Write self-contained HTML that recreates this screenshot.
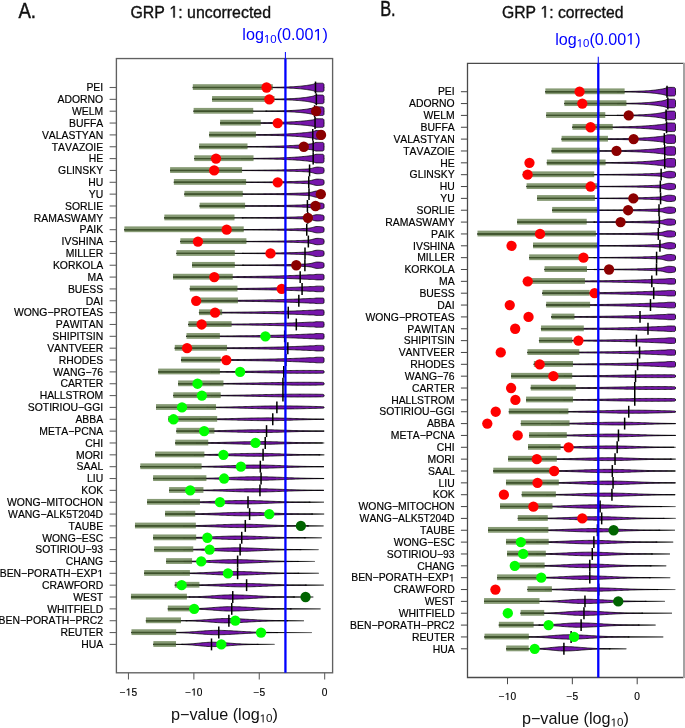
<!DOCTYPE html>
<html><head><meta charset="utf-8"><style>
html,body{margin:0;padding:0;background:#fff;}
svg{display:block;will-change:transform;}
text{font-family:"Liberation Sans",sans-serif;font-kerning:none;}
.yl{font-size:10.4px;text-anchor:end;fill:#000;stroke:#000;stroke-width:0.18px;}
.xl{font-size:10.2px;text-anchor:middle;fill:#000;stroke:#000;stroke-width:0.15px;}
</style></head><body>
<svg width="685" height="728" viewBox="0 0 685 728">
<defs><linearGradient id="tg" x1="0" y1="0" x2="1" y2="0"><stop offset="0" stop-color="#111"/><stop offset="0.5" stop-color="#3a3a3a"/><stop offset="1" stop-color="#7a7a7a"/></linearGradient></defs>
<rect width="685" height="728" fill="#fff"/>
<text x="18.40" y="17.90" fill="#111" textLength="17.60" lengthAdjust="spacingAndGlyphs" stroke="#111" stroke-width="0.45"><tspan font-size="21.5">A.</tspan></text>
<text x="130.50" y="17.50" fill="#111" textLength="140.50" lengthAdjust="spacingAndGlyphs" stroke="#111" stroke-width="0.35"><tspan font-size="16.6">GRP  : uncorrected</tspan></text><path d="M515,0L515,1237L197,1010L197,1180L530,1409L696,1409L696,0Z" transform="translate(169.37,17.50) scale(0.00776,-0.00811)" fill="#111" stroke="#111" stroke-width="0.35" vector-effect="non-scaling-stroke"/>
<text x="380.20" y="15.80" fill="#111" textLength="15.50" lengthAdjust="spacingAndGlyphs" stroke="#111" stroke-width="0.45"><tspan font-size="21.5">B.</tspan></text>
<text x="502.00" y="17.50" fill="#111" textLength="121.50" lengthAdjust="spacingAndGlyphs" stroke="#111" stroke-width="0.35"><tspan font-size="16.6">GRP  : corrected</tspan></text><path d="M515,0L515,1237L197,1010L197,1180L530,1409L696,1409L696,0Z" transform="translate(540.45,17.50) scale(0.00768,-0.00811)" fill="#111" stroke="#111" stroke-width="0.35" vector-effect="non-scaling-stroke"/>
<text x="242.30" y="40.30" fill="#0000ff" textLength="85.60" lengthAdjust="spacingAndGlyphs" ><tspan font-size="16.4">log</tspan><tspan font-size="11.6" dy="2.60"> 0</tspan><tspan font-size="16.4" dy="-2.60">(0.00 )</tspan></text><path d="M515,0L515,1237L197,1010L197,1180L530,1409L696,1409L696,0Z" transform="translate(263.90,42.90) scale(0.00559,-0.00566)" fill="#0000ff"  vector-effect="non-scaling-stroke"/><path d="M515,0L515,1237L197,1010L197,1180L530,1409L696,1409L696,0Z" transform="translate(313.51,40.30) scale(0.00790,-0.00801)" fill="#0000ff"  vector-effect="non-scaling-stroke"/>
<text x="555.20" y="44.60" fill="#0000ff" textLength="85.40" lengthAdjust="spacingAndGlyphs" ><tspan font-size="16.4">log</tspan><tspan font-size="11.6" dy="2.60"> 0</tspan><tspan font-size="16.4" dy="-2.60">(0.00 )</tspan></text><path d="M515,0L515,1237L197,1010L197,1180L530,1409L696,1409L696,0Z" transform="translate(576.74,47.20) scale(0.00558,-0.00566)" fill="#0000ff"  vector-effect="non-scaling-stroke"/><path d="M515,0L515,1237L197,1010L197,1180L530,1409L696,1409L696,0Z" transform="translate(626.24,44.60) scale(0.00788,-0.00801)" fill="#0000ff"  vector-effect="non-scaling-stroke"/>
<text x="171.00" y="720.20" fill="#111" ><tspan font-size="16.2">p−value (log</tspan><tspan font-size="11.6" dy="2.20"> 0</tspan><tspan font-size="16.2" dy="-2.20">)</tspan></text><path d="M515,0L515,1237L197,1010L197,1180L530,1409L696,1409L696,0Z" transform="translate(259.71,722.40) scale(0.00566,-0.00566)" fill="#111"  vector-effect="non-scaling-stroke"/>
<text x="521.90" y="724.20" fill="#111" ><tspan font-size="16.2">p−value (log</tspan><tspan font-size="11.6" dy="2.20"> 0</tspan><tspan font-size="16.2" dy="-2.20">)</tspan></text><path d="M515,0L515,1237L197,1010L197,1180L530,1409L696,1409L696,0Z" transform="translate(610.61,726.40) scale(0.00566,-0.00566)" fill="#111"  vector-effect="non-scaling-stroke"/>
<rect x="116.4" y="58.55" width="216.20" height="614.25" fill="none" stroke="#606060" stroke-width="1.35"/>
<line x1="109.6" y1="87.50" x2="116.4" y2="87.50" stroke="#606060" stroke-width="1.08"/>
<text x="86.44" y="91.25" fill="#000" stroke="#000" stroke-width="0.18"><tspan font-size="10.4">PEI</tspan></text>
<line x1="109.6" y1="99.35" x2="116.4" y2="99.35" stroke="#606060" stroke-width="1.08"/>
<text x="57.55" y="103.10" fill="#000" stroke="#000" stroke-width="0.18"><tspan font-size="10.4">ADORNO</tspan></text>
<line x1="109.6" y1="111.20" x2="116.4" y2="111.20" stroke="#606060" stroke-width="1.08"/>
<text x="72.00" y="114.95" fill="#000" stroke="#000" stroke-width="0.18"><tspan font-size="10.4">WELM</tspan></text>
<line x1="109.6" y1="123.05" x2="116.4" y2="123.05" stroke="#606060" stroke-width="1.08"/>
<text x="69.11" y="126.80" fill="#000" stroke="#000" stroke-width="0.18"><tspan font-size="10.4">BUFFA</tspan></text>
<line x1="109.6" y1="134.90" x2="116.4" y2="134.90" stroke="#606060" stroke-width="1.08"/>
<text x="41.93" y="138.65" fill="#000" stroke="#000" stroke-width="0.18"><tspan font-size="10.4">VALASTYAN</tspan></text>
<line x1="109.6" y1="146.75" x2="116.4" y2="146.75" stroke="#606060" stroke-width="1.08"/>
<text x="51.77" y="150.50" fill="#000" stroke="#000" stroke-width="0.18"><tspan font-size="10.4">TAVAZOIE</tspan></text>
<line x1="109.6" y1="158.59" x2="116.4" y2="158.59" stroke="#606060" stroke-width="1.08"/>
<text x="88.75" y="162.34" fill="#000" stroke="#000" stroke-width="0.18"><tspan font-size="10.4">HE</tspan></text>
<line x1="109.6" y1="170.44" x2="116.4" y2="170.44" stroke="#606060" stroke-width="1.08"/>
<text x="58.12" y="174.19" fill="#000" stroke="#000" stroke-width="0.18"><tspan font-size="10.4">GLINSKY</tspan></text>
<line x1="109.6" y1="182.29" x2="116.4" y2="182.29" stroke="#606060" stroke-width="1.08"/>
<text x="88.18" y="186.04" fill="#000" stroke="#000" stroke-width="0.18"><tspan font-size="10.4">HU</tspan></text>
<line x1="109.6" y1="194.14" x2="116.4" y2="194.14" stroke="#606060" stroke-width="1.08"/>
<text x="88.75" y="197.89" fill="#000" stroke="#000" stroke-width="0.18"><tspan font-size="10.4">YU</tspan></text>
<line x1="109.6" y1="205.99" x2="116.4" y2="205.99" stroke="#606060" stroke-width="1.08"/>
<text x="65.05" y="209.74" fill="#000" stroke="#000" stroke-width="0.18"><tspan font-size="10.4">SORLIE</tspan></text>
<line x1="109.6" y1="217.84" x2="116.4" y2="217.84" stroke="#606060" stroke-width="1.08"/>
<text x="33.86" y="221.59" fill="#000" stroke="#000" stroke-width="0.18"><tspan font-size="10.4">RAMASWAMY</tspan></text>
<line x1="109.6" y1="229.69" x2="116.4" y2="229.69" stroke="#606060" stroke-width="1.08"/>
<text x="79.50" y="233.44" fill="#000" stroke="#000" stroke-width="0.18"><tspan font-size="10.4">PAIK</tspan></text>
<line x1="109.6" y1="241.54" x2="116.4" y2="241.54" stroke="#606060" stroke-width="1.08"/>
<text x="61.59" y="245.29" fill="#000" stroke="#000" stroke-width="0.18"><tspan font-size="10.4">IVSHINA</tspan></text>
<line x1="109.6" y1="253.39" x2="116.4" y2="253.39" stroke="#606060" stroke-width="1.08"/>
<text x="65.63" y="257.14" fill="#000" stroke="#000" stroke-width="0.18"><tspan font-size="10.4">MILLER</tspan></text>
<line x1="109.6" y1="265.24" x2="116.4" y2="265.24" stroke="#606060" stroke-width="1.08"/>
<text x="52.92" y="268.99" fill="#000" stroke="#000" stroke-width="0.18"><tspan font-size="10.4">KORKOLA</tspan></text>
<line x1="109.6" y1="277.08" x2="116.4" y2="277.08" stroke="#606060" stroke-width="1.08"/>
<text x="87.60" y="280.83" fill="#000" stroke="#000" stroke-width="0.18"><tspan font-size="10.4">MA</tspan></text>
<line x1="109.6" y1="288.93" x2="116.4" y2="288.93" stroke="#606060" stroke-width="1.08"/>
<text x="67.94" y="292.68" fill="#000" stroke="#000" stroke-width="0.18"><tspan font-size="10.4">BUESS</tspan></text>
<line x1="109.6" y1="300.78" x2="116.4" y2="300.78" stroke="#606060" stroke-width="1.08"/>
<text x="85.86" y="304.53" fill="#000" stroke="#000" stroke-width="0.18"><tspan font-size="10.4">DAI</tspan></text>
<line x1="109.6" y1="312.63" x2="116.4" y2="312.63" stroke="#606060" stroke-width="1.08"/>
<text x="13.92" y="316.38" fill="#000" stroke="#000" stroke-width="0.18"><tspan font-size="10.4">WONG−PROTEAS</tspan></text>
<line x1="109.6" y1="324.48" x2="116.4" y2="324.48" stroke="#606060" stroke-width="1.08"/>
<text x="55.82" y="328.23" fill="#000" stroke="#000" stroke-width="0.18"><tspan font-size="10.4">PAWITAN</tspan></text>
<line x1="109.6" y1="336.33" x2="116.4" y2="336.33" stroke="#606060" stroke-width="1.08"/>
<text x="52.35" y="340.08" fill="#000" stroke="#000" stroke-width="0.18"><tspan font-size="10.4">SHIPITSIN</tspan></text>
<line x1="109.6" y1="348.18" x2="116.4" y2="348.18" stroke="#606060" stroke-width="1.08"/>
<text x="47.14" y="351.93" fill="#000" stroke="#000" stroke-width="0.18"><tspan font-size="10.4">VANTVEER</tspan></text>
<line x1="109.6" y1="360.03" x2="116.4" y2="360.03" stroke="#606060" stroke-width="1.08"/>
<text x="58.71" y="363.78" fill="#000" stroke="#000" stroke-width="0.18"><tspan font-size="10.4">RHODES</tspan></text>
<line x1="109.6" y1="371.88" x2="116.4" y2="371.88" stroke="#606060" stroke-width="1.08"/>
<text x="53.21" y="375.63" fill="#000" stroke="#000" stroke-width="0.18"><tspan font-size="10.4">WANG−76</tspan></text>
<line x1="109.6" y1="383.73" x2="116.4" y2="383.73" stroke="#606060" stroke-width="1.08"/>
<text x="60.44" y="387.48" fill="#000" stroke="#000" stroke-width="0.18"><tspan font-size="10.4">CARTER</tspan></text>
<line x1="109.6" y1="395.57" x2="116.4" y2="395.57" stroke="#606060" stroke-width="1.08"/>
<text x="39.63" y="399.32" fill="#000" stroke="#000" stroke-width="0.18"><tspan font-size="10.4">HALLSTROM</tspan></text>
<line x1="109.6" y1="407.42" x2="116.4" y2="407.42" stroke="#606060" stroke-width="1.08"/>
<text x="27.79" y="411.17" fill="#000" stroke="#000" stroke-width="0.18"><tspan font-size="10.4">SOTIRIOU−GGI</tspan></text>
<line x1="109.6" y1="419.27" x2="116.4" y2="419.27" stroke="#606060" stroke-width="1.08"/>
<text x="75.45" y="423.02" fill="#000" stroke="#000" stroke-width="0.18"><tspan font-size="10.4">ABBA</tspan></text>
<line x1="109.6" y1="431.12" x2="116.4" y2="431.12" stroke="#606060" stroke-width="1.08"/>
<text x="39.34" y="434.87" fill="#000" stroke="#000" stroke-width="0.18"><tspan font-size="10.4">META−PCNA</tspan></text>
<line x1="109.6" y1="442.97" x2="116.4" y2="442.97" stroke="#606060" stroke-width="1.08"/>
<text x="85.29" y="446.72" fill="#000" stroke="#000" stroke-width="0.18"><tspan font-size="10.4">CHI</tspan></text>
<line x1="109.6" y1="454.82" x2="116.4" y2="454.82" stroke="#606060" stroke-width="1.08"/>
<text x="76.05" y="458.57" fill="#000" stroke="#000" stroke-width="0.18"><tspan font-size="10.4">MORI</tspan></text>
<line x1="109.6" y1="466.67" x2="116.4" y2="466.67" stroke="#606060" stroke-width="1.08"/>
<text x="76.61" y="470.42" fill="#000" stroke="#000" stroke-width="0.18"><tspan font-size="10.4">SAAL</tspan></text>
<line x1="109.6" y1="478.52" x2="116.4" y2="478.52" stroke="#606060" stroke-width="1.08"/>
<text x="87.02" y="482.27" fill="#000" stroke="#000" stroke-width="0.18"><tspan font-size="10.4">LIU</tspan></text>
<line x1="109.6" y1="490.37" x2="116.4" y2="490.37" stroke="#606060" stroke-width="1.08"/>
<text x="81.24" y="494.12" fill="#000" stroke="#000" stroke-width="0.18"><tspan font-size="10.4">KOK</tspan></text>
<line x1="109.6" y1="502.22" x2="116.4" y2="502.22" stroke="#606060" stroke-width="1.08"/>
<text x="7.01" y="505.97" fill="#000" stroke="#000" stroke-width="0.18"><tspan font-size="10.4">WONG−MITOCHON</tspan></text>
<line x1="109.6" y1="514.06" x2="116.4" y2="514.06" stroke="#606060" stroke-width="1.08"/>
<text x="8.12" y="517.81" fill="#000" stroke="#000" stroke-width="0.18"><tspan font-size="10.4">WANG−ALK5T204D</tspan></text>
<line x1="109.6" y1="525.91" x2="116.4" y2="525.91" stroke="#606060" stroke-width="1.08"/>
<text x="68.53" y="529.66" fill="#000" stroke="#000" stroke-width="0.18"><tspan font-size="10.4">TAUBE</tspan></text>
<line x1="109.6" y1="537.76" x2="116.4" y2="537.76" stroke="#606060" stroke-width="1.08"/>
<text x="42.24" y="541.51" fill="#000" stroke="#000" stroke-width="0.18"><tspan font-size="10.4">WONG−ESC</tspan></text>
<line x1="109.6" y1="549.61" x2="116.4" y2="549.61" stroke="#606060" stroke-width="1.08"/>
<text x="35.29" y="553.36" fill="#000" stroke="#000" stroke-width="0.18"><tspan font-size="10.4">SOTIRIOU−93</tspan></text>
<line x1="109.6" y1="561.46" x2="116.4" y2="561.46" stroke="#606060" stroke-width="1.08"/>
<text x="65.64" y="565.21" fill="#000" stroke="#000" stroke-width="0.18"><tspan font-size="10.4">CHANG</tspan></text>
<line x1="109.6" y1="573.31" x2="116.4" y2="573.31" stroke="#606060" stroke-width="1.08"/>
<text x="-0.26" y="577.06" fill="#000" stroke="#000" stroke-width="0.18"><tspan font-size="10.4">BEN−PORATH−EXP </tspan></text><path d="M515,0L515,1237L197,1010L197,1180L530,1409L696,1409L696,0Z" transform="translate(97.42,577.06) scale(0.00508,-0.00508)" fill="#000" stroke="#000" stroke-width="0.18" vector-effect="non-scaling-stroke"/>
<line x1="109.6" y1="585.16" x2="116.4" y2="585.16" stroke="#606060" stroke-width="1.08"/>
<text x="41.96" y="588.91" fill="#000" stroke="#000" stroke-width="0.18"><tspan font-size="10.4">CRAWFORD</tspan></text>
<line x1="109.6" y1="597.01" x2="116.4" y2="597.01" stroke="#606060" stroke-width="1.08"/>
<text x="73.16" y="600.76" fill="#000" stroke="#000" stroke-width="0.18"><tspan font-size="10.4">WEST</tspan></text>
<line x1="109.6" y1="608.86" x2="116.4" y2="608.86" stroke="#606060" stroke-width="1.08"/>
<text x="47.16" y="612.61" fill="#000" stroke="#000" stroke-width="0.18"><tspan font-size="10.4">WHITFIELD</tspan></text>
<line x1="109.6" y1="620.71" x2="116.4" y2="620.71" stroke="#606060" stroke-width="1.08"/>
<text x="-1.41" y="624.46" fill="#000" stroke="#000" stroke-width="0.18"><tspan font-size="10.4">BEN−PORATH−PRC2</tspan></text>
<line x1="109.6" y1="632.55" x2="116.4" y2="632.55" stroke="#606060" stroke-width="1.08"/>
<text x="60.44" y="636.30" fill="#000" stroke="#000" stroke-width="0.18"><tspan font-size="10.4">REUTER</tspan></text>
<line x1="109.6" y1="644.40" x2="116.4" y2="644.40" stroke="#606060" stroke-width="1.08"/>
<text x="81.24" y="648.15" fill="#000" stroke="#000" stroke-width="0.18"><tspan font-size="10.4">HUA</tspan></text>
<line x1="128.47" y1="672.8" x2="128.47" y2="679.50" stroke="#606060" stroke-width="1.08"/>
<text x="119.82" y="695.60" fill="#000" stroke="#000" stroke-width="0.15"><tspan font-size="10.2">− 5</tspan></text><path d="M515,0L515,1237L197,1010L197,1180L530,1409L696,1409L696,0Z" transform="translate(125.78,695.60) scale(0.00498,-0.00498)" fill="#000" stroke="#000" stroke-width="0.15" vector-effect="non-scaling-stroke"/>
<line x1="193.87" y1="672.8" x2="193.87" y2="679.50" stroke="#606060" stroke-width="1.08"/>
<text x="185.22" y="695.60" fill="#000" stroke="#000" stroke-width="0.15"><tspan font-size="10.2">− 0</tspan></text><path d="M515,0L515,1237L197,1010L197,1180L530,1409L696,1409L696,0Z" transform="translate(191.18,695.60) scale(0.00498,-0.00498)" fill="#000" stroke="#000" stroke-width="0.15" vector-effect="non-scaling-stroke"/>
<line x1="259.27" y1="672.8" x2="259.27" y2="679.50" stroke="#606060" stroke-width="1.08"/>
<text x="253.46" y="695.60" fill="#000" stroke="#000" stroke-width="0.15"><tspan font-size="10.2">−5</tspan></text>
<line x1="324.67" y1="672.8" x2="324.67" y2="679.50" stroke="#606060" stroke-width="1.08"/>
<text x="321.83" y="695.60" fill="#000" stroke="#000" stroke-width="0.15"><tspan font-size="10.2">0</tspan></text>
<g stroke="#383838" stroke-width="1.0"><line x1="192.83" y1="87.50" x2="324.28" y2="87.50"/><line x1="212.06" y1="99.35" x2="324.28" y2="99.35"/><line x1="193.63" y1="111.20" x2="324.28" y2="111.20"/><line x1="220.14" y1="123.05" x2="324.28" y2="123.05"/><line x1="209.19" y1="134.90" x2="324.28" y2="134.90"/><line x1="199.15" y1="146.75" x2="324.28" y2="146.75"/><line x1="194.33" y1="158.59" x2="324.28" y2="158.59"/><line x1="170.10" y1="170.44" x2="324.28" y2="170.44"/><line x1="173.90" y1="182.29" x2="324.28" y2="182.29"/><line x1="184.44" y1="194.14" x2="324.28" y2="194.14"/><line x1="199.70" y1="205.99" x2="324.28" y2="205.99"/><line x1="164.36" y1="217.84" x2="324.28" y2="217.84"/><line x1="124.39" y1="229.69" x2="324.28" y2="229.69"/><line x1="180.37" y1="241.54" x2="324.28" y2="241.54"/><line x1="176.51" y1="253.39" x2="324.28" y2="253.39"/><line x1="192.02" y1="265.24" x2="324.28" y2="265.24"/><line x1="173.00" y1="277.08" x2="324.28" y2="277.08"/><line x1="189.91" y1="288.93" x2="324.28" y2="288.93"/><line x1="193.66" y1="300.78" x2="324.28" y2="300.78"/><line x1="199.05" y1="312.63" x2="324.28" y2="312.63"/><line x1="188.46" y1="324.48" x2="324.28" y2="324.48"/><line x1="186.50" y1="336.33" x2="324.28" y2="336.33"/><line x1="174.80" y1="348.18" x2="324.28" y2="348.18"/><line x1="181.23" y1="360.03" x2="324.28" y2="360.03"/><line x1="158.23" y1="371.88" x2="324.28" y2="371.88"/><line x1="178.11" y1="383.73" x2="324.28" y2="383.73"/><line x1="173.34" y1="395.57" x2="324.28" y2="395.57"/><line x1="156.02" y1="407.42" x2="324.28" y2="407.42"/><line x1="168.12" y1="419.27" x2="324.28" y2="419.27"/><line x1="176.41" y1="431.12" x2="324.28" y2="431.12"/><line x1="175.30" y1="442.97" x2="324.28" y2="442.97"/><line x1="155.22" y1="454.82" x2="324.28" y2="454.82"/><line x1="140.31" y1="466.67" x2="323.98" y2="466.67"/><line x1="153.11" y1="478.52" x2="324.13" y2="478.52"/><line x1="169.08" y1="490.37" x2="323.98" y2="490.37"/><line x1="147.08" y1="502.22" x2="323.98" y2="502.22"/><line x1="165.06" y1="514.06" x2="324.13" y2="514.06"/><line x1="134.98" y1="525.91" x2="323.52" y2="525.91"/><line x1="153.11" y1="537.76" x2="321.72" y2="537.76"/><line x1="154.16" y1="549.61" x2="318.45" y2="549.61"/><line x1="166.10" y1="561.46" x2="314.69" y2="561.46"/><line x1="144.17" y1="573.31" x2="318.70" y2="573.31"/><line x1="174.85" y1="585.16" x2="323.78" y2="585.16"/><line x1="130.97" y1="597.01" x2="313.28" y2="597.01"/><line x1="167.87" y1="608.86" x2="320.51" y2="608.86"/><line x1="145.93" y1="620.71" x2="303.94" y2="620.71"/><line x1="131.47" y1="632.55" x2="311.67" y2="632.55"/><line x1="153.36" y1="644.40" x2="274.47" y2="644.40"/></g>
<g stroke="#000" stroke-width="1.4"><line x1="192.83" y1="87.50" x2="272.76" y2="87.50"/><line x1="212.06" y1="99.35" x2="274.54" y2="99.35"/><line x1="193.63" y1="111.20" x2="253.23" y2="111.20"/><line x1="220.14" y1="123.05" x2="260.76" y2="123.05"/><line x1="209.19" y1="134.90" x2="255.94" y2="134.90"/><line x1="199.15" y1="146.75" x2="247.50" y2="146.75"/><line x1="194.33" y1="158.59" x2="253.53" y2="158.59"/><line x1="170.10" y1="170.44" x2="242.08" y2="170.44"/><line x1="173.90" y1="182.29" x2="246.10" y2="182.29"/><line x1="184.44" y1="194.14" x2="242.79" y2="194.14"/><line x1="199.70" y1="205.99" x2="245.09" y2="205.99"/><line x1="164.36" y1="217.84" x2="234.50" y2="217.84"/><line x1="124.39" y1="229.69" x2="243.74" y2="229.69"/><line x1="180.37" y1="241.54" x2="246.40" y2="241.54"/><line x1="176.51" y1="253.39" x2="234.80" y2="253.39"/><line x1="192.02" y1="265.24" x2="234.80" y2="265.24"/><line x1="173.00" y1="277.08" x2="232.74" y2="277.08"/><line x1="189.91" y1="288.93" x2="237.46" y2="288.93"/><line x1="193.66" y1="300.78" x2="237.91" y2="300.78"/><line x1="199.05" y1="312.63" x2="222.15" y2="312.63"/><line x1="188.46" y1="324.48" x2="231.59" y2="324.48"/><line x1="186.50" y1="336.33" x2="219.89" y2="336.33"/><line x1="174.80" y1="348.18" x2="227.02" y2="348.18"/><line x1="181.23" y1="360.03" x2="220.69" y2="360.03"/><line x1="158.23" y1="371.88" x2="219.89" y2="371.88"/><line x1="178.11" y1="383.73" x2="223.46" y2="383.73"/><line x1="173.34" y1="395.57" x2="220.69" y2="395.57"/><line x1="156.02" y1="407.42" x2="216.02" y2="407.42"/><line x1="168.12" y1="419.27" x2="217.18" y2="419.27"/><line x1="176.41" y1="431.12" x2="214.42" y2="431.12"/><line x1="175.30" y1="442.97" x2="208.24" y2="442.97"/><line x1="155.22" y1="454.82" x2="204.37" y2="454.82"/><line x1="140.31" y1="466.67" x2="201.60" y2="466.67"/><line x1="153.11" y1="478.52" x2="206.38" y2="478.52"/><line x1="169.08" y1="490.37" x2="203.42" y2="490.37"/><line x1="147.08" y1="502.22" x2="199.96" y2="502.22"/><line x1="165.06" y1="514.06" x2="195.24" y2="514.06"/><line x1="134.98" y1="525.91" x2="195.84" y2="525.91"/><line x1="153.11" y1="537.76" x2="196.19" y2="537.76"/><line x1="154.16" y1="549.61" x2="193.28" y2="549.61"/><line x1="166.10" y1="561.46" x2="192.07" y2="561.46"/><line x1="144.17" y1="573.31" x2="189.90" y2="573.31"/><line x1="174.85" y1="585.16" x2="199.40" y2="585.16"/><line x1="130.97" y1="597.01" x2="186.90" y2="597.01"/><line x1="167.87" y1="608.86" x2="191.67" y2="608.86"/><line x1="145.93" y1="620.71" x2="180.98" y2="620.71"/><line x1="131.47" y1="632.55" x2="176.16" y2="632.55"/><line x1="153.36" y1="644.40" x2="176.01" y2="644.40"/></g>
<g fill="url(#tg)"><rect x="318.52" y="454.32" width="5.76" height="1.0"/><rect x="308.73" y="501.72" width="15.25" height="1.0"/><rect x="311.26" y="513.56" width="12.87" height="1.0"/><rect x="307.11" y="525.41" width="16.42" height="1.0"/><rect x="304.09" y="537.26" width="17.62" height="1.0"/><rect x="299.60" y="549.11" width="18.86" height="1.0"/><rect x="297.05" y="560.96" width="17.64" height="1.0"/><rect x="297.52" y="572.81" width="21.18" height="1.0"/><rect x="305.05" y="584.66" width="18.73" height="1.0"/><rect x="293.22" y="596.51" width="20.07" height="1.0"/><rect x="289.93" y="608.36" width="30.58" height="1.0"/><rect x="286.31" y="620.21" width="17.63" height="1.0"/><rect x="276.29" y="632.05" width="35.38" height="1.0"/><rect x="256.85" y="643.90" width="17.62" height="1.0"/></g>
<g stroke="#141414" stroke-width="1.0"><line x1="192.83" y1="87.50" x2="267.25" y2="87.50"/><line x1="212.06" y1="99.35" x2="267.40" y2="99.35"/><line x1="193.63" y1="111.20" x2="267.08" y2="111.20"/><line x1="220.14" y1="123.05" x2="242.44" y2="123.05"/><line x1="209.19" y1="134.90" x2="242.23" y2="134.90"/><line x1="199.15" y1="146.75" x2="242.65" y2="146.75"/><line x1="194.33" y1="158.59" x2="242.59" y2="158.59"/><line x1="170.10" y1="170.44" x2="241.07" y2="170.44"/><line x1="173.90" y1="182.29" x2="243.57" y2="182.29"/><line x1="184.44" y1="194.14" x2="243.51" y2="194.14"/><line x1="199.70" y1="205.99" x2="243.42" y2="205.99"/><line x1="164.36" y1="217.84" x2="243.54" y2="217.84"/><line x1="124.39" y1="229.69" x2="243.18" y2="229.69"/><line x1="180.37" y1="241.54" x2="243.22" y2="241.54"/><line x1="176.51" y1="253.39" x2="243.71" y2="253.39"/><line x1="192.02" y1="265.24" x2="243.80" y2="265.24"/><line x1="173.00" y1="277.08" x2="177.55" y2="277.08"/><line x1="189.91" y1="288.93" x2="190.91" y2="288.93"/><line x1="193.66" y1="300.78" x2="194.66" y2="300.78"/><line x1="199.05" y1="312.63" x2="200.05" y2="312.63"/><line x1="188.46" y1="324.48" x2="189.46" y2="324.48"/><line x1="186.50" y1="336.33" x2="187.50" y2="336.33"/><line x1="174.80" y1="348.18" x2="178.17" y2="348.18"/><line x1="181.23" y1="360.03" x2="182.23" y2="360.03"/><line x1="158.23" y1="371.88" x2="212.60" y2="371.88"/><line x1="178.11" y1="383.73" x2="211.20" y2="383.73"/><line x1="173.34" y1="395.57" x2="212.37" y2="395.57"/><line x1="156.02" y1="407.42" x2="207.97" y2="407.42"/><line x1="168.12" y1="419.27" x2="201.06" y2="419.27"/><line x1="176.41" y1="431.12" x2="196.33" y2="431.12"/><line x1="175.30" y1="442.97" x2="197.58" y2="442.97"/><line x1="155.22" y1="454.82" x2="195.51" y2="454.82"/><line x1="140.31" y1="466.67" x2="195.81" y2="466.67"/><line x1="153.11" y1="478.52" x2="195.68" y2="478.52"/><line x1="169.08" y1="490.37" x2="196.09" y2="490.37"/><line x1="147.08" y1="502.22" x2="184.89" y2="502.22"/><line x1="165.06" y1="514.06" x2="187.43" y2="514.06"/><line x1="134.98" y1="525.91" x2="184.60" y2="525.91"/><line x1="153.11" y1="537.76" x2="184.98" y2="537.76"/><line x1="154.16" y1="549.61" x2="184.93" y2="549.61"/><line x1="166.10" y1="561.46" x2="184.93" y2="561.46"/><line x1="144.17" y1="573.31" x2="184.35" y2="573.31"/><line x1="174.85" y1="585.16" x2="193.58" y2="585.16"/><line x1="130.97" y1="597.01" x2="190.35" y2="597.01"/><line x1="167.87" y1="608.86" x2="191.35" y2="608.86"/><line x1="145.93" y1="620.71" x2="187.32" y2="620.71"/><line x1="131.47" y1="632.55" x2="177.52" y2="632.55"/><line x1="153.36" y1="644.40" x2="182.86" y2="644.40"/></g>
<g fill="#7616ab" stroke="#000" stroke-width="0.75" stroke-linejoin="round"><polygon points="265.6,87.50 266.2,87.37 267.4,87.36 268.6,87.35 269.8,87.34 271.0,87.32 272.2,87.31 273.4,87.29 274.5,87.27 275.7,87.26 276.9,87.23 278.1,87.21 279.3,87.19 280.5,87.16 281.6,87.13 282.8,87.10 284.0,87.07 285.2,87.03 286.4,86.99 287.6,86.95 288.8,86.90 289.9,86.85 291.1,86.79 292.3,86.73 293.5,86.67 294.7,86.60 295.9,86.52 297.0,86.44 298.2,86.34 299.4,86.25 300.6,86.14 301.8,86.02 303.0,85.90 304.1,85.76 305.3,85.61 306.5,85.45 307.7,85.28 308.9,85.09 310.1,84.89 311.3,84.66 312.4,84.41 313.6,84.14 314.8,83.54 316.0,83.17 317.2,83.17 318.4,83.17 319.5,83.17 320.7,83.17 321.3,83.17 321.5,83.17 321.8,83.17 322.0,83.17 322.3,83.18 322.5,83.20 322.8,83.25 323.0,83.33 323.3,83.46 323.5,83.66 323.8,83.99 324.0,84.57 324.0,90.43 323.8,91.01 323.5,91.34 323.3,91.54 323.0,91.67 322.8,91.75 322.5,91.80 322.3,91.82 322.0,91.83 321.8,91.83 321.5,91.83 321.3,91.83 320.7,91.83 319.5,91.83 318.4,91.83 317.2,91.83 316.0,91.83 314.8,91.46 313.6,90.86 312.4,90.59 311.3,90.34 310.1,90.11 308.9,89.91 307.7,89.72 306.5,89.55 305.3,89.39 304.1,89.24 303.0,89.10 301.8,88.98 300.6,88.86 299.4,88.75 298.2,88.66 297.0,88.56 295.9,88.48 294.7,88.40 293.5,88.33 292.3,88.27 291.1,88.21 289.9,88.15 288.8,88.10 287.6,88.05 286.4,88.01 285.2,87.97 284.0,87.93 282.8,87.90 281.6,87.87 280.5,87.84 279.3,87.81 278.1,87.79 276.9,87.77 275.7,87.74 274.5,87.73 273.4,87.71 272.2,87.69 271.0,87.68 269.8,87.66 268.6,87.65 267.4,87.64 266.2,87.63 265.6,87.50"/><polygon points="265.8,99.35 266.4,99.22 267.6,99.21 268.8,99.20 269.9,99.18 271.1,99.17 272.3,99.16 273.5,99.14 274.7,99.12 275.8,99.10 277.0,99.08 278.2,99.06 279.4,99.03 280.6,99.01 281.8,98.98 282.9,98.95 284.1,98.91 285.3,98.88 286.5,98.84 287.7,98.79 288.8,98.74 290.0,98.69 291.2,98.64 292.4,98.58 293.6,98.51 294.7,98.44 295.9,98.36 297.1,98.28 298.3,98.19 299.5,98.09 300.7,97.98 301.8,97.87 303.0,97.74 304.2,97.61 305.4,97.46 306.6,97.30 307.7,97.12 308.9,96.93 310.1,96.73 311.3,96.51 312.5,96.26 313.6,95.98 314.8,95.38 316.0,95.02 317.2,95.02 318.4,95.02 319.6,95.02 320.7,95.02 321.3,95.02 321.5,95.02 321.8,95.02 322.0,95.02 322.3,95.03 322.5,95.05 322.8,95.10 323.0,95.18 323.3,95.31 323.5,95.51 323.8,95.84 324.0,96.42 324.0,102.28 323.8,102.86 323.5,103.19 323.3,103.39 323.0,103.52 322.8,103.60 322.5,103.65 322.3,103.67 322.0,103.68 321.8,103.68 321.5,103.68 321.3,103.68 320.7,103.68 319.6,103.68 318.4,103.68 317.2,103.68 316.0,103.68 314.8,103.32 313.6,102.72 312.5,102.44 311.3,102.19 310.1,101.97 308.9,101.76 307.7,101.58 306.6,101.40 305.4,101.24 304.2,101.09 303.0,100.96 301.8,100.83 300.7,100.71 299.5,100.61 298.3,100.51 297.1,100.42 295.9,100.33 294.7,100.26 293.6,100.19 292.4,100.12 291.2,100.06 290.0,100.00 288.8,99.95 287.7,99.91 286.5,99.86 285.3,99.82 284.1,99.79 282.9,99.75 281.8,99.72 280.6,99.69 279.4,99.66 278.2,99.64 277.0,99.62 275.8,99.60 274.7,99.58 273.5,99.56 272.3,99.54 271.1,99.53 269.9,99.51 268.8,99.50 267.6,99.49 266.4,99.48 265.8,99.35"/><polygon points="265.5,111.20 266.1,111.07 267.3,111.06 268.5,111.05 269.6,111.04 270.8,111.02 272.0,111.01 273.2,110.99 274.4,110.97 275.6,110.96 276.8,110.93 278.0,110.91 279.1,110.89 280.3,110.86 281.5,110.83 282.7,110.80 283.9,110.77 285.1,110.73 286.3,110.69 287.5,110.65 288.6,110.60 289.8,110.55 291.0,110.50 292.2,110.44 293.4,110.37 294.6,110.30 295.8,110.22 297.0,110.14 298.1,110.05 299.3,109.95 300.5,109.84 301.7,109.73 302.9,109.60 304.1,109.47 305.3,109.32 306.5,109.16 307.7,108.99 308.8,108.80 310.0,108.59 311.2,108.37 312.4,108.12 313.6,107.85 314.8,107.26 316.0,106.87 317.2,106.87 318.3,106.87 319.5,106.87 320.7,106.87 321.3,106.87 321.5,106.87 321.8,106.87 322.0,106.87 322.3,106.88 322.5,106.90 322.8,106.94 323.0,107.02 323.3,107.15 323.5,107.36 323.8,107.69 324.0,108.27 324.0,114.12 323.8,114.70 323.5,115.03 323.3,115.24 323.0,115.37 322.8,115.45 322.5,115.50 322.3,115.52 322.0,115.52 321.8,115.52 321.5,115.52 321.3,115.52 320.7,115.52 319.5,115.52 318.3,115.52 317.2,115.52 316.0,115.52 314.8,115.14 313.6,114.55 312.4,114.28 311.2,114.03 310.0,113.80 308.8,113.60 307.7,113.41 306.5,113.24 305.3,113.08 304.1,112.93 302.9,112.79 301.7,112.67 300.5,112.55 299.3,112.45 298.1,112.35 297.0,112.26 295.8,112.17 294.6,112.10 293.4,112.03 292.2,111.96 291.0,111.90 289.8,111.85 288.6,111.79 287.5,111.75 286.3,111.70 285.1,111.66 283.9,111.63 282.7,111.59 281.5,111.56 280.3,111.53 279.1,111.51 278.0,111.48 276.8,111.46 275.6,111.44 274.4,111.42 273.2,111.40 272.0,111.39 270.8,111.37 269.6,111.36 268.5,111.35 267.3,111.33 266.1,111.32 265.5,111.20"/><polygon points="240.8,123.05 241.4,122.92 242.6,122.92 243.8,122.91 245.0,122.90 246.2,122.89 247.4,122.89 248.5,122.88 249.7,122.87 250.9,122.86 252.1,122.85 253.3,122.84 254.5,122.82 255.6,122.81 256.8,122.80 258.0,122.78 259.2,122.77 260.4,122.75 261.6,122.74 262.7,122.72 263.9,122.70 265.1,122.68 266.3,122.66 267.5,122.64 268.7,122.62 269.8,122.60 271.0,122.57 272.2,122.55 273.4,122.52 274.6,122.49 275.8,122.46 276.9,122.43 278.1,122.39 279.3,122.36 280.5,122.32 281.7,122.28 282.9,122.23 284.0,122.19 285.2,122.14 286.4,122.09 287.6,122.04 288.8,121.98 290.0,121.92 291.1,121.86 292.3,121.80 293.5,121.73 294.7,121.65 295.9,121.58 297.1,121.50 298.2,121.41 299.4,121.32 300.6,121.22 301.8,121.12 303.0,121.02 304.2,120.91 305.3,120.79 306.5,120.66 307.7,120.53 308.9,120.39 310.1,120.25 311.3,120.09 312.4,119.92 313.6,119.69 314.8,119.09 316.0,118.72 317.2,118.72 318.4,118.72 319.5,118.72 320.7,118.72 321.3,118.72 321.5,118.72 321.8,118.72 322.0,118.72 322.3,118.73 322.5,118.75 322.8,118.79 323.0,118.87 323.3,119.00 323.5,119.21 323.8,119.54 324.0,120.12 324.0,125.97 323.8,126.55 323.5,126.88 323.3,127.09 323.0,127.22 322.8,127.30 322.5,127.35 322.3,127.37 322.0,127.37 321.8,127.37 321.5,127.37 321.3,127.37 320.7,127.37 319.5,127.37 318.4,127.37 317.2,127.37 316.0,127.37 314.8,127.01 313.6,126.41 312.4,126.17 311.3,126.00 310.1,125.85 308.9,125.70 307.7,125.56 306.5,125.43 305.3,125.31 304.2,125.19 303.0,125.08 301.8,124.97 300.6,124.87 299.4,124.77 298.2,124.68 297.1,124.60 295.9,124.52 294.7,124.44 293.5,124.37 292.3,124.30 291.1,124.23 290.0,124.17 288.8,124.11 287.6,124.06 286.4,124.00 285.2,123.95 284.0,123.91 282.9,123.86 281.7,123.82 280.5,123.78 279.3,123.74 278.1,123.70 276.9,123.67 275.8,123.64 274.6,123.61 273.4,123.58 272.2,123.55 271.0,123.52 269.8,123.50 268.7,123.47 267.5,123.45 266.3,123.43 265.1,123.41 263.9,123.39 262.7,123.37 261.6,123.36 260.4,123.34 259.2,123.32 258.0,123.31 256.8,123.30 255.6,123.28 254.5,123.27 253.3,123.26 252.1,123.25 250.9,123.24 249.7,123.23 248.5,123.22 247.4,123.21 246.2,123.20 245.0,123.19 243.8,123.18 242.6,123.18 241.4,123.17 240.8,123.05"/><polygon points="240.6,134.90 241.2,134.77 242.4,134.77 243.6,134.76 244.8,134.75 246.0,134.74 247.2,134.74 248.3,134.73 249.5,134.72 250.7,134.71 251.9,134.70 253.1,134.69 254.3,134.67 255.5,134.66 256.7,134.65 257.8,134.64 259.0,134.62 260.2,134.61 261.4,134.59 262.6,134.57 263.8,134.55 265.0,134.54 266.1,134.52 267.3,134.49 268.5,134.47 269.7,134.45 270.9,134.42 272.1,134.40 273.3,134.37 274.4,134.34 275.6,134.31 276.8,134.28 278.0,134.24 279.2,134.21 280.4,134.17 281.6,134.13 282.8,134.09 283.9,134.04 285.1,133.99 286.3,133.94 287.5,133.89 288.7,133.84 289.9,133.78 291.1,133.72 292.2,133.65 293.4,133.58 294.6,133.51 295.8,133.43 297.0,133.35 298.2,133.26 299.4,133.17 300.5,133.08 301.7,132.98 302.9,132.87 304.1,132.76 305.3,132.64 306.5,132.52 307.7,132.38 308.9,132.25 310.0,132.10 311.2,131.94 312.4,131.77 313.6,131.54 314.8,130.95 316.0,130.57 317.2,130.57 318.3,130.57 319.5,130.57 320.7,130.57 321.3,130.57 321.5,130.57 321.8,130.57 322.0,130.57 322.3,130.58 322.5,130.60 322.8,130.64 323.0,130.72 323.3,130.85 323.5,131.06 323.8,131.39 324.0,131.97 324.0,137.82 323.8,138.40 323.5,138.73 323.3,138.94 323.0,139.07 322.8,139.15 322.5,139.19 322.3,139.22 322.0,139.22 321.8,139.22 321.5,139.22 321.3,139.22 320.7,139.22 319.5,139.22 318.3,139.22 317.2,139.22 316.0,139.22 314.8,138.84 313.6,138.25 312.4,138.02 311.2,137.85 310.0,137.69 308.9,137.55 307.7,137.41 306.5,137.28 305.3,137.15 304.1,137.03 302.9,136.92 301.7,136.81 300.5,136.71 299.4,136.62 298.2,136.53 297.0,136.44 295.8,136.36 294.6,136.28 293.4,136.21 292.2,136.14 291.1,136.08 289.9,136.01 288.7,135.96 287.5,135.90 286.3,135.85 285.1,135.80 283.9,135.75 282.8,135.71 281.6,135.66 280.4,135.62 279.2,135.58 278.0,135.55 276.8,135.51 275.6,135.48 274.4,135.45 273.3,135.42 272.1,135.39 270.9,135.37 269.7,135.34 268.5,135.32 267.3,135.30 266.1,135.28 265.0,135.26 263.8,135.24 262.6,135.22 261.4,135.20 260.2,135.19 259.0,135.17 257.8,135.16 256.7,135.14 255.5,135.13 254.3,135.12 253.1,135.11 251.9,135.10 250.7,135.08 249.5,135.07 248.3,135.07 247.2,135.06 246.0,135.05 244.8,135.04 243.6,135.03 242.4,135.03 241.2,135.02 240.6,134.90"/><polygon points="241.0,146.75 241.6,146.62 242.8,146.61 244.0,146.61 245.2,146.60 246.4,146.59 247.6,146.58 248.7,146.57 249.9,146.56 251.1,146.55 252.3,146.54 253.5,146.53 254.6,146.52 255.8,146.51 257.0,146.49 258.2,146.48 259.4,146.47 260.5,146.45 261.7,146.43 262.9,146.42 264.1,146.40 265.3,146.38 266.4,146.36 267.6,146.34 268.8,146.32 270.0,146.29 271.2,146.27 272.3,146.24 273.5,146.21 274.7,146.18 275.9,146.15 277.1,146.12 278.2,146.09 279.4,146.05 280.6,146.01 281.8,145.97 283.0,145.93 284.1,145.88 285.3,145.84 286.5,145.79 287.7,145.73 288.9,145.68 290.0,145.62 291.2,145.56 292.4,145.49 293.6,145.42 294.8,145.35 295.9,145.27 297.1,145.19 298.3,145.10 299.5,145.01 300.7,144.92 301.9,144.82 303.0,144.71 304.2,144.60 305.4,144.48 306.6,144.36 307.8,144.22 308.9,144.09 310.1,143.94 311.3,143.78 312.5,143.61 313.7,143.37 314.8,142.77 316.0,142.42 317.2,142.42 318.4,142.42 319.6,142.42 320.7,142.42 321.3,142.42 321.5,142.42 321.8,142.42 322.0,142.42 322.3,142.43 322.5,142.45 322.8,142.49 323.0,142.57 323.3,142.70 323.5,142.91 323.8,143.24 324.0,143.82 324.0,149.67 323.8,150.25 323.5,150.58 323.3,150.79 323.0,150.92 322.8,151.00 322.5,151.04 322.3,151.06 322.0,151.07 321.8,151.07 321.5,151.07 321.3,151.07 320.7,151.07 319.6,151.07 318.4,151.07 317.2,151.07 316.0,151.07 314.8,150.72 313.7,150.12 312.5,149.88 311.3,149.71 310.1,149.55 308.9,149.40 307.8,149.27 306.6,149.13 305.4,149.01 304.2,148.89 303.0,148.78 301.9,148.67 300.7,148.57 299.5,148.48 298.3,148.39 297.1,148.30 295.9,148.22 294.8,148.14 293.6,148.07 292.4,148.00 291.2,147.93 290.0,147.87 288.9,147.81 287.7,147.76 286.5,147.70 285.3,147.65 284.1,147.61 283.0,147.56 281.8,147.52 280.6,147.48 279.4,147.44 278.2,147.40 277.1,147.37 275.9,147.34 274.7,147.31 273.5,147.28 272.3,147.25 271.2,147.22 270.0,147.20 268.8,147.17 267.6,147.15 266.4,147.13 265.3,147.11 264.1,147.09 262.9,147.07 261.7,147.06 260.5,147.04 259.4,147.02 258.2,147.01 257.0,147.00 255.8,146.98 254.6,146.97 253.5,146.96 252.3,146.95 251.1,146.94 249.9,146.93 248.7,146.92 247.6,146.91 246.4,146.90 245.2,146.89 244.0,146.88 242.8,146.88 241.6,146.87 241.0,146.75"/><polygon points="241.0,158.59 241.6,158.47 242.8,158.46 243.9,158.46 245.1,158.45 246.3,158.44 247.5,158.43 248.7,158.42 249.9,158.41 251.0,158.40 252.2,158.39 253.4,158.38 254.6,158.37 255.8,158.36 256.9,158.34 258.1,158.33 259.3,158.32 260.5,158.30 261.7,158.28 262.8,158.27 264.0,158.25 265.2,158.23 266.4,158.21 267.6,158.19 268.8,158.17 269.9,158.14 271.1,158.12 272.3,158.09 273.5,158.06 274.7,158.03 275.8,158.00 277.0,157.97 278.2,157.94 279.4,157.90 280.6,157.86 281.8,157.82 282.9,157.78 284.1,157.73 285.3,157.69 286.5,157.64 287.7,157.58 288.8,157.53 290.0,157.47 291.2,157.41 292.4,157.34 293.6,157.27 294.7,157.20 295.9,157.12 297.1,157.04 298.3,156.95 299.5,156.86 300.7,156.77 301.8,156.67 303.0,156.56 304.2,156.45 305.4,156.33 306.6,156.21 307.7,156.07 308.9,155.94 310.1,155.79 311.3,155.63 312.5,155.46 313.6,155.23 314.8,154.62 316.0,154.27 317.2,154.27 318.4,154.27 319.6,154.27 320.7,154.27 321.3,154.27 321.5,154.27 321.8,154.27 322.0,154.27 322.3,154.27 322.5,154.30 322.8,154.34 323.0,154.42 323.3,154.55 323.5,154.76 323.8,155.09 324.0,155.67 324.0,161.52 323.8,162.10 323.5,162.43 323.3,162.64 323.0,162.77 322.8,162.85 322.5,162.89 322.3,162.91 322.0,162.92 321.8,162.92 321.5,162.92 321.3,162.92 320.7,162.92 319.6,162.92 318.4,162.92 317.2,162.92 316.0,162.92 314.8,162.56 313.6,161.96 312.5,161.72 311.3,161.55 310.1,161.40 308.9,161.25 307.7,161.11 306.6,160.98 305.4,160.86 304.2,160.74 303.0,160.63 301.8,160.52 300.7,160.42 299.5,160.32 298.3,160.23 297.1,160.15 295.9,160.07 294.7,159.99 293.6,159.92 292.4,159.85 291.2,159.78 290.0,159.72 288.8,159.66 287.7,159.61 286.5,159.55 285.3,159.50 284.1,159.45 282.9,159.41 281.8,159.37 280.6,159.33 279.4,159.29 278.2,159.25 277.0,159.22 275.8,159.19 274.7,159.15 273.5,159.12 272.3,159.10 271.1,159.07 269.9,159.05 268.8,159.02 267.6,159.00 266.4,158.98 265.2,158.96 264.0,158.94 262.8,158.92 261.7,158.90 260.5,158.89 259.3,158.87 258.1,158.86 256.9,158.84 255.8,158.83 254.6,158.82 253.4,158.81 252.2,158.80 251.0,158.79 249.9,158.78 248.7,158.77 247.5,158.76 246.3,158.75 245.1,158.74 243.9,158.73 242.8,158.73 241.6,158.72 241.0,158.59"/><polygon points="239.5,170.44 240.1,170.32 241.3,170.32 242.4,170.31 243.6,170.31 244.8,170.30 246.0,170.29 247.2,170.29 248.4,170.28 249.6,170.27 250.7,170.26 251.9,170.26 253.1,170.25 254.3,170.24 255.5,170.23 256.7,170.22 257.9,170.21 259.0,170.20 260.2,170.19 261.4,170.18 262.6,170.17 263.8,170.15 265.0,170.14 266.2,170.13 267.4,170.11 268.5,170.10 269.7,170.08 270.9,170.07 272.1,170.05 273.3,170.03 274.5,170.01 275.7,169.99 276.8,169.97 278.0,169.95 279.2,169.93 280.4,169.91 281.6,169.88 282.8,169.86 284.0,169.83 285.1,169.81 286.3,169.78 287.5,169.75 288.7,169.72 289.9,169.68 291.1,169.65 292.3,169.61 293.4,169.58 294.6,169.54 295.8,169.50 297.0,169.45 298.2,169.41 299.4,169.36 300.6,169.32 301.7,169.26 302.9,169.21 304.1,169.16 305.3,169.10 306.5,169.03 307.7,168.96 308.9,168.85 310.0,168.68 311.2,168.46 312.4,168.14 313.6,167.78 314.8,167.46 316.0,167.22 317.2,167.10 318.3,167.11 319.5,167.18 320.7,167.29 321.3,167.36 321.5,167.40 321.8,167.43 322.0,167.47 322.3,167.51 322.5,167.57 322.8,167.64 323.0,167.73 323.3,167.86 323.5,168.03 323.8,168.27 324.0,168.66 324.0,172.22 323.8,172.61 323.5,172.86 323.3,173.03 323.0,173.15 322.8,173.25 322.5,173.32 322.3,173.37 322.0,173.41 321.8,173.45 321.5,173.49 321.3,173.52 320.7,173.59 319.5,173.71 318.3,173.77 317.2,173.78 316.0,173.67 314.8,173.43 313.6,173.10 312.4,172.74 311.2,172.42 310.0,172.20 308.9,172.03 307.7,171.93 306.5,171.85 305.3,171.79 304.1,171.73 302.9,171.67 301.7,171.62 300.6,171.57 299.4,171.52 298.2,171.48 297.0,171.43 295.8,171.39 294.6,171.35 293.4,171.31 292.3,171.27 291.1,171.24 289.9,171.20 288.7,171.17 287.5,171.14 286.3,171.11 285.1,171.08 284.0,171.05 282.8,171.03 281.6,171.00 280.4,170.98 279.2,170.95 278.0,170.93 276.8,170.91 275.7,170.89 274.5,170.87 273.3,170.85 272.1,170.84 270.9,170.82 269.7,170.80 268.5,170.79 267.4,170.77 266.2,170.76 265.0,170.74 263.8,170.73 262.6,170.72 261.4,170.71 260.2,170.70 259.0,170.69 257.9,170.68 256.7,170.67 255.5,170.66 254.3,170.65 253.1,170.64 251.9,170.63 250.7,170.62 249.6,170.61 248.4,170.61 247.2,170.60 246.0,170.59 244.8,170.59 243.6,170.58 242.4,170.57 241.3,170.57 240.1,170.56 239.5,170.44"/><polygon points="242.0,182.29 242.6,182.17 243.8,182.16 244.9,182.16 246.1,182.15 247.3,182.14 248.5,182.14 249.7,182.13 250.9,182.12 252.0,182.12 253.2,182.11 254.4,182.10 255.6,182.09 256.8,182.08 258.0,182.07 259.2,182.06 260.3,182.05 261.5,182.04 262.7,182.03 263.9,182.02 265.1,182.01 266.3,182.00 267.4,181.98 268.6,181.97 269.8,181.95 271.0,181.94 272.2,181.92 273.4,181.91 274.5,181.89 275.7,181.87 276.9,181.85 278.1,181.83 279.3,181.81 280.5,181.79 281.7,181.77 282.8,181.74 284.0,181.72 285.2,181.69 286.4,181.67 287.6,181.64 288.8,181.61 289.9,181.58 291.1,181.55 292.3,181.51 293.5,181.48 294.7,181.44 295.9,181.40 297.0,181.36 298.2,181.32 299.4,181.28 300.6,181.23 301.8,181.19 303.0,181.14 304.1,181.08 305.3,181.03 306.5,180.97 307.7,180.90 308.9,180.80 310.1,180.63 311.3,180.41 312.4,180.10 313.6,179.75 314.8,179.44 316.0,179.21 317.2,179.11 318.4,179.12 319.5,179.18 320.7,179.29 321.3,179.36 321.5,179.39 321.8,179.42 322.0,179.46 322.3,179.50 322.5,179.55 322.8,179.62 323.0,179.71 323.3,179.83 323.5,179.99 323.8,180.23 324.0,180.60 324.0,183.99 323.8,184.36 323.5,184.59 323.3,184.75 323.0,184.87 322.8,184.96 322.5,185.03 322.3,185.08 322.0,185.12 321.8,185.16 321.5,185.19 321.3,185.23 320.7,185.29 319.5,185.40 318.4,185.47 317.2,185.48 316.0,185.37 314.8,185.14 313.6,184.83 312.4,184.49 311.3,184.17 310.1,183.95 308.9,183.79 307.7,183.69 306.5,183.61 305.3,183.55 304.1,183.50 303.0,183.45 301.8,183.40 300.6,183.35 299.4,183.31 298.2,183.26 297.0,183.22 295.9,183.18 294.7,183.14 293.5,183.11 292.3,183.07 291.1,183.04 289.9,183.01 288.8,182.97 287.6,182.95 286.4,182.92 285.2,182.89 284.0,182.87 282.8,182.84 281.7,182.82 280.5,182.79 279.3,182.77 278.1,182.75 276.9,182.73 275.7,182.71 274.5,182.70 273.4,182.68 272.2,182.66 271.0,182.65 269.8,182.63 268.6,182.62 267.4,182.60 266.3,182.59 265.1,182.58 263.9,182.56 262.7,182.55 261.5,182.54 260.3,182.53 259.2,182.52 258.0,182.51 256.8,182.50 255.6,182.49 254.4,182.48 253.2,182.48 252.0,182.47 250.9,182.46 249.7,182.45 248.5,182.45 247.3,182.44 246.1,182.43 244.9,182.43 243.8,182.42 242.6,182.42 242.0,182.29"/><polygon points="241.9,194.14 242.5,194.02 243.7,194.01 244.9,194.01 246.1,194.00 247.2,193.99 248.4,193.99 249.6,193.98 250.8,193.97 252.0,193.97 253.2,193.96 254.4,193.95 255.5,193.94 256.7,193.93 257.9,193.92 259.1,193.91 260.3,193.90 261.5,193.89 262.7,193.88 263.8,193.87 265.0,193.86 266.2,193.84 267.4,193.83 268.6,193.82 269.8,193.80 271.0,193.79 272.1,193.77 273.3,193.76 274.5,193.74 275.7,193.72 276.9,193.70 278.1,193.68 279.2,193.66 280.4,193.64 281.6,193.62 282.8,193.59 284.0,193.57 285.2,193.54 286.4,193.52 287.5,193.49 288.7,193.46 289.9,193.43 291.1,193.40 292.3,193.36 293.5,193.33 294.7,193.29 295.8,193.25 297.0,193.21 298.2,193.17 299.4,193.13 300.6,193.08 301.8,193.04 302.9,192.99 304.1,192.93 305.3,192.88 306.5,192.82 307.7,192.75 308.9,192.65 310.1,192.48 311.2,192.26 312.4,191.95 313.6,191.61 314.8,191.29 316.0,191.06 317.2,190.96 318.4,190.96 319.5,191.03 320.7,191.14 321.3,191.21 321.5,191.24 321.8,191.27 322.0,191.31 322.3,191.35 322.5,191.40 322.8,191.47 323.0,191.56 323.3,191.68 323.5,191.84 323.8,192.07 324.0,192.45 324.0,195.84 323.8,196.21 323.5,196.44 323.3,196.60 323.0,196.72 322.8,196.81 322.5,196.88 322.3,196.93 322.0,196.97 321.8,197.01 321.5,197.04 321.3,197.08 320.7,197.14 319.5,197.25 318.4,197.32 317.2,197.33 316.0,197.22 314.8,196.99 313.6,196.68 312.4,196.33 311.2,196.02 310.1,195.80 308.9,195.64 307.7,195.53 306.5,195.46 305.3,195.40 304.1,195.35 302.9,195.30 301.8,195.25 300.6,195.20 299.4,195.15 298.2,195.11 297.0,195.07 295.8,195.03 294.7,194.99 293.5,194.95 292.3,194.92 291.1,194.89 289.9,194.85 288.7,194.82 287.5,194.79 286.4,194.77 285.2,194.74 284.0,194.71 282.8,194.69 281.6,194.67 280.4,194.64 279.2,194.62 278.1,194.60 276.9,194.58 275.7,194.56 274.5,194.54 273.3,194.53 272.1,194.51 271.0,194.49 269.8,194.48 268.6,194.46 267.4,194.45 266.2,194.44 265.0,194.42 263.8,194.41 262.7,194.40 261.5,194.39 260.3,194.38 259.1,194.37 257.9,194.36 256.7,194.35 255.5,194.34 254.4,194.33 253.2,194.32 252.0,194.32 250.8,194.31 249.6,194.30 248.4,194.29 247.2,194.29 246.1,194.28 244.9,194.28 243.7,194.27 242.5,194.26 241.9,194.14"/><polygon points="241.8,205.99 242.4,205.87 243.6,205.86 244.8,205.86 246.0,205.85 247.2,205.84 248.3,205.84 249.5,205.83 250.7,205.82 251.9,205.82 253.1,205.81 254.3,205.80 255.5,205.79 256.7,205.78 257.8,205.77 259.0,205.76 260.2,205.75 261.4,205.74 262.6,205.73 263.8,205.72 265.0,205.71 266.1,205.69 267.3,205.68 268.5,205.67 269.7,205.65 270.9,205.64 272.1,205.62 273.3,205.61 274.4,205.59 275.6,205.57 276.8,205.55 278.0,205.53 279.2,205.51 280.4,205.49 281.6,205.47 282.8,205.44 283.9,205.42 285.1,205.39 286.3,205.37 287.5,205.34 288.7,205.31 289.9,205.28 291.1,205.25 292.2,205.21 293.4,205.18 294.6,205.14 295.8,205.10 297.0,205.06 298.2,205.02 299.4,204.98 300.5,204.93 301.7,204.89 302.9,204.84 304.1,204.78 305.3,204.73 306.5,204.67 307.7,204.60 308.9,204.50 310.0,204.33 311.2,204.11 312.4,203.80 313.6,203.46 314.8,203.14 316.0,202.91 317.2,202.81 318.3,202.81 319.5,202.88 320.7,202.99 321.3,203.05 321.5,203.09 321.8,203.12 322.0,203.16 322.3,203.20 322.5,203.25 322.8,203.32 323.0,203.41 323.3,203.53 323.5,203.69 323.8,203.92 324.0,204.29 324.0,207.69 323.8,208.06 323.5,208.29 323.3,208.45 323.0,208.57 322.8,208.66 322.5,208.73 322.3,208.78 322.0,208.82 321.8,208.86 321.5,208.89 321.3,208.93 320.7,208.99 319.5,209.10 318.3,209.17 317.2,209.17 316.0,209.07 314.8,208.84 313.6,208.52 312.4,208.18 311.2,207.87 310.0,207.65 308.9,207.48 307.7,207.38 306.5,207.31 305.3,207.25 304.1,207.20 302.9,207.14 301.7,207.09 300.5,207.05 299.4,207.00 298.2,206.96 297.0,206.92 295.8,206.88 294.6,206.84 293.4,206.80 292.2,206.77 291.1,206.73 289.9,206.70 288.7,206.67 287.5,206.64 286.3,206.61 285.1,206.59 283.9,206.56 282.8,206.54 281.6,206.51 280.4,206.49 279.2,206.47 278.0,206.45 276.8,206.43 275.6,206.41 274.4,206.39 273.3,206.37 272.1,206.36 270.9,206.34 269.7,206.33 268.5,206.31 267.3,206.30 266.1,206.29 265.0,206.27 263.8,206.26 262.6,206.25 261.4,206.24 260.2,206.23 259.0,206.22 257.8,206.21 256.7,206.20 255.5,206.19 254.3,206.18 253.1,206.17 251.9,206.16 250.7,206.16 249.5,206.15 248.3,206.14 247.2,206.14 246.0,206.13 244.8,206.12 243.6,206.12 242.4,206.11 241.8,205.99"/><polygon points="241.9,217.84 242.5,217.72 243.7,217.71 244.9,217.70 246.1,217.70 247.3,217.69 248.5,217.69 249.6,217.68 250.8,217.67 252.0,217.66 253.2,217.66 254.4,217.65 255.6,217.64 256.8,217.63 257.9,217.62 259.1,217.61 260.3,217.60 261.5,217.59 262.7,217.58 263.9,217.57 265.0,217.56 266.2,217.54 267.4,217.53 268.6,217.52 269.8,217.50 271.0,217.49 272.2,217.47 273.3,217.45 274.5,217.44 275.7,217.42 276.9,217.40 278.1,217.38 279.3,217.36 280.4,217.34 281.6,217.31 282.8,217.29 284.0,217.27 285.2,217.24 286.4,217.21 287.6,217.19 288.7,217.16 289.9,217.13 291.1,217.09 292.3,217.06 293.5,217.03 294.7,216.99 295.8,216.95 297.0,216.91 298.2,216.87 299.4,216.83 300.6,216.78 301.8,216.73 303.0,216.68 304.1,216.63 305.3,216.58 306.5,216.52 307.7,216.45 308.9,216.34 310.1,216.18 311.2,215.96 312.4,215.65 313.6,215.30 314.8,214.99 316.0,214.76 317.2,214.65 318.4,214.66 319.5,214.73 320.7,214.84 321.3,214.90 321.5,214.94 321.8,214.97 322.0,215.01 322.3,215.05 322.5,215.10 322.8,215.17 323.0,215.26 323.3,215.38 323.5,215.54 323.8,215.77 324.0,216.14 324.0,219.53 323.8,219.91 323.5,220.14 323.3,220.30 323.0,220.42 322.8,220.51 322.5,220.58 322.3,220.63 322.0,220.67 321.8,220.71 321.5,220.74 321.3,220.77 320.7,220.84 319.5,220.95 318.4,221.02 317.2,221.02 316.0,220.92 314.8,220.69 313.6,220.38 312.4,220.03 311.2,219.72 310.1,219.50 308.9,219.34 307.7,219.23 306.5,219.16 305.3,219.10 304.1,219.05 303.0,218.99 301.8,218.94 300.6,218.90 299.4,218.85 298.2,218.81 297.0,218.77 295.8,218.73 294.7,218.69 293.5,218.65 292.3,218.62 291.1,218.58 289.9,218.55 288.7,218.52 287.6,218.49 286.4,218.46 285.2,218.44 284.0,218.41 282.8,218.39 281.6,218.36 280.4,218.34 279.3,218.32 278.1,218.30 276.9,218.28 275.7,218.26 274.5,218.24 273.3,218.22 272.2,218.21 271.0,218.19 269.8,218.18 268.6,218.16 267.4,218.15 266.2,218.14 265.0,218.12 263.9,218.11 262.7,218.10 261.5,218.09 260.3,218.08 259.1,218.07 257.9,218.06 256.8,218.05 255.6,218.04 254.4,218.03 253.2,218.02 252.0,218.01 250.8,218.01 249.6,218.00 248.5,217.99 247.3,217.99 246.1,217.98 244.9,217.97 243.7,217.97 242.5,217.96 241.9,217.84"/><polygon points="241.6,229.69 242.2,229.57 243.4,229.56 244.6,229.56 245.8,229.55 246.9,229.54 248.1,229.54 249.3,229.53 250.5,229.52 251.7,229.51 252.9,229.51 254.1,229.50 255.3,229.49 256.5,229.48 257.6,229.47 258.8,229.46 260.0,229.45 261.2,229.44 262.4,229.43 263.6,229.42 264.8,229.41 266.0,229.39 267.2,229.38 268.4,229.37 269.5,229.35 270.7,229.34 271.9,229.32 273.1,229.31 274.3,229.29 275.5,229.27 276.7,229.25 277.9,229.23 279.1,229.21 280.3,229.19 281.4,229.17 282.6,229.14 283.8,229.12 285.0,229.09 286.2,229.07 287.4,229.04 288.6,229.01 289.8,228.98 291.0,228.95 292.2,228.91 293.3,228.88 294.5,228.84 295.7,228.80 296.9,228.76 298.1,228.72 299.3,228.68 300.5,228.63 301.7,228.59 302.9,228.54 304.1,228.48 305.2,228.43 306.4,228.37 307.6,228.30 308.8,228.20 310.0,228.04 311.2,227.82 312.4,227.51 313.6,227.16 314.8,226.85 315.9,226.62 317.1,226.50 318.3,226.51 319.5,226.57 320.7,226.68 321.3,226.75 321.5,226.79 321.8,226.82 322.0,226.86 322.3,226.90 322.5,226.95 322.8,227.02 323.0,227.11 323.3,227.23 323.5,227.39 323.8,227.62 324.0,227.99 324.0,231.38 323.8,231.75 323.5,231.99 323.3,232.15 323.0,232.27 322.8,232.36 322.5,232.43 322.3,232.48 322.0,232.52 321.8,232.56 321.5,232.59 321.3,232.62 320.7,232.69 319.5,232.80 318.3,232.86 317.1,232.87 315.9,232.76 314.8,232.53 313.6,232.21 312.4,231.87 311.2,231.55 310.0,231.34 308.8,231.18 307.6,231.08 306.4,231.01 305.2,230.95 304.1,230.89 302.9,230.84 301.7,230.79 300.5,230.74 299.3,230.70 298.1,230.65 296.9,230.61 295.7,230.57 294.5,230.53 293.3,230.50 292.2,230.46 291.0,230.43 289.8,230.40 288.6,230.37 287.4,230.34 286.2,230.31 285.0,230.28 283.8,230.26 282.6,230.23 281.4,230.21 280.3,230.19 279.1,230.16 277.9,230.14 276.7,230.12 275.5,230.11 274.3,230.09 273.1,230.07 271.9,230.05 270.7,230.04 269.5,230.02 268.4,230.01 267.2,229.99 266.0,229.98 264.8,229.97 263.6,229.96 262.4,229.95 261.2,229.93 260.0,229.92 258.8,229.91 257.6,229.90 256.5,229.89 255.3,229.89 254.1,229.88 252.9,229.87 251.7,229.86 250.5,229.85 249.3,229.85 248.1,229.84 246.9,229.83 245.8,229.83 244.6,229.82 243.4,229.82 242.2,229.81 241.6,229.69"/><polygon points="241.6,241.54 242.2,241.42 243.4,241.41 244.6,241.40 245.8,241.40 247.0,241.39 248.2,241.39 249.4,241.38 250.5,241.37 251.7,241.36 252.9,241.36 254.1,241.35 255.3,241.34 256.5,241.33 257.7,241.32 258.9,241.31 260.1,241.30 261.2,241.29 262.4,241.28 263.6,241.27 264.8,241.26 266.0,241.24 267.2,241.23 268.4,241.22 269.6,241.20 270.8,241.19 271.9,241.17 273.1,241.15 274.3,241.14 275.5,241.12 276.7,241.10 277.9,241.08 279.1,241.06 280.3,241.04 281.5,241.02 282.7,240.99 283.8,240.97 285.0,240.94 286.2,240.92 287.4,240.89 288.6,240.86 289.8,240.83 291.0,240.80 292.2,240.76 293.4,240.73 294.5,240.69 295.7,240.65 296.9,240.61 298.1,240.57 299.3,240.53 300.5,240.48 301.7,240.43 302.9,240.39 304.1,240.33 305.2,240.28 306.4,240.22 307.6,240.15 308.8,240.05 310.0,239.88 311.2,239.67 312.4,239.36 313.6,239.01 314.8,238.70 316.0,238.46 317.1,238.35 318.3,238.36 319.5,238.42 320.7,238.53 321.3,238.60 321.5,238.63 321.8,238.67 322.0,238.70 322.3,238.75 322.5,238.80 322.8,238.87 323.0,238.95 323.3,239.07 323.5,239.24 323.8,239.47 324.0,239.84 324.0,243.23 323.8,243.60 323.5,243.84 323.3,244.00 323.0,244.12 322.8,244.21 322.5,244.28 322.3,244.33 322.0,244.37 321.8,244.41 321.5,244.44 321.3,244.47 320.7,244.54 319.5,244.65 318.3,244.71 317.1,244.72 316.0,244.61 314.8,244.38 313.6,244.06 312.4,243.72 311.2,243.41 310.0,243.19 308.8,243.03 307.6,242.93 306.4,242.85 305.2,242.80 304.1,242.74 302.9,242.69 301.7,242.64 300.5,242.59 299.3,242.55 298.1,242.50 296.9,242.46 295.7,242.42 294.5,242.38 293.4,242.35 292.2,242.31 291.0,242.28 289.8,242.25 288.6,242.22 287.4,242.19 286.2,242.16 285.0,242.13 283.8,242.11 282.7,242.08 281.5,242.06 280.3,242.04 279.1,242.01 277.9,241.99 276.7,241.97 275.5,241.96 274.3,241.94 273.1,241.92 271.9,241.90 270.8,241.89 269.6,241.87 268.4,241.86 267.2,241.84 266.0,241.83 264.8,241.82 263.6,241.81 262.4,241.79 261.2,241.78 260.1,241.77 258.9,241.76 257.7,241.75 256.5,241.74 255.3,241.73 254.1,241.73 252.9,241.72 251.7,241.71 250.5,241.70 249.4,241.70 248.2,241.69 247.0,241.68 245.8,241.68 244.6,241.67 243.4,241.66 242.2,241.66 241.6,241.54"/><polygon points="242.1,253.39 242.7,253.26 243.9,253.26 245.1,253.25 246.3,253.24 247.4,253.24 248.6,253.23 249.8,253.22 251.0,253.22 252.2,253.21 253.3,253.20 254.5,253.19 255.7,253.19 256.9,253.18 258.1,253.17 259.3,253.16 260.4,253.15 261.6,253.14 262.8,253.12 264.0,253.11 265.2,253.10 266.4,253.09 267.5,253.07 268.7,253.06 269.9,253.05 271.1,253.03 272.3,253.02 273.4,253.00 274.6,252.98 275.8,252.96 277.0,252.94 278.2,252.92 279.4,252.90 280.5,252.88 281.7,252.86 282.9,252.84 284.1,252.81 285.3,252.79 286.4,252.76 287.6,252.73 288.8,252.70 290.0,252.67 291.2,252.64 292.4,252.61 293.5,252.57 294.7,252.53 295.9,252.50 297.1,252.46 298.3,252.41 299.5,252.37 300.6,252.33 301.8,252.28 303.0,252.23 304.2,252.18 305.4,252.12 306.5,252.06 307.7,251.99 308.9,251.89 310.1,251.72 311.3,251.50 312.5,251.19 313.6,250.84 314.8,250.53 316.0,250.31 317.2,250.20 318.4,250.21 319.5,250.27 320.7,250.38 321.3,250.45 321.5,250.48 321.8,250.52 322.0,250.55 322.3,250.60 322.5,250.65 322.8,250.71 323.0,250.80 323.3,250.92 323.5,251.09 323.8,251.32 324.0,251.69 324.0,255.08 323.8,255.45 323.5,255.69 323.3,255.85 323.0,255.97 322.8,256.06 322.5,256.12 322.3,256.18 322.0,256.22 321.8,256.25 321.5,256.29 321.3,256.32 320.7,256.39 319.5,256.50 318.4,256.56 317.2,256.57 316.0,256.47 314.8,256.24 313.6,255.93 312.5,255.58 311.3,255.27 310.1,255.05 308.9,254.89 307.7,254.78 306.5,254.71 305.4,254.65 304.2,254.60 303.0,254.54 301.8,254.49 300.6,254.45 299.5,254.40 298.3,254.36 297.1,254.32 295.9,254.28 294.7,254.24 293.5,254.20 292.4,254.17 291.2,254.13 290.0,254.10 288.8,254.07 287.6,254.04 286.4,254.01 285.3,253.99 284.1,253.96 282.9,253.94 281.7,253.91 280.5,253.89 279.4,253.87 278.2,253.85 277.0,253.83 275.8,253.81 274.6,253.79 273.4,253.77 272.3,253.76 271.1,253.74 269.9,253.73 268.7,253.71 267.5,253.70 266.4,253.68 265.2,253.67 264.0,253.66 262.8,253.65 261.6,253.64 260.4,253.63 259.3,253.62 258.1,253.61 256.9,253.60 255.7,253.59 254.5,253.58 253.3,253.57 252.2,253.56 251.0,253.55 249.8,253.55 248.6,253.54 247.4,253.53 246.3,253.53 245.1,253.52 243.9,253.52 242.7,253.51 242.1,253.39"/><polygon points="242.2,265.24 242.8,265.11 244.0,265.10 245.2,265.10 246.3,265.09 247.5,265.09 248.7,265.08 249.9,265.07 251.1,265.07 252.2,265.06 253.4,265.05 254.6,265.04 255.8,265.03 257.0,265.02 258.2,265.02 259.3,265.01 260.5,265.00 261.7,264.98 262.9,264.97 264.1,264.96 265.2,264.95 266.4,264.94 267.6,264.92 268.8,264.91 270.0,264.89 271.1,264.88 272.3,264.86 273.5,264.85 274.7,264.83 275.9,264.81 277.0,264.79 278.2,264.77 279.4,264.75 280.6,264.73 281.8,264.71 282.9,264.68 284.1,264.66 285.3,264.63 286.5,264.61 287.7,264.58 288.9,264.55 290.0,264.52 291.2,264.49 292.4,264.45 293.6,264.42 294.8,264.38 295.9,264.34 297.1,264.30 298.3,264.26 299.5,264.22 300.7,264.17 301.8,264.13 303.0,264.08 304.2,264.02 305.4,263.97 306.6,263.91 307.7,263.84 308.9,263.73 310.1,263.57 311.3,263.35 312.5,263.03 313.7,262.69 314.8,262.38 316.0,262.15 317.2,262.05 318.4,262.06 319.6,262.12 320.7,262.23 321.3,262.30 321.5,262.33 321.8,262.37 322.0,262.40 322.3,262.44 322.5,262.50 322.8,262.56 323.0,262.65 323.3,262.77 323.5,262.94 323.8,263.17 324.0,263.54 324.0,266.93 323.8,267.30 323.5,267.53 323.3,267.70 323.0,267.82 322.8,267.91 322.5,267.97 322.3,268.03 322.0,268.07 321.8,268.10 321.5,268.14 321.3,268.17 320.7,268.24 319.6,268.35 318.4,268.41 317.2,268.42 316.0,268.32 314.8,268.09 313.7,267.78 312.5,267.44 311.3,267.12 310.1,266.90 308.9,266.74 307.7,266.63 306.6,266.56 305.4,266.50 304.2,266.45 303.0,266.39 301.8,266.34 300.7,266.30 299.5,266.25 298.3,266.21 297.1,266.17 295.9,266.13 294.8,266.09 293.6,266.05 292.4,266.02 291.2,265.98 290.0,265.95 288.9,265.92 287.7,265.89 286.5,265.86 285.3,265.84 284.1,265.81 282.9,265.79 281.8,265.76 280.6,265.74 279.4,265.72 278.2,265.70 277.0,265.68 275.9,265.66 274.7,265.64 273.5,265.62 272.3,265.61 271.1,265.59 270.0,265.58 268.8,265.56 267.6,265.55 266.4,265.53 265.2,265.52 264.1,265.51 262.9,265.50 261.7,265.49 260.5,265.47 259.3,265.46 258.2,265.45 257.0,265.45 255.8,265.44 254.6,265.43 253.4,265.42 252.2,265.41 251.1,265.40 249.9,265.40 248.7,265.39 247.5,265.38 246.3,265.38 245.2,265.37 244.0,265.37 242.8,265.36 242.2,265.24"/><polygon points="175.9,277.08 176.5,276.96 177.7,276.96 178.9,276.96 180.1,276.95 181.3,276.95 182.5,276.95 183.6,276.94 184.8,276.94 186.0,276.93 187.2,276.93 188.4,276.93 189.5,276.92 190.7,276.92 191.9,276.91 193.1,276.91 194.3,276.90 195.5,276.90 196.6,276.89 197.8,276.89 199.0,276.88 200.2,276.88 201.4,276.87 202.5,276.87 203.7,276.86 204.9,276.86 206.1,276.85 207.3,276.84 208.5,276.84 209.6,276.83 210.8,276.82 212.0,276.82 213.2,276.81 214.4,276.80 215.5,276.80 216.7,276.79 217.9,276.78 219.1,276.77 220.3,276.76 221.5,276.76 222.6,276.75 223.8,276.74 225.0,276.73 226.2,276.72 227.4,276.71 228.5,276.70 229.7,276.69 230.9,276.68 232.1,276.67 233.3,276.66 234.5,276.65 235.6,276.63 236.8,276.62 238.0,276.61 239.2,276.60 240.4,276.58 241.5,276.57 242.7,276.56 243.9,276.54 245.1,276.53 246.3,276.51 247.5,276.50 248.6,276.48 249.8,276.47 251.0,276.45 252.2,276.43 253.4,276.42 254.5,276.40 255.7,276.38 256.9,276.36 258.1,276.34 259.3,276.32 260.5,276.30 261.6,276.28 262.8,276.26 264.0,276.24 265.2,276.22 266.4,276.19 267.5,276.17 268.7,276.14 269.9,276.12 271.1,276.09 272.3,276.07 273.5,276.04 274.6,276.01 275.8,275.98 277.0,275.96 278.2,275.93 279.4,275.89 280.5,275.86 281.7,275.83 282.9,275.80 284.1,275.76 285.3,275.73 286.5,275.69 287.6,275.65 288.8,275.62 290.0,275.58 291.2,275.54 292.4,275.50 293.5,275.45 294.7,275.41 295.9,275.37 297.1,275.32 298.3,275.27 299.5,275.22 300.6,275.18 301.8,275.12 303.0,275.07 304.2,275.02 305.4,274.96 306.6,274.91 307.7,274.85 308.9,274.79 310.1,274.73 311.3,274.73 312.5,274.73 313.6,274.69 314.8,274.55 316.0,274.36 317.2,274.29 318.4,274.29 319.6,274.29 320.7,274.29 321.3,274.29 321.5,274.29 321.8,274.29 322.0,274.29 322.3,274.29 322.5,274.31 322.8,274.34 323.0,274.39 323.3,274.47 323.5,274.61 323.8,274.82 324.0,275.19 324.0,278.97 323.8,279.35 323.5,279.56 323.3,279.70 323.0,279.78 322.8,279.83 322.5,279.86 322.3,279.87 322.0,279.88 321.8,279.88 321.5,279.88 321.3,279.88 320.7,279.88 319.6,279.88 318.4,279.88 317.2,279.88 316.0,279.81 314.8,279.62 313.6,279.48 312.5,279.44 311.3,279.43 310.1,279.43 308.9,279.38 307.7,279.32 306.6,279.26 305.4,279.20 304.2,279.15 303.0,279.10 301.8,279.04 300.6,278.99 299.5,278.94 298.3,278.90 297.1,278.85 295.9,278.80 294.7,278.76 293.5,278.71 292.4,278.67 291.2,278.63 290.0,278.59 288.8,278.55 287.6,278.51 286.5,278.48 285.3,278.44 284.1,278.41 282.9,278.37 281.7,278.34 280.5,278.31 279.4,278.27 278.2,278.24 277.0,278.21 275.8,278.18 274.6,278.16 273.5,278.13 272.3,278.10 271.1,278.07 269.9,278.05 268.7,278.02 267.5,278.00 266.4,277.98 265.2,277.95 264.0,277.93 262.8,277.91 261.6,277.89 260.5,277.87 259.3,277.85 258.1,277.83 256.9,277.81 255.7,277.79 254.5,277.77 253.4,277.75 252.2,277.73 251.0,277.72 249.8,277.70 248.6,277.69 247.5,277.67 246.3,277.65 245.1,277.64 243.9,277.63 242.7,277.61 241.5,277.60 240.4,277.58 239.2,277.57 238.0,277.56 236.8,277.55 235.6,277.53 234.5,277.52 233.3,277.51 232.1,277.50 230.9,277.49 229.7,277.48 228.5,277.47 227.4,277.46 226.2,277.45 225.0,277.44 223.8,277.43 222.6,277.42 221.5,277.41 220.3,277.40 219.1,277.40 217.9,277.39 216.7,277.38 215.5,277.37 214.4,277.36 213.2,277.36 212.0,277.35 210.8,277.34 209.6,277.34 208.5,277.33 207.3,277.32 206.1,277.32 204.9,277.31 203.7,277.31 202.5,277.30 201.4,277.29 200.2,277.29 199.0,277.28 197.8,277.28 196.6,277.27 195.5,277.27 194.3,277.26 193.1,277.26 191.9,277.25 190.7,277.25 189.5,277.25 188.4,277.24 187.2,277.24 186.0,277.23 184.8,277.23 183.6,277.23 182.5,277.22 181.3,277.22 180.1,277.22 178.9,277.21 177.7,277.21 176.5,277.21 175.9,277.08"/><polygon points="189.9,288.77 191.1,288.77 192.3,288.76 193.5,288.76 194.7,288.75 195.9,288.75 197.0,288.74 198.2,288.74 199.4,288.73 200.6,288.73 201.8,288.72 203.0,288.72 204.2,288.71 205.4,288.70 206.6,288.70 207.7,288.69 208.9,288.68 210.1,288.68 211.3,288.67 212.5,288.66 213.7,288.66 214.9,288.65 216.1,288.64 217.3,288.63 218.5,288.63 219.6,288.62 220.8,288.61 222.0,288.60 223.2,288.59 224.4,288.58 225.6,288.57 226.8,288.56 228.0,288.55 229.2,288.54 230.3,288.53 231.5,288.52 232.7,288.51 233.9,288.50 235.1,288.49 236.3,288.48 237.5,288.46 238.7,288.45 239.9,288.44 241.0,288.43 242.2,288.41 243.4,288.40 244.6,288.38 245.8,288.37 247.0,288.35 248.2,288.34 249.4,288.32 250.6,288.31 251.7,288.29 252.9,288.27 254.1,288.25 255.3,288.24 256.5,288.22 257.7,288.20 258.9,288.18 260.1,288.16 261.3,288.14 262.4,288.12 263.6,288.09 264.8,288.07 266.0,288.05 267.2,288.03 268.4,288.00 269.6,287.98 270.8,287.95 272.0,287.92 273.1,287.90 274.3,287.87 275.5,287.84 276.7,287.81 277.9,287.78 279.1,287.75 280.3,287.72 281.5,287.69 282.7,287.65 283.8,287.62 285.0,287.58 286.2,287.55 287.4,287.51 288.6,287.47 289.8,287.43 291.0,287.39 292.2,287.35 293.4,287.31 294.6,287.27 295.7,287.22 296.9,287.18 298.1,287.13 299.3,287.08 300.5,287.03 301.7,286.98 302.9,286.93 304.1,286.87 305.3,286.82 306.4,286.76 307.6,286.70 308.8,286.64 310.0,286.58 311.2,286.58 312.4,286.58 313.6,286.54 314.8,286.41 316.0,286.21 317.1,286.14 318.3,286.14 319.5,286.14 320.7,286.14 321.3,286.14 321.5,286.14 321.8,286.14 322.0,286.14 322.3,286.14 322.5,286.16 322.8,286.18 323.0,286.24 323.3,286.32 323.5,286.45 323.8,286.67 324.0,287.04 324.0,290.82 323.8,291.20 323.5,291.41 323.3,291.55 323.0,291.63 322.8,291.68 322.5,291.71 322.3,291.72 322.0,291.73 321.8,291.73 321.5,291.73 321.3,291.73 320.7,291.73 319.5,291.73 318.3,291.73 317.1,291.73 316.0,291.65 314.8,291.46 313.6,291.32 312.4,291.29 311.2,291.28 310.0,291.28 308.8,291.22 307.6,291.16 306.4,291.10 305.3,291.05 304.1,290.99 302.9,290.94 301.7,290.89 300.5,290.84 299.3,290.79 298.1,290.74 296.9,290.69 295.7,290.64 294.6,290.60 293.4,290.56 292.2,290.51 291.0,290.47 289.8,290.43 288.6,290.39 287.4,290.36 286.2,290.32 285.0,290.28 283.8,290.25 282.7,290.21 281.5,290.18 280.3,290.15 279.1,290.12 277.9,290.08 276.7,290.05 275.5,290.03 274.3,290.00 273.1,289.97 272.0,289.94 270.8,289.92 269.6,289.89 268.4,289.87 267.2,289.84 266.0,289.82 264.8,289.79 263.6,289.77 262.4,289.75 261.3,289.73 260.1,289.71 258.9,289.69 257.7,289.67 256.5,289.65 255.3,289.63 254.1,289.61 252.9,289.59 251.7,289.58 250.6,289.56 249.4,289.54 248.2,289.53 247.0,289.51 245.8,289.50 244.6,289.48 243.4,289.47 242.2,289.45 241.0,289.44 239.9,289.43 238.7,289.41 237.5,289.40 236.3,289.39 235.1,289.38 233.9,289.37 232.7,289.35 231.5,289.34 230.3,289.33 229.2,289.32 228.0,289.31 226.8,289.30 225.6,289.29 224.4,289.28 223.2,289.27 222.0,289.27 220.8,289.26 219.6,289.25 218.5,289.24 217.3,289.23 216.1,289.22 214.9,289.22 213.7,289.21 212.5,289.20 211.3,289.20 210.1,289.19 208.9,289.18 207.7,289.18 206.6,289.17 205.4,289.16 204.2,289.16 203.0,289.15 201.8,289.15 200.6,289.14 199.4,289.13 198.2,289.13 197.0,289.12 195.9,289.12 194.7,289.11 193.5,289.11 192.3,289.10 191.1,289.10 189.9,289.10"/><polygon points="193.7,300.60 194.8,300.60 196.0,300.60 197.2,300.59 198.4,300.59 199.6,300.58 200.8,300.57 202.0,300.57 203.2,300.56 204.3,300.56 205.5,300.55 206.7,300.55 207.9,300.54 209.1,300.53 210.3,300.53 211.5,300.52 212.7,300.51 213.8,300.50 215.0,300.50 216.2,300.49 217.4,300.48 218.6,300.47 219.8,300.47 221.0,300.46 222.2,300.45 223.3,300.44 224.5,300.43 225.7,300.42 226.9,300.41 228.1,300.40 229.3,300.39 230.5,300.38 231.7,300.37 232.8,300.36 234.0,300.35 235.2,300.34 236.4,300.32 237.6,300.31 238.8,300.30 240.0,300.29 241.2,300.27 242.3,300.26 243.5,300.25 244.7,300.23 245.9,300.22 247.1,300.20 248.3,300.19 249.5,300.17 250.7,300.15 251.8,300.14 253.0,300.12 254.2,300.10 255.4,300.08 256.6,300.06 257.8,300.05 259.0,300.03 260.2,300.01 261.3,299.98 262.5,299.96 263.7,299.94 264.9,299.92 266.1,299.90 267.3,299.87 268.5,299.85 269.7,299.82 270.8,299.80 272.0,299.77 273.2,299.74 274.4,299.72 275.6,299.69 276.8,299.66 278.0,299.63 279.2,299.60 280.3,299.57 281.5,299.53 282.7,299.50 283.9,299.47 285.1,299.43 286.3,299.39 287.5,299.36 288.7,299.32 289.8,299.28 291.0,299.24 292.2,299.20 293.4,299.16 294.6,299.11 295.8,299.07 297.0,299.02 298.2,298.98 299.3,298.93 300.5,298.88 301.7,298.83 302.9,298.77 304.1,298.72 305.3,298.67 306.5,298.61 307.7,298.55 308.8,298.49 310.0,298.43 311.2,298.43 312.4,298.43 313.6,298.39 314.8,298.25 316.0,298.06 317.2,297.99 318.3,297.99 319.5,297.99 320.7,297.99 321.3,297.99 321.5,297.99 321.8,297.99 322.0,297.99 322.3,297.99 322.5,298.01 322.8,298.03 323.0,298.09 323.3,298.17 323.5,298.30 323.8,298.52 324.0,298.89 324.0,302.67 323.8,303.05 323.5,303.26 323.3,303.39 323.0,303.48 322.8,303.53 322.5,303.56 322.3,303.57 322.0,303.58 321.8,303.58 321.5,303.58 321.3,303.58 320.7,303.58 319.5,303.58 318.3,303.58 317.2,303.58 316.0,303.50 314.8,303.31 313.6,303.17 312.4,303.14 311.2,303.13 310.0,303.13 308.8,303.07 307.7,303.01 306.5,302.95 305.3,302.90 304.1,302.84 302.9,302.79 301.7,302.74 300.5,302.69 299.3,302.64 298.2,302.59 297.0,302.54 295.8,302.50 294.6,302.45 293.4,302.41 292.2,302.36 291.0,302.32 289.8,302.28 288.7,302.24 287.5,302.21 286.3,302.17 285.1,302.13 283.9,302.10 282.7,302.06 281.5,302.03 280.3,302.00 279.2,301.97 278.0,301.94 276.8,301.91 275.6,301.88 274.4,301.85 273.2,301.82 272.0,301.79 270.8,301.77 269.7,301.74 268.5,301.72 267.3,301.69 266.1,301.67 264.9,301.64 263.7,301.62 262.5,301.60 261.3,301.58 260.2,301.56 259.0,301.54 257.8,301.52 256.6,301.50 255.4,301.48 254.2,301.46 253.0,301.44 251.8,301.43 250.7,301.41 249.5,301.39 248.3,301.38 247.1,301.36 245.9,301.35 244.7,301.33 243.5,301.32 242.3,301.30 241.2,301.29 240.0,301.28 238.8,301.26 237.6,301.25 236.4,301.24 235.2,301.23 234.0,301.22 232.8,301.21 231.7,301.19 230.5,301.18 229.3,301.17 228.1,301.16 226.9,301.15 225.7,301.14 224.5,301.13 223.3,301.12 222.2,301.12 221.0,301.11 219.8,301.10 218.6,301.09 217.4,301.08 216.2,301.07 215.0,301.07 213.8,301.06 212.7,301.05 211.5,301.05 210.3,301.04 209.1,301.03 207.9,301.03 206.7,301.02 205.5,301.01 204.3,301.01 203.2,301.00 202.0,301.00 200.8,300.99 199.6,300.98 198.4,300.98 197.2,300.97 196.0,300.97 194.8,300.96 193.7,300.96"/><polygon points="199.1,312.43 200.2,312.43 201.4,312.42 202.6,312.41 203.8,312.41 205.0,312.40 206.1,312.40 207.3,312.39 208.5,312.38 209.7,312.38 210.9,312.37 212.0,312.36 213.2,312.36 214.4,312.35 215.6,312.34 216.8,312.33 218.0,312.33 219.1,312.32 220.3,312.31 221.5,312.30 222.7,312.29 223.9,312.28 225.0,312.28 226.2,312.27 227.4,312.26 228.6,312.25 229.8,312.24 230.9,312.23 232.1,312.21 233.3,312.20 234.5,312.19 235.7,312.18 236.9,312.17 238.0,312.16 239.2,312.14 240.4,312.13 241.6,312.12 242.8,312.10 243.9,312.09 245.1,312.08 246.3,312.06 247.5,312.05 248.7,312.03 249.9,312.01 251.0,312.00 252.2,311.98 253.4,311.96 254.6,311.95 255.8,311.93 256.9,311.91 258.1,311.89 259.3,311.87 260.5,311.85 261.7,311.83 262.8,311.81 264.0,311.78 265.2,311.76 266.4,311.74 267.6,311.72 268.8,311.69 269.9,311.67 271.1,311.64 272.3,311.61 273.5,311.59 274.7,311.56 275.8,311.53 277.0,311.50 278.2,311.47 279.4,311.44 280.6,311.41 281.7,311.38 282.9,311.34 284.1,311.31 285.3,311.27 286.5,311.24 287.7,311.20 288.8,311.16 290.0,311.12 291.2,311.08 292.4,311.04 293.6,311.00 294.7,310.96 295.9,310.91 297.1,310.87 298.3,310.82 299.5,310.77 300.7,310.72 301.8,310.67 303.0,310.62 304.2,310.57 305.4,310.51 306.6,310.45 307.7,310.40 308.9,310.34 310.1,310.28 311.3,310.28 312.5,310.28 313.6,310.24 314.8,310.10 316.0,309.90 317.2,309.84 318.4,309.84 319.6,309.84 320.7,309.84 321.3,309.84 321.5,309.84 321.8,309.84 322.0,309.84 322.3,309.84 322.5,309.85 322.8,309.88 323.0,309.93 323.3,310.02 323.5,310.15 323.8,310.37 324.0,310.74 324.0,314.52 323.8,314.90 323.5,315.11 323.3,315.24 323.0,315.33 322.8,315.38 322.5,315.41 322.3,315.42 322.0,315.43 321.8,315.43 321.5,315.43 321.3,315.43 320.7,315.43 319.6,315.43 318.4,315.43 317.2,315.43 316.0,315.36 314.8,315.17 313.6,315.02 312.5,314.99 311.3,314.98 310.1,314.98 308.9,314.93 307.7,314.87 306.6,314.81 305.4,314.75 304.2,314.70 303.0,314.64 301.8,314.59 300.7,314.54 299.5,314.49 298.3,314.44 297.1,314.40 295.9,314.35 294.7,314.31 293.6,314.26 292.4,314.22 291.2,314.18 290.0,314.14 288.8,314.10 287.7,314.06 286.5,314.02 285.3,313.99 284.1,313.95 282.9,313.92 281.7,313.89 280.6,313.85 279.4,313.82 278.2,313.79 277.0,313.76 275.8,313.73 274.7,313.70 273.5,313.67 272.3,313.65 271.1,313.62 269.9,313.60 268.8,313.57 267.6,313.55 266.4,313.52 265.2,313.50 264.0,313.48 262.8,313.46 261.7,313.43 260.5,313.41 259.3,313.39 258.1,313.37 256.9,313.35 255.8,313.34 254.6,313.32 253.4,313.30 252.2,313.28 251.0,313.26 249.9,313.25 248.7,313.23 247.5,313.22 246.3,313.20 245.1,313.19 243.9,313.17 242.8,313.16 241.6,313.14 240.4,313.13 239.2,313.12 238.0,313.11 236.9,313.09 235.7,313.08 234.5,313.07 233.3,313.06 232.1,313.05 230.9,313.04 229.8,313.03 228.6,313.02 227.4,313.01 226.2,313.00 225.0,312.99 223.9,312.98 222.7,312.97 221.5,312.96 220.3,312.95 219.1,312.94 218.0,312.93 216.8,312.93 215.6,312.92 214.4,312.91 213.2,312.90 212.0,312.90 210.9,312.89 209.7,312.88 208.5,312.88 207.3,312.87 206.1,312.86 205.0,312.86 203.8,312.85 202.6,312.85 201.4,312.84 200.2,312.84 199.1,312.83"/><polygon points="188.5,324.32 189.6,324.32 190.8,324.31 192.0,324.31 193.2,324.30 194.4,324.30 195.5,324.30 196.7,324.29 197.9,324.29 199.1,324.28 200.3,324.27 201.4,324.27 202.6,324.26 203.8,324.26 205.0,324.25 206.2,324.25 207.4,324.24 208.5,324.23 209.7,324.23 210.9,324.22 212.1,324.21 213.3,324.21 214.4,324.20 215.6,324.19 216.8,324.18 218.0,324.18 219.2,324.17 220.3,324.16 221.5,324.15 222.7,324.14 223.9,324.13 225.1,324.12 226.3,324.11 227.4,324.10 228.6,324.09 229.8,324.08 231.0,324.07 232.2,324.06 233.3,324.05 234.5,324.04 235.7,324.03 236.9,324.02 238.1,324.00 239.2,323.99 240.4,323.98 241.6,323.97 242.8,323.95 244.0,323.94 245.1,323.92 246.3,323.91 247.5,323.89 248.7,323.88 249.9,323.86 251.1,323.85 252.2,323.83 253.4,323.81 254.6,323.79 255.8,323.78 257.0,323.76 258.1,323.74 259.3,323.72 260.5,323.70 261.7,323.68 262.9,323.66 264.0,323.63 265.2,323.61 266.4,323.59 267.6,323.56 268.8,323.54 270.0,323.51 271.1,323.49 272.3,323.46 273.5,323.44 274.7,323.41 275.9,323.38 277.0,323.35 278.2,323.32 279.4,323.29 280.6,323.26 281.8,323.23 282.9,323.19 284.1,323.16 285.3,323.12 286.5,323.09 287.7,323.05 288.8,323.01 290.0,322.97 291.2,322.93 292.4,322.89 293.6,322.85 294.8,322.81 295.9,322.76 297.1,322.72 298.3,322.67 299.5,322.62 300.7,322.57 301.8,322.52 303.0,322.47 304.2,322.41 305.4,322.36 306.6,322.30 307.7,322.24 308.9,322.19 310.1,322.13 311.3,322.13 312.5,322.13 313.6,322.09 314.8,321.94 316.0,321.75 317.2,321.68 318.4,321.68 319.6,321.68 320.7,321.68 321.3,321.68 321.5,321.68 321.8,321.68 322.0,321.68 322.3,321.69 322.5,321.70 322.8,321.73 323.0,321.78 323.3,321.87 323.5,322.00 323.8,322.21 324.0,322.59 324.0,326.37 323.8,326.75 323.5,326.96 323.3,327.09 323.0,327.18 322.8,327.23 322.5,327.26 322.3,327.27 322.0,327.28 321.8,327.28 321.5,327.28 321.3,327.28 320.7,327.28 319.6,327.28 318.4,327.28 317.2,327.28 316.0,327.21 314.8,327.02 313.6,326.87 312.5,326.83 311.3,326.83 310.1,326.83 308.9,326.77 307.7,326.72 306.6,326.66 305.4,326.60 304.2,326.55 303.0,326.49 301.8,326.44 300.7,326.39 299.5,326.34 298.3,326.29 297.1,326.24 295.9,326.20 294.8,326.15 293.6,326.11 292.4,326.07 291.2,326.03 290.0,325.99 288.8,325.95 287.7,325.91 286.5,325.87 285.3,325.84 284.1,325.80 282.9,325.77 281.8,325.73 280.6,325.70 279.4,325.67 278.2,325.64 277.0,325.61 275.9,325.58 274.7,325.55 273.5,325.52 272.3,325.50 271.1,325.47 270.0,325.45 268.8,325.42 267.6,325.40 266.4,325.37 265.2,325.35 264.0,325.33 262.9,325.30 261.7,325.28 260.5,325.26 259.3,325.24 258.1,325.22 257.0,325.20 255.8,325.18 254.6,325.17 253.4,325.15 252.2,325.13 251.1,325.11 249.9,325.10 248.7,325.08 247.5,325.07 246.3,325.05 245.1,325.04 244.0,325.02 242.8,325.01 241.6,324.99 240.4,324.98 239.2,324.97 238.1,324.96 236.9,324.94 235.7,324.93 234.5,324.92 233.3,324.91 232.2,324.90 231.0,324.89 229.8,324.88 228.6,324.87 227.4,324.86 226.3,324.85 225.1,324.84 223.9,324.83 222.7,324.82 221.5,324.81 220.3,324.80 219.2,324.79 218.0,324.78 216.8,324.78 215.6,324.77 214.4,324.76 213.3,324.75 212.1,324.75 210.9,324.74 209.7,324.73 208.5,324.73 207.4,324.72 206.2,324.71 205.0,324.71 203.8,324.70 202.6,324.70 201.4,324.69 200.3,324.69 199.1,324.68 197.9,324.67 196.7,324.67 195.5,324.66 194.4,324.66 193.2,324.66 192.0,324.65 190.8,324.65 189.6,324.64 188.5,324.64"/><polygon points="186.5,336.18 187.7,336.17 188.9,336.17 190.1,336.17 191.3,336.16 192.4,336.16 193.6,336.15 194.8,336.15 196.0,336.14 197.2,336.14 198.4,336.13 199.6,336.13 200.8,336.12 201.9,336.12 203.1,336.11 204.3,336.10 205.5,336.10 206.7,336.09 207.9,336.09 209.1,336.08 210.3,336.07 211.4,336.07 212.6,336.06 213.8,336.05 215.0,336.04 216.2,336.04 217.4,336.03 218.6,336.02 219.8,336.01 220.9,336.00 222.1,336.00 223.3,335.99 224.5,335.98 225.7,335.97 226.9,335.96 228.1,335.95 229.3,335.94 230.4,335.93 231.6,335.92 232.8,335.91 234.0,335.89 235.2,335.88 236.4,335.87 237.6,335.86 238.8,335.85 239.9,335.83 241.1,335.82 242.3,335.81 243.5,335.79 244.7,335.78 245.9,335.76 247.1,335.75 248.3,335.73 249.5,335.72 250.6,335.70 251.8,335.68 253.0,335.67 254.2,335.65 255.4,335.63 256.6,335.61 257.8,335.59 259.0,335.57 260.1,335.55 261.3,335.53 262.5,335.51 263.7,335.49 264.9,335.47 266.1,335.44 267.3,335.42 268.5,335.40 269.6,335.37 270.8,335.34 272.0,335.32 273.2,335.29 274.4,335.26 275.6,335.24 276.8,335.21 278.0,335.18 279.1,335.15 280.3,335.11 281.5,335.08 282.7,335.05 283.9,335.01 285.1,334.98 286.3,334.94 287.5,334.90 288.6,334.87 289.8,334.83 291.0,334.79 292.2,334.75 293.4,334.70 294.6,334.66 295.8,334.62 297.0,334.57 298.1,334.52 299.3,334.47 300.5,334.43 301.7,334.37 302.9,334.32 304.1,334.27 305.3,334.21 306.5,334.16 307.6,334.10 308.8,334.04 310.0,333.98 311.2,333.98 312.4,333.97 313.6,333.94 314.8,333.80 316.0,333.61 317.2,333.53 318.3,333.53 319.5,333.53 320.7,333.53 321.3,333.53 321.5,333.53 321.8,333.53 322.0,333.53 322.3,333.54 322.5,333.55 322.8,333.58 323.0,333.63 323.3,333.72 323.5,333.85 323.8,334.06 324.0,334.44 324.0,338.22 323.8,338.59 323.5,338.81 323.3,338.94 323.0,339.03 322.8,339.08 322.5,339.11 322.3,339.12 322.0,339.12 321.8,339.12 321.5,339.12 321.3,339.12 320.7,339.12 319.5,339.12 318.3,339.12 317.2,339.12 316.0,339.05 314.8,338.86 313.6,338.72 312.4,338.68 311.2,338.68 310.0,338.68 308.8,338.62 307.6,338.56 306.5,338.50 305.3,338.44 304.1,338.39 302.9,338.34 301.7,338.28 300.5,338.23 299.3,338.18 298.1,338.13 297.0,338.09 295.8,338.04 294.6,338.00 293.4,337.95 292.2,337.91 291.0,337.87 289.8,337.83 288.6,337.79 287.5,337.75 286.3,337.72 285.1,337.68 283.9,337.64 282.7,337.61 281.5,337.58 280.3,337.54 279.1,337.51 278.0,337.48 276.8,337.45 275.6,337.42 274.4,337.39 273.2,337.37 272.0,337.34 270.8,337.31 269.6,337.29 268.5,337.26 267.3,337.24 266.1,337.21 264.9,337.19 263.7,337.17 262.5,337.15 261.3,337.13 260.1,337.11 259.0,337.08 257.8,337.07 256.6,337.05 255.4,337.03 254.2,337.01 253.0,336.99 251.8,336.97 250.6,336.96 249.5,336.94 248.3,336.92 247.1,336.91 245.9,336.89 244.7,336.88 243.5,336.87 242.3,336.85 241.1,336.84 239.9,336.82 238.8,336.81 237.6,336.80 236.4,336.79 235.2,336.77 234.0,336.76 232.8,336.75 231.6,336.74 230.4,336.73 229.3,336.72 228.1,336.71 226.9,336.70 225.7,336.69 224.5,336.68 223.3,336.67 222.1,336.66 220.9,336.65 219.8,336.65 218.6,336.64 217.4,336.63 216.2,336.62 215.0,336.61 213.8,336.61 212.6,336.60 211.4,336.59 210.3,336.59 209.1,336.58 207.9,336.57 206.7,336.57 205.5,336.56 204.3,336.55 203.1,336.55 201.9,336.54 200.8,336.54 199.6,336.53 198.4,336.53 197.2,336.52 196.0,336.52 194.8,336.51 193.6,336.51 192.4,336.50 191.3,336.50 190.1,336.49 188.9,336.49 187.7,336.48 186.5,336.48"/><polygon points="176.6,348.18 177.2,348.06 178.4,348.05 179.5,348.05 180.7,348.05 181.9,348.04 183.1,348.04 184.3,348.03 185.5,348.03 186.7,348.03 187.8,348.02 189.0,348.02 190.2,348.01 191.4,348.01 192.6,348.01 193.8,348.00 195.0,348.00 196.2,347.99 197.3,347.99 198.5,347.98 199.7,347.98 200.9,347.97 202.1,347.96 203.3,347.96 204.5,347.95 205.6,347.95 206.8,347.94 208.0,347.93 209.2,347.93 210.4,347.92 211.6,347.91 212.8,347.91 213.9,347.90 215.1,347.89 216.3,347.88 217.5,347.88 218.7,347.87 219.9,347.86 221.1,347.85 222.3,347.84 223.4,347.83 224.6,347.83 225.8,347.82 227.0,347.81 228.2,347.80 229.4,347.79 230.6,347.78 231.7,347.77 232.9,347.75 234.1,347.74 235.3,347.73 236.5,347.72 237.7,347.71 238.9,347.69 240.0,347.68 241.2,347.67 242.4,347.65 243.6,347.64 244.8,347.63 246.0,347.61 247.2,347.60 248.4,347.58 249.5,347.56 250.7,347.55 251.9,347.53 253.1,347.51 254.3,347.50 255.5,347.48 256.7,347.46 257.8,347.44 259.0,347.42 260.2,347.40 261.4,347.38 262.6,347.36 263.8,347.34 265.0,347.31 266.1,347.29 267.3,347.27 268.5,347.24 269.7,347.22 270.9,347.19 272.1,347.17 273.3,347.14 274.5,347.11 275.6,347.08 276.8,347.05 278.0,347.02 279.2,346.99 280.4,346.96 281.6,346.93 282.8,346.90 283.9,346.86 285.1,346.83 286.3,346.79 287.5,346.75 288.7,346.71 289.9,346.68 291.1,346.64 292.2,346.59 293.4,346.55 294.6,346.51 295.8,346.46 297.0,346.42 298.2,346.37 299.4,346.32 300.6,346.27 301.7,346.22 302.9,346.17 304.1,346.12 305.3,346.06 306.5,346.00 307.7,345.95 308.9,345.89 310.0,345.83 311.2,345.83 312.4,345.82 313.6,345.79 314.8,345.65 316.0,345.46 317.2,345.38 318.3,345.38 319.5,345.38 320.7,345.38 321.3,345.38 321.5,345.38 321.8,345.38 322.0,345.38 322.3,345.39 322.5,345.40 322.8,345.43 323.0,345.48 323.3,345.57 323.5,345.70 323.8,345.91 324.0,346.29 324.0,350.07 323.8,350.44 323.5,350.66 323.3,350.79 323.0,350.87 322.8,350.93 322.5,350.95 322.3,350.97 322.0,350.97 321.8,350.97 321.5,350.97 321.3,350.97 320.7,350.97 319.5,350.97 318.3,350.97 317.2,350.97 316.0,350.90 314.8,350.71 313.6,350.57 312.4,350.53 311.2,350.53 310.0,350.53 308.9,350.47 307.7,350.41 306.5,350.35 305.3,350.29 304.1,350.24 302.9,350.19 301.7,350.13 300.6,350.08 299.4,350.03 298.2,349.99 297.0,349.94 295.8,349.89 294.6,349.85 293.4,349.80 292.2,349.76 291.1,349.72 289.9,349.68 288.7,349.64 287.5,349.60 286.3,349.57 285.1,349.53 283.9,349.50 282.8,349.46 281.6,349.43 280.4,349.39 279.2,349.36 278.0,349.33 276.8,349.30 275.6,349.27 274.5,349.24 273.3,349.22 272.1,349.19 270.9,349.16 269.7,349.14 268.5,349.11 267.3,349.09 266.1,349.06 265.0,349.04 263.8,349.02 262.6,349.00 261.4,348.98 260.2,348.96 259.0,348.94 257.8,348.92 256.7,348.90 255.5,348.88 254.3,348.86 253.1,348.84 251.9,348.82 250.7,348.81 249.5,348.79 248.4,348.78 247.2,348.76 246.0,348.74 244.8,348.73 243.6,348.72 242.4,348.70 241.2,348.69 240.0,348.67 238.9,348.66 237.7,348.65 236.5,348.64 235.3,348.62 234.1,348.61 232.9,348.60 231.7,348.59 230.6,348.58 229.4,348.57 228.2,348.56 227.0,348.55 225.8,348.54 224.6,348.53 223.4,348.52 222.3,348.51 221.1,348.50 219.9,348.50 218.7,348.49 217.5,348.48 216.3,348.47 215.1,348.46 213.9,348.46 212.8,348.45 211.6,348.44 210.4,348.43 209.2,348.43 208.0,348.42 206.8,348.42 205.6,348.41 204.5,348.40 203.3,348.40 202.1,348.39 200.9,348.39 199.7,348.38 198.5,348.38 197.3,348.37 196.2,348.37 195.0,348.36 193.8,348.36 192.6,348.35 191.4,348.35 190.2,348.34 189.0,348.34 187.8,348.33 186.7,348.33 185.5,348.33 184.3,348.32 183.1,348.32 181.9,348.31 180.7,348.31 179.5,348.31 178.4,348.30 177.2,348.30 176.6,348.18"/><polygon points="181.2,359.89 182.4,359.89 183.6,359.89 184.8,359.88 186.0,359.88 187.1,359.87 188.3,359.87 189.5,359.87 190.7,359.86 191.9,359.86 193.1,359.85 194.2,359.85 195.4,359.84 196.6,359.84 197.8,359.83 199.0,359.83 200.1,359.82 201.3,359.82 202.5,359.81 203.7,359.81 204.9,359.80 206.1,359.79 207.2,359.79 208.4,359.78 209.6,359.77 210.8,359.77 212.0,359.76 213.1,359.75 214.3,359.75 215.5,359.74 216.7,359.73 217.9,359.72 219.1,359.72 220.2,359.71 221.4,359.70 222.6,359.69 223.8,359.68 225.0,359.67 226.2,359.66 227.3,359.65 228.5,359.64 229.7,359.63 230.9,359.62 232.1,359.61 233.2,359.60 234.4,359.59 235.6,359.58 236.8,359.57 238.0,359.55 239.2,359.54 240.3,359.53 241.5,359.51 242.7,359.50 243.9,359.49 245.1,359.47 246.3,359.46 247.4,359.44 248.6,359.43 249.8,359.41 251.0,359.39 252.2,359.38 253.3,359.36 254.5,359.34 255.7,359.32 256.9,359.31 258.1,359.29 259.3,359.27 260.4,359.25 261.6,359.23 262.8,359.20 264.0,359.18 265.2,359.16 266.3,359.14 267.5,359.11 268.7,359.09 269.9,359.06 271.1,359.04 272.3,359.01 273.4,358.98 274.6,358.96 275.8,358.93 277.0,358.90 278.2,358.87 279.4,358.84 280.5,358.81 281.7,358.77 282.9,358.74 284.1,358.71 285.3,358.67 286.4,358.63 287.6,358.60 288.8,358.56 290.0,358.52 291.2,358.48 292.4,358.44 293.5,358.40 294.7,358.35 295.9,358.31 297.1,358.26 298.3,358.22 299.5,358.17 300.6,358.12 301.8,358.07 303.0,358.02 304.2,357.96 305.4,357.91 306.5,357.85 307.7,357.79 308.9,357.73 310.1,357.68 311.3,357.68 312.5,357.67 313.6,357.63 314.8,357.49 316.0,357.30 317.2,357.23 318.4,357.23 319.5,357.23 320.7,357.23 321.3,357.23 321.5,357.23 321.8,357.23 322.0,357.23 322.3,357.24 322.5,357.25 322.8,357.28 323.0,357.33 323.3,357.41 323.5,357.55 323.8,357.76 324.0,358.14 324.0,361.92 323.8,362.29 323.5,362.51 323.3,362.64 323.0,362.72 322.8,362.78 322.5,362.80 322.3,362.82 322.0,362.82 321.8,362.82 321.5,362.82 321.3,362.82 320.7,362.82 319.5,362.82 318.4,362.82 317.2,362.82 316.0,362.75 314.8,362.56 313.6,362.42 312.5,362.38 311.3,362.38 310.1,362.38 308.9,362.32 307.7,362.26 306.5,362.20 305.4,362.15 304.2,362.09 303.0,362.04 301.8,361.99 300.6,361.94 299.5,361.89 298.3,361.84 297.1,361.79 295.9,361.75 294.7,361.70 293.5,361.66 292.4,361.61 291.2,361.57 290.0,361.53 288.8,361.49 287.6,361.46 286.4,361.42 285.3,361.38 284.1,361.35 282.9,361.31 281.7,361.28 280.5,361.25 279.4,361.22 278.2,361.19 277.0,361.16 275.8,361.13 274.6,361.10 273.4,361.07 272.3,361.04 271.1,361.02 269.9,360.99 268.7,360.97 267.5,360.94 266.3,360.92 265.2,360.89 264.0,360.87 262.8,360.85 261.6,360.83 260.4,360.81 259.3,360.79 258.1,360.77 256.9,360.75 255.7,360.73 254.5,360.71 253.3,360.69 252.2,360.68 251.0,360.66 249.8,360.64 248.6,360.63 247.4,360.61 246.3,360.60 245.1,360.58 243.9,360.57 242.7,360.55 241.5,360.54 240.3,360.53 239.2,360.51 238.0,360.50 236.8,360.49 235.6,360.48 234.4,360.47 233.2,360.45 232.1,360.44 230.9,360.43 229.7,360.42 228.5,360.41 227.3,360.40 226.2,360.39 225.0,360.38 223.8,360.37 222.6,360.36 221.4,360.36 220.2,360.35 219.1,360.34 217.9,360.33 216.7,360.32 215.5,360.31 214.3,360.31 213.1,360.30 212.0,360.29 210.8,360.29 209.6,360.28 208.4,360.27 207.2,360.27 206.1,360.26 204.9,360.25 203.7,360.25 202.5,360.24 201.3,360.24 200.1,360.23 199.0,360.23 197.8,360.22 196.6,360.22 195.4,360.21 194.2,360.21 193.1,360.20 191.9,360.20 190.7,360.19 189.5,360.19 188.3,360.18 187.1,360.18 186.0,360.18 184.8,360.17 183.6,360.17 182.4,360.16 181.2,360.16"/><polygon points="211.0,371.88 211.6,371.75 212.8,371.75 214.0,371.74 215.2,371.73 216.3,371.72 217.5,371.71 218.7,371.70 219.9,371.69 221.1,371.68 222.3,371.67 223.5,371.66 224.6,371.64 225.8,371.63 227.0,371.62 228.2,371.60 229.4,371.59 230.6,371.57 231.8,371.56 233.0,371.54 234.1,371.53 235.3,371.51 236.5,371.49 237.7,371.47 238.9,371.46 240.1,371.44 241.3,371.42 242.4,371.40 243.6,371.38 244.8,371.36 246.0,371.34 247.2,371.31 248.4,371.29 249.6,371.27 250.7,371.25 251.9,371.22 253.1,371.20 254.3,371.18 255.5,371.15 256.7,371.13 257.9,371.10 259.0,371.08 260.2,371.05 261.4,371.03 262.6,371.00 263.8,370.98 265.0,370.96 266.2,370.93 267.3,370.91 268.5,370.88 269.7,370.86 270.9,370.83 272.1,370.81 273.3,370.79 274.5,370.76 275.7,370.74 276.8,370.72 278.0,370.70 279.2,370.68 280.4,370.65 281.6,370.63 282.8,370.62 284.0,370.60 285.1,370.58 286.3,370.56 287.5,370.55 288.7,370.53 289.9,370.52 291.1,370.50 292.3,370.49 293.4,370.48 294.6,370.47 295.8,370.46 297.0,370.45 298.2,370.44 299.4,370.44 300.6,370.43 301.7,370.43 302.9,370.43 304.1,370.43 305.3,370.43 306.5,370.43 307.7,370.43 308.9,370.43 310.0,370.43 311.2,370.43 312.4,370.44 313.6,370.44 314.8,370.45 316.0,370.45 317.2,370.46 318.3,370.46 319.5,370.47 320.7,370.47 321.3,370.48 321.5,370.48 321.8,370.48 322.0,370.48 322.3,370.48 322.5,370.49 322.8,370.49 323.0,370.52 323.3,370.59 323.5,370.70 323.8,370.87 324.0,371.14 324.0,372.62 323.8,372.88 323.5,373.05 323.3,373.16 323.0,373.23 322.8,373.26 322.5,373.27 322.3,373.27 322.0,373.27 321.8,373.27 321.5,373.27 321.3,373.27 320.7,373.28 319.5,373.28 318.3,373.29 317.2,373.30 316.0,373.30 314.8,373.31 313.6,373.31 312.4,373.31 311.2,373.32 310.0,373.32 308.9,373.32 307.7,373.32 306.5,373.33 305.3,373.33 304.1,373.33 302.9,373.32 301.7,373.32 300.6,373.32 299.4,373.31 298.2,373.31 297.0,373.30 295.8,373.29 294.6,373.28 293.4,373.27 292.3,373.26 291.1,373.25 289.9,373.24 288.7,373.22 287.5,373.21 286.3,373.19 285.1,373.17 284.0,373.15 282.8,373.14 281.6,373.12 280.4,373.10 279.2,373.08 278.0,373.06 276.8,373.03 275.7,373.01 274.5,372.99 273.3,372.97 272.1,372.94 270.9,372.92 269.7,372.89 268.5,372.87 267.3,372.85 266.2,372.82 265.0,372.80 263.8,372.77 262.6,372.75 261.4,372.72 260.2,372.70 259.0,372.67 257.9,372.65 256.7,372.62 255.5,372.60 254.3,372.58 253.1,372.55 251.9,372.53 250.7,372.51 249.6,372.48 248.4,372.46 247.2,372.44 246.0,372.42 244.8,372.40 243.6,372.37 242.4,372.35 241.3,372.33 240.1,372.31 238.9,372.30 237.7,372.28 236.5,372.26 235.3,372.24 234.1,372.23 233.0,372.21 231.8,372.19 230.6,372.18 229.4,372.16 228.2,372.15 227.0,372.13 225.8,372.12 224.6,372.11 223.5,372.10 222.3,372.08 221.1,372.07 219.9,372.06 218.7,372.05 217.5,372.04 216.3,372.03 215.2,372.02 214.0,372.01 212.8,372.01 211.6,372.00 211.0,371.88"/><polygon points="209.6,383.73 210.2,383.60 211.4,383.59 212.6,383.58 213.8,383.57 215.0,383.56 216.1,383.55 217.3,383.54 218.5,383.53 219.7,383.52 220.9,383.51 222.1,383.50 223.3,383.49 224.5,383.47 225.6,383.46 226.8,383.44 228.0,383.43 229.2,383.42 230.4,383.40 231.6,383.38 232.8,383.37 234.0,383.35 235.2,383.33 236.3,383.31 237.5,383.29 238.7,383.28 239.9,383.26 241.1,383.24 242.3,383.22 243.5,383.19 244.7,383.17 245.8,383.15 247.0,383.13 248.2,383.11 249.4,383.08 250.6,383.06 251.8,383.04 253.0,383.01 254.2,382.99 255.4,382.96 256.5,382.94 257.7,382.91 258.9,382.89 260.1,382.86 261.3,382.84 262.5,382.81 263.7,382.79 264.9,382.76 266.1,382.74 267.2,382.72 268.4,382.69 269.6,382.67 270.8,382.64 272.0,382.62 273.2,382.60 274.4,382.58 275.6,382.55 276.7,382.53 277.9,382.51 279.1,382.49 280.3,382.47 281.5,382.45 282.7,382.44 283.9,382.42 285.1,382.40 286.3,382.39 287.4,382.37 288.6,382.36 289.8,382.34 291.0,382.33 292.2,382.32 293.4,382.31 294.6,382.30 295.8,382.30 296.9,382.29 298.1,382.28 299.3,382.28 300.5,382.28 301.7,382.28 302.9,382.28 304.1,382.28 305.3,382.28 306.5,382.28 307.6,382.28 308.8,382.28 310.0,382.29 311.2,382.29 312.4,382.30 313.6,382.31 314.8,382.31 316.0,382.32 317.1,382.33 318.3,382.34 319.5,382.35 320.7,382.36 321.3,382.37 321.5,382.37 321.8,382.37 322.0,382.38 322.3,382.38 322.5,382.38 322.8,382.39 323.0,382.42 323.3,382.49 323.5,382.60 323.8,382.76 324.0,383.01 324.0,384.44 323.8,384.69 323.5,384.85 323.3,384.96 323.0,385.03 322.8,385.06 322.5,385.07 322.3,385.07 322.0,385.07 321.8,385.08 321.5,385.08 321.3,385.08 320.7,385.09 319.5,385.10 318.3,385.11 317.1,385.12 316.0,385.13 314.8,385.14 313.6,385.14 312.4,385.15 311.2,385.16 310.0,385.16 308.8,385.17 307.6,385.17 306.5,385.17 305.3,385.17 304.1,385.17 302.9,385.17 301.7,385.17 300.5,385.17 299.3,385.17 298.1,385.17 296.9,385.16 295.8,385.15 294.6,385.15 293.4,385.14 292.2,385.13 291.0,385.12 289.8,385.11 288.6,385.09 287.4,385.08 286.3,385.06 285.1,385.05 283.9,385.03 282.7,385.01 281.5,385.00 280.3,384.98 279.1,384.96 277.9,384.94 276.7,384.92 275.6,384.90 274.4,384.87 273.2,384.85 272.0,384.83 270.8,384.81 269.6,384.78 268.4,384.76 267.2,384.73 266.1,384.71 264.9,384.69 263.7,384.66 262.5,384.64 261.3,384.61 260.1,384.59 258.9,384.56 257.7,384.54 256.5,384.51 255.4,384.49 254.2,384.46 253.0,384.44 251.8,384.41 250.6,384.39 249.4,384.37 248.2,384.34 247.0,384.32 245.8,384.30 244.7,384.28 243.5,384.26 242.3,384.23 241.1,384.21 239.9,384.19 238.7,384.17 237.5,384.16 236.3,384.14 235.2,384.12 234.0,384.10 232.8,384.08 231.6,384.07 230.4,384.05 229.2,384.03 228.0,384.02 226.8,384.01 225.6,383.99 224.5,383.98 223.3,383.96 222.1,383.95 220.9,383.94 219.7,383.93 218.5,383.92 217.3,383.91 216.1,383.90 215.0,383.89 213.8,383.88 212.6,383.87 211.4,383.86 210.2,383.85 209.6,383.73"/><polygon points="210.8,395.57 211.4,395.45 212.6,395.44 213.8,395.43 214.9,395.42 216.1,395.41 217.3,395.40 218.5,395.39 219.7,395.38 220.9,395.37 222.1,395.36 223.3,395.34 224.4,395.33 225.6,395.32 226.8,395.30 228.0,395.29 229.2,395.27 230.4,395.26 231.6,395.24 232.8,395.22 234.0,395.20 235.1,395.18 236.3,395.17 237.5,395.15 238.7,395.13 239.9,395.11 241.1,395.08 242.3,395.06 243.5,395.04 244.7,395.02 245.8,394.99 247.0,394.97 248.2,394.95 249.4,394.92 250.6,394.90 251.8,394.87 253.0,394.85 254.2,394.82 255.3,394.80 256.5,394.77 257.7,394.74 258.9,394.72 260.1,394.69 261.3,394.67 262.5,394.64 263.7,394.61 264.9,394.59 266.0,394.56 267.2,394.54 268.4,394.51 269.6,394.49 270.8,394.46 272.0,394.44 273.2,394.42 274.4,394.39 275.6,394.37 276.7,394.35 277.9,394.33 279.1,394.31 280.3,394.29 281.5,394.27 282.7,394.25 283.9,394.24 285.1,394.22 286.2,394.21 287.4,394.19 288.6,394.18 289.8,394.17 291.0,394.16 292.2,394.15 293.4,394.14 294.6,394.14 295.8,394.13 296.9,394.13 298.1,394.13 299.3,394.12 300.5,394.12 301.7,394.13 302.9,394.13 304.1,394.13 305.3,394.13 306.5,394.14 307.6,394.14 308.8,394.15 310.0,394.16 311.2,394.17 312.4,394.18 313.6,394.19 314.8,394.20 316.0,394.21 317.1,394.23 318.3,394.24 319.5,394.25 320.7,394.27 321.3,394.28 321.5,394.28 321.8,394.28 322.0,394.29 322.3,394.29 322.5,394.29 322.8,394.30 323.0,394.33 323.3,394.40 323.5,394.50 323.8,394.66 324.0,394.90 324.0,396.25 323.8,396.49 323.5,396.65 323.3,396.75 323.0,396.82 322.8,396.85 322.5,396.85 322.3,396.86 322.0,396.86 321.8,396.86 321.5,396.87 321.3,396.87 320.7,396.88 319.5,396.89 318.3,396.91 317.1,396.92 316.0,396.94 314.8,396.95 313.6,396.96 312.4,396.97 311.2,396.98 310.0,396.99 308.8,397.00 307.6,397.00 306.5,397.01 305.3,397.01 304.1,397.02 302.9,397.02 301.7,397.02 300.5,397.02 299.3,397.02 298.1,397.02 296.9,397.02 295.8,397.02 294.6,397.01 293.4,397.00 292.2,397.00 291.0,396.99 289.8,396.98 288.6,396.97 287.4,396.95 286.2,396.94 285.1,396.93 283.9,396.91 282.7,396.89 281.5,396.88 280.3,396.86 279.1,396.84 277.9,396.82 276.7,396.80 275.6,396.78 274.4,396.75 273.2,396.73 272.0,396.71 270.8,396.68 269.6,396.66 268.4,396.64 267.2,396.61 266.0,396.59 264.9,396.56 263.7,396.53 262.5,396.51 261.3,396.48 260.1,396.46 258.9,396.43 257.7,396.40 256.5,396.38 255.3,396.35 254.2,396.33 253.0,396.30 251.8,396.28 250.6,396.25 249.4,396.23 248.2,396.20 247.0,396.18 245.8,396.15 244.7,396.13 243.5,396.11 242.3,396.09 241.1,396.06 239.9,396.04 238.7,396.02 237.5,396.00 236.3,395.98 235.1,395.96 234.0,395.95 232.8,395.93 231.6,395.91 230.4,395.89 229.2,395.88 228.0,395.86 226.8,395.85 225.6,395.83 224.4,395.82 223.3,395.80 222.1,395.79 220.9,395.78 219.7,395.77 218.5,395.76 217.3,395.75 216.1,395.73 214.9,395.73 213.8,395.72 212.6,395.71 211.4,395.70 210.8,395.57"/><polygon points="206.4,407.42 207.0,407.30 208.2,407.29 209.3,407.28 210.5,407.26 211.7,407.25 212.9,407.24 214.1,407.22 215.3,407.21 216.5,407.19 217.6,407.18 218.8,407.16 220.0,407.14 221.2,407.12 222.4,407.10 223.6,407.08 224.7,407.06 225.9,407.04 227.1,407.01 228.3,406.99 229.5,406.96 230.7,406.94 231.9,406.91 233.0,406.88 234.2,406.86 235.4,406.83 236.6,406.80 237.8,406.77 239.0,406.73 240.2,406.70 241.3,406.67 242.5,406.64 243.7,406.60 244.9,406.57 246.1,406.54 247.3,406.50 248.4,406.47 249.6,406.44 250.8,406.40 252.0,406.37 253.2,406.34 254.4,406.30 255.6,406.27 256.7,406.24 257.9,406.21 259.1,406.18 260.3,406.15 261.5,406.12 262.7,406.09 263.8,406.07 265.0,406.04 266.2,406.02 267.4,406.00 268.6,405.98 269.8,405.96 271.0,405.94 272.1,405.93 273.3,405.91 274.5,405.90 275.7,405.89 276.9,405.89 278.1,405.88 279.3,405.88 280.4,405.87 281.6,405.87 282.8,405.88 284.0,405.88 285.2,405.88 286.4,405.89 287.5,405.90 288.7,405.91 289.9,405.92 291.1,405.94 292.3,405.95 293.5,405.97 294.7,405.99 295.8,406.01 297.0,406.03 298.2,406.05 299.4,406.07 300.6,406.10 301.8,406.12 302.9,406.15 304.1,406.18 305.3,406.21 306.5,406.23 307.7,406.26 308.9,406.29 310.1,406.32 311.2,406.36 312.4,406.39 313.6,406.42 314.8,406.45 316.0,406.48 317.2,406.51 318.4,406.55 319.5,406.58 320.7,406.61 321.3,406.62 321.5,406.63 321.8,406.64 322.0,406.64 322.3,406.65 322.5,406.66 322.8,406.66 323.0,406.69 323.3,406.73 323.5,406.80 323.8,406.89 324.0,407.03 324.0,407.81 323.8,407.96 323.5,408.05 323.3,408.12 323.0,408.16 322.8,408.18 322.5,408.19 322.3,408.20 322.0,408.20 321.8,408.21 321.5,408.22 321.3,408.22 320.7,408.24 319.5,408.27 318.4,408.30 317.2,408.33 316.0,408.36 314.8,408.40 313.6,408.43 312.4,408.46 311.2,408.49 310.1,408.52 308.9,408.55 307.7,408.58 306.5,408.61 305.3,408.64 304.1,408.67 302.9,408.70 301.8,408.72 300.6,408.75 299.4,408.77 298.2,408.80 297.0,408.82 295.8,408.84 294.7,408.86 293.5,408.88 292.3,408.89 291.1,408.91 289.9,408.92 288.7,408.94 287.5,408.95 286.4,408.95 285.2,408.96 284.0,408.97 282.8,408.97 281.6,408.97 280.4,408.97 279.3,408.97 278.1,408.97 276.9,408.96 275.7,408.95 274.5,408.94 273.3,408.93 272.1,408.92 271.0,408.90 269.8,408.89 268.6,408.87 267.4,408.85 266.2,408.83 265.0,408.80 263.8,408.78 262.7,408.75 261.5,408.72 260.3,408.70 259.1,408.67 257.9,408.64 256.7,408.61 255.6,408.57 254.4,408.54 253.2,408.51 252.0,408.48 250.8,408.44 249.6,408.41 248.4,408.38 247.3,408.34 246.1,408.31 244.9,408.27 243.7,408.24 242.5,408.21 241.3,408.18 240.2,408.14 239.0,408.11 237.8,408.08 236.6,408.05 235.4,408.02 234.2,407.99 233.0,407.96 231.9,407.93 230.7,407.91 229.5,407.88 228.3,407.86 227.1,407.83 225.9,407.81 224.7,407.79 223.6,407.76 222.4,407.74 221.2,407.72 220.0,407.70 218.8,407.69 217.6,407.67 216.5,407.65 215.3,407.64 214.1,407.62 212.9,407.61 211.7,407.59 210.5,407.58 209.3,407.57 208.2,407.56 207.0,407.55 206.4,407.42"/><polygon points="199.5,419.27 200.1,419.14 201.2,419.13 202.4,419.12 203.6,419.11 204.8,419.09 206.0,419.08 207.2,419.06 208.3,419.05 209.5,419.03 210.7,419.01 211.9,419.00 213.1,418.98 214.3,418.96 215.4,418.94 216.6,418.91 217.8,418.89 219.0,418.87 220.2,418.84 221.4,418.82 222.5,418.79 223.7,418.76 224.9,418.73 226.1,418.70 227.3,418.68 228.5,418.65 229.6,418.61 230.8,418.58 232.0,418.55 233.2,418.52 234.4,418.49 235.6,418.46 236.7,418.42 237.9,418.39 239.1,418.36 240.3,418.33 241.5,418.29 242.7,418.26 243.8,418.23 245.0,418.20 246.2,418.17 247.4,418.14 248.6,418.12 249.7,418.09 250.9,418.06 252.1,418.04 253.3,418.02 254.5,417.99 255.7,417.97 256.8,417.96 258.0,417.94 259.2,417.92 260.4,417.91 261.6,417.90 262.8,417.89 263.9,417.88 265.1,417.88 266.3,417.87 267.5,417.87 268.7,417.87 269.9,417.88 271.0,417.88 272.2,417.89 273.4,417.91 274.6,417.92 275.8,417.94 277.0,417.96 278.1,417.99 279.3,418.01 280.5,418.04 281.7,418.07 282.9,418.11 284.1,418.14 285.2,418.18 286.4,418.21 287.6,418.25 288.8,418.29 290.0,418.33 291.2,418.37 292.3,418.41 293.5,418.45 294.7,418.49 295.9,418.53 297.1,418.57 298.3,418.61 299.4,418.64 300.6,418.68 301.8,418.72 303.0,418.75 304.2,418.79 305.4,418.82 306.5,418.85 307.7,418.88 308.9,418.91 310.1,418.94 311.3,418.96 312.4,418.99 313.6,419.01 314.8,419.03 316.0,419.05 317.2,419.07 318.4,419.09 319.5,419.11 320.7,419.12 321.3,419.13 321.5,419.13 321.8,419.14 322.0,419.14 322.3,419.14 322.5,419.14 322.8,419.15 323.0,419.15 323.3,419.16 323.5,419.17 323.8,419.19 324.0,419.21 324.0,419.33 323.8,419.35 323.5,419.37 323.3,419.38 323.0,419.39 322.8,419.40 322.5,419.40 322.3,419.40 322.0,419.40 321.8,419.41 321.5,419.41 321.3,419.41 320.7,419.42 319.5,419.44 318.4,419.45 317.2,419.47 316.0,419.49 314.8,419.51 313.6,419.53 312.4,419.56 311.3,419.58 310.1,419.61 308.9,419.63 307.7,419.66 306.5,419.69 305.4,419.72 304.2,419.76 303.0,419.79 301.8,419.83 300.6,419.86 299.4,419.90 298.3,419.94 297.1,419.98 295.9,420.02 294.7,420.06 293.5,420.10 292.3,420.14 291.2,420.18 290.0,420.22 288.8,420.25 287.6,420.29 286.4,420.33 285.2,420.37 284.1,420.40 282.9,420.44 281.7,420.47 280.5,420.50 279.3,420.53 278.1,420.56 277.0,420.58 275.8,420.60 274.6,420.62 273.4,420.64 272.2,420.65 271.0,420.66 269.9,420.67 268.7,420.67 267.5,420.67 266.3,420.67 265.1,420.67 263.9,420.66 262.8,420.65 261.6,420.64 260.4,420.63 259.2,420.62 258.0,420.60 256.8,420.59 255.7,420.57 254.5,420.55 253.3,420.53 252.1,420.50 250.9,420.48 249.7,420.45 248.6,420.43 247.4,420.40 246.2,420.37 245.0,420.34 243.8,420.31 242.7,420.28 241.5,420.25 240.3,420.22 239.1,420.19 237.9,420.15 236.7,420.12 235.6,420.09 234.4,420.06 233.2,420.02 232.0,419.99 230.8,419.96 229.6,419.93 228.5,419.90 227.3,419.87 226.1,419.84 224.9,419.81 223.7,419.78 222.5,419.76 221.4,419.73 220.2,419.70 219.0,419.68 217.8,419.65 216.6,419.63 215.4,419.61 214.3,419.59 213.1,419.57 211.9,419.55 210.7,419.53 209.5,419.51 208.3,419.50 207.2,419.48 206.0,419.46 204.8,419.45 203.6,419.44 202.4,419.42 201.2,419.41 200.1,419.40 199.5,419.27"/><polygon points="194.7,431.12 195.3,431.00 196.5,430.99 197.7,430.98 198.9,430.96 200.1,430.95 201.2,430.94 202.4,430.92 203.6,430.90 204.8,430.89 206.0,430.87 207.2,430.85 208.3,430.83 209.5,430.81 210.7,430.79 211.9,430.76 213.1,430.74 214.3,430.72 215.4,430.69 216.6,430.66 217.8,430.64 219.0,430.61 220.2,430.58 221.4,430.55 222.5,430.52 223.7,430.49 224.9,430.46 226.1,430.42 227.3,430.39 228.5,430.36 229.6,430.33 230.8,430.29 232.0,430.26 233.2,430.23 234.4,430.19 235.6,430.16 236.7,430.13 237.9,430.09 239.1,430.06 240.3,430.03 241.5,430.00 242.7,429.97 243.8,429.94 245.0,429.92 246.2,429.89 247.4,429.87 248.6,429.85 249.8,429.82 250.9,429.81 252.1,429.79 253.3,429.77 254.5,429.76 255.7,429.75 256.8,429.74 258.0,429.73 259.2,429.73 260.4,429.72 261.6,429.72 262.8,429.72 263.9,429.73 265.1,429.74 266.3,429.75 267.5,429.76 268.7,429.78 269.9,429.80 271.0,429.82 272.2,429.84 273.4,429.87 274.6,429.90 275.8,429.93 277.0,429.96 278.1,430.00 279.3,430.03 280.5,430.07 281.7,430.11 282.9,430.15 284.1,430.19 285.2,430.23 286.4,430.27 287.6,430.31 288.8,430.35 290.0,430.39 291.2,430.43 292.3,430.47 293.5,430.50 294.7,430.54 295.9,430.58 297.1,430.61 298.3,430.64 299.4,430.68 300.6,430.71 301.8,430.74 303.0,430.77 304.2,430.79 305.4,430.82 306.5,430.84 307.7,430.87 308.9,430.89 310.1,430.91 311.3,430.93 312.4,430.94 313.6,430.96 314.8,430.98 316.0,430.99 317.2,431.00 318.4,431.02 319.5,431.03 320.7,431.04 321.3,431.04 321.5,431.04 321.8,431.04 322.0,431.05 322.3,431.05 322.5,431.05 322.8,431.05 323.0,431.05 323.3,431.06 323.5,431.07 324.1,431.12 324.1,431.12 323.5,431.18 323.3,431.18 323.0,431.19 322.8,431.19 322.5,431.19 322.3,431.19 322.0,431.20 321.8,431.20 321.5,431.20 321.3,431.20 320.7,431.21 319.5,431.22 318.4,431.23 317.2,431.24 316.0,431.25 314.8,431.27 313.6,431.28 312.4,431.30 311.3,431.31 310.1,431.33 308.9,431.35 307.7,431.38 306.5,431.40 305.4,431.42 304.2,431.45 303.0,431.48 301.8,431.50 300.6,431.53 299.4,431.56 298.3,431.60 297.1,431.63 295.9,431.67 294.7,431.70 293.5,431.74 292.3,431.78 291.2,431.81 290.0,431.85 288.8,431.89 287.6,431.93 286.4,431.97 285.2,432.01 284.1,432.05 282.9,432.09 281.7,432.13 280.5,432.17 279.3,432.21 278.1,432.24 277.0,432.28 275.8,432.31 274.6,432.34 273.4,432.37 272.2,432.40 271.0,432.42 269.9,432.45 268.7,432.47 267.5,432.48 266.3,432.50 265.1,432.51 263.9,432.51 262.8,432.52 261.6,432.52 260.4,432.52 259.2,432.52 258.0,432.51 256.8,432.50 255.7,432.49 254.5,432.48 253.3,432.47 252.1,432.45 250.9,432.44 249.8,432.42 248.6,432.40 247.4,432.37 246.2,432.35 245.0,432.32 243.8,432.30 242.7,432.27 241.5,432.24 240.3,432.21 239.1,432.18 237.9,432.15 236.7,432.12 235.6,432.08 234.4,432.05 233.2,432.02 232.0,431.98 230.8,431.95 229.6,431.92 228.5,431.88 227.3,431.85 226.1,431.82 224.9,431.79 223.7,431.75 222.5,431.72 221.4,431.69 220.2,431.66 219.0,431.63 217.8,431.61 216.6,431.58 215.4,431.55 214.3,431.53 213.1,431.50 211.9,431.48 210.7,431.45 209.5,431.43 208.3,431.41 207.2,431.39 206.0,431.37 204.8,431.36 203.6,431.34 202.4,431.32 201.2,431.31 200.1,431.29 198.9,431.28 197.7,431.27 196.5,431.25 195.3,431.24 194.7,431.12"/><polygon points="196.0,442.97 196.6,442.84 197.8,442.83 198.9,442.82 200.1,442.81 201.3,442.79 202.5,442.78 203.7,442.76 204.9,442.74 206.0,442.73 207.2,442.71 208.4,442.69 209.6,442.67 210.8,442.64 212.0,442.62 213.1,442.60 214.3,442.57 215.5,442.54 216.7,442.52 217.9,442.49 219.0,442.46 220.2,442.43 221.4,442.40 222.6,442.37 223.8,442.33 225.0,442.30 226.1,442.27 227.3,442.23 228.5,442.20 229.7,442.17 230.9,442.13 232.1,442.10 233.2,442.06 234.4,442.03 235.6,441.99 236.8,441.96 238.0,441.93 239.1,441.90 240.3,441.86 241.5,441.83 242.7,441.80 243.9,441.78 245.1,441.75 246.2,441.72 247.4,441.70 248.6,441.68 249.8,441.66 251.0,441.64 252.2,441.62 253.3,441.61 254.5,441.60 255.7,441.59 256.9,441.58 258.1,441.57 259.2,441.57 260.4,441.57 261.6,441.57 262.8,441.58 264.0,441.59 265.2,441.60 266.3,441.61 267.5,441.63 268.7,441.65 269.9,441.68 271.1,441.71 272.3,441.74 273.4,441.77 274.6,441.80 275.8,441.84 277.0,441.87 278.2,441.91 279.3,441.95 280.5,441.99 281.7,442.03 282.9,442.07 284.1,442.12 285.3,442.16 286.4,442.20 287.6,442.24 288.8,442.28 290.0,442.32 291.2,442.36 292.4,442.40 293.5,442.44 294.7,442.47 295.9,442.51 297.1,442.54 298.3,442.57 299.4,442.60 300.6,442.63 301.8,442.66 303.0,442.68 304.2,442.71 305.4,442.73 306.5,442.75 307.7,442.77 308.9,442.79 310.1,442.81 311.3,442.82 312.5,442.84 313.6,442.85 314.8,442.86 316.0,442.88 317.2,442.89 318.4,442.90 319.5,442.90 320.7,442.91 321.3,442.91 321.5,442.92 321.8,442.92 322.0,442.92 322.6,442.97 322.6,442.97 322.0,443.02 321.8,443.02 321.5,443.02 321.3,443.03 320.7,443.03 319.5,443.04 318.4,443.04 317.2,443.05 316.0,443.06 314.8,443.08 313.6,443.09 312.5,443.10 311.3,443.12 310.1,443.13 308.9,443.15 307.7,443.17 306.5,443.19 305.4,443.21 304.2,443.23 303.0,443.26 301.8,443.28 300.6,443.31 299.4,443.34 298.3,443.37 297.1,443.40 295.9,443.43 294.7,443.47 293.5,443.50 292.4,443.54 291.2,443.58 290.0,443.62 288.8,443.66 287.6,443.70 286.4,443.74 285.3,443.78 284.1,443.82 282.9,443.87 281.7,443.91 280.5,443.95 279.3,443.99 278.2,444.03 277.0,444.07 275.8,444.10 274.6,444.14 273.4,444.17 272.3,444.20 271.1,444.23 269.9,444.26 268.7,444.29 267.5,444.31 266.3,444.33 265.2,444.34 264.0,444.35 262.8,444.36 261.6,444.37 260.4,444.37 259.2,444.37 258.1,444.37 256.9,444.36 255.7,444.35 254.5,444.34 253.3,444.33 252.2,444.32 251.0,444.30 249.8,444.28 248.6,444.26 247.4,444.24 246.2,444.22 245.1,444.19 243.9,444.16 242.7,444.14 241.5,444.11 240.3,444.08 239.1,444.04 238.0,444.01 236.8,443.98 235.6,443.95 234.4,443.91 233.2,443.88 232.1,443.84 230.9,443.81 229.7,443.77 228.5,443.74 227.3,443.71 226.1,443.67 225.0,443.64 223.8,443.61 222.6,443.57 221.4,443.54 220.2,443.51 219.0,443.48 217.9,443.45 216.7,443.42 215.5,443.40 214.3,443.37 213.1,443.34 212.0,443.32 210.8,443.30 209.6,443.27 208.4,443.25 207.2,443.23 206.0,443.21 204.9,443.20 203.7,443.18 202.5,443.16 201.3,443.15 200.1,443.13 198.9,443.12 197.8,443.11 196.6,443.10 196.0,442.97"/><polygon points="193.9,454.82 194.5,454.69 195.7,454.68 196.9,454.66 198.1,454.65 199.3,454.63 200.5,454.62 201.7,454.60 202.8,454.58 204.0,454.56 205.2,454.54 206.4,454.52 207.6,454.50 208.8,454.48 210.0,454.45 211.2,454.43 212.4,454.40 213.6,454.37 214.7,454.34 215.9,454.31 217.1,454.28 218.3,454.25 219.5,454.22 220.7,454.19 221.9,454.15 223.1,454.12 224.3,454.08 225.5,454.05 226.7,454.01 227.8,453.98 229.0,453.94 230.2,453.90 231.4,453.87 232.6,453.83 233.8,453.80 235.0,453.76 236.2,453.73 237.4,453.70 238.6,453.66 239.7,453.63 240.9,453.60 242.1,453.57 243.3,453.54 244.5,453.52 245.7,453.50 246.9,453.47 248.1,453.45 249.3,453.43 250.5,453.42 251.7,453.40 252.8,453.39 254.0,453.38 255.2,453.38 256.4,453.37 257.6,453.37 258.8,453.37 260.0,453.37 261.2,453.38 262.4,453.39 263.6,453.41 264.8,453.42 265.9,453.44 267.1,453.47 268.3,453.50 269.5,453.52 270.7,453.56 271.9,453.59 273.1,453.63 274.3,453.66 275.5,453.70 276.7,453.74 277.8,453.79 279.0,453.83 280.2,453.87 281.4,453.92 282.6,453.96 283.8,454.00 285.0,454.05 286.2,454.09 287.4,454.13 288.6,454.17 289.8,454.21 290.9,454.25 292.1,454.29 293.3,454.33 294.5,454.36 295.7,454.39 296.9,454.43 298.1,454.46 299.3,454.49 300.5,454.51 301.7,454.54 302.8,454.56 304.0,454.59 305.2,454.61 306.4,454.63 307.6,454.65 308.8,454.66 310.0,454.68 311.2,454.69 312.4,454.71 313.6,454.72 314.8,454.73 315.9,454.74 317.1,454.75 318.3,454.76 319.5,454.76 320.1,454.82 320.1,454.82 319.5,454.87 318.3,454.88 317.1,454.89 315.9,454.90 314.8,454.91 313.6,454.92 312.4,454.93 311.2,454.94 310.0,454.96 308.8,454.97 307.6,454.99 306.4,455.01 305.2,455.03 304.0,455.05 302.8,455.07 301.7,455.10 300.5,455.12 299.3,455.15 298.1,455.18 296.9,455.21 295.7,455.24 294.5,455.28 293.3,455.31 292.1,455.35 290.9,455.39 289.8,455.43 288.6,455.47 287.4,455.51 286.2,455.55 285.0,455.59 283.8,455.64 282.6,455.68 281.4,455.72 280.2,455.77 279.0,455.81 277.8,455.85 276.7,455.89 275.5,455.93 274.3,455.97 273.1,456.01 271.9,456.05 270.7,456.08 269.5,456.11 268.3,456.14 267.1,456.17 265.9,456.19 264.8,456.21 263.6,456.23 262.4,456.25 261.2,456.26 260.0,456.26 258.8,456.27 257.6,456.27 256.4,456.27 255.2,456.26 254.0,456.26 252.8,456.25 251.7,456.23 250.5,456.22 249.3,456.20 248.1,456.19 246.9,456.17 245.7,456.14 244.5,456.12 243.3,456.09 242.1,456.07 240.9,456.04 239.7,456.01 238.6,455.98 237.4,455.94 236.2,455.91 235.0,455.88 233.8,455.84 232.6,455.81 231.4,455.77 230.2,455.73 229.0,455.70 227.8,455.66 226.7,455.63 225.5,455.59 224.3,455.55 223.1,455.52 221.9,455.48 220.7,455.45 219.5,455.42 218.3,455.39 217.1,455.35 215.9,455.32 214.7,455.29 213.6,455.27 212.4,455.24 211.2,455.21 210.0,455.19 208.8,455.16 207.6,455.14 206.4,455.12 205.2,455.09 204.0,455.07 202.8,455.06 201.7,455.04 200.5,455.02 199.3,455.00 198.1,454.99 196.9,454.98 195.7,454.96 194.5,454.95 193.9,454.82"/><polygon points="194.2,466.67 194.8,466.54 196.0,466.53 197.2,466.52 198.4,466.50 199.6,466.49 200.7,466.47 201.9,466.45 203.1,466.43 204.3,466.41 205.5,466.39 206.7,466.36 207.8,466.34 209.0,466.31 210.2,466.28 211.4,466.25 212.6,466.22 213.8,466.19 215.0,466.16 216.1,466.12 217.3,466.09 218.5,466.05 219.7,466.01 220.9,465.97 222.1,465.93 223.3,465.89 224.4,465.85 225.6,465.80 226.8,465.76 228.0,465.72 229.2,465.67 230.4,465.63 231.5,465.58 232.7,465.54 233.9,465.50 235.1,465.46 236.3,465.41 237.5,465.37 238.7,465.34 239.8,465.30 241.0,465.26 242.2,465.23 243.4,465.20 244.6,465.17 245.8,465.14 247.0,465.11 248.1,465.09 249.3,465.07 250.5,465.06 251.7,465.04 252.9,465.03 254.1,465.02 255.2,465.02 256.4,465.02 257.6,465.02 258.8,465.03 260.0,465.03 261.2,465.05 262.4,465.06 263.5,465.08 264.7,465.10 265.9,465.13 267.1,465.15 268.3,465.18 269.5,465.22 270.7,465.25 271.8,465.29 273.0,465.33 274.2,465.37 275.4,465.41 276.6,465.45 277.8,465.49 278.9,465.54 280.1,465.58 281.3,465.63 282.5,465.67 283.7,465.72 284.9,465.77 286.1,465.81 287.2,465.85 288.4,465.90 289.6,465.94 290.8,465.98 292.0,466.02 293.2,466.06 294.4,466.10 295.5,466.14 296.7,466.17 297.9,466.21 299.1,466.24 300.3,466.27 301.5,466.30 302.6,466.33 303.8,466.36 305.0,466.38 306.2,466.41 307.4,466.43 308.6,466.45 309.8,466.47 310.9,466.49 312.1,466.50 313.3,466.52 314.5,466.53 315.7,466.55 316.9,466.56 318.1,466.57 319.2,466.58 320.4,466.59 321.0,466.59 321.2,466.59 321.5,466.60 321.7,466.60 322.0,466.60 322.2,466.60 322.5,466.60 322.7,466.61 323.0,466.61 323.2,466.62 323.8,466.67 323.8,466.67 323.2,466.72 323.0,466.73 322.7,466.73 322.5,466.73 322.2,466.73 322.0,466.74 321.7,466.74 321.5,466.74 321.2,466.74 321.0,466.74 320.4,466.75 319.2,466.76 318.1,466.77 316.9,466.78 315.7,466.79 314.5,466.80 313.3,466.82 312.1,466.83 310.9,466.85 309.8,466.87 308.6,466.89 307.4,466.91 306.2,466.93 305.0,466.95 303.8,466.98 302.6,467.01 301.5,467.03 300.3,467.06 299.1,467.09 297.9,467.13 296.7,467.16 295.5,467.20 294.4,467.23 293.2,467.27 292.0,467.31 290.8,467.35 289.6,467.39 288.4,467.44 287.2,467.48 286.1,467.53 284.9,467.57 283.7,467.62 282.5,467.66 281.3,467.71 280.1,467.75 278.9,467.80 277.8,467.84 276.6,467.89 275.4,467.93 274.2,467.97 273.0,468.01 271.8,468.05 270.7,468.09 269.5,468.12 268.3,468.15 267.1,468.18 265.9,468.21 264.7,468.23 263.5,468.26 262.4,468.27 261.2,468.29 260.0,468.30 258.8,468.31 257.6,468.32 256.4,468.32 255.2,468.32 254.1,468.31 252.9,468.30 251.7,468.29 250.5,468.28 249.3,468.26 248.1,468.24 247.0,468.22 245.8,468.20 244.6,468.17 243.4,468.14 242.2,468.11 241.0,468.07 239.8,468.04 238.7,468.00 237.5,467.96 236.3,467.92 235.1,467.88 233.9,467.84 232.7,467.79 231.5,467.75 230.4,467.71 229.2,467.66 228.0,467.62 226.8,467.58 225.6,467.53 224.4,467.49 223.3,467.45 222.1,467.41 220.9,467.37 219.7,467.33 218.5,467.29 217.3,467.25 216.1,467.21 215.0,467.18 213.8,467.15 212.6,467.11 211.4,467.08 210.2,467.05 209.0,467.02 207.8,467.00 206.7,466.97 205.5,466.95 204.3,466.93 203.1,466.90 201.9,466.88 200.7,466.87 199.6,466.85 198.4,466.83 197.2,466.82 196.0,466.80 194.8,466.79 194.2,466.67"/><polygon points="194.1,478.52 194.7,478.39 195.9,478.38 197.1,478.36 198.2,478.35 199.4,478.33 200.6,478.31 201.8,478.30 203.0,478.27 204.2,478.25 205.4,478.23 206.6,478.20 207.7,478.18 208.9,478.15 210.1,478.12 211.3,478.09 212.5,478.06 213.7,478.02 214.9,477.99 216.1,477.95 217.2,477.91 218.4,477.87 219.6,477.83 220.8,477.79 222.0,477.74 223.2,477.70 224.4,477.65 225.6,477.61 226.7,477.56 227.9,477.51 229.1,477.46 230.3,477.42 231.5,477.37 232.7,477.32 233.9,477.27 235.1,477.23 236.2,477.18 237.4,477.14 238.6,477.09 239.8,477.05 241.0,477.01 242.2,476.97 243.4,476.93 244.6,476.90 245.7,476.87 246.9,476.84 248.1,476.81 249.3,476.79 250.5,476.77 251.7,476.75 252.9,476.74 254.1,476.73 255.2,476.72 256.4,476.72 257.6,476.72 258.8,476.72 260.0,476.73 261.2,476.74 262.4,476.75 263.6,476.77 264.7,476.79 265.9,476.82 267.1,476.85 268.3,476.88 269.5,476.91 270.7,476.95 271.9,476.99 273.1,477.03 274.2,477.07 275.4,477.11 276.6,477.16 277.8,477.21 279.0,477.26 280.2,477.30 281.4,477.35 282.6,477.40 283.7,477.45 284.9,477.50 286.1,477.55 287.3,477.60 288.5,477.65 289.7,477.70 290.9,477.74 292.1,477.79 293.2,477.83 294.4,477.88 295.6,477.92 296.8,477.96 298.0,478.00 299.2,478.03 300.4,478.07 301.6,478.10 302.8,478.13 303.9,478.16 305.1,478.19 306.3,478.22 307.5,478.24 308.7,478.27 309.9,478.29 311.1,478.31 312.3,478.33 313.4,478.35 314.6,478.36 315.8,478.38 317.0,478.39 318.2,478.40 319.4,478.42 320.6,478.43 321.1,478.43 321.4,478.43 321.6,478.43 321.9,478.44 322.1,478.44 322.4,478.44 322.6,478.44 322.9,478.45 323.1,478.45 323.4,478.46 324.0,478.52 324.0,478.52 323.4,478.58 323.1,478.58 322.9,478.59 322.6,478.59 322.4,478.59 322.1,478.60 321.9,478.60 321.6,478.60 321.4,478.60 321.1,478.60 320.6,478.61 319.4,478.62 318.2,478.63 317.0,478.64 315.8,478.66 314.6,478.67 313.4,478.69 312.3,478.71 311.1,478.73 309.9,478.75 308.7,478.77 307.5,478.79 306.3,478.82 305.1,478.84 303.9,478.87 302.8,478.90 301.6,478.93 300.4,478.97 299.2,479.00 298.0,479.04 296.8,479.08 295.6,479.12 294.4,479.16 293.2,479.20 292.1,479.24 290.9,479.29 289.7,479.34 288.5,479.38 287.3,479.43 286.1,479.48 284.9,479.53 283.7,479.58 282.6,479.63 281.4,479.68 280.2,479.73 279.0,479.78 277.8,479.83 276.6,479.87 275.4,479.92 274.2,479.96 273.1,480.01 271.9,480.05 270.7,480.09 269.5,480.12 268.3,480.16 267.1,480.19 265.9,480.22 264.7,480.24 263.6,480.26 262.4,480.28 261.2,480.29 260.0,480.31 258.8,480.31 257.6,480.32 256.4,480.32 255.2,480.31 254.1,480.31 252.9,480.30 251.7,480.28 250.5,480.26 249.3,480.24 248.1,480.22 246.9,480.19 245.7,480.17 244.6,480.13 243.4,480.10 242.2,480.06 241.0,480.02 239.8,479.98 238.6,479.94 237.4,479.90 236.2,479.85 235.1,479.81 233.9,479.76 232.7,479.71 231.5,479.67 230.3,479.62 229.1,479.57 227.9,479.52 226.7,479.48 225.6,479.43 224.4,479.38 223.2,479.34 222.0,479.29 220.8,479.25 219.6,479.20 218.4,479.16 217.2,479.12 216.1,479.08 214.9,479.05 213.7,479.01 212.5,478.98 211.3,478.95 210.1,478.91 208.9,478.88 207.7,478.86 206.6,478.83 205.4,478.80 204.2,478.78 203.0,478.76 201.8,478.74 200.6,478.72 199.4,478.70 198.2,478.68 197.1,478.67 195.9,478.65 194.7,478.64 194.1,478.52"/><polygon points="194.5,490.37 195.1,490.24 196.3,490.22 197.5,490.21 198.6,490.19 199.8,490.18 201.0,490.16 202.2,490.14 203.4,490.12 204.5,490.10 205.7,490.07 206.9,490.05 208.1,490.02 209.3,490.00 210.5,489.97 211.6,489.94 212.8,489.91 214.0,489.87 215.2,489.84 216.4,489.80 217.6,489.77 218.7,489.73 219.9,489.69 221.1,489.65 222.3,489.61 223.5,489.57 224.7,489.52 225.8,489.48 227.0,489.44 228.2,489.39 229.4,489.35 230.6,489.31 231.7,489.26 232.9,489.22 234.1,489.18 235.3,489.13 236.5,489.09 237.7,489.05 238.8,489.02 240.0,488.98 241.2,488.94 242.4,488.91 243.6,488.88 244.8,488.85 245.9,488.83 247.1,488.80 248.3,488.78 249.5,488.76 250.7,488.75 251.8,488.74 253.0,488.73 254.2,488.72 255.4,488.72 256.6,488.72 257.8,488.72 258.9,488.73 260.1,488.74 261.3,488.75 262.5,488.77 263.7,488.79 264.9,488.81 266.0,488.84 267.2,488.86 268.4,488.89 269.6,488.93 270.8,488.96 271.9,489.00 273.1,489.04 274.3,489.08 275.5,489.12 276.7,489.16 277.9,489.21 279.0,489.25 280.2,489.30 281.4,489.34 282.6,489.39 283.8,489.44 285.0,489.48 286.1,489.52 287.3,489.57 288.5,489.61 289.7,489.65 290.9,489.70 292.1,489.74 293.2,489.78 294.4,489.81 295.6,489.85 296.8,489.88 298.0,489.92 299.1,489.95 300.3,489.98 301.5,490.01 302.7,490.04 303.9,490.06 305.1,490.09 306.2,490.11 307.4,490.13 308.6,490.15 309.8,490.17 311.0,490.19 312.2,490.21 313.3,490.22 314.5,490.24 315.7,490.25 316.9,490.26 318.1,490.27 319.2,490.28 320.4,490.29 321.0,490.29 321.2,490.30 321.5,490.30 321.7,490.30 322.0,490.30 322.2,490.30 322.5,490.30 322.7,490.31 323.0,490.31 323.6,490.37 323.6,490.37 323.0,490.42 322.7,490.43 322.5,490.43 322.2,490.43 322.0,490.43 321.7,490.43 321.5,490.43 321.2,490.44 321.0,490.44 320.4,490.44 319.2,490.45 318.1,490.46 316.9,490.47 315.7,490.48 314.5,490.50 313.3,490.51 312.2,490.53 311.0,490.54 309.8,490.56 308.6,490.58 307.4,490.60 306.2,490.62 305.1,490.64 303.9,490.67 302.7,490.69 301.5,490.72 300.3,490.75 299.1,490.78 298.0,490.81 296.8,490.85 295.6,490.88 294.4,490.92 293.2,490.96 292.1,491.00 290.9,491.04 289.7,491.08 288.5,491.12 287.3,491.16 286.1,491.21 285.0,491.25 283.8,491.30 282.6,491.34 281.4,491.39 280.2,491.43 279.0,491.48 277.9,491.52 276.7,491.57 275.5,491.61 274.3,491.65 273.1,491.69 271.9,491.73 270.8,491.77 269.6,491.80 268.4,491.84 267.2,491.87 266.0,491.90 264.9,491.92 263.7,491.94 262.5,491.96 261.3,491.98 260.1,491.99 258.9,492.01 257.8,492.01 256.6,492.02 255.4,492.02 254.2,492.01 253.0,492.01 251.8,492.00 250.7,491.98 249.5,491.97 248.3,491.95 247.1,491.93 245.9,491.91 244.8,491.88 243.6,491.85 242.4,491.82 241.2,491.79 240.0,491.75 238.8,491.72 237.7,491.68 236.5,491.64 235.3,491.60 234.1,491.56 232.9,491.51 231.7,491.47 230.6,491.43 229.4,491.38 228.2,491.34 227.0,491.29 225.8,491.25 224.7,491.21 223.5,491.17 222.3,491.12 221.1,491.08 219.9,491.04 218.7,491.00 217.6,490.97 216.4,490.93 215.2,490.89 214.0,490.86 212.8,490.83 211.6,490.80 210.5,490.76 209.3,490.74 208.1,490.71 206.9,490.68 205.7,490.66 204.5,490.64 203.4,490.61 202.2,490.59 201.0,490.57 199.8,490.56 198.6,490.54 197.5,490.52 196.3,490.51 195.1,490.50 194.5,490.37"/><polygon points="183.3,502.22 183.9,502.09 185.1,502.08 186.3,502.07 187.4,502.05 188.6,502.03 189.8,502.02 191.0,502.00 192.2,501.97 193.4,501.95 194.6,501.93 195.8,501.90 196.9,501.87 198.1,501.85 199.3,501.82 200.5,501.78 201.7,501.75 202.9,501.71 204.1,501.68 205.3,501.64 206.4,501.60 207.6,501.56 208.8,501.51 210.0,501.47 211.2,501.43 212.4,501.38 213.6,501.33 214.8,501.29 215.9,501.24 217.1,501.19 218.3,501.14 219.5,501.09 220.7,501.04 221.9,501.00 223.1,500.95 224.3,500.90 225.4,500.86 226.6,500.82 227.8,500.77 229.0,500.73 230.2,500.70 231.4,500.66 232.6,500.63 233.7,500.60 234.9,500.57 236.1,500.54 237.3,500.52 238.5,500.50 239.7,500.49 240.9,500.48 242.1,500.47 243.2,500.47 244.4,500.47 245.6,500.47 246.8,500.48 248.0,500.49 249.2,500.50 250.4,500.52 251.6,500.54 252.7,500.57 253.9,500.60 255.1,500.63 256.3,500.66 257.5,500.70 258.7,500.74 259.9,500.78 261.1,500.83 262.2,500.87 263.4,500.92 264.6,500.97 265.8,501.02 267.0,501.07 268.2,501.12 269.4,501.17 270.6,501.22 271.7,501.27 272.9,501.32 274.1,501.37 275.3,501.42 276.5,501.46 277.7,501.51 278.9,501.55 280.1,501.60 281.2,501.64 282.4,501.68 283.6,501.72 284.8,501.75 286.0,501.79 287.2,501.82 288.4,501.85 289.5,501.88 290.7,501.91 291.9,501.94 293.1,501.96 294.3,501.98 295.5,502.00 296.7,502.02 297.9,502.04 299.0,502.06 300.2,502.08 301.4,502.09 302.6,502.10 303.8,502.11 305.0,502.13 306.2,502.14 307.4,502.14 308.5,502.15 309.7,502.16 310.3,502.22 310.3,502.22 309.7,502.27 308.5,502.28 307.4,502.29 306.2,502.29 305.0,502.30 303.8,502.32 302.6,502.33 301.4,502.34 300.2,502.35 299.0,502.37 297.9,502.39 296.7,502.41 295.5,502.43 294.3,502.45 293.1,502.47 291.9,502.49 290.7,502.52 289.5,502.55 288.4,502.58 287.2,502.61 286.0,502.64 284.8,502.68 283.6,502.71 282.4,502.75 281.2,502.79 280.1,502.83 278.9,502.88 277.7,502.92 276.5,502.97 275.3,503.01 274.1,503.06 272.9,503.11 271.7,503.16 270.6,503.21 269.4,503.26 268.2,503.31 267.0,503.36 265.8,503.41 264.6,503.46 263.4,503.51 262.2,503.56 261.1,503.60 259.9,503.65 258.7,503.69 257.5,503.73 256.3,503.77 255.1,503.80 253.9,503.83 252.7,503.86 251.6,503.89 250.4,503.91 249.2,503.93 248.0,503.94 246.8,503.95 245.6,503.96 244.4,503.96 243.2,503.96 242.1,503.96 240.9,503.95 239.7,503.94 238.5,503.93 237.3,503.91 236.1,503.89 234.9,503.86 233.7,503.83 232.6,503.80 231.4,503.77 230.2,503.73 229.0,503.70 227.8,503.66 226.6,503.61 225.4,503.57 224.3,503.53 223.1,503.48 221.9,503.43 220.7,503.39 219.5,503.34 218.3,503.29 217.1,503.24 215.9,503.19 214.8,503.14 213.6,503.10 212.4,503.05 211.2,503.00 210.0,502.96 208.8,502.92 207.6,502.87 206.4,502.83 205.3,502.79 204.1,502.75 202.9,502.72 201.7,502.68 200.5,502.65 199.3,502.61 198.1,502.58 196.9,502.56 195.8,502.53 194.6,502.50 193.4,502.48 192.2,502.46 191.0,502.43 189.8,502.41 188.6,502.40 187.4,502.38 186.3,502.36 185.1,502.35 183.9,502.34 183.3,502.22"/><polygon points="185.8,514.06 186.4,513.93 187.6,513.92 188.8,513.90 190.0,513.89 191.2,513.87 192.4,513.85 193.5,513.83 194.7,513.81 195.9,513.78 197.1,513.76 198.3,513.73 199.5,513.70 200.7,513.67 201.9,513.64 203.0,513.61 204.2,513.57 205.4,513.53 206.6,513.50 207.8,513.46 209.0,513.42 210.2,513.37 211.4,513.33 212.5,513.28 213.7,513.24 214.9,513.19 216.1,513.15 217.3,513.10 218.5,513.05 219.7,513.00 220.9,512.95 222.0,512.90 223.2,512.86 224.4,512.81 225.6,512.76 226.8,512.72 228.0,512.67 229.2,512.63 230.3,512.59 231.5,512.55 232.7,512.52 233.9,512.48 235.1,512.45 236.3,512.42 237.5,512.40 238.7,512.38 239.8,512.36 241.0,512.34 242.2,512.33 243.4,512.32 244.6,512.32 245.8,512.31 247.0,512.32 248.2,512.32 249.3,512.33 250.5,512.35 251.7,512.37 252.9,512.39 254.1,512.41 255.3,512.44 256.5,512.47 257.7,512.51 258.8,512.54 260.0,512.58 261.2,512.62 262.4,512.67 263.6,512.71 264.8,512.76 266.0,512.81 267.1,512.86 268.3,512.91 269.5,512.96 270.7,513.01 271.9,513.06 273.1,513.11 274.3,513.16 275.5,513.21 276.6,513.25 277.8,513.30 279.0,513.35 280.2,513.39 281.4,513.44 282.6,513.48 283.8,513.52 285.0,513.56 286.1,513.59 287.3,513.63 288.5,513.66 289.7,513.69 290.9,513.72 292.1,513.75 293.3,513.78 294.5,513.80 295.6,513.83 296.8,513.85 298.0,513.87 299.2,513.89 300.4,513.91 301.6,513.92 302.8,513.94 303.9,513.95 305.1,513.96 306.3,513.97 307.5,513.98 308.7,513.99 309.9,514.00 311.1,514.01 312.3,514.01 312.9,514.06 312.9,514.06 312.3,514.11 311.1,514.12 309.9,514.13 308.7,514.14 307.5,514.15 306.3,514.16 305.1,514.17 303.9,514.18 302.8,514.19 301.6,514.21 300.4,514.22 299.2,514.24 298.0,514.26 296.8,514.28 295.6,514.30 294.5,514.32 293.3,514.35 292.1,514.38 290.9,514.40 289.7,514.43 288.5,514.47 287.3,514.50 286.1,514.53 285.0,514.57 283.8,514.61 282.6,514.65 281.4,514.69 280.2,514.74 279.0,514.78 277.8,514.83 276.6,514.87 275.5,514.92 274.3,514.97 273.1,515.02 271.9,515.07 270.7,515.12 269.5,515.17 268.3,515.22 267.1,515.27 266.0,515.32 264.8,515.37 263.6,515.42 262.4,515.46 261.2,515.50 260.0,515.55 258.8,515.59 257.7,515.62 256.5,515.66 255.3,515.69 254.1,515.72 252.9,515.74 251.7,515.76 250.5,515.78 249.3,515.79 248.2,515.80 247.0,515.81 245.8,515.81 244.6,515.81 243.4,515.81 242.2,515.80 241.0,515.79 239.8,515.77 238.7,515.75 237.5,515.73 236.3,515.70 235.1,515.68 233.9,515.65 232.7,515.61 231.5,515.58 230.3,515.54 229.2,515.50 228.0,515.45 226.8,515.41 225.6,515.37 224.4,515.32 223.2,515.27 222.0,515.22 220.9,515.18 219.7,515.13 218.5,515.08 217.3,515.03 216.1,514.98 214.9,514.94 213.7,514.89 212.5,514.84 211.4,514.80 210.2,514.75 209.0,514.71 207.8,514.67 206.6,514.63 205.4,514.59 204.2,514.56 203.0,514.52 201.9,514.49 200.7,514.46 199.5,514.43 198.3,514.40 197.1,514.37 195.9,514.35 194.7,514.32 193.5,514.30 192.4,514.28 191.2,514.26 190.0,514.24 188.8,514.22 187.6,514.21 186.4,514.20 185.8,514.06"/><polygon points="183.0,525.91 183.6,525.78 184.8,525.77 186.0,525.75 187.2,525.73 188.3,525.72 189.5,525.70 190.7,525.68 191.9,525.65 193.1,525.63 194.3,525.60 195.5,525.58 196.6,525.55 197.8,525.52 199.0,525.49 200.2,525.45 201.4,525.42 202.6,525.38 203.8,525.35 204.9,525.31 206.1,525.27 207.3,525.23 208.5,525.18 209.7,525.14 210.9,525.09 212.1,525.05 213.2,525.00 214.4,524.96 215.6,524.91 216.8,524.86 218.0,524.82 219.2,524.77 220.4,524.72 221.5,524.68 222.7,524.63 223.9,524.59 225.1,524.55 226.3,524.51 227.5,524.47 228.7,524.43 229.8,524.40 231.0,524.37 232.2,524.34 233.4,524.31 234.6,524.29 235.8,524.27 237.0,524.25 238.1,524.23 239.3,524.22 240.5,524.22 241.7,524.21 242.9,524.21 244.1,524.22 245.3,524.22 246.4,524.24 247.6,524.25 248.8,524.27 250.0,524.29 251.2,524.32 252.4,524.35 253.6,524.38 254.7,524.41 255.9,524.45 257.1,524.49 258.3,524.53 259.5,524.57 260.7,524.62 261.9,524.66 263.0,524.71 264.2,524.76 265.4,524.80 266.6,524.85 267.8,524.90 269.0,524.95 270.2,525.00 271.3,525.05 272.5,525.09 273.7,525.14 274.9,525.19 276.1,525.23 277.3,525.27 278.5,525.32 279.7,525.36 280.8,525.39 282.0,525.43 283.2,525.47 284.4,525.50 285.6,525.53 286.8,525.56 288.0,525.59 289.1,525.62 290.3,525.64 291.5,525.67 292.7,525.69 293.9,525.71 295.1,525.73 296.3,525.75 297.4,525.76 298.6,525.78 299.8,525.79 301.0,525.80 302.2,525.82 303.4,525.83 304.6,525.84 305.7,525.85 306.9,525.85 308.1,525.86 308.7,525.91 308.7,525.91 308.1,525.97 306.9,525.97 305.7,525.98 304.6,525.99 303.4,526.00 302.2,526.01 301.0,526.02 299.8,526.03 298.6,526.05 297.4,526.06 296.3,526.08 295.1,526.10 293.9,526.12 292.7,526.14 291.5,526.16 290.3,526.18 289.1,526.21 288.0,526.23 286.8,526.26 285.6,526.29 284.4,526.32 283.2,526.36 282.0,526.39 280.8,526.43 279.7,526.47 278.5,526.51 277.3,526.55 276.1,526.59 274.9,526.64 273.7,526.68 272.5,526.73 271.3,526.78 270.2,526.83 269.0,526.87 267.8,526.92 266.6,526.97 265.4,527.02 264.2,527.07 263.0,527.12 261.9,527.16 260.7,527.21 259.5,527.26 258.3,527.30 257.1,527.34 255.9,527.38 254.7,527.41 253.6,527.45 252.4,527.48 251.2,527.51 250.0,527.53 248.8,527.56 247.6,527.57 246.4,527.59 245.3,527.60 244.1,527.61 242.9,527.61 241.7,527.61 240.5,527.61 239.3,527.60 238.1,527.59 237.0,527.58 235.8,527.56 234.6,527.54 233.4,527.52 232.2,527.49 231.0,527.46 229.8,527.43 228.7,527.39 227.5,527.36 226.3,527.32 225.1,527.28 223.9,527.24 222.7,527.19 221.5,527.15 220.4,527.10 219.2,527.06 218.0,527.01 216.8,526.96 215.6,526.92 214.4,526.87 213.2,526.82 212.1,526.78 210.9,526.73 209.7,526.69 208.5,526.64 207.3,526.60 206.1,526.56 204.9,526.52 203.8,526.48 202.6,526.44 201.4,526.41 200.2,526.37 199.0,526.34 197.8,526.31 196.6,526.28 195.5,526.25 194.3,526.22 193.1,526.20 191.9,526.17 190.7,526.15 189.5,526.13 188.3,526.11 187.2,526.09 186.0,526.08 184.8,526.06 183.6,526.05 183.0,525.91"/><polygon points="183.4,537.76 184.0,537.63 185.2,537.62 186.4,537.60 187.5,537.58 188.7,537.56 189.9,537.54 191.1,537.52 192.3,537.49 193.5,537.47 194.7,537.44 195.9,537.41 197.0,537.37 198.2,537.34 199.4,537.30 200.6,537.27 201.8,537.23 203.0,537.19 204.2,537.14 205.4,537.10 206.5,537.05 207.7,537.00 208.9,536.95 210.1,536.90 211.3,536.85 212.5,536.80 213.7,536.75 214.9,536.70 216.0,536.64 217.2,536.59 218.4,536.54 219.6,536.49 220.8,536.44 222.0,536.39 223.2,536.34 224.4,536.30 225.5,536.26 226.7,536.22 227.9,536.18 229.1,536.15 230.3,536.12 231.5,536.09 232.7,536.07 233.9,536.05 235.0,536.03 236.2,536.02 237.4,536.01 238.6,536.01 239.8,536.01 241.0,536.02 242.2,536.03 243.3,536.04 244.5,536.06 245.7,536.08 246.9,536.10 248.1,536.13 249.3,536.16 250.5,536.19 251.7,536.23 252.8,536.27 254.0,536.31 255.2,536.35 256.4,536.40 257.6,536.45 258.8,536.49 260.0,536.54 261.2,536.59 262.3,536.64 263.5,536.69 264.7,536.74 265.9,536.79 267.1,536.84 268.3,536.89 269.5,536.94 270.7,536.99 271.8,537.03 273.0,537.08 274.2,537.12 275.4,537.17 276.6,537.21 277.8,537.25 279.0,537.28 280.2,537.32 281.3,537.35 282.5,537.38 283.7,537.42 284.9,537.44 286.1,537.47 287.3,537.50 288.5,537.52 289.7,537.54 290.8,537.56 292.0,537.58 293.2,537.60 294.4,537.62 295.6,537.63 296.8,537.64 298.0,537.66 299.2,537.67 300.3,537.68 301.5,537.69 302.7,537.70 303.9,537.70 305.1,537.71 305.7,537.76 305.7,537.76 305.1,537.81 303.9,537.82 302.7,537.83 301.5,537.84 300.3,537.85 299.2,537.86 298.0,537.87 296.8,537.88 295.6,537.89 294.4,537.91 293.2,537.92 292.0,537.94 290.8,537.96 289.7,537.98 288.5,538.00 287.3,538.03 286.1,538.05 284.9,538.08 283.7,538.11 282.5,538.14 281.3,538.17 280.2,538.21 279.0,538.24 277.8,538.28 276.6,538.32 275.4,538.36 274.2,538.40 273.0,538.44 271.8,538.49 270.7,538.54 269.5,538.58 268.3,538.63 267.1,538.68 265.9,538.73 264.7,538.78 263.5,538.83 262.3,538.88 261.2,538.93 260.0,538.98 258.8,539.03 257.6,539.08 256.4,539.12 255.2,539.17 254.0,539.21 252.8,539.25 251.7,539.29 250.5,539.33 249.3,539.36 248.1,539.39 246.9,539.42 245.7,539.44 244.5,539.47 243.3,539.48 242.2,539.50 241.0,539.50 239.8,539.51 238.6,539.51 237.4,539.51 236.2,539.50 235.0,539.49 233.9,539.48 232.7,539.46 231.5,539.43 230.3,539.41 229.1,539.38 227.9,539.34 226.7,539.31 225.5,539.27 224.4,539.22 223.2,539.18 222.0,539.13 220.8,539.09 219.6,539.04 218.4,538.98 217.2,538.93 216.0,538.88 214.9,538.83 213.7,538.78 212.5,538.72 211.3,538.67 210.1,538.62 208.9,538.57 207.7,538.52 206.5,538.47 205.4,538.43 204.2,538.38 203.0,538.34 201.8,538.30 200.6,538.26 199.4,538.22 198.2,538.18 197.0,538.15 195.9,538.12 194.7,538.09 193.5,538.06 192.3,538.03 191.1,538.01 189.9,537.98 188.7,537.96 187.5,537.94 186.4,537.92 185.2,537.91 184.0,537.89 183.4,537.76"/><polygon points="183.3,549.61 183.9,549.49 185.1,549.47 186.3,549.45 187.5,549.44 188.7,549.42 189.9,549.39 191.1,549.37 192.3,549.34 193.4,549.31 194.6,549.28 195.8,549.25 197.0,549.22 198.2,549.18 199.4,549.14 200.6,549.10 201.8,549.06 203.0,549.01 204.2,548.97 205.4,548.92 206.5,548.87 207.7,548.82 208.9,548.76 210.1,548.71 211.3,548.65 212.5,548.60 213.7,548.54 214.9,548.48 216.1,548.43 217.3,548.37 218.5,548.32 219.6,548.26 220.8,548.21 222.0,548.16 223.2,548.11 224.4,548.07 225.6,548.02 226.8,547.98 228.0,547.95 229.2,547.92 230.4,547.89 231.5,547.86 232.7,547.84 233.9,547.83 235.1,547.82 236.3,547.81 237.5,547.81 238.7,547.81 239.9,547.82 241.1,547.84 242.3,547.85 243.5,547.87 244.6,547.90 245.8,547.93 247.0,547.96 248.2,547.99 249.4,548.03 250.6,548.07 251.8,548.12 253.0,548.16 254.2,548.21 255.4,548.26 256.5,548.31 257.7,548.37 258.9,548.42 260.1,548.47 261.3,548.53 262.5,548.58 263.7,548.64 264.9,548.69 266.1,548.74 267.3,548.79 268.5,548.84 269.6,548.89 270.8,548.94 272.0,548.99 273.2,549.03 274.4,549.07 275.6,549.11 276.8,549.15 278.0,549.19 279.2,549.22 280.4,549.26 281.5,549.29 282.7,549.32 283.9,549.34 285.1,549.37 286.3,549.39 287.5,549.41 288.7,549.43 289.9,549.45 291.1,549.47 292.3,549.48 293.5,549.50 294.6,549.51 295.8,549.52 297.0,549.53 298.2,549.54 299.4,549.55 300.6,549.56 301.2,549.61 301.2,549.61 300.6,549.67 299.4,549.67 298.2,549.68 297.0,549.69 295.8,549.70 294.6,549.71 293.5,549.73 292.3,549.74 291.1,549.75 289.9,549.77 288.7,549.79 287.5,549.81 286.3,549.83 285.1,549.85 283.9,549.88 282.7,549.91 281.5,549.94 280.4,549.97 279.2,550.00 278.0,550.03 276.8,550.07 275.6,550.11 274.4,550.15 273.2,550.19 272.0,550.24 270.8,550.28 269.6,550.33 268.5,550.38 267.3,550.43 266.1,550.48 264.9,550.53 263.7,550.59 262.5,550.64 261.3,550.69 260.1,550.75 258.9,550.80 257.7,550.86 256.5,550.91 255.4,550.96 254.2,551.01 253.0,551.06 251.8,551.10 250.6,551.15 249.4,551.19 248.2,551.23 247.0,551.26 245.8,551.30 244.6,551.32 243.5,551.35 242.3,551.37 241.1,551.39 239.9,551.40 238.7,551.41 237.5,551.41 236.3,551.41 235.1,551.40 233.9,551.39 232.7,551.38 231.5,551.36 230.4,551.33 229.2,551.31 228.0,551.27 226.8,551.24 225.6,551.20 224.4,551.16 223.2,551.11 222.0,551.06 220.8,551.01 219.6,550.96 218.5,550.91 217.3,550.85 216.1,550.79 214.9,550.74 213.7,550.68 212.5,550.63 211.3,550.57 210.1,550.51 208.9,550.46 207.7,550.41 206.5,550.35 205.4,550.30 204.2,550.26 203.0,550.21 201.8,550.16 200.6,550.12 199.4,550.08 198.2,550.04 197.0,550.00 195.8,549.97 194.6,549.94 193.4,549.91 192.3,549.88 191.1,549.85 189.9,549.83 188.7,549.81 187.5,549.79 186.3,549.77 185.1,549.75 183.9,549.74 183.3,549.61"/><polygon points="183.3,561.46 183.9,561.33 185.1,561.31 186.3,561.29 187.5,561.27 188.7,561.25 189.9,561.23 191.1,561.20 192.3,561.17 193.4,561.14 194.6,561.11 195.8,561.07 197.0,561.03 198.2,560.99 199.4,560.95 200.6,560.90 201.8,560.85 202.9,560.80 204.1,560.75 205.3,560.70 206.5,560.64 207.7,560.58 208.9,560.53 210.1,560.47 211.3,560.41 212.5,560.35 213.6,560.29 214.8,560.22 216.0,560.17 217.2,560.11 218.4,560.05 219.6,559.99 220.8,559.94 222.0,559.89 223.2,559.84 224.3,559.80 225.5,559.76 226.7,559.73 227.9,559.69 229.1,559.67 230.3,559.65 231.5,559.63 232.7,559.62 233.9,559.61 235.0,559.61 236.2,559.61 237.4,559.62 238.6,559.64 239.8,559.65 241.0,559.67 242.2,559.70 243.4,559.73 244.6,559.76 245.7,559.80 246.9,559.84 248.1,559.88 249.3,559.93 250.5,559.97 251.7,560.02 252.9,560.07 254.1,560.13 255.3,560.18 256.4,560.24 257.6,560.29 258.8,560.35 260.0,560.40 261.2,560.46 262.4,560.51 263.6,560.57 264.8,560.62 266.0,560.67 267.1,560.72 268.3,560.77 269.5,560.82 270.7,560.86 271.9,560.91 273.1,560.95 274.3,560.99 275.5,561.03 276.6,561.06 277.8,561.09 279.0,561.13 280.2,561.16 281.4,561.18 282.6,561.21 283.8,561.23 285.0,561.26 286.2,561.28 287.3,561.29 288.5,561.31 289.7,561.33 290.9,561.34 292.1,561.35 293.3,561.37 294.5,561.38 295.7,561.39 296.9,561.40 298.0,561.40 298.6,561.46 298.6,561.46 298.0,561.52 296.9,561.52 295.7,561.53 294.5,561.54 293.3,561.55 292.1,561.57 290.9,561.58 289.7,561.59 288.5,561.61 287.3,561.63 286.2,561.64 285.0,561.66 283.8,561.69 282.6,561.71 281.4,561.74 280.2,561.76 279.0,561.79 277.8,561.83 276.6,561.86 275.5,561.89 274.3,561.93 273.1,561.97 271.9,562.01 270.7,562.06 269.5,562.10 268.3,562.15 267.1,562.20 266.0,562.25 264.8,562.30 263.6,562.35 262.4,562.41 261.2,562.46 260.0,562.52 258.8,562.57 257.6,562.63 256.4,562.68 255.3,562.74 254.1,562.79 252.9,562.85 251.7,562.90 250.5,562.95 249.3,562.99 248.1,563.04 246.9,563.08 245.7,563.12 244.6,563.16 243.4,563.19 242.2,563.22 241.0,563.25 239.8,563.27 238.6,563.28 237.4,563.30 236.2,563.31 235.0,563.31 233.9,563.31 232.7,563.30 231.5,563.29 230.3,563.27 229.1,563.25 227.9,563.23 226.7,563.19 225.5,563.16 224.3,563.12 223.2,563.08 222.0,563.03 220.8,562.98 219.6,562.93 218.4,562.87 217.2,562.81 216.0,562.75 214.8,562.70 213.6,562.63 212.5,562.57 211.3,562.51 210.1,562.45 208.9,562.39 207.7,562.34 206.5,562.28 205.3,562.22 204.1,562.17 202.9,562.12 201.8,562.07 200.6,562.02 199.4,561.97 198.2,561.93 197.0,561.89 195.8,561.85 194.6,561.81 193.4,561.78 192.3,561.75 191.1,561.72 189.9,561.69 188.7,561.67 187.5,561.65 186.3,561.63 185.1,561.61 183.9,561.59 183.3,561.46"/><polygon points="182.8,573.31 183.4,573.19 184.5,573.17 185.7,573.15 186.9,573.13 188.1,573.11 189.3,573.09 190.5,573.06 191.7,573.03 192.9,573.00 194.0,572.97 195.2,572.94 196.4,572.90 197.6,572.86 198.8,572.82 200.0,572.77 201.2,572.73 202.3,572.68 203.5,572.63 204.7,572.57 205.9,572.52 207.1,572.46 208.3,572.40 209.5,572.35 210.7,572.29 211.8,572.23 213.0,572.17 214.2,572.11 215.4,572.05 216.6,571.99 217.8,571.93 219.0,571.87 220.2,571.82 221.3,571.77 222.5,571.72 223.7,571.67 224.9,571.63 226.1,571.59 227.3,571.56 228.5,571.53 229.7,571.51 230.8,571.49 232.0,571.47 233.2,571.46 234.4,571.46 235.6,571.46 236.8,571.47 238.0,571.48 239.2,571.49 240.3,571.51 241.5,571.53 242.7,571.56 243.9,571.59 245.1,571.63 246.3,571.67 247.5,571.71 248.7,571.75 249.8,571.80 251.0,571.84 252.2,571.90 253.4,571.95 254.6,572.00 255.8,572.05 257.0,572.11 258.2,572.17 259.3,572.22 260.5,572.28 261.7,572.33 262.9,572.39 264.1,572.44 265.3,572.49 266.5,572.54 267.7,572.59 268.8,572.64 270.0,572.69 271.2,572.73 272.4,572.77 273.6,572.81 274.8,572.85 276.0,572.89 277.1,572.92 278.3,572.96 279.5,572.99 280.7,573.02 281.9,573.04 283.1,573.07 284.3,573.09 285.5,573.11 286.6,573.13 287.8,573.15 289.0,573.17 290.2,573.18 291.4,573.20 292.6,573.21 293.8,573.22 295.0,573.23 296.1,573.24 297.3,573.25 298.5,573.26 299.1,573.31 299.1,573.31 298.5,573.36 297.3,573.37 296.1,573.38 295.0,573.39 293.8,573.40 292.6,573.41 291.4,573.42 290.2,573.44 289.0,573.45 287.8,573.47 286.6,573.49 285.5,573.51 284.3,573.53 283.1,573.55 281.9,573.57 280.7,573.60 279.5,573.63 278.3,573.66 277.1,573.69 276.0,573.73 274.8,573.77 273.6,573.80 272.4,573.84 271.2,573.89 270.0,573.93 268.8,573.98 267.7,574.03 266.5,574.08 265.3,574.13 264.1,574.18 262.9,574.23 261.7,574.29 260.5,574.34 259.3,574.40 258.2,574.45 257.0,574.51 255.8,574.56 254.6,574.62 253.4,574.67 252.2,574.72 251.0,574.77 249.8,574.82 248.7,574.87 247.5,574.91 246.3,574.95 245.1,574.99 243.9,575.03 242.7,575.06 241.5,575.08 240.3,575.11 239.2,575.13 238.0,575.14 236.8,575.15 235.6,575.16 234.4,575.16 233.2,575.16 232.0,575.15 230.8,575.13 229.7,575.11 228.5,575.09 227.3,575.06 226.1,575.03 224.9,574.99 223.7,574.95 222.5,574.90 221.3,574.85 220.2,574.80 219.0,574.75 217.8,574.69 216.6,574.63 215.4,574.57 214.2,574.51 213.0,574.45 211.8,574.39 210.7,574.33 209.5,574.27 208.3,574.21 207.1,574.16 205.9,574.10 204.7,574.04 203.5,573.99 202.3,573.94 201.2,573.89 200.0,573.84 198.8,573.80 197.6,573.76 196.4,573.72 195.2,573.68 194.0,573.65 192.9,573.61 191.7,573.58 190.5,573.56 189.3,573.53 188.1,573.51 186.9,573.49 185.7,573.47 184.5,573.45 183.4,573.43 182.8,573.31"/><polygon points="192.0,585.16 192.6,585.03 193.8,585.01 194.9,585.00 196.1,584.98 197.3,584.95 198.5,584.93 199.7,584.90 200.9,584.88 202.0,584.85 203.2,584.82 204.4,584.78 205.6,584.75 206.8,584.71 207.9,584.67 209.1,584.62 210.3,584.58 211.5,584.53 212.7,584.48 213.9,584.43 215.0,584.38 216.2,584.33 217.4,584.28 218.6,584.22 219.8,584.17 220.9,584.11 222.1,584.06 223.3,584.00 224.5,583.95 225.7,583.89 226.9,583.84 228.0,583.79 229.2,583.75 230.4,583.70 231.6,583.66 232.8,583.62 233.9,583.58 235.1,583.55 236.3,583.53 237.5,583.50 238.7,583.48 239.9,583.47 241.0,583.46 242.2,583.46 243.4,583.46 244.6,583.46 245.8,583.47 246.9,583.49 248.1,583.50 249.3,583.52 250.5,583.55 251.7,583.58 252.9,583.61 254.0,583.64 255.2,583.68 256.4,583.72 257.6,583.76 258.8,583.80 260.0,583.85 261.1,583.90 262.3,583.94 263.5,583.99 264.7,584.04 265.9,584.10 267.0,584.15 268.2,584.20 269.4,584.25 270.6,584.30 271.8,584.35 273.0,584.39 274.1,584.44 275.3,584.49 276.5,584.53 277.7,584.57 278.9,584.62 280.0,584.65 281.2,584.69 282.4,584.73 283.6,584.76 284.8,584.79 286.0,584.83 287.1,584.85 288.3,584.88 289.5,584.91 290.7,584.93 291.9,584.95 293.0,584.97 294.2,584.99 295.4,585.01 296.6,585.02 297.8,585.04 299.0,585.05 300.1,585.06 301.3,585.07 302.5,585.08 303.7,585.09 304.9,585.10 306.0,585.11 306.6,585.16 306.6,585.16 306.0,585.21 304.9,585.22 303.7,585.22 302.5,585.23 301.3,585.24 300.1,585.25 299.0,585.27 297.8,585.28 296.6,585.29 295.4,585.31 294.2,585.33 293.0,585.34 291.9,585.36 290.7,585.39 289.5,585.41 288.3,585.44 287.1,585.46 286.0,585.49 284.8,585.52 283.6,585.55 282.4,585.59 281.2,585.62 280.0,585.66 278.9,585.70 277.7,585.74 276.5,585.79 275.3,585.83 274.1,585.88 273.0,585.92 271.8,585.97 270.6,586.02 269.4,586.07 268.2,586.12 267.0,586.17 265.9,586.22 264.7,586.27 263.5,586.32 262.3,586.37 261.1,586.42 260.0,586.47 258.8,586.51 257.6,586.56 256.4,586.60 255.2,586.64 254.0,586.68 252.9,586.71 251.7,586.74 250.5,586.77 249.3,586.79 248.1,586.81 246.9,586.83 245.8,586.84 244.6,586.85 243.4,586.86 242.2,586.86 241.0,586.85 239.9,586.84 238.7,586.83 237.5,586.81 236.3,586.79 235.1,586.76 233.9,586.73 232.8,586.70 231.6,586.66 230.4,586.62 229.2,586.57 228.0,586.52 226.9,586.47 225.7,586.42 224.5,586.37 223.3,586.32 222.1,586.26 220.9,586.21 219.8,586.15 218.6,586.09 217.4,586.04 216.2,585.99 215.0,585.93 213.9,585.88 212.7,585.83 211.5,585.78 210.3,585.74 209.1,585.69 207.9,585.65 206.8,585.61 205.6,585.57 204.4,585.53 203.2,585.50 202.0,585.47 200.9,585.44 199.7,585.41 198.5,585.39 197.3,585.36 196.1,585.34 194.9,585.32 193.8,585.30 192.6,585.29 192.0,585.16"/><polygon points="188.8,597.01 189.4,596.87 190.5,596.85 191.7,596.83 192.9,596.80 194.1,596.77 195.3,596.73 196.5,596.69 197.7,596.65 198.9,596.60 200.1,596.55 201.3,596.49 202.5,596.43 203.7,596.37 204.8,596.30 206.0,596.23 207.2,596.16 208.4,596.08 209.6,596.00 210.8,595.91 212.0,595.83 213.2,595.74 214.4,595.66 215.6,595.57 216.8,595.49 218.0,595.40 219.1,595.32 220.3,595.25 221.5,595.18 222.7,595.11 223.9,595.05 225.1,595.00 226.3,594.95 227.5,594.92 228.7,594.89 229.9,594.87 231.1,594.86 232.3,594.86 233.4,594.86 234.6,594.87 235.8,594.89 237.0,594.91 238.2,594.94 239.4,594.97 240.6,595.01 241.8,595.05 243.0,595.10 244.2,595.15 245.4,595.20 246.6,595.26 247.7,595.32 248.9,595.38 250.1,595.44 251.3,595.51 252.5,595.58 253.7,595.64 254.9,595.71 256.1,595.78 257.3,595.85 258.5,595.91 259.7,595.98 260.9,596.04 262.0,596.10 263.2,596.16 264.4,596.22 265.6,596.28 266.8,596.33 268.0,596.39 269.2,596.44 270.4,596.48 271.6,596.53 272.8,596.57 274.0,596.61 275.1,596.64 276.3,596.68 277.5,596.71 278.7,596.74 279.9,596.77 281.1,596.79 282.3,596.82 283.5,596.84 284.7,596.85 285.9,596.87 287.1,596.89 288.3,596.90 289.4,596.91 290.6,596.93 291.8,596.94 293.0,596.95 294.2,596.95 294.8,597.01 294.8,597.01 294.2,597.06 293.0,597.07 291.8,597.08 290.6,597.09 289.4,597.10 288.3,597.11 287.1,597.13 285.9,597.14 284.7,597.16 283.5,597.18 282.3,597.20 281.1,597.22 279.9,597.25 278.7,597.27 277.5,597.30 276.3,597.34 275.1,597.37 274.0,597.41 272.8,597.45 271.6,597.49 270.4,597.53 269.2,597.58 268.0,597.63 266.8,597.68 265.6,597.73 264.4,597.79 263.2,597.85 262.0,597.91 260.9,597.97 259.7,598.04 258.5,598.10 257.3,598.17 256.1,598.24 254.9,598.30 253.7,598.37 252.5,598.44 251.3,598.50 250.1,598.57 248.9,598.63 247.7,598.69 246.6,598.75 245.4,598.81 244.2,598.87 243.0,598.92 241.8,598.96 240.6,599.00 239.4,599.04 238.2,599.07 237.0,599.10 235.8,599.12 234.6,599.14 233.4,599.15 232.3,599.16 231.1,599.16 229.9,599.15 228.7,599.13 227.5,599.10 226.3,599.06 225.1,599.02 223.9,598.96 222.7,598.90 221.5,598.84 220.3,598.77 219.1,598.69 218.0,598.61 216.8,598.53 215.6,598.44 214.4,598.36 213.2,598.27 212.0,598.18 210.8,598.10 209.6,598.02 208.4,597.94 207.2,597.86 206.0,597.78 204.8,597.71 203.7,597.64 202.5,597.58 201.3,597.52 200.1,597.46 198.9,597.41 197.7,597.37 196.5,597.32 195.3,597.28 194.1,597.25 192.9,597.22 191.7,597.19 190.5,597.16 189.4,597.14 188.8,597.01"/><polygon points="189.8,608.86 190.4,608.73 191.5,608.70 192.7,608.68 193.9,608.65 195.1,608.61 196.3,608.57 197.5,608.53 198.6,608.49 199.8,608.44 201.0,608.38 202.2,608.32 203.4,608.25 204.6,608.18 205.7,608.11 206.9,608.03 208.1,607.95 209.3,607.86 210.5,607.78 211.7,607.68 212.8,607.59 214.0,607.50 215.2,607.41 216.4,607.32 217.6,607.23 218.8,607.14 219.9,607.06 221.1,606.98 222.3,606.91 223.5,606.85 224.7,606.79 225.9,606.75 227.0,606.71 228.2,606.68 229.4,606.66 230.6,606.66 231.8,606.66 233.0,606.67 234.1,606.68 235.3,606.70 236.5,606.73 237.7,606.76 238.9,606.80 240.1,606.84 241.2,606.89 242.4,606.95 243.6,607.00 244.8,607.06 246.0,607.12 247.1,607.19 248.3,607.26 249.5,607.33 250.7,607.40 251.9,607.47 253.1,607.54 254.2,607.61 255.4,607.68 256.6,607.75 257.8,607.82 259.0,607.89 260.2,607.96 261.3,608.02 262.5,608.08 263.7,608.14 264.9,608.20 266.1,608.25 267.3,608.30 268.4,608.35 269.6,608.39 270.8,608.44 272.0,608.48 273.2,608.51 274.4,608.55 275.5,608.58 276.7,608.61 277.9,608.64 279.1,608.66 280.3,608.68 281.5,608.70 282.6,608.72 283.8,608.74 285.0,608.75 286.2,608.76 287.4,608.78 288.6,608.79 289.7,608.80 290.9,608.80 291.5,608.86 291.5,608.86 290.9,608.91 289.7,608.92 288.6,608.93 287.4,608.94 286.2,608.95 285.0,608.96 283.8,608.98 282.6,608.99 281.5,609.01 280.3,609.03 279.1,609.05 277.9,609.08 276.7,609.10 275.5,609.13 274.4,609.16 273.2,609.20 272.0,609.24 270.8,609.27 269.6,609.32 268.4,609.36 267.3,609.41 266.1,609.46 264.9,609.52 263.7,609.57 262.5,609.63 261.3,609.69 260.2,609.76 259.0,609.82 257.8,609.89 256.6,609.96 255.4,610.03 254.2,610.10 253.1,610.17 251.9,610.24 250.7,610.31 249.5,610.38 248.3,610.45 247.1,610.52 246.0,610.59 244.8,610.65 243.6,610.71 242.4,610.77 241.2,610.82 240.1,610.87 238.9,610.91 237.7,610.95 236.5,610.98 235.3,611.01 234.1,611.03 233.0,611.04 231.8,611.05 230.6,611.06 229.4,611.05 228.2,611.03 227.0,611.00 225.9,610.97 224.7,610.92 223.5,610.86 222.3,610.80 221.1,610.73 219.9,610.65 218.8,610.57 217.6,610.49 216.4,610.40 215.2,610.30 214.0,610.21 212.8,610.12 211.7,610.03 210.5,609.94 209.3,609.85 208.1,609.76 206.9,609.68 205.7,609.60 204.6,609.53 203.4,609.46 202.2,609.39 201.0,609.33 199.8,609.28 198.6,609.23 197.5,609.18 196.3,609.14 195.1,609.10 193.9,609.07 192.7,609.04 191.5,609.01 190.4,608.99 189.8,608.86"/><polygon points="185.7,620.71 186.3,620.58 187.5,620.55 188.7,620.53 189.9,620.50 191.1,620.47 192.3,620.43 193.5,620.39 194.6,620.34 195.8,620.29 197.0,620.23 198.2,620.17 199.4,620.11 200.6,620.04 201.8,619.97 203.0,619.89 204.1,619.81 205.3,619.72 206.5,619.63 207.7,619.54 208.9,619.45 210.1,619.35 211.3,619.26 212.5,619.17 213.6,619.08 214.8,618.99 216.0,618.91 217.2,618.83 218.4,618.76 219.6,618.70 220.8,618.64 222.0,618.59 223.2,618.56 224.3,618.53 225.5,618.51 226.7,618.51 227.9,618.51 229.1,618.52 230.3,618.53 231.5,618.55 232.7,618.58 233.8,618.61 235.0,618.65 236.2,618.69 237.4,618.74 238.6,618.80 239.8,618.85 241.0,618.91 242.2,618.98 243.4,619.04 244.5,619.11 245.7,619.18 246.9,619.25 248.1,619.32 249.3,619.40 250.5,619.47 251.7,619.54 252.9,619.61 254.0,619.68 255.2,619.75 256.4,619.81 257.6,619.88 258.8,619.94 260.0,620.00 261.2,620.05 262.4,620.11 263.5,620.16 264.7,620.20 265.9,620.25 267.1,620.29 268.3,620.33 269.5,620.37 270.7,620.40 271.9,620.43 273.1,620.46 274.2,620.49 275.4,620.51 276.6,620.53 277.8,620.55 279.0,620.57 280.2,620.59 281.4,620.60 282.6,620.62 283.7,620.63 284.9,620.64 286.1,620.65 287.3,620.65 287.9,620.71 287.9,620.71 287.3,620.76 286.1,620.76 284.9,620.77 283.7,620.78 282.6,620.79 281.4,620.81 280.2,620.82 279.0,620.84 277.8,620.86 276.6,620.88 275.4,620.90 274.2,620.92 273.1,620.95 271.9,620.98 270.7,621.01 269.5,621.04 268.3,621.08 267.1,621.12 265.9,621.16 264.7,621.21 263.5,621.25 262.4,621.30 261.2,621.36 260.0,621.41 258.8,621.47 257.6,621.53 256.4,621.60 255.2,621.66 254.0,621.73 252.9,621.80 251.7,621.87 250.5,621.94 249.3,622.01 248.1,622.09 246.9,622.16 245.7,622.23 244.5,622.30 243.4,622.37 242.2,622.43 241.0,622.50 239.8,622.56 238.6,622.61 237.4,622.67 236.2,622.72 235.0,622.76 233.8,622.80 232.7,622.83 231.5,622.86 230.3,622.88 229.1,622.89 227.9,622.90 226.7,622.90 225.5,622.90 224.3,622.88 223.2,622.85 222.0,622.82 220.8,622.77 219.6,622.71 218.4,622.65 217.2,622.58 216.0,622.50 214.8,622.42 213.6,622.33 212.5,622.24 211.3,622.15 210.1,622.06 208.9,621.96 207.7,621.87 206.5,621.78 205.3,621.69 204.1,621.60 203.0,621.52 201.8,621.44 200.6,621.37 199.4,621.30 198.2,621.24 197.0,621.18 195.8,621.12 194.6,621.07 193.5,621.02 192.3,620.98 191.1,620.94 189.9,620.91 188.7,620.88 187.5,620.86 186.3,620.83 185.7,620.71"/><polygon points="175.9,632.55 176.5,632.42 177.7,632.40 178.9,632.37 180.1,632.34 181.3,632.31 182.4,632.27 183.6,632.23 184.8,632.18 186.0,632.13 187.2,632.07 188.4,632.01 189.6,631.94 190.7,631.87 191.9,631.80 193.1,631.72 194.3,631.64 195.5,631.55 196.7,631.46 197.9,631.37 199.0,631.28 200.2,631.18 201.4,631.09 202.6,631.00 203.8,630.91 205.0,630.83 206.2,630.74 207.3,630.67 208.5,630.60 209.7,630.54 210.9,630.48 212.1,630.44 213.3,630.40 214.5,630.37 215.6,630.36 216.8,630.35 218.0,630.36 219.2,630.37 220.4,630.38 221.6,630.41 222.8,630.43 223.9,630.47 225.1,630.51 226.3,630.55 227.5,630.60 228.7,630.65 229.9,630.71 231.1,630.77 232.2,630.84 233.4,630.90 234.6,630.97 235.8,631.04 237.0,631.11 238.2,631.18 239.4,631.25 240.5,631.33 241.7,631.40 242.9,631.47 244.1,631.54 245.3,631.60 246.5,631.67 247.7,631.73 248.8,631.79 250.0,631.85 251.2,631.91 252.4,631.96 253.6,632.01 254.8,632.06 256.0,632.10 257.1,632.14 258.3,632.18 259.5,632.22 260.7,632.25 261.9,632.28 263.1,632.31 264.3,632.34 265.4,632.36 266.6,632.38 267.8,632.40 269.0,632.42 270.2,632.44 271.4,632.45 272.6,632.47 273.7,632.48 274.9,632.49 276.1,632.50 277.3,632.50 277.9,632.55 277.9,632.55 277.3,632.60 276.1,632.61 274.9,632.62 273.7,632.63 272.6,632.64 271.4,632.66 270.2,632.67 269.0,632.69 267.8,632.70 266.6,632.72 265.4,632.74 264.3,632.77 263.1,632.79 261.9,632.82 260.7,632.85 259.5,632.89 258.3,632.92 257.1,632.96 256.0,633.00 254.8,633.05 253.6,633.10 252.4,633.15 251.2,633.20 250.0,633.26 248.8,633.32 247.7,633.38 246.5,633.44 245.3,633.50 244.1,633.57 242.9,633.64 241.7,633.71 240.5,633.78 239.4,633.85 238.2,633.93 237.0,634.00 235.8,634.07 234.6,634.14 233.4,634.21 232.2,634.27 231.1,634.34 229.9,634.40 228.7,634.45 227.5,634.51 226.3,634.56 225.1,634.60 223.9,634.64 222.8,634.67 221.6,634.70 220.4,634.72 219.2,634.74 218.0,634.75 216.8,634.75 215.6,634.75 214.5,634.73 213.3,634.71 212.1,634.67 210.9,634.63 209.7,634.57 208.5,634.51 207.3,634.44 206.2,634.36 205.0,634.28 203.8,634.20 202.6,634.11 201.4,634.02 200.2,633.92 199.0,633.83 197.9,633.74 196.7,633.65 195.5,633.56 194.3,633.47 193.1,633.39 191.9,633.31 190.7,633.23 189.6,633.16 188.4,633.10 187.2,633.04 186.0,632.98 184.8,632.93 183.6,632.88 182.4,632.84 181.3,632.80 180.1,632.77 178.9,632.74 177.7,632.71 176.5,632.69 175.9,632.55"/><polygon points="181.3,644.40 181.9,644.27 183.0,644.23 184.2,644.20 185.4,644.15 186.6,644.10 187.8,644.04 189.0,643.98 190.2,643.90 191.4,643.82 192.5,643.73 193.7,643.63 194.9,643.52 196.1,643.41 197.3,643.29 198.5,643.17 199.7,643.05 200.9,642.93 202.0,642.81 203.2,642.70 204.4,642.59 205.6,642.49 206.8,642.41 208.0,642.33 209.2,642.27 210.4,642.23 211.5,642.21 212.7,642.20 213.9,642.21 215.1,642.23 216.3,642.26 217.5,642.30 218.7,642.35 219.9,642.41 221.0,642.48 222.2,642.55 223.4,642.63 224.6,642.72 225.8,642.81 227.0,642.91 228.2,643.00 229.3,643.10 230.5,643.19 231.7,643.29 232.9,643.38 234.1,643.47 235.3,643.55 236.5,643.64 237.7,643.71 238.8,643.79 240.0,643.86 241.2,643.92 242.4,643.98 243.6,644.03 244.8,644.08 246.0,644.12 247.2,644.16 248.3,644.20 249.5,644.23 250.7,644.25 251.9,644.28 253.1,644.30 254.3,644.31 255.5,644.33 256.7,644.34 257.8,644.35 258.4,644.40 258.4,644.40 257.8,644.45 256.7,644.46 255.5,644.48 254.3,644.49 253.1,644.51 251.9,644.53 250.7,644.55 249.5,644.58 248.3,644.61 247.2,644.65 246.0,644.68 244.8,644.73 243.6,644.78 242.4,644.83 241.2,644.89 240.0,644.95 238.8,645.02 237.7,645.09 236.5,645.17 235.3,645.25 234.1,645.34 232.9,645.43 231.7,645.52 230.5,645.61 229.3,645.71 228.2,645.81 227.0,645.90 225.8,645.99 224.6,646.08 223.4,646.17 222.2,646.25 221.0,646.33 219.9,646.40 218.7,646.45 217.5,646.51 216.3,646.55 215.1,646.58 213.9,646.59 212.7,646.60 211.5,646.60 210.4,646.57 209.2,646.53 208.0,646.47 206.8,646.40 205.6,646.31 204.4,646.22 203.2,646.11 202.0,645.99 200.9,645.88 199.7,645.75 198.5,645.63 197.3,645.51 196.1,645.40 194.9,645.28 193.7,645.18 192.5,645.08 191.4,644.99 190.2,644.91 189.0,644.83 187.8,644.76 186.6,644.71 185.4,644.65 184.2,644.61 183.0,644.57 181.9,644.54 181.3,644.40"/></g>
<g fill="rgb(82,111,57)" fill-opacity="0.7"><rect x="192.83" y="84.20" width="79.94" height="5.8"/><rect x="212.06" y="96.05" width="62.48" height="5.8"/><rect x="193.63" y="107.90" width="59.60" height="5.8"/><rect x="220.14" y="119.75" width="40.62" height="5.8"/><rect x="209.19" y="131.60" width="46.75" height="5.8"/><rect x="199.15" y="143.44" width="48.35" height="5.8"/><rect x="194.33" y="155.29" width="59.20" height="5.8"/><rect x="170.10" y="167.14" width="71.98" height="5.8"/><rect x="173.90" y="178.99" width="72.20" height="5.8"/><rect x="184.44" y="190.84" width="58.34" height="5.8"/><rect x="199.70" y="202.69" width="45.39" height="5.8"/><rect x="164.36" y="214.54" width="70.14" height="5.8"/><rect x="124.39" y="226.39" width="119.35" height="5.8"/><rect x="180.37" y="238.24" width="66.03" height="5.8"/><rect x="176.51" y="250.09" width="58.29" height="5.8"/><rect x="192.02" y="261.94" width="42.78" height="5.8"/><rect x="173.00" y="273.78" width="59.74" height="5.8"/><rect x="189.91" y="285.63" width="47.55" height="5.8"/><rect x="193.66" y="297.48" width="44.26" height="5.8"/><rect x="199.05" y="309.33" width="23.10" height="5.8"/><rect x="188.46" y="321.18" width="43.13" height="5.8"/><rect x="186.50" y="333.03" width="33.39" height="5.8"/><rect x="174.80" y="344.88" width="52.22" height="5.8"/><rect x="181.23" y="356.73" width="39.46" height="5.8"/><rect x="158.23" y="368.58" width="61.66" height="5.8"/><rect x="178.11" y="380.43" width="45.34" height="5.8"/><rect x="173.34" y="392.27" width="47.35" height="5.8"/><rect x="156.02" y="404.12" width="60.00" height="5.8"/><rect x="168.12" y="415.97" width="49.06" height="5.8"/><rect x="176.41" y="427.82" width="38.01" height="5.8"/><rect x="175.30" y="439.67" width="32.94" height="5.8"/><rect x="155.22" y="451.52" width="49.16" height="5.8"/><rect x="140.31" y="463.37" width="61.29" height="5.8"/><rect x="153.11" y="475.22" width="53.27" height="5.8"/><rect x="169.08" y="487.07" width="34.35" height="5.8"/><rect x="147.08" y="498.92" width="52.87" height="5.8"/><rect x="165.06" y="510.76" width="30.18" height="5.8"/><rect x="134.98" y="522.61" width="60.86" height="5.8"/><rect x="153.11" y="534.46" width="43.08" height="5.8"/><rect x="154.16" y="546.31" width="39.11" height="5.8"/><rect x="166.10" y="558.16" width="25.97" height="5.8"/><rect x="144.17" y="570.01" width="45.73" height="5.8"/><rect x="174.85" y="581.86" width="24.55" height="5.8"/><rect x="130.97" y="593.71" width="55.94" height="5.8"/><rect x="167.87" y="605.56" width="23.80" height="5.8"/><rect x="145.93" y="617.41" width="35.05" height="5.8"/><rect x="131.47" y="629.25" width="44.69" height="5.8"/><rect x="153.36" y="641.10" width="22.65" height="5.8"/></g>
<g stroke="#000" stroke-width="1.5"><line x1="315.49" y1="81.55" x2="315.49" y2="93.45"/><line x1="316.34" y1="93.40" x2="316.34" y2="105.30"/><line x1="314.58" y1="105.25" x2="314.58" y2="117.15"/><line x1="315.04" y1="117.10" x2="315.04" y2="129.00"/><line x1="312.78" y1="128.95" x2="312.78" y2="140.85"/><line x1="313.18" y1="140.80" x2="313.18" y2="152.69"/><line x1="313.18" y1="152.64" x2="313.18" y2="164.54"/><line x1="309.57" y1="164.49" x2="309.57" y2="176.39"/><line x1="308.76" y1="176.34" x2="308.76" y2="188.24"/><line x1="309.01" y1="188.19" x2="309.01" y2="200.09"/><line x1="307.41" y1="200.04" x2="307.41" y2="211.94"/><line x1="307.81" y1="211.89" x2="307.81" y2="223.79"/><line x1="306.75" y1="223.74" x2="306.75" y2="235.64"/><line x1="308.36" y1="235.59" x2="308.36" y2="247.49"/><line x1="305.00" y1="247.44" x2="305.00" y2="259.34"/><line x1="304.90" y1="259.29" x2="304.90" y2="271.19"/><line x1="300.18" y1="271.13" x2="300.18" y2="283.03"/><line x1="302.08" y1="282.98" x2="302.08" y2="294.88"/><line x1="298.82" y1="294.83" x2="298.82" y2="306.73"/><line x1="288.28" y1="306.68" x2="288.28" y2="318.58"/><line x1="296.31" y1="318.53" x2="296.31" y2="330.43"/><line x1="284.66" y1="330.38" x2="284.66" y2="342.28"/><line x1="287.83" y1="342.23" x2="287.83" y2="354.13"/><line x1="285.83" y1="354.08" x2="285.83" y2="365.98"/><line x1="283.76" y1="365.93" x2="283.76" y2="377.83"/><line x1="282.95" y1="377.78" x2="282.95" y2="389.68"/><line x1="282.95" y1="389.62" x2="282.95" y2="401.52"/><line x1="276.88" y1="401.47" x2="276.88" y2="413.37"/><line x1="272.76" y1="413.32" x2="272.76" y2="425.22"/><line x1="266.54" y1="425.17" x2="266.54" y2="437.07"/><line x1="265.23" y1="437.02" x2="265.23" y2="448.92"/><line x1="263.07" y1="448.87" x2="263.07" y2="460.77"/><line x1="260.31" y1="460.72" x2="260.31" y2="472.62"/><line x1="261.06" y1="472.57" x2="261.06" y2="484.47"/><line x1="259.96" y1="484.42" x2="259.96" y2="496.32"/><line x1="248.01" y1="496.27" x2="248.01" y2="508.17"/><line x1="249.61" y1="508.11" x2="249.61" y2="520.01"/><line x1="245.30" y1="519.96" x2="245.30" y2="531.86"/><line x1="241.73" y1="531.81" x2="241.73" y2="543.71"/><line x1="240.12" y1="543.66" x2="240.12" y2="555.56"/><line x1="237.61" y1="555.51" x2="237.61" y2="567.41"/><line x1="237.61" y1="567.36" x2="237.61" y2="579.26"/><line x1="246.60" y1="579.21" x2="246.60" y2="591.11"/><line x1="232.74" y1="591.06" x2="232.74" y2="602.96"/><line x1="231.74" y1="602.91" x2="231.74" y2="614.81"/><line x1="228.88" y1="614.75" x2="228.88" y2="626.66"/><line x1="218.78" y1="626.60" x2="218.78" y2="638.50"/><line x1="211.50" y1="638.45" x2="211.50" y2="650.35"/></g>
<g><circle cx="266.54" cy="87.50" r="5.15" fill="#ff0000"/><circle cx="269.30" cy="99.35" r="5.15" fill="#ff0000"/><circle cx="316.10" cy="111.20" r="5.15" fill="#8b0000"/><circle cx="277.69" cy="123.05" r="5.15" fill="#ff0000"/><circle cx="321.07" cy="134.90" r="5.15" fill="#8b0000"/><circle cx="303.80" cy="146.75" r="5.15" fill="#8b0000"/><circle cx="216.03" cy="158.59" r="5.15" fill="#ff0000"/><circle cx="214.17" cy="170.44" r="5.15" fill="#ff0000"/><circle cx="277.69" cy="182.29" r="5.15" fill="#ff0000"/><circle cx="320.82" cy="194.14" r="5.15" fill="#8b0000"/><circle cx="315.50" cy="205.99" r="5.15" fill="#8b0000"/><circle cx="307.91" cy="217.84" r="5.15" fill="#8b0000"/><circle cx="226.67" cy="229.69" r="5.15" fill="#ff0000"/><circle cx="197.95" cy="241.54" r="5.15" fill="#ff0000"/><circle cx="270.51" cy="253.39" r="5.15" fill="#ff0000"/><circle cx="296.27" cy="265.24" r="5.15" fill="#8b0000"/><circle cx="214.27" cy="277.08" r="5.15" fill="#ff0000"/><circle cx="281.70" cy="288.93" r="5.15" fill="#ff0000"/><circle cx="196.15" cy="300.78" r="5.15" fill="#ff0000"/><circle cx="215.07" cy="312.63" r="5.15" fill="#ff0000"/><circle cx="201.62" cy="324.48" r="5.15" fill="#ff0000"/><circle cx="265.39" cy="336.33" r="5.15" fill="#00ff00"/><circle cx="187.06" cy="348.18" r="5.15" fill="#ff0000"/><circle cx="226.32" cy="360.03" r="5.15" fill="#ff0000"/><circle cx="240.13" cy="371.88" r="5.15" fill="#00ff00"/><circle cx="197.50" cy="383.73" r="5.15" fill="#00ff00"/><circle cx="201.87" cy="395.57" r="5.15" fill="#00ff00"/><circle cx="181.99" cy="407.42" r="5.15" fill="#00ff00"/><circle cx="173.50" cy="419.27" r="5.15" fill="#00ff00"/><circle cx="204.18" cy="431.12" r="5.15" fill="#00ff00"/><circle cx="255.49" cy="442.97" r="5.15" fill="#00ff00"/><circle cx="223.41" cy="454.82" r="5.15" fill="#00ff00"/><circle cx="240.93" cy="466.67" r="5.15" fill="#00ff00"/><circle cx="224.11" cy="478.52" r="5.15" fill="#00ff00"/><circle cx="190.22" cy="490.37" r="5.15" fill="#00ff00"/><circle cx="219.99" cy="502.22" r="5.15" fill="#00ff00"/><circle cx="269.30" cy="514.06" r="5.15" fill="#00ff00"/><circle cx="300.88" cy="525.91" r="5.15" fill="#006400"/><circle cx="207.34" cy="537.76" r="5.15" fill="#00ff00"/><circle cx="209.65" cy="549.61" r="5.15" fill="#00ff00"/><circle cx="201.22" cy="561.46" r="5.15" fill="#00ff00"/><circle cx="227.93" cy="573.31" r="5.15" fill="#00ff00"/><circle cx="181.68" cy="585.16" r="5.15" fill="#00ff00"/><circle cx="305.55" cy="597.01" r="5.15" fill="#006400"/><circle cx="194.19" cy="608.86" r="5.15" fill="#00ff00"/><circle cx="235.31" cy="620.71" r="5.15" fill="#00ff00"/><circle cx="261.02" cy="632.55" r="5.15" fill="#00ff00"/><circle cx="221.30" cy="644.40" r="5.15" fill="#00ff00"/></g>
<line x1="285.43" y1="52.1" x2="285.43" y2="58.55" stroke="#1515ff" stroke-width="1.1"/>
<line x1="285.43" y1="58.55" x2="285.43" y2="672.8" stroke="#0000ff" stroke-width="2.3"/>
<path d="M683.6,63.3 H467.5 V677.5 H683.6" fill="none" stroke="#4a4a4a" stroke-width="1.3"/>
<line x1="684" y1="62.699999999999996" x2="684" y2="678.1" stroke="#a3a3a3" stroke-width="2"/>
<line x1="460.9" y1="91.70" x2="467.5" y2="91.70" stroke="#4a4a4a" stroke-width="1.04"/>
<text x="437.94" y="95.45" fill="#000" stroke="#000" stroke-width="0.18"><tspan font-size="10.4">PEI</tspan></text>
<line x1="460.9" y1="103.55" x2="467.5" y2="103.55" stroke="#4a4a4a" stroke-width="1.04"/>
<text x="409.05" y="107.30" fill="#000" stroke="#000" stroke-width="0.18"><tspan font-size="10.4">ADORNO</tspan></text>
<line x1="460.9" y1="115.41" x2="467.5" y2="115.41" stroke="#4a4a4a" stroke-width="1.04"/>
<text x="423.50" y="119.16" fill="#000" stroke="#000" stroke-width="0.18"><tspan font-size="10.4">WELM</tspan></text>
<line x1="460.9" y1="127.26" x2="467.5" y2="127.26" stroke="#4a4a4a" stroke-width="1.04"/>
<text x="420.61" y="131.01" fill="#000" stroke="#000" stroke-width="0.18"><tspan font-size="10.4">BUFFA</tspan></text>
<line x1="460.9" y1="139.11" x2="467.5" y2="139.11" stroke="#4a4a4a" stroke-width="1.04"/>
<text x="393.43" y="142.86" fill="#000" stroke="#000" stroke-width="0.18"><tspan font-size="10.4">VALASTYAN</tspan></text>
<line x1="460.9" y1="150.97" x2="467.5" y2="150.97" stroke="#4a4a4a" stroke-width="1.04"/>
<text x="403.27" y="154.72" fill="#000" stroke="#000" stroke-width="0.18"><tspan font-size="10.4">TAVAZOIE</tspan></text>
<line x1="460.9" y1="162.82" x2="467.5" y2="162.82" stroke="#4a4a4a" stroke-width="1.04"/>
<text x="440.25" y="166.57" fill="#000" stroke="#000" stroke-width="0.18"><tspan font-size="10.4">HE</tspan></text>
<line x1="460.9" y1="174.67" x2="467.5" y2="174.67" stroke="#4a4a4a" stroke-width="1.04"/>
<text x="409.62" y="178.42" fill="#000" stroke="#000" stroke-width="0.18"><tspan font-size="10.4">GLINSKY</tspan></text>
<line x1="460.9" y1="186.52" x2="467.5" y2="186.52" stroke="#4a4a4a" stroke-width="1.04"/>
<text x="439.68" y="190.27" fill="#000" stroke="#000" stroke-width="0.18"><tspan font-size="10.4">HU</tspan></text>
<line x1="460.9" y1="198.38" x2="467.5" y2="198.38" stroke="#4a4a4a" stroke-width="1.04"/>
<text x="440.25" y="202.13" fill="#000" stroke="#000" stroke-width="0.18"><tspan font-size="10.4">YU</tspan></text>
<line x1="460.9" y1="210.23" x2="467.5" y2="210.23" stroke="#4a4a4a" stroke-width="1.04"/>
<text x="416.55" y="213.98" fill="#000" stroke="#000" stroke-width="0.18"><tspan font-size="10.4">SORLIE</tspan></text>
<line x1="460.9" y1="222.08" x2="467.5" y2="222.08" stroke="#4a4a4a" stroke-width="1.04"/>
<text x="385.36" y="225.83" fill="#000" stroke="#000" stroke-width="0.18"><tspan font-size="10.4">RAMASWAMY</tspan></text>
<line x1="460.9" y1="233.94" x2="467.5" y2="233.94" stroke="#4a4a4a" stroke-width="1.04"/>
<text x="431.00" y="237.69" fill="#000" stroke="#000" stroke-width="0.18"><tspan font-size="10.4">PAIK</tspan></text>
<line x1="460.9" y1="245.79" x2="467.5" y2="245.79" stroke="#4a4a4a" stroke-width="1.04"/>
<text x="413.09" y="249.54" fill="#000" stroke="#000" stroke-width="0.18"><tspan font-size="10.4">IVSHINA</tspan></text>
<line x1="460.9" y1="257.64" x2="467.5" y2="257.64" stroke="#4a4a4a" stroke-width="1.04"/>
<text x="417.13" y="261.39" fill="#000" stroke="#000" stroke-width="0.18"><tspan font-size="10.4">MILLER</tspan></text>
<line x1="460.9" y1="269.50" x2="467.5" y2="269.50" stroke="#4a4a4a" stroke-width="1.04"/>
<text x="404.42" y="273.25" fill="#000" stroke="#000" stroke-width="0.18"><tspan font-size="10.4">KORKOLA</tspan></text>
<line x1="460.9" y1="281.35" x2="467.5" y2="281.35" stroke="#4a4a4a" stroke-width="1.04"/>
<text x="439.10" y="285.10" fill="#000" stroke="#000" stroke-width="0.18"><tspan font-size="10.4">MA</tspan></text>
<line x1="460.9" y1="293.20" x2="467.5" y2="293.20" stroke="#4a4a4a" stroke-width="1.04"/>
<text x="419.44" y="296.95" fill="#000" stroke="#000" stroke-width="0.18"><tspan font-size="10.4">BUESS</tspan></text>
<line x1="460.9" y1="305.05" x2="467.5" y2="305.05" stroke="#4a4a4a" stroke-width="1.04"/>
<text x="437.36" y="308.80" fill="#000" stroke="#000" stroke-width="0.18"><tspan font-size="10.4">DAI</tspan></text>
<line x1="460.9" y1="316.91" x2="467.5" y2="316.91" stroke="#4a4a4a" stroke-width="1.04"/>
<text x="365.42" y="320.66" fill="#000" stroke="#000" stroke-width="0.18"><tspan font-size="10.4">WONG−PROTEAS</tspan></text>
<line x1="460.9" y1="328.76" x2="467.5" y2="328.76" stroke="#4a4a4a" stroke-width="1.04"/>
<text x="407.32" y="332.51" fill="#000" stroke="#000" stroke-width="0.18"><tspan font-size="10.4">PAWITAN</tspan></text>
<line x1="460.9" y1="340.61" x2="467.5" y2="340.61" stroke="#4a4a4a" stroke-width="1.04"/>
<text x="403.85" y="344.36" fill="#000" stroke="#000" stroke-width="0.18"><tspan font-size="10.4">SHIPITSIN</tspan></text>
<line x1="460.9" y1="352.47" x2="467.5" y2="352.47" stroke="#4a4a4a" stroke-width="1.04"/>
<text x="398.64" y="356.22" fill="#000" stroke="#000" stroke-width="0.18"><tspan font-size="10.4">VANTVEER</tspan></text>
<line x1="460.9" y1="364.32" x2="467.5" y2="364.32" stroke="#4a4a4a" stroke-width="1.04"/>
<text x="410.21" y="368.07" fill="#000" stroke="#000" stroke-width="0.18"><tspan font-size="10.4">RHODES</tspan></text>
<line x1="460.9" y1="376.17" x2="467.5" y2="376.17" stroke="#4a4a4a" stroke-width="1.04"/>
<text x="404.71" y="379.92" fill="#000" stroke="#000" stroke-width="0.18"><tspan font-size="10.4">WANG−76</tspan></text>
<line x1="460.9" y1="388.02" x2="467.5" y2="388.02" stroke="#4a4a4a" stroke-width="1.04"/>
<text x="411.94" y="391.77" fill="#000" stroke="#000" stroke-width="0.18"><tspan font-size="10.4">CARTER</tspan></text>
<line x1="460.9" y1="399.88" x2="467.5" y2="399.88" stroke="#4a4a4a" stroke-width="1.04"/>
<text x="391.13" y="403.63" fill="#000" stroke="#000" stroke-width="0.18"><tspan font-size="10.4">HALLSTROM</tspan></text>
<line x1="460.9" y1="411.73" x2="467.5" y2="411.73" stroke="#4a4a4a" stroke-width="1.04"/>
<text x="379.29" y="415.48" fill="#000" stroke="#000" stroke-width="0.18"><tspan font-size="10.4">SOTIRIOU−GGI</tspan></text>
<line x1="460.9" y1="423.58" x2="467.5" y2="423.58" stroke="#4a4a4a" stroke-width="1.04"/>
<text x="426.95" y="427.33" fill="#000" stroke="#000" stroke-width="0.18"><tspan font-size="10.4">ABBA</tspan></text>
<line x1="460.9" y1="435.44" x2="467.5" y2="435.44" stroke="#4a4a4a" stroke-width="1.04"/>
<text x="390.84" y="439.19" fill="#000" stroke="#000" stroke-width="0.18"><tspan font-size="10.4">META−PCNA</tspan></text>
<line x1="460.9" y1="447.29" x2="467.5" y2="447.29" stroke="#4a4a4a" stroke-width="1.04"/>
<text x="436.79" y="451.04" fill="#000" stroke="#000" stroke-width="0.18"><tspan font-size="10.4">CHI</tspan></text>
<line x1="460.9" y1="459.14" x2="467.5" y2="459.14" stroke="#4a4a4a" stroke-width="1.04"/>
<text x="427.55" y="462.89" fill="#000" stroke="#000" stroke-width="0.18"><tspan font-size="10.4">MORI</tspan></text>
<line x1="460.9" y1="471.00" x2="467.5" y2="471.00" stroke="#4a4a4a" stroke-width="1.04"/>
<text x="428.11" y="474.75" fill="#000" stroke="#000" stroke-width="0.18"><tspan font-size="10.4">SAAL</tspan></text>
<line x1="460.9" y1="482.85" x2="467.5" y2="482.85" stroke="#4a4a4a" stroke-width="1.04"/>
<text x="438.52" y="486.60" fill="#000" stroke="#000" stroke-width="0.18"><tspan font-size="10.4">LIU</tspan></text>
<line x1="460.9" y1="494.70" x2="467.5" y2="494.70" stroke="#4a4a4a" stroke-width="1.04"/>
<text x="432.74" y="498.45" fill="#000" stroke="#000" stroke-width="0.18"><tspan font-size="10.4">KOK</tspan></text>
<line x1="460.9" y1="506.56" x2="467.5" y2="506.56" stroke="#4a4a4a" stroke-width="1.04"/>
<text x="358.51" y="510.31" fill="#000" stroke="#000" stroke-width="0.18"><tspan font-size="10.4">WONG−MITOCHON</tspan></text>
<line x1="460.9" y1="518.41" x2="467.5" y2="518.41" stroke="#4a4a4a" stroke-width="1.04"/>
<text x="359.62" y="522.16" fill="#000" stroke="#000" stroke-width="0.18"><tspan font-size="10.4">WANG−ALK5T204D</tspan></text>
<line x1="460.9" y1="530.26" x2="467.5" y2="530.26" stroke="#4a4a4a" stroke-width="1.04"/>
<text x="420.03" y="534.01" fill="#000" stroke="#000" stroke-width="0.18"><tspan font-size="10.4">TAUBE</tspan></text>
<line x1="460.9" y1="542.11" x2="467.5" y2="542.11" stroke="#4a4a4a" stroke-width="1.04"/>
<text x="393.74" y="545.86" fill="#000" stroke="#000" stroke-width="0.18"><tspan font-size="10.4">WONG−ESC</tspan></text>
<line x1="460.9" y1="553.97" x2="467.5" y2="553.97" stroke="#4a4a4a" stroke-width="1.04"/>
<text x="386.79" y="557.72" fill="#000" stroke="#000" stroke-width="0.18"><tspan font-size="10.4">SOTIRIOU−93</tspan></text>
<line x1="460.9" y1="565.82" x2="467.5" y2="565.82" stroke="#4a4a4a" stroke-width="1.04"/>
<text x="417.14" y="569.57" fill="#000" stroke="#000" stroke-width="0.18"><tspan font-size="10.4">CHANG</tspan></text>
<line x1="460.9" y1="577.67" x2="467.5" y2="577.67" stroke="#4a4a4a" stroke-width="1.04"/>
<text x="351.24" y="581.42" fill="#000" stroke="#000" stroke-width="0.18"><tspan font-size="10.4">BEN−PORATH−EXP </tspan></text><path d="M515,0L515,1237L197,1010L197,1180L530,1409L696,1409L696,0Z" transform="translate(448.92,581.42) scale(0.00508,-0.00508)" fill="#000" stroke="#000" stroke-width="0.18" vector-effect="non-scaling-stroke"/>
<line x1="460.9" y1="589.53" x2="467.5" y2="589.53" stroke="#4a4a4a" stroke-width="1.04"/>
<text x="393.46" y="593.28" fill="#000" stroke="#000" stroke-width="0.18"><tspan font-size="10.4">CRAWFORD</tspan></text>
<line x1="460.9" y1="601.38" x2="467.5" y2="601.38" stroke="#4a4a4a" stroke-width="1.04"/>
<text x="424.66" y="605.13" fill="#000" stroke="#000" stroke-width="0.18"><tspan font-size="10.4">WEST</tspan></text>
<line x1="460.9" y1="613.23" x2="467.5" y2="613.23" stroke="#4a4a4a" stroke-width="1.04"/>
<text x="398.66" y="616.98" fill="#000" stroke="#000" stroke-width="0.18"><tspan font-size="10.4">WHITFIELD</tspan></text>
<line x1="460.9" y1="625.09" x2="467.5" y2="625.09" stroke="#4a4a4a" stroke-width="1.04"/>
<text x="350.09" y="628.84" fill="#000" stroke="#000" stroke-width="0.18"><tspan font-size="10.4">BEN−PORATH−PRC2</tspan></text>
<line x1="460.9" y1="636.94" x2="467.5" y2="636.94" stroke="#4a4a4a" stroke-width="1.04"/>
<text x="411.94" y="640.69" fill="#000" stroke="#000" stroke-width="0.18"><tspan font-size="10.4">REUTER</tspan></text>
<line x1="460.9" y1="648.79" x2="467.5" y2="648.79" stroke="#4a4a4a" stroke-width="1.04"/>
<text x="432.74" y="652.54" fill="#000" stroke="#000" stroke-width="0.18"><tspan font-size="10.4">HUA</tspan></text>
<line x1="507.50" y1="677.5" x2="507.50" y2="684.20" stroke="#4a4a4a" stroke-width="1.04"/>
<text x="498.85" y="699.90" fill="#000" stroke="#000" stroke-width="0.15"><tspan font-size="10.2">− 0</tspan></text><path d="M515,0L515,1237L197,1010L197,1180L530,1409L696,1409L696,0Z" transform="translate(504.81,699.90) scale(0.00498,-0.00498)" fill="#000" stroke="#000" stroke-width="0.15" vector-effect="non-scaling-stroke"/>
<line x1="572.35" y1="677.5" x2="572.35" y2="684.20" stroke="#4a4a4a" stroke-width="1.04"/>
<text x="566.54" y="699.90" fill="#000" stroke="#000" stroke-width="0.15"><tspan font-size="10.2">−5</tspan></text>
<line x1="637.20" y1="677.5" x2="637.20" y2="684.20" stroke="#4a4a4a" stroke-width="1.04"/>
<text x="634.36" y="699.90" fill="#000" stroke="#000" stroke-width="0.15"><tspan font-size="10.2">0</tspan></text>
<g stroke="#383838" stroke-width="1.0"><line x1="545.37" y1="91.70" x2="675.72" y2="91.70"/><line x1="564.44" y1="103.55" x2="675.72" y2="103.55"/><line x1="546.17" y1="115.41" x2="675.72" y2="115.41"/><line x1="572.46" y1="127.26" x2="675.72" y2="127.26"/><line x1="561.61" y1="139.11" x2="675.72" y2="139.11"/><line x1="551.65" y1="150.97" x2="675.72" y2="150.97"/><line x1="546.87" y1="162.82" x2="675.72" y2="162.82"/><line x1="522.84" y1="174.67" x2="675.72" y2="174.67"/><line x1="526.60" y1="186.52" x2="675.72" y2="186.52"/><line x1="537.06" y1="198.38" x2="675.72" y2="198.38"/><line x1="552.20" y1="210.23" x2="675.72" y2="210.23"/><line x1="517.14" y1="222.08" x2="675.72" y2="222.08"/><line x1="477.51" y1="233.94" x2="675.72" y2="233.94"/><line x1="533.03" y1="245.79" x2="675.72" y2="245.79"/><line x1="529.19" y1="257.64" x2="675.72" y2="257.64"/><line x1="544.58" y1="269.50" x2="675.72" y2="269.50"/><line x1="525.72" y1="281.35" x2="675.72" y2="281.35"/><line x1="542.49" y1="293.20" x2="675.72" y2="293.20"/><line x1="546.20" y1="305.05" x2="675.72" y2="305.05"/><line x1="551.55" y1="316.91" x2="675.72" y2="316.91"/><line x1="541.04" y1="328.76" x2="675.72" y2="328.76"/><line x1="539.10" y1="340.61" x2="675.72" y2="340.61"/><line x1="527.50" y1="352.47" x2="675.72" y2="352.47"/><line x1="533.87" y1="364.32" x2="675.72" y2="364.32"/><line x1="511.07" y1="376.17" x2="675.72" y2="376.17"/><line x1="530.79" y1="388.02" x2="675.72" y2="388.02"/><line x1="526.06" y1="399.88" x2="675.72" y2="399.88"/><line x1="508.88" y1="411.73" x2="675.72" y2="411.73"/><line x1="520.88" y1="423.58" x2="675.72" y2="423.58"/><line x1="529.09" y1="435.44" x2="675.72" y2="435.44"/><line x1="528.00" y1="447.29" x2="675.72" y2="447.29"/><line x1="508.08" y1="459.14" x2="675.72" y2="459.14"/><line x1="493.30" y1="471.00" x2="675.42" y2="471.00"/><line x1="505.99" y1="482.85" x2="675.57" y2="482.85"/><line x1="521.82" y1="494.70" x2="675.42" y2="494.70"/><line x1="500.02" y1="506.56" x2="675.42" y2="506.56"/><line x1="517.84" y1="518.41" x2="675.57" y2="518.41"/><line x1="488.02" y1="530.26" x2="674.97" y2="530.26"/><line x1="505.99" y1="542.11" x2="673.18" y2="542.11"/><line x1="507.04" y1="553.97" x2="669.95" y2="553.97"/><line x1="518.87" y1="565.82" x2="666.21" y2="565.82"/><line x1="497.13" y1="577.67" x2="670.19" y2="577.67"/><line x1="527.55" y1="589.53" x2="675.22" y2="589.53"/><line x1="484.04" y1="601.38" x2="664.82" y2="601.38"/><line x1="520.63" y1="613.23" x2="671.99" y2="613.23"/><line x1="498.87" y1="625.09" x2="655.56" y2="625.09"/><line x1="484.53" y1="636.94" x2="663.22" y2="636.94"/><line x1="506.24" y1="648.79" x2="626.33" y2="648.79"/></g>
<g stroke="#000" stroke-width="1.4"><line x1="545.37" y1="91.70" x2="624.64" y2="91.70"/><line x1="564.44" y1="103.55" x2="626.40" y2="103.55"/><line x1="546.17" y1="115.41" x2="605.27" y2="115.41"/><line x1="572.46" y1="127.26" x2="612.74" y2="127.26"/><line x1="561.61" y1="139.11" x2="607.96" y2="139.11"/><line x1="551.65" y1="150.97" x2="599.59" y2="150.97"/><line x1="546.87" y1="162.82" x2="605.57" y2="162.82"/><line x1="522.84" y1="174.67" x2="594.22" y2="174.67"/><line x1="526.60" y1="186.52" x2="598.20" y2="186.52"/><line x1="537.06" y1="198.38" x2="594.91" y2="198.38"/><line x1="552.20" y1="210.23" x2="597.20" y2="210.23"/><line x1="517.14" y1="222.08" x2="586.70" y2="222.08"/><line x1="477.51" y1="233.94" x2="595.86" y2="233.94"/><line x1="533.03" y1="245.79" x2="598.50" y2="245.79"/><line x1="529.19" y1="257.64" x2="587.00" y2="257.64"/><line x1="544.58" y1="269.50" x2="587.00" y2="269.50"/><line x1="525.72" y1="281.35" x2="584.96" y2="281.35"/><line x1="542.49" y1="293.20" x2="589.64" y2="293.20"/><line x1="546.20" y1="305.05" x2="590.08" y2="305.05"/><line x1="551.55" y1="316.91" x2="574.45" y2="316.91"/><line x1="541.04" y1="328.76" x2="583.81" y2="328.76"/><line x1="539.10" y1="340.61" x2="572.21" y2="340.61"/><line x1="527.50" y1="352.47" x2="579.28" y2="352.47"/><line x1="533.87" y1="364.32" x2="573.01" y2="364.32"/><line x1="511.07" y1="376.17" x2="572.21" y2="376.17"/><line x1="530.79" y1="388.02" x2="575.75" y2="388.02"/><line x1="526.06" y1="399.88" x2="573.01" y2="399.88"/><line x1="508.88" y1="411.73" x2="568.38" y2="411.73"/><line x1="520.88" y1="423.58" x2="569.52" y2="423.58"/><line x1="529.09" y1="435.44" x2="566.78" y2="435.44"/><line x1="528.00" y1="447.29" x2="560.66" y2="447.29"/><line x1="508.08" y1="459.14" x2="556.83" y2="459.14"/><line x1="493.30" y1="471.00" x2="554.07" y2="471.00"/><line x1="505.99" y1="482.85" x2="558.82" y2="482.85"/><line x1="521.82" y1="494.70" x2="555.88" y2="494.70"/><line x1="500.02" y1="506.56" x2="552.45" y2="506.56"/><line x1="517.84" y1="518.41" x2="547.76" y2="518.41"/><line x1="488.02" y1="530.26" x2="548.36" y2="530.26"/><line x1="505.99" y1="542.11" x2="548.71" y2="542.11"/><line x1="507.04" y1="553.97" x2="545.82" y2="553.97"/><line x1="518.87" y1="565.82" x2="544.63" y2="565.82"/><line x1="497.13" y1="577.67" x2="542.47" y2="577.67"/><line x1="527.55" y1="589.53" x2="551.90" y2="589.53"/><line x1="484.04" y1="601.38" x2="539.50" y2="601.38"/><line x1="520.63" y1="613.23" x2="544.23" y2="613.23"/><line x1="498.87" y1="625.09" x2="533.62" y2="625.09"/><line x1="484.53" y1="636.94" x2="528.84" y2="636.94"/><line x1="506.24" y1="648.79" x2="528.70" y2="648.79"/></g>
<g fill="url(#tg)"><rect x="669.97" y="458.64" width="5.76" height="1.0"/><rect x="660.20" y="506.06" width="15.22" height="1.0"/><rect x="662.71" y="517.91" width="12.86" height="1.0"/><rect x="658.49" y="529.76" width="16.48" height="1.0"/><rect x="655.58" y="541.61" width="17.60" height="1.0"/><rect x="651.11" y="553.47" width="18.84" height="1.0"/><rect x="649.76" y="565.32" width="16.45" height="1.0"/><rect x="649.04" y="577.17" width="21.15" height="1.0"/><rect x="656.50" y="589.03" width="18.72" height="1.0"/><rect x="644.79" y="600.88" width="20.03" height="1.0"/><rect x="641.42" y="612.73" width="30.56" height="1.0"/><rect x="637.94" y="624.59" width="17.62" height="1.0"/><rect x="627.68" y="636.44" width="35.55" height="1.0"/><rect x="608.85" y="648.29" width="17.48" height="1.0"/></g>
<g stroke="#141414" stroke-width="1.0"><line x1="545.37" y1="91.70" x2="618.66" y2="91.70"/><line x1="564.44" y1="103.55" x2="618.72" y2="103.55"/><line x1="546.17" y1="115.41" x2="618.48" y2="115.41"/><line x1="572.46" y1="127.26" x2="594.58" y2="127.26"/><line x1="561.61" y1="139.11" x2="594.37" y2="139.11"/><line x1="551.65" y1="150.97" x2="594.01" y2="150.97"/><line x1="546.87" y1="162.82" x2="593.97" y2="162.82"/><line x1="522.84" y1="174.67" x2="593.76" y2="174.67"/><line x1="526.60" y1="186.52" x2="595.06" y2="186.52"/><line x1="537.06" y1="198.38" x2="594.95" y2="198.38"/><line x1="552.20" y1="210.23" x2="595.95" y2="210.23"/><line x1="517.14" y1="222.08" x2="595.07" y2="222.08"/><line x1="477.51" y1="233.94" x2="596.01" y2="233.94"/><line x1="533.03" y1="245.79" x2="595.86" y2="245.79"/><line x1="529.19" y1="257.64" x2="595.19" y2="257.64"/><line x1="544.58" y1="269.50" x2="595.20" y2="269.50"/><line x1="525.72" y1="281.35" x2="530.26" y2="281.35"/><line x1="542.49" y1="293.20" x2="543.49" y2="293.20"/><line x1="546.20" y1="305.05" x2="547.20" y2="305.05"/><line x1="551.55" y1="316.91" x2="552.55" y2="316.91"/><line x1="541.04" y1="328.76" x2="542.04" y2="328.76"/><line x1="539.10" y1="340.61" x2="540.10" y2="340.61"/><line x1="527.50" y1="352.47" x2="530.87" y2="352.47"/><line x1="533.87" y1="364.32" x2="534.87" y2="364.32"/><line x1="511.07" y1="376.17" x2="565.37" y2="376.17"/><line x1="530.79" y1="388.02" x2="562.67" y2="388.02"/><line x1="526.06" y1="399.88" x2="565.07" y2="399.88"/><line x1="508.88" y1="411.73" x2="560.76" y2="411.73"/><line x1="520.88" y1="423.58" x2="552.61" y2="423.58"/><line x1="529.09" y1="435.44" x2="549.01" y2="435.44"/><line x1="528.00" y1="447.29" x2="550.27" y2="447.29"/><line x1="508.08" y1="459.14" x2="547.13" y2="459.14"/><line x1="493.30" y1="471.00" x2="549.05" y2="471.00"/><line x1="505.99" y1="482.85" x2="548.50" y2="482.85"/><line x1="521.82" y1="494.70" x2="547.83" y2="494.70"/><line x1="500.02" y1="506.56" x2="537.76" y2="506.56"/><line x1="517.84" y1="518.41" x2="540.19" y2="518.41"/><line x1="488.02" y1="530.26" x2="536.65" y2="530.26"/><line x1="505.99" y1="542.11" x2="537.82" y2="542.11"/><line x1="507.04" y1="553.97" x2="537.76" y2="553.97"/><line x1="518.87" y1="565.82" x2="537.70" y2="565.82"/><line x1="497.13" y1="577.67" x2="537.25" y2="577.67"/><line x1="527.55" y1="589.53" x2="546.27" y2="589.53"/><line x1="484.04" y1="601.38" x2="542.12" y2="601.38"/><line x1="520.63" y1="613.23" x2="544.10" y2="613.23"/><line x1="498.87" y1="625.09" x2="540.23" y2="625.09"/><line x1="484.53" y1="636.94" x2="529.61" y2="636.94"/><line x1="506.24" y1="648.79" x2="535.50" y2="648.79"/></g>
<g fill="#7616ab" stroke="#000" stroke-width="0.75" stroke-linejoin="round"><polygon points="617.1,91.70 617.7,91.58 618.8,91.57 620.0,91.56 621.2,91.54 622.4,91.53 623.6,91.51 624.8,91.50 626.0,91.48 627.1,91.46 628.3,91.44 629.5,91.42 630.7,91.40 631.9,91.37 633.1,91.34 634.2,91.31 635.4,91.28 636.6,91.24 637.8,91.20 639.0,91.16 640.2,91.11 641.4,91.06 642.5,91.01 643.7,90.95 644.9,90.88 646.1,90.81 647.3,90.74 648.5,90.65 649.7,90.56 650.8,90.47 652.0,90.36 653.2,90.24 654.4,90.12 655.6,89.98 656.8,89.84 657.9,89.68 659.1,89.50 660.3,89.31 661.5,89.11 662.7,88.89 663.9,88.64 665.1,88.37 666.2,87.79 667.4,87.38 668.6,87.37 669.8,87.37 671.0,87.37 672.2,87.37 672.7,87.37 673.0,87.37 673.2,87.37 673.5,87.37 673.7,87.38 674.0,87.40 674.2,87.45 674.5,87.53 674.7,87.66 675.0,87.86 675.2,88.19 675.5,88.77 675.5,94.63 675.2,95.21 675.0,95.54 674.7,95.74 674.5,95.87 674.2,95.95 674.0,96.00 673.7,96.02 673.5,96.03 673.2,96.03 673.0,96.03 672.7,96.03 672.2,96.03 671.0,96.03 669.8,96.03 668.6,96.03 667.4,96.02 666.2,95.61 665.1,95.03 663.9,94.76 662.7,94.51 661.5,94.29 660.3,94.09 659.1,93.90 657.9,93.72 656.8,93.56 655.6,93.42 654.4,93.28 653.2,93.16 652.0,93.04 650.8,92.93 649.7,92.84 648.5,92.75 647.3,92.66 646.1,92.59 644.9,92.52 643.7,92.45 642.5,92.39 641.4,92.34 640.2,92.29 639.0,92.24 637.8,92.20 636.6,92.16 635.4,92.12 634.2,92.09 633.1,92.06 631.9,92.03 630.7,92.00 629.5,91.98 628.3,91.96 627.1,91.94 626.0,91.92 624.8,91.90 623.6,91.89 622.4,91.87 621.2,91.86 620.0,91.84 618.8,91.83 617.7,91.82 617.1,91.70"/><polygon points="617.1,103.55 617.7,103.43 618.9,103.42 620.1,103.41 621.3,103.40 622.5,103.38 623.6,103.37 624.8,103.35 626.0,103.33 627.2,103.31 628.4,103.29 629.6,103.27 630.7,103.25 631.9,103.22 633.1,103.19 634.3,103.16 635.5,103.13 636.7,103.09 637.8,103.05 639.0,103.01 640.2,102.96 641.4,102.91 642.6,102.86 643.8,102.80 644.9,102.73 646.1,102.66 647.3,102.59 648.5,102.50 649.7,102.41 650.9,102.32 652.0,102.21 653.2,102.10 654.4,101.97 655.6,101.83 656.8,101.69 658.0,101.53 659.1,101.35 660.3,101.16 661.5,100.96 662.7,100.74 663.9,100.49 665.1,100.22 666.3,99.64 667.4,99.23 668.6,99.23 669.8,99.23 671.0,99.23 672.2,99.23 672.7,99.23 673.0,99.23 673.2,99.23 673.5,99.23 673.7,99.23 674.0,99.25 674.2,99.30 674.5,99.38 674.7,99.51 675.0,99.72 675.2,100.05 675.5,100.63 675.5,106.48 675.2,107.06 675.0,107.39 674.7,107.60 674.5,107.73 674.2,107.81 674.0,107.85 673.7,107.87 673.5,107.88 673.2,107.88 673.0,107.88 672.7,107.88 672.2,107.88 671.0,107.88 669.8,107.88 668.6,107.88 667.4,107.88 666.3,107.47 665.1,106.89 663.9,106.62 662.7,106.37 661.5,106.15 660.3,105.94 659.1,105.75 658.0,105.58 656.8,105.42 655.6,105.27 654.4,105.14 653.2,105.01 652.0,104.90 650.9,104.79 649.7,104.69 648.5,104.60 647.3,104.52 646.1,104.44 644.9,104.37 643.8,104.31 642.6,104.25 641.4,104.19 640.2,104.14 639.0,104.10 637.8,104.05 636.7,104.01 635.5,103.98 634.3,103.94 633.1,103.91 631.9,103.88 630.7,103.86 629.6,103.83 628.4,103.81 627.2,103.79 626.0,103.77 624.8,103.76 623.6,103.74 622.5,103.72 621.3,103.71 620.1,103.70 618.9,103.69 617.7,103.68 617.1,103.55"/><polygon points="616.9,115.41 617.5,115.28 618.7,115.27 619.9,115.26 621.0,115.25 622.2,115.24 623.4,115.22 624.6,115.21 625.8,115.19 627.0,115.17 628.2,115.15 629.4,115.13 630.6,115.10 631.7,115.08 632.9,115.05 634.1,115.02 635.3,114.99 636.5,114.95 637.7,114.91 638.9,114.87 640.1,114.82 641.3,114.77 642.4,114.72 643.6,114.66 644.8,114.59 646.0,114.52 647.2,114.45 648.4,114.37 649.6,114.28 650.8,114.18 652.0,114.07 653.1,113.96 654.3,113.83 655.5,113.70 656.7,113.55 657.9,113.39 659.1,113.22 660.3,113.03 661.5,112.82 662.6,112.60 663.8,112.35 665.0,112.09 666.2,111.51 667.4,111.08 668.6,111.08 669.8,111.08 671.0,111.08 672.2,111.08 672.7,111.08 673.0,111.08 673.2,111.08 673.5,111.08 673.7,111.09 674.0,111.11 674.2,111.15 674.5,111.23 674.7,111.36 675.0,111.57 675.2,111.90 675.5,112.48 675.5,118.33 675.2,118.91 675.0,119.24 674.7,119.45 674.5,119.58 674.2,119.66 674.0,119.70 673.7,119.73 673.5,119.73 673.2,119.73 673.0,119.73 672.7,119.73 672.2,119.73 671.0,119.73 669.8,119.73 668.6,119.73 667.4,119.73 666.2,119.30 665.0,118.73 663.8,118.46 662.6,118.21 661.5,117.99 660.3,117.78 659.1,117.60 657.9,117.42 656.7,117.26 655.5,117.11 654.3,116.98 653.1,116.85 652.0,116.74 650.8,116.63 649.6,116.54 648.4,116.45 647.2,116.36 646.0,116.29 644.8,116.22 643.6,116.15 642.4,116.09 641.3,116.04 640.1,115.99 638.9,115.94 637.7,115.90 636.5,115.86 635.3,115.83 634.1,115.79 632.9,115.76 631.7,115.73 630.6,115.71 629.4,115.68 628.2,115.66 627.0,115.64 625.8,115.62 624.6,115.61 623.4,115.59 622.2,115.57 621.0,115.56 619.9,115.55 618.7,115.54 617.5,115.53 616.9,115.41"/><polygon points="593.0,127.26 593.6,127.14 594.8,127.13 595.9,127.12 597.1,127.11 598.3,127.11 599.4,127.10 600.6,127.09 601.8,127.08 603.0,127.07 604.1,127.06 605.3,127.05 606.5,127.04 607.7,127.02 608.8,127.01 610.0,127.00 611.2,126.98 612.4,126.97 613.5,126.95 614.7,126.93 615.9,126.92 617.1,126.90 618.2,126.88 619.4,126.85 620.6,126.83 621.7,126.81 622.9,126.78 624.1,126.76 625.3,126.73 626.4,126.70 627.6,126.67 628.8,126.64 630.0,126.60 631.1,126.57 632.3,126.53 633.5,126.49 634.7,126.45 635.8,126.40 637.0,126.35 638.2,126.30 639.3,126.25 640.5,126.19 641.7,126.14 642.9,126.07 644.0,126.01 645.2,125.94 646.4,125.87 647.6,125.79 648.7,125.71 649.9,125.62 651.1,125.53 652.3,125.44 653.4,125.34 654.6,125.23 655.8,125.12 656.9,125.00 658.1,124.87 659.3,124.74 660.5,124.60 661.6,124.46 662.8,124.30 664.0,124.13 665.2,123.90 666.3,123.30 667.5,122.93 668.7,122.93 669.9,122.93 671.0,122.93 672.2,122.93 672.7,122.93 673.0,122.93 673.2,122.93 673.5,122.93 673.7,122.94 674.0,122.96 674.2,123.01 674.5,123.09 674.7,123.22 675.0,123.42 675.2,123.75 675.5,124.33 675.5,130.19 675.2,130.77 675.0,131.10 674.7,131.30 674.5,131.43 674.2,131.51 674.0,131.56 673.7,131.58 673.5,131.59 673.2,131.59 673.0,131.59 672.7,131.59 672.2,131.59 671.0,131.59 669.9,131.59 668.7,131.59 667.5,131.59 666.3,131.22 665.2,130.62 664.0,130.39 662.8,130.22 661.6,130.06 660.5,129.91 659.3,129.78 658.1,129.64 656.9,129.52 655.8,129.40 654.6,129.29 653.4,129.18 652.3,129.08 651.1,128.99 649.9,128.90 648.7,128.81 647.6,128.73 646.4,128.65 645.2,128.58 644.0,128.51 642.9,128.44 641.7,128.38 640.5,128.32 639.3,128.27 638.2,128.21 637.0,128.16 635.8,128.12 634.7,128.07 633.5,128.03 632.3,127.99 631.1,127.95 630.0,127.91 628.8,127.88 627.6,127.85 626.4,127.82 625.3,127.79 624.1,127.76 622.9,127.73 621.7,127.71 620.6,127.69 619.4,127.66 618.2,127.64 617.1,127.62 615.9,127.60 614.7,127.58 613.5,127.57 612.4,127.55 611.2,127.54 610.0,127.52 608.8,127.51 607.7,127.49 606.5,127.48 605.3,127.47 604.1,127.46 603.0,127.45 601.8,127.44 600.6,127.43 599.4,127.42 598.3,127.41 597.1,127.40 595.9,127.40 594.8,127.39 593.6,127.38 593.0,127.26"/><polygon points="592.8,139.11 593.4,138.99 594.5,138.98 595.7,138.98 596.9,138.97 598.1,138.96 599.3,138.95 600.4,138.94 601.6,138.93 602.8,138.92 604.0,138.91 605.1,138.90 606.3,138.89 607.5,138.88 608.7,138.86 609.8,138.85 611.0,138.84 612.2,138.82 613.4,138.81 614.5,138.79 615.7,138.77 616.9,138.75 618.1,138.73 619.3,138.71 620.4,138.69 621.6,138.66 622.8,138.64 624.0,138.61 625.1,138.59 626.3,138.56 627.5,138.53 628.7,138.49 629.8,138.46 631.0,138.42 632.2,138.39 633.4,138.35 634.5,138.30 635.7,138.26 636.9,138.21 638.1,138.16 639.3,138.11 640.4,138.05 641.6,137.99 642.8,137.93 644.0,137.87 645.1,137.80 646.3,137.72 647.5,137.65 648.7,137.57 649.8,137.48 651.0,137.39 652.2,137.29 653.4,137.19 654.5,137.09 655.7,136.98 656.9,136.86 658.1,136.73 659.3,136.60 660.4,136.46 661.6,136.31 662.8,136.16 664.0,135.99 665.1,135.76 666.3,135.16 667.5,134.79 668.7,134.79 669.8,134.79 671.0,134.79 672.2,134.79 672.7,134.79 673.0,134.79 673.2,134.79 673.5,134.79 673.7,134.79 674.0,134.81 674.2,134.86 674.5,134.94 674.7,135.07 675.0,135.28 675.2,135.61 675.5,136.19 675.5,142.04 675.2,142.62 675.0,142.95 674.7,143.16 674.5,143.29 674.2,143.37 674.0,143.41 673.7,143.43 673.5,143.44 673.2,143.44 673.0,143.44 672.7,143.44 672.2,143.44 671.0,143.44 669.8,143.44 668.7,143.44 667.5,143.44 666.3,143.06 665.1,142.46 664.0,142.23 662.8,142.06 661.6,141.91 660.4,141.76 659.3,141.62 658.1,141.49 656.9,141.37 655.7,141.25 654.5,141.14 653.4,141.03 652.2,140.93 651.0,140.83 649.8,140.74 648.7,140.66 647.5,140.58 646.3,140.50 645.1,140.43 644.0,140.36 642.8,140.29 641.6,140.23 640.4,140.17 639.3,140.12 638.1,140.06 636.9,140.01 635.7,139.97 634.5,139.92 633.4,139.88 632.2,139.84 631.0,139.80 629.8,139.76 628.7,139.73 627.5,139.70 626.3,139.67 625.1,139.64 624.0,139.61 622.8,139.58 621.6,139.56 620.4,139.54 619.3,139.51 618.1,139.49 616.9,139.47 615.7,139.45 614.5,139.44 613.4,139.42 612.2,139.40 611.0,139.39 609.8,139.37 608.7,139.36 607.5,139.35 606.3,139.33 605.1,139.32 604.0,139.31 602.8,139.30 601.6,139.29 600.4,139.28 599.3,139.27 598.1,139.26 596.9,139.26 595.7,139.25 594.5,139.24 593.4,139.23 592.8,139.11"/><polygon points="592.4,150.97 593.0,150.84 594.2,150.84 595.4,150.83 596.6,150.82 597.7,150.82 598.9,150.81 600.1,150.80 601.3,150.79 602.5,150.78 603.6,150.77 604.8,150.76 606.0,150.75 607.2,150.73 608.4,150.72 609.5,150.71 610.7,150.69 611.9,150.68 613.1,150.66 614.3,150.65 615.5,150.63 616.6,150.61 617.8,150.59 619.0,150.57 620.2,150.55 621.4,150.52 622.5,150.50 623.7,150.47 624.9,150.44 626.1,150.42 627.3,150.39 628.5,150.35 629.6,150.32 630.8,150.28 632.0,150.24 633.2,150.20 634.4,150.16 635.5,150.12 636.7,150.07 637.9,150.02 639.1,149.97 640.3,149.91 641.5,149.85 642.6,149.79 643.8,149.73 645.0,149.66 646.2,149.59 647.4,149.51 648.5,149.43 649.7,149.34 650.9,149.25 652.1,149.16 653.3,149.06 654.5,148.95 655.6,148.84 656.8,148.72 658.0,148.59 659.2,148.46 660.4,148.32 661.5,148.18 662.7,148.02 663.9,147.85 665.1,147.63 666.3,147.04 667.5,146.64 668.6,146.64 669.8,146.64 671.0,146.64 672.2,146.64 672.7,146.64 673.0,146.64 673.2,146.64 673.5,146.64 673.7,146.65 674.0,146.67 674.2,146.71 674.5,146.79 674.7,146.92 675.0,147.13 675.2,147.46 675.5,148.04 675.5,153.89 675.2,154.47 675.0,154.80 674.7,155.01 674.5,155.14 674.2,155.22 674.0,155.26 673.7,155.28 673.5,155.29 673.2,155.29 673.0,155.29 672.7,155.29 672.2,155.29 671.0,155.29 669.8,155.29 668.6,155.29 667.5,155.29 666.3,154.89 665.1,154.30 663.9,154.08 662.7,153.91 661.5,153.75 660.4,153.61 659.2,153.47 658.0,153.34 656.8,153.21 655.6,153.09 654.5,152.98 653.3,152.87 652.1,152.77 650.9,152.68 649.7,152.59 648.5,152.50 647.4,152.42 646.2,152.34 645.0,152.27 643.8,152.20 642.6,152.14 641.5,152.08 640.3,152.02 639.1,151.96 637.9,151.91 636.7,151.86 635.5,151.81 634.4,151.77 633.2,151.73 632.0,151.69 630.8,151.65 629.6,151.61 628.5,151.58 627.3,151.54 626.1,151.51 624.9,151.49 623.7,151.46 622.5,151.43 621.4,151.41 620.2,151.38 619.0,151.36 617.8,151.34 616.6,151.32 615.5,151.30 614.3,151.28 613.1,151.27 611.9,151.25 610.7,151.24 609.5,151.22 608.4,151.21 607.2,151.20 606.0,151.18 604.8,151.17 603.6,151.16 602.5,151.15 601.3,151.14 600.1,151.13 598.9,151.12 597.7,151.11 596.6,151.11 595.4,151.10 594.2,151.09 593.0,151.09 592.4,150.97"/><polygon points="592.4,162.82 593.0,162.70 594.2,162.69 595.3,162.68 596.5,162.68 597.7,162.67 598.9,162.66 600.1,162.65 601.2,162.64 602.4,162.63 603.6,162.62 604.8,162.61 606.0,162.60 607.2,162.59 608.3,162.57 609.5,162.56 610.7,162.55 611.9,162.53 613.1,162.52 614.3,162.50 615.4,162.48 616.6,162.46 617.8,162.44 619.0,162.42 620.2,162.40 621.3,162.38 622.5,162.35 623.7,162.33 624.9,162.30 626.1,162.27 627.3,162.24 628.4,162.21 629.6,162.17 630.8,162.14 632.0,162.10 633.2,162.06 634.3,162.02 635.5,161.97 636.7,161.92 637.9,161.87 639.1,161.82 640.3,161.77 641.4,161.71 642.6,161.65 643.8,161.58 645.0,161.51 646.2,161.44 647.4,161.36 648.5,161.28 649.7,161.20 650.9,161.11 652.1,161.01 653.3,160.91 654.4,160.80 655.6,160.69 656.8,160.57 658.0,160.45 659.2,160.32 660.4,160.18 661.5,160.03 662.7,159.87 663.9,159.70 665.1,159.48 666.3,158.90 667.4,158.49 668.6,158.49 669.8,158.49 671.0,158.49 672.2,158.49 672.7,158.49 673.0,158.49 673.2,158.49 673.5,158.49 673.7,158.50 674.0,158.52 674.2,158.56 674.5,158.64 674.7,158.77 675.0,158.98 675.2,159.31 675.5,159.89 675.5,165.74 675.2,166.32 675.0,166.65 674.7,166.86 674.5,166.99 674.2,167.07 674.0,167.12 673.7,167.14 673.5,167.14 673.2,167.14 673.0,167.14 672.7,167.14 672.2,167.14 671.0,167.14 669.8,167.14 668.6,167.14 667.4,167.14 666.3,166.74 665.1,166.15 663.9,165.93 662.7,165.76 661.5,165.61 660.4,165.46 659.2,165.32 658.0,165.19 656.8,165.06 655.6,164.94 654.4,164.83 653.3,164.73 652.1,164.63 650.9,164.53 649.7,164.44 648.5,164.35 647.4,164.27 646.2,164.20 645.0,164.12 643.8,164.06 642.6,163.99 641.4,163.93 640.3,163.87 639.1,163.81 637.9,163.76 636.7,163.71 635.5,163.66 634.3,163.62 633.2,163.58 632.0,163.54 630.8,163.50 629.6,163.46 628.4,163.43 627.3,163.40 626.1,163.37 624.9,163.34 623.7,163.31 622.5,163.28 621.3,163.26 620.2,163.24 619.0,163.21 617.8,163.19 616.6,163.17 615.4,163.15 614.3,163.14 613.1,163.12 611.9,163.10 610.7,163.09 609.5,163.07 608.3,163.06 607.2,163.05 606.0,163.04 604.8,163.02 603.6,163.01 602.4,163.00 601.2,162.99 600.1,162.98 598.9,162.98 597.7,162.97 596.5,162.96 595.3,162.95 594.2,162.95 593.0,162.94 592.4,162.82"/><polygon points="592.2,174.67 592.8,174.55 593.9,174.54 595.1,174.54 596.3,174.53 597.5,174.52 598.7,174.52 599.9,174.51 601.1,174.50 602.2,174.50 603.4,174.49 604.6,174.48 605.8,174.47 607.0,174.46 608.2,174.45 609.4,174.44 610.5,174.43 611.7,174.42 612.9,174.41 614.1,174.40 615.3,174.39 616.5,174.37 617.7,174.36 618.8,174.35 620.0,174.33 621.2,174.32 622.4,174.30 623.6,174.28 624.8,174.27 625.9,174.25 627.1,174.23 628.3,174.21 629.5,174.19 630.7,174.17 631.9,174.14 633.1,174.12 634.2,174.09 635.4,174.07 636.6,174.04 637.8,174.01 639.0,173.98 640.2,173.95 641.4,173.92 642.5,173.88 643.7,173.85 644.9,173.81 646.1,173.77 647.3,173.73 648.5,173.69 649.6,173.65 650.8,173.60 652.0,173.55 653.2,173.50 654.4,173.45 655.6,173.39 656.8,173.33 657.9,173.27 659.1,173.20 660.3,173.09 661.5,172.93 662.7,172.71 663.9,172.40 665.1,172.04 666.2,171.70 667.4,171.46 668.6,171.33 669.8,171.34 671.0,171.40 672.2,171.52 672.7,171.59 673.0,171.62 673.2,171.66 673.5,171.70 673.7,171.74 674.0,171.79 674.2,171.87 674.5,171.96 674.7,172.08 675.0,172.26 675.2,172.50 675.5,172.89 675.5,176.45 675.2,176.84 675.0,177.09 674.7,177.26 674.5,177.38 674.2,177.48 674.0,177.55 673.7,177.60 673.5,177.65 673.2,177.68 673.0,177.72 672.7,177.75 672.2,177.82 671.0,177.94 669.8,178.00 668.6,178.01 667.4,177.89 666.2,177.64 665.1,177.31 663.9,176.95 662.7,176.63 661.5,176.41 660.3,176.25 659.1,176.15 657.9,176.07 656.8,176.01 655.6,175.95 654.4,175.89 653.2,175.84 652.0,175.79 650.8,175.74 649.6,175.70 648.5,175.65 647.3,175.61 646.1,175.57 644.9,175.53 643.7,175.49 642.5,175.46 641.4,175.42 640.2,175.39 639.0,175.36 637.8,175.33 636.6,175.30 635.4,175.27 634.2,175.25 633.1,175.22 631.9,175.20 630.7,175.18 629.5,175.15 628.3,175.13 627.1,175.11 625.9,175.09 624.8,175.08 623.6,175.06 622.4,175.04 621.2,175.03 620.0,175.01 618.8,175.00 617.7,174.98 616.5,174.97 615.3,174.96 614.1,174.94 612.9,174.93 611.7,174.92 610.5,174.91 609.4,174.90 608.2,174.89 607.0,174.88 605.8,174.87 604.6,174.86 603.4,174.85 602.2,174.85 601.1,174.84 599.9,174.83 598.7,174.82 597.5,174.82 596.3,174.81 595.1,174.80 593.9,174.80 592.8,174.79 592.2,174.67"/><polygon points="593.5,186.52 594.1,186.40 595.2,186.40 596.4,186.39 597.6,186.39 598.8,186.38 600.0,186.37 601.2,186.37 602.3,186.36 603.5,186.35 604.7,186.34 605.9,186.34 607.1,186.33 608.3,186.32 609.4,186.31 610.6,186.30 611.8,186.29 613.0,186.28 614.2,186.27 615.4,186.26 616.5,186.24 617.7,186.23 618.9,186.22 620.1,186.21 621.3,186.19 622.5,186.18 623.6,186.16 624.8,186.14 626.0,186.13 627.2,186.11 628.4,186.09 629.6,186.07 630.7,186.05 631.9,186.03 633.1,186.01 634.3,185.98 635.5,185.96 636.7,185.93 637.9,185.91 639.0,185.88 640.2,185.85 641.4,185.82 642.6,185.79 643.8,185.75 645.0,185.72 646.1,185.68 647.3,185.64 648.5,185.60 649.7,185.56 650.9,185.52 652.1,185.47 653.2,185.42 654.4,185.38 655.6,185.32 656.8,185.27 658.0,185.21 659.2,185.14 660.3,185.04 661.5,184.88 662.7,184.67 663.9,184.36 665.1,184.01 666.3,183.69 667.4,183.46 668.6,183.34 669.8,183.35 671.0,183.41 672.2,183.52 672.7,183.59 673.0,183.62 673.2,183.65 673.5,183.69 673.7,183.73 674.0,183.78 674.2,183.85 674.5,183.94 674.7,184.06 675.0,184.22 675.2,184.46 675.5,184.83 675.5,188.22 675.2,188.59 675.0,188.82 674.7,188.99 674.5,189.11 674.2,189.20 674.0,189.27 673.7,189.32 673.5,189.36 673.2,189.40 673.0,189.43 672.7,189.46 672.2,189.53 671.0,189.64 669.8,189.70 668.6,189.71 667.4,189.59 666.3,189.36 665.1,189.04 663.9,188.69 662.7,188.38 661.5,188.17 660.3,188.01 659.2,187.91 658.0,187.84 656.8,187.78 655.6,187.72 654.4,187.67 653.2,187.62 652.1,187.58 650.9,187.53 649.7,187.49 648.5,187.44 647.3,187.41 646.1,187.37 645.0,187.33 643.8,187.30 642.6,187.26 641.4,187.23 640.2,187.20 639.0,187.17 637.9,187.14 636.7,187.12 635.5,187.09 634.3,187.07 633.1,187.04 631.9,187.02 630.7,187.00 629.6,186.98 628.4,186.96 627.2,186.94 626.0,186.92 624.8,186.90 623.6,186.89 622.5,186.87 621.3,186.86 620.1,186.84 618.9,186.83 617.7,186.82 616.5,186.80 615.4,186.79 614.2,186.78 613.0,186.77 611.8,186.76 610.6,186.75 609.4,186.74 608.3,186.73 607.1,186.72 605.9,186.71 604.7,186.70 603.5,186.70 602.3,186.69 601.2,186.68 600.0,186.67 598.8,186.67 597.6,186.66 596.4,186.66 595.2,186.65 594.1,186.64 593.5,186.52"/><polygon points="593.3,198.38 593.9,198.26 595.1,198.25 596.3,198.25 597.5,198.24 598.7,198.23 599.9,198.23 601.1,198.22 602.2,198.21 603.4,198.21 604.6,198.20 605.8,198.19 607.0,198.18 608.2,198.17 609.4,198.16 610.5,198.15 611.7,198.14 612.9,198.13 614.1,198.12 615.3,198.11 616.5,198.10 617.6,198.09 618.8,198.07 620.0,198.06 621.2,198.04 622.4,198.03 623.6,198.01 624.8,198.00 625.9,197.98 627.1,197.96 628.3,197.94 629.5,197.92 630.7,197.90 631.9,197.88 633.1,197.86 634.2,197.84 635.4,197.81 636.6,197.79 637.8,197.76 639.0,197.73 640.2,197.70 641.4,197.67 642.5,197.64 643.7,197.61 644.9,197.57 646.1,197.54 647.3,197.50 648.5,197.46 649.6,197.42 650.8,197.37 652.0,197.33 653.2,197.28 654.4,197.23 655.6,197.18 656.8,197.12 657.9,197.06 659.1,196.99 660.3,196.90 661.5,196.74 662.7,196.52 663.9,196.22 665.1,195.87 666.2,195.55 667.4,195.31 668.6,195.19 669.8,195.20 671.0,195.26 672.2,195.37 672.7,195.44 673.0,195.47 673.2,195.51 673.5,195.54 673.7,195.58 674.0,195.64 674.2,195.70 674.5,195.79 674.7,195.91 675.0,196.08 675.2,196.31 675.5,196.68 675.5,200.07 675.2,200.44 675.0,200.68 674.7,200.84 674.5,200.96 674.2,201.05 674.0,201.12 673.7,201.17 673.5,201.21 673.2,201.25 673.0,201.28 672.7,201.32 672.2,201.38 671.0,201.49 669.8,201.55 668.6,201.56 667.4,201.44 666.2,201.21 665.1,200.89 663.9,200.54 662.7,200.23 661.5,200.02 660.3,199.86 659.1,199.76 657.9,199.69 656.8,199.63 655.6,199.58 654.4,199.52 653.2,199.47 652.0,199.43 650.8,199.38 649.6,199.34 648.5,199.30 647.3,199.26 646.1,199.22 644.9,199.18 643.7,199.15 642.5,199.11 641.4,199.08 640.2,199.05 639.0,199.02 637.8,198.99 636.6,198.97 635.4,198.94 634.2,198.92 633.1,198.89 631.9,198.87 630.7,198.85 629.5,198.83 628.3,198.81 627.1,198.79 625.9,198.77 624.8,198.76 623.6,198.74 622.4,198.72 621.2,198.71 620.0,198.69 618.8,198.68 617.6,198.67 616.5,198.66 615.3,198.64 614.1,198.63 612.9,198.62 611.7,198.61 610.5,198.60 609.4,198.59 608.2,198.58 607.0,198.57 605.8,198.56 604.6,198.56 603.4,198.55 602.2,198.54 601.1,198.53 599.9,198.53 598.7,198.52 597.5,198.51 596.3,198.51 595.1,198.50 593.9,198.50 593.3,198.38"/><polygon points="594.4,210.23 595.0,210.11 596.1,210.10 597.3,210.09 598.5,210.09 599.7,210.08 600.9,210.07 602.1,210.07 603.3,210.06 604.5,210.05 605.6,210.04 606.8,210.04 608.0,210.03 609.2,210.02 610.4,210.01 611.6,210.00 612.8,209.99 614.0,209.98 615.1,209.97 616.3,209.95 617.5,209.94 618.7,209.93 619.9,209.91 621.1,209.90 622.3,209.88 623.5,209.87 624.6,209.85 625.8,209.84 627.0,209.82 628.2,209.80 629.4,209.78 630.6,209.76 631.8,209.74 633.0,209.71 634.2,209.69 635.3,209.67 636.5,209.64 637.7,209.61 638.9,209.59 640.1,209.56 641.3,209.53 642.5,209.50 643.7,209.46 644.8,209.43 646.0,209.39 647.2,209.35 648.4,209.31 649.6,209.27 650.8,209.23 652.0,209.18 653.2,209.13 654.3,209.08 655.5,209.03 656.7,208.98 657.9,208.92 659.1,208.85 660.3,208.75 661.5,208.59 662.7,208.38 663.8,208.08 665.0,207.73 666.2,207.41 667.4,207.17 668.6,207.05 669.8,207.05 671.0,207.11 672.2,207.22 672.7,207.29 673.0,207.32 673.2,207.36 673.5,207.39 673.7,207.44 674.0,207.49 674.2,207.56 674.5,207.65 674.7,207.77 675.0,207.93 675.2,208.16 675.5,208.53 675.5,211.93 675.2,212.30 675.0,212.53 674.7,212.69 674.5,212.81 674.2,212.90 674.0,212.97 673.7,213.02 673.5,213.07 673.2,213.10 673.0,213.14 672.7,213.17 672.2,213.24 671.0,213.35 669.8,213.41 668.6,213.41 667.4,213.29 666.2,213.05 665.0,212.73 663.8,212.38 662.7,212.08 661.5,211.87 660.3,211.71 659.1,211.61 657.9,211.54 656.7,211.48 655.5,211.43 654.3,211.38 653.2,211.33 652.0,211.28 650.8,211.23 649.6,211.19 648.4,211.15 647.2,211.11 646.0,211.07 644.8,211.03 643.7,211.00 642.5,210.96 641.3,210.93 640.1,210.90 638.9,210.87 637.7,210.85 636.5,210.82 635.3,210.79 634.2,210.77 633.0,210.75 631.8,210.72 630.6,210.70 629.4,210.68 628.2,210.66 627.0,210.64 625.8,210.62 624.6,210.61 623.5,210.59 622.3,210.58 621.1,210.56 619.9,210.55 618.7,210.53 617.5,210.52 616.3,210.51 615.1,210.49 614.0,210.48 612.8,210.47 611.6,210.46 610.4,210.45 609.2,210.44 608.0,210.43 606.8,210.42 605.6,210.42 604.5,210.41 603.3,210.40 602.1,210.39 600.9,210.39 599.7,210.38 598.5,210.37 597.3,210.37 596.1,210.36 595.0,210.35 594.4,210.23"/><polygon points="593.5,222.08 594.1,221.96 595.2,221.96 596.4,221.95 597.6,221.95 598.8,221.94 600.0,221.93 601.2,221.93 602.4,221.92 603.5,221.91 604.7,221.90 605.9,221.90 607.1,221.89 608.3,221.88 609.5,221.87 610.6,221.86 611.8,221.85 613.0,221.84 614.2,221.83 615.4,221.82 616.6,221.80 617.7,221.79 618.9,221.78 620.1,221.76 621.3,221.75 622.5,221.73 623.7,221.72 624.8,221.70 626.0,221.69 627.2,221.67 628.4,221.65 629.6,221.63 630.8,221.61 631.9,221.59 633.1,221.56 634.3,221.54 635.5,221.52 636.7,221.49 637.9,221.46 639.0,221.44 640.2,221.41 641.4,221.38 642.6,221.34 643.8,221.31 645.0,221.28 646.1,221.24 647.3,221.20 648.5,221.16 649.7,221.12 650.9,221.08 652.1,221.03 653.2,220.98 654.4,220.93 655.6,220.88 656.8,220.83 658.0,220.77 659.2,220.70 660.3,220.60 661.5,220.44 662.7,220.23 663.9,219.92 665.1,219.57 666.3,219.25 667.4,219.01 668.6,218.90 669.8,218.91 671.0,218.97 672.2,219.08 672.7,219.14 673.0,219.18 673.2,219.21 673.5,219.25 673.7,219.29 674.0,219.34 674.2,219.41 674.5,219.50 674.7,219.62 675.0,219.78 675.2,220.02 675.5,220.39 675.5,223.78 675.2,224.15 675.0,224.38 674.7,224.55 674.5,224.67 674.2,224.76 674.0,224.82 673.7,224.88 673.5,224.92 673.2,224.95 673.0,224.99 672.7,225.02 672.2,225.09 671.0,225.20 669.8,225.26 668.6,225.27 667.4,225.15 666.3,224.92 665.1,224.60 663.9,224.25 662.7,223.94 661.5,223.73 660.3,223.57 659.2,223.47 658.0,223.40 656.8,223.34 655.6,223.28 654.4,223.23 653.2,223.18 652.1,223.13 650.9,223.09 649.7,223.05 648.5,223.00 647.3,222.96 646.1,222.93 645.0,222.89 643.8,222.85 642.6,222.82 641.4,222.79 640.2,222.76 639.0,222.73 637.9,222.70 636.7,222.67 635.5,222.65 634.3,222.62 633.1,222.60 631.9,222.58 630.8,222.56 629.6,222.54 628.4,222.52 627.2,222.50 626.0,222.48 624.8,222.46 623.7,222.45 622.5,222.43 621.3,222.42 620.1,222.40 618.9,222.39 617.7,222.37 616.6,222.36 615.4,222.35 614.2,222.34 613.0,222.33 611.8,222.32 610.6,222.31 609.5,222.30 608.3,222.29 607.1,222.28 605.9,222.27 604.7,222.26 603.5,222.25 602.4,222.25 601.2,222.24 600.0,222.23 598.8,222.23 597.6,222.22 596.4,222.21 595.2,222.21 594.1,222.20 593.5,222.08"/><polygon points="594.4,233.94 595.0,233.81 596.2,233.81 597.4,233.80 598.6,233.79 599.8,233.79 600.9,233.78 602.1,233.77 603.3,233.77 604.5,233.76 605.7,233.75 606.9,233.74 608.1,233.73 609.3,233.72 610.4,233.71 611.6,233.70 612.8,233.69 614.0,233.68 615.2,233.67 616.4,233.66 617.6,233.65 618.8,233.63 619.9,233.62 621.1,233.60 622.3,233.59 623.5,233.57 624.7,233.56 625.9,233.54 627.1,233.52 628.2,233.50 629.4,233.48 630.6,233.46 631.8,233.44 633.0,233.42 634.2,233.40 635.4,233.37 636.6,233.35 637.7,233.32 638.9,233.29 640.1,233.26 641.3,233.23 642.5,233.20 643.7,233.17 644.9,233.13 646.0,233.10 647.2,233.06 648.4,233.02 649.6,232.98 650.8,232.93 652.0,232.89 653.2,232.84 654.4,232.79 655.5,232.74 656.7,232.68 657.9,232.62 659.1,232.55 660.3,232.46 661.5,232.30 662.7,232.09 663.9,231.78 665.0,231.43 666.2,231.11 667.4,230.87 668.6,230.75 669.8,230.76 671.0,230.82 672.2,230.93 672.7,231.00 673.0,231.03 673.2,231.06 673.5,231.10 673.7,231.14 674.0,231.19 674.2,231.26 674.5,231.35 674.7,231.47 675.0,231.64 675.2,231.87 675.5,232.24 675.5,235.63 675.2,236.00 675.0,236.24 674.7,236.40 674.5,236.52 674.2,236.61 674.0,236.68 673.7,236.73 673.5,236.77 673.2,236.81 673.0,236.84 672.7,236.87 672.2,236.94 671.0,237.05 669.8,237.11 668.6,237.12 667.4,237.00 666.2,236.76 665.0,236.44 663.9,236.09 662.7,235.79 661.5,235.57 660.3,235.42 659.1,235.32 657.9,235.25 656.7,235.19 655.5,235.13 654.4,235.08 653.2,235.03 652.0,234.98 650.8,234.94 649.6,234.90 648.4,234.85 647.2,234.81 646.0,234.78 644.9,234.74 643.7,234.71 642.5,234.67 641.3,234.64 640.1,234.61 638.9,234.58 637.7,234.55 636.6,234.53 635.4,234.50 634.2,234.48 633.0,234.45 631.8,234.43 630.6,234.41 629.4,234.39 628.2,234.37 627.1,234.35 625.9,234.33 624.7,234.31 623.5,234.30 622.3,234.28 621.1,234.27 619.9,234.25 618.8,234.24 617.6,234.23 616.4,234.21 615.2,234.20 614.0,234.19 612.8,234.18 611.6,234.17 610.4,234.16 609.3,234.15 608.1,234.14 606.9,234.13 605.7,234.12 604.5,234.11 603.3,234.11 602.1,234.10 600.9,234.09 599.8,234.09 598.6,234.08 597.4,234.07 596.2,234.07 595.0,234.06 594.4,233.94"/><polygon points="594.3,245.79 594.9,245.66 596.1,245.66 597.2,245.65 598.4,245.65 599.6,245.64 600.8,245.63 602.0,245.63 603.2,245.62 604.4,245.61 605.6,245.60 606.8,245.60 607.9,245.59 609.1,245.58 610.3,245.57 611.5,245.56 612.7,245.55 613.9,245.54 615.1,245.52 616.3,245.51 617.5,245.50 618.6,245.49 619.8,245.47 621.0,245.46 622.2,245.44 623.4,245.43 624.6,245.41 625.8,245.39 627.0,245.38 628.2,245.36 629.3,245.34 630.5,245.32 631.7,245.30 632.9,245.27 634.1,245.25 635.3,245.23 636.5,245.20 637.7,245.17 638.9,245.15 640.0,245.12 641.2,245.09 642.4,245.06 643.6,245.02 644.8,244.99 646.0,244.95 647.2,244.91 648.4,244.87 649.6,244.83 650.8,244.79 651.9,244.74 653.1,244.69 654.3,244.64 655.5,244.59 656.7,244.54 657.9,244.48 659.1,244.41 660.3,244.31 661.5,244.16 662.6,243.95 663.8,243.64 665.0,243.29 666.2,242.97 667.4,242.73 668.6,242.61 669.8,242.61 671.0,242.67 672.2,242.78 672.7,242.85 673.0,242.88 673.2,242.92 673.5,242.95 673.7,243.00 674.0,243.05 674.2,243.12 674.5,243.20 674.7,243.33 675.0,243.49 675.2,243.72 675.5,244.09 675.5,247.48 675.2,247.86 675.0,248.09 674.7,248.25 674.5,248.37 674.2,248.46 674.0,248.53 673.7,248.58 673.5,248.62 673.2,248.66 673.0,248.70 672.7,248.73 672.2,248.80 671.0,248.91 669.8,248.97 668.6,248.97 667.4,248.85 666.2,248.61 665.0,248.29 663.8,247.94 662.6,247.63 661.5,247.42 660.3,247.27 659.1,247.17 657.9,247.10 656.7,247.04 655.5,246.99 654.3,246.93 653.1,246.88 651.9,246.84 650.8,246.79 649.6,246.75 648.4,246.71 647.2,246.67 646.0,246.63 644.8,246.59 643.6,246.56 642.4,246.52 641.2,246.49 640.0,246.46 638.9,246.43 637.7,246.40 636.5,246.38 635.3,246.35 634.1,246.33 632.9,246.30 631.7,246.28 630.5,246.26 629.3,246.24 628.2,246.22 627.0,246.20 625.8,246.18 624.6,246.17 623.4,246.15 622.2,246.13 621.0,246.12 619.8,246.10 618.6,246.09 617.5,246.08 616.3,246.07 615.1,246.05 613.9,246.04 612.7,246.03 611.5,246.02 610.3,246.01 609.1,246.00 607.9,245.99 606.8,245.98 605.6,245.97 604.4,245.97 603.2,245.96 602.0,245.95 600.8,245.94 599.6,245.94 598.4,245.93 597.2,245.92 596.1,245.92 594.9,245.91 594.3,245.79"/><polygon points="593.6,257.64 594.2,257.52 595.4,257.52 596.5,257.51 597.7,257.50 598.9,257.50 600.1,257.49 601.3,257.48 602.5,257.48 603.6,257.47 604.8,257.46 606.0,257.45 607.2,257.45 608.4,257.44 609.5,257.43 610.7,257.42 611.9,257.41 613.1,257.40 614.3,257.39 615.5,257.37 616.6,257.36 617.8,257.35 619.0,257.34 620.2,257.32 621.4,257.31 622.5,257.29 623.7,257.28 624.9,257.26 626.1,257.24 627.3,257.23 628.5,257.21 629.6,257.19 630.8,257.17 632.0,257.14 633.2,257.12 634.4,257.10 635.5,257.07 636.7,257.05 637.9,257.02 639.1,256.99 640.3,256.96 641.5,256.93 642.6,256.90 643.8,256.87 645.0,256.83 646.2,256.80 647.4,256.76 648.5,256.72 649.7,256.68 650.9,256.63 652.1,256.59 653.3,256.54 654.5,256.49 655.6,256.44 656.8,256.39 658.0,256.33 659.2,256.26 660.4,256.16 661.5,255.99 662.7,255.78 663.9,255.47 665.1,255.12 666.3,254.81 667.4,254.57 668.6,254.46 669.8,254.46 671.0,254.53 672.2,254.64 672.7,254.70 673.0,254.74 673.2,254.77 673.5,254.81 673.7,254.85 674.0,254.90 674.2,254.97 674.5,255.06 674.7,255.18 675.0,255.34 675.2,255.58 675.5,255.95 675.5,259.34 675.2,259.71 675.0,259.94 674.7,260.11 674.5,260.23 674.2,260.32 674.0,260.38 673.7,260.44 673.5,260.48 673.2,260.51 673.0,260.55 672.7,260.58 672.2,260.65 671.0,260.76 669.8,260.82 668.6,260.82 667.4,260.71 666.3,260.48 665.1,260.16 663.9,259.81 662.7,259.50 661.5,259.29 660.4,259.13 659.2,259.03 658.0,258.96 656.8,258.90 655.6,258.84 654.5,258.79 653.3,258.74 652.1,258.69 650.9,258.65 649.7,258.61 648.5,258.56 647.4,258.52 646.2,258.49 645.0,258.45 643.8,258.42 642.6,258.38 641.5,258.35 640.3,258.32 639.1,258.29 637.9,258.26 636.7,258.24 635.5,258.21 634.4,258.19 633.2,258.16 632.0,258.14 630.8,258.12 629.6,258.10 628.5,258.08 627.3,258.06 626.1,258.04 624.9,258.02 623.7,258.01 622.5,257.99 621.4,257.98 620.2,257.96 619.0,257.95 617.8,257.93 616.6,257.92 615.5,257.91 614.3,257.90 613.1,257.89 611.9,257.88 610.7,257.87 609.5,257.86 608.4,257.85 607.2,257.84 606.0,257.83 604.8,257.82 603.6,257.81 602.5,257.81 601.3,257.80 600.1,257.79 598.9,257.79 597.7,257.78 596.5,257.77 595.4,257.77 594.2,257.76 593.6,257.64"/><polygon points="593.6,269.50 594.2,269.37 595.4,269.37 596.6,269.36 597.7,269.36 598.9,269.35 600.1,269.34 601.3,269.34 602.5,269.33 603.7,269.32 604.8,269.31 606.0,269.31 607.2,269.30 608.4,269.29 609.6,269.28 610.7,269.27 611.9,269.26 613.1,269.25 614.3,269.24 615.5,269.23 616.6,269.21 617.8,269.20 619.0,269.19 620.2,269.18 621.4,269.16 622.6,269.15 623.7,269.13 624.9,269.11 626.1,269.10 627.3,269.08 628.5,269.06 629.6,269.04 630.8,269.02 632.0,269.00 633.2,268.98 634.4,268.95 635.6,268.93 636.7,268.90 637.9,268.87 639.1,268.85 640.3,268.82 641.5,268.79 642.6,268.76 643.8,268.72 645.0,268.69 646.2,268.65 647.4,268.61 648.5,268.57 649.7,268.53 650.9,268.49 652.1,268.44 653.3,268.39 654.5,268.34 655.6,268.29 656.8,268.24 658.0,268.18 659.2,268.11 660.4,268.01 661.5,267.85 662.7,267.63 663.9,267.32 665.1,266.98 666.3,266.66 667.5,266.42 668.6,266.31 669.8,266.32 671.0,266.38 672.2,266.49 672.7,266.56 673.0,266.59 673.2,266.62 673.5,266.66 673.7,266.70 674.0,266.75 674.2,266.82 674.5,266.91 674.7,267.03 675.0,267.19 675.2,267.43 675.5,267.80 675.5,271.19 675.2,271.56 675.0,271.80 674.7,271.96 674.5,272.08 674.2,272.17 674.0,272.24 673.7,272.29 673.5,272.33 673.2,272.37 673.0,272.40 672.7,272.43 672.2,272.50 671.0,272.61 669.8,272.67 668.6,272.68 667.5,272.57 666.3,272.33 665.1,272.01 663.9,271.67 662.7,271.36 661.5,271.14 660.4,270.98 659.2,270.88 658.0,270.81 656.8,270.75 655.6,270.70 654.5,270.65 653.3,270.60 652.1,270.55 650.9,270.50 649.7,270.46 648.5,270.42 647.4,270.38 646.2,270.34 645.0,270.30 643.8,270.27 642.6,270.23 641.5,270.20 640.3,270.17 639.1,270.14 637.9,270.12 636.7,270.09 635.6,270.06 634.4,270.04 633.2,270.01 632.0,269.99 630.8,269.97 629.6,269.95 628.5,269.93 627.3,269.91 626.1,269.89 624.9,269.88 623.7,269.86 622.6,269.84 621.4,269.83 620.2,269.81 619.0,269.80 617.8,269.79 616.6,269.78 615.5,269.76 614.3,269.75 613.1,269.74 611.9,269.73 610.7,269.72 609.6,269.71 608.4,269.70 607.2,269.69 606.0,269.68 604.8,269.68 603.7,269.67 602.5,269.66 601.3,269.65 600.1,269.65 598.9,269.64 597.7,269.63 596.6,269.63 595.4,269.62 594.2,269.62 593.6,269.50"/><polygon points="528.7,281.35 529.3,281.23 530.4,281.22 531.6,281.22 532.8,281.22 534.0,281.21 535.2,281.21 536.3,281.21 537.5,281.20 538.7,281.20 539.9,281.19 541.1,281.19 542.3,281.19 543.4,281.18 544.6,281.18 545.8,281.17 547.0,281.17 548.2,281.16 549.3,281.16 550.5,281.15 551.7,281.15 552.9,281.14 554.1,281.14 555.2,281.13 556.4,281.13 557.6,281.12 558.8,281.11 560.0,281.11 561.2,281.10 562.3,281.09 563.5,281.09 564.7,281.08 565.9,281.07 567.1,281.07 568.2,281.06 569.4,281.05 570.6,281.04 571.8,281.03 573.0,281.03 574.1,281.02 575.3,281.01 576.5,281.00 577.7,280.99 578.9,280.98 580.0,280.97 581.2,280.96 582.4,280.95 583.6,280.94 584.8,280.93 586.0,280.92 587.1,280.90 588.3,280.89 589.5,280.88 590.7,280.87 591.9,280.86 593.0,280.84 594.2,280.83 595.4,280.81 596.6,280.80 597.8,280.79 598.9,280.77 600.1,280.75 601.3,280.74 602.5,280.72 603.7,280.71 604.9,280.69 606.0,280.67 607.2,280.65 608.4,280.63 609.6,280.62 610.8,280.60 611.9,280.58 613.1,280.55 614.3,280.53 615.5,280.51 616.7,280.49 617.8,280.47 619.0,280.44 620.2,280.42 621.4,280.39 622.6,280.37 623.8,280.34 624.9,280.31 626.1,280.29 627.3,280.26 628.5,280.23 629.7,280.20 630.8,280.17 632.0,280.14 633.2,280.10 634.4,280.07 635.6,280.04 636.7,280.00 637.9,279.96 639.1,279.93 640.3,279.89 641.5,279.85 642.6,279.81 643.8,279.77 645.0,279.73 646.2,279.68 647.4,279.64 648.6,279.59 649.7,279.55 650.9,279.50 652.1,279.45 653.3,279.40 654.5,279.34 655.6,279.29 656.8,279.23 658.0,279.18 659.2,279.12 660.4,279.06 661.5,279.00 662.7,279.00 663.9,278.99 665.1,278.96 666.3,278.83 667.5,278.63 668.6,278.55 669.8,278.55 671.0,278.55 672.2,278.55 672.7,278.55 673.0,278.55 673.2,278.55 673.5,278.55 673.7,278.56 674.0,278.57 674.2,278.60 674.5,278.65 674.7,278.74 675.0,278.87 675.2,279.08 675.5,279.46 675.5,283.24 675.2,283.61 675.0,283.83 674.7,283.96 674.5,284.04 674.2,284.10 674.0,284.12 673.7,284.14 673.5,284.14 673.2,284.14 673.0,284.14 672.7,284.14 672.2,284.14 671.0,284.14 669.8,284.14 668.6,284.14 667.5,284.07 666.3,283.87 665.1,283.74 663.9,283.70 662.7,283.70 661.5,283.70 660.4,283.64 659.2,283.58 658.0,283.52 656.8,283.46 655.6,283.41 654.5,283.35 653.3,283.30 652.1,283.25 650.9,283.20 649.7,283.15 648.6,283.10 647.4,283.06 646.2,283.01 645.0,282.97 643.8,282.93 642.6,282.89 641.5,282.85 640.3,282.81 639.1,282.77 637.9,282.73 636.7,282.70 635.6,282.66 634.4,282.63 633.2,282.59 632.0,282.56 630.8,282.53 629.7,282.50 628.5,282.47 627.3,282.44 626.1,282.41 624.9,282.38 623.8,282.36 622.6,282.33 621.4,282.30 620.2,282.28 619.0,282.25 617.8,282.23 616.7,282.21 615.5,282.18 614.3,282.16 613.1,282.14 611.9,282.12 610.8,282.10 609.6,282.08 608.4,282.06 607.2,282.04 606.0,282.03 604.9,282.01 603.7,281.99 602.5,281.97 601.3,281.96 600.1,281.94 598.9,281.93 597.8,281.91 596.6,281.90 595.4,281.88 594.2,281.87 593.0,281.85 591.9,281.84 590.7,281.83 589.5,281.82 588.3,281.80 587.1,281.79 586.0,281.78 584.8,281.77 583.6,281.76 582.4,281.75 581.2,281.74 580.0,281.73 578.9,281.72 577.7,281.71 576.5,281.70 575.3,281.69 574.1,281.68 573.0,281.67 571.8,281.66 570.6,281.65 569.4,281.65 568.2,281.64 567.1,281.63 565.9,281.62 564.7,281.62 563.5,281.61 562.3,281.60 561.2,281.60 560.0,281.59 558.8,281.58 557.6,281.58 556.4,281.57 555.2,281.56 554.1,281.56 552.9,281.55 551.7,281.55 550.5,281.54 549.3,281.54 548.2,281.53 547.0,281.53 545.8,281.52 544.6,281.52 543.4,281.51 542.3,281.51 541.1,281.51 539.9,281.50 538.7,281.50 537.5,281.49 536.3,281.49 535.2,281.49 534.0,281.48 532.8,281.48 531.6,281.48 530.4,281.47 529.3,281.47 528.7,281.35"/><polygon points="542.5,293.04 543.7,293.03 544.8,293.03 546.0,293.02 547.2,293.02 548.4,293.02 549.6,293.01 550.7,293.00 551.9,293.00 553.1,292.99 554.3,292.99 555.5,292.98 556.6,292.98 557.8,292.97 559.0,292.97 560.2,292.96 561.4,292.95 562.5,292.95 563.7,292.94 564.9,292.93 566.1,292.92 567.2,292.92 568.4,292.91 569.6,292.90 570.8,292.89 572.0,292.89 573.1,292.88 574.3,292.87 575.5,292.86 576.7,292.85 577.9,292.84 579.0,292.83 580.2,292.82 581.4,292.81 582.6,292.80 583.8,292.79 584.9,292.78 586.1,292.77 587.3,292.76 588.5,292.74 589.6,292.73 590.8,292.72 592.0,292.71 593.2,292.69 594.4,292.68 595.5,292.67 596.7,292.65 597.9,292.64 599.1,292.62 600.3,292.61 601.4,292.59 602.6,292.57 603.8,292.56 605.0,292.54 606.2,292.52 607.3,292.50 608.5,292.49 609.7,292.47 610.9,292.45 612.1,292.43 613.2,292.41 614.4,292.38 615.6,292.36 616.8,292.34 617.9,292.32 619.1,292.29 620.3,292.27 621.5,292.24 622.7,292.22 623.8,292.19 625.0,292.16 626.2,292.14 627.4,292.11 628.6,292.08 629.7,292.05 630.9,292.02 632.1,291.99 633.3,291.95 634.5,291.92 635.6,291.89 636.8,291.85 638.0,291.82 639.2,291.78 640.3,291.74 641.5,291.70 642.7,291.66 643.9,291.62 645.1,291.58 646.2,291.53 647.4,291.49 648.6,291.44 649.8,291.40 651.0,291.35 652.1,291.30 653.3,291.25 654.5,291.20 655.7,291.14 656.9,291.09 658.0,291.03 659.2,290.97 660.4,290.91 661.6,290.85 662.8,290.85 663.9,290.85 665.1,290.81 666.3,290.68 667.5,290.48 668.6,290.41 669.8,290.41 671.0,290.41 672.2,290.41 672.7,290.41 673.0,290.41 673.2,290.41 673.5,290.41 673.7,290.41 674.0,290.42 674.2,290.45 674.5,290.50 674.7,290.59 675.0,290.72 675.2,290.94 675.5,291.31 675.5,295.09 675.2,295.47 675.0,295.68 674.7,295.81 674.5,295.90 674.2,295.95 674.0,295.98 673.7,295.99 673.5,296.00 673.2,296.00 673.0,296.00 672.7,296.00 672.2,296.00 671.0,296.00 669.8,296.00 668.6,296.00 667.5,295.92 666.3,295.73 665.1,295.59 663.9,295.55 662.8,295.55 661.6,295.55 660.4,295.49 659.2,295.43 658.0,295.37 656.9,295.32 655.7,295.26 654.5,295.21 653.3,295.15 652.1,295.10 651.0,295.05 649.8,295.01 648.6,294.96 647.4,294.91 646.2,294.87 645.1,294.82 643.9,294.78 642.7,294.74 641.5,294.70 640.3,294.66 639.2,294.62 638.0,294.59 636.8,294.55 635.6,294.52 634.5,294.48 633.3,294.45 632.1,294.42 630.9,294.38 629.7,294.35 628.6,294.32 627.4,294.29 626.2,294.26 625.0,294.24 623.8,294.21 622.7,294.18 621.5,294.16 620.3,294.13 619.1,294.11 617.9,294.09 616.8,294.06 615.6,294.04 614.4,294.02 613.2,294.00 612.1,293.98 610.9,293.96 609.7,293.94 608.5,293.92 607.3,293.90 606.2,293.88 605.0,293.86 603.8,293.84 602.6,293.83 601.4,293.81 600.3,293.80 599.1,293.78 597.9,293.77 596.7,293.75 595.5,293.74 594.4,293.72 593.2,293.71 592.0,293.70 590.8,293.68 589.6,293.67 588.5,293.66 587.3,293.65 586.1,293.63 584.9,293.62 583.8,293.61 582.6,293.60 581.4,293.59 580.2,293.58 579.0,293.57 577.9,293.56 576.7,293.55 575.5,293.54 574.3,293.53 573.1,293.52 572.0,293.52 570.8,293.51 569.6,293.50 568.4,293.49 567.2,293.48 566.1,293.48 564.9,293.47 563.7,293.46 562.5,293.46 561.4,293.45 560.2,293.44 559.0,293.44 557.8,293.43 556.6,293.42 555.5,293.42 554.3,293.41 553.1,293.41 551.9,293.40 550.7,293.40 549.6,293.39 548.4,293.39 547.2,293.38 546.0,293.38 544.8,293.37 543.7,293.37 542.5,293.36"/><polygon points="546.2,304.88 547.4,304.87 548.6,304.87 549.8,304.86 551.0,304.86 552.1,304.85 553.3,304.85 554.5,304.84 555.7,304.83 556.9,304.83 558.1,304.82 559.3,304.82 560.5,304.81 561.6,304.80 562.8,304.80 564.0,304.79 565.2,304.78 566.4,304.78 567.6,304.77 568.8,304.76 570.0,304.75 571.2,304.74 572.3,304.74 573.5,304.73 574.7,304.72 575.9,304.71 577.1,304.70 578.3,304.69 579.5,304.68 580.7,304.67 581.8,304.66 583.0,304.65 584.2,304.64 585.4,304.63 586.6,304.62 587.8,304.60 589.0,304.59 590.2,304.58 591.4,304.57 592.5,304.55 593.7,304.54 594.9,304.53 596.1,304.51 597.3,304.50 598.5,304.48 599.7,304.47 600.9,304.45 602.0,304.43 603.2,304.42 604.4,304.40 605.6,304.38 606.8,304.37 608.0,304.35 609.2,304.33 610.4,304.31 611.6,304.29 612.7,304.27 613.9,304.25 615.1,304.22 616.3,304.20 617.5,304.18 618.7,304.16 619.9,304.13 621.1,304.11 622.2,304.08 623.4,304.05 624.6,304.03 625.8,304.00 627.0,303.97 628.2,303.94 629.4,303.91 630.6,303.88 631.8,303.85 632.9,303.82 634.1,303.78 635.3,303.75 636.5,303.71 637.7,303.68 638.9,303.64 640.1,303.60 641.3,303.56 642.4,303.52 643.6,303.48 644.8,303.44 646.0,303.40 647.2,303.35 648.4,303.30 649.6,303.26 650.8,303.21 652.0,303.16 653.1,303.11 654.3,303.06 655.5,303.00 656.7,302.95 657.9,302.89 659.1,302.83 660.3,302.77 661.5,302.71 662.7,302.70 663.8,302.70 665.0,302.67 666.2,302.54 667.4,302.34 668.6,302.26 669.8,302.26 671.0,302.26 672.2,302.26 672.7,302.26 673.0,302.26 673.2,302.26 673.5,302.26 673.7,302.26 674.0,302.28 674.2,302.31 674.5,302.36 674.7,302.44 675.0,302.58 675.2,302.79 675.5,303.16 675.5,306.94 675.2,307.32 675.0,307.53 674.7,307.67 674.5,307.75 674.2,307.80 674.0,307.83 673.7,307.84 673.5,307.85 673.2,307.85 673.0,307.85 672.7,307.85 672.2,307.85 671.0,307.85 669.8,307.85 668.6,307.85 667.4,307.76 666.2,307.57 665.0,307.44 663.8,307.41 662.7,307.40 661.5,307.40 660.3,307.34 659.1,307.28 657.9,307.22 656.7,307.16 655.5,307.11 654.3,307.05 653.1,307.00 652.0,306.95 650.8,306.90 649.6,306.85 648.4,306.80 647.2,306.76 646.0,306.71 644.8,306.67 643.6,306.63 642.4,306.59 641.3,306.54 640.1,306.51 638.9,306.47 637.7,306.43 636.5,306.39 635.3,306.36 634.1,306.32 632.9,306.29 631.8,306.26 630.6,306.23 629.4,306.20 628.2,306.17 627.0,306.14 625.8,306.11 624.6,306.08 623.4,306.05 622.2,306.03 621.1,306.00 619.9,305.98 618.7,305.95 617.5,305.93 616.3,305.91 615.1,305.88 613.9,305.86 612.7,305.84 611.6,305.82 610.4,305.80 609.2,305.78 608.0,305.76 606.8,305.74 605.6,305.72 604.4,305.71 603.2,305.69 602.0,305.67 600.9,305.66 599.7,305.64 598.5,305.63 597.3,305.61 596.1,305.60 594.9,305.58 593.7,305.57 592.5,305.55 591.4,305.54 590.2,305.53 589.0,305.52 587.8,305.50 586.6,305.49 585.4,305.48 584.2,305.47 583.0,305.46 581.8,305.45 580.7,305.44 579.5,305.43 578.3,305.42 577.1,305.41 575.9,305.40 574.7,305.39 573.5,305.38 572.3,305.37 571.2,305.36 570.0,305.36 568.8,305.35 567.6,305.34 566.4,305.33 565.2,305.33 564.0,305.32 562.8,305.31 561.6,305.30 560.5,305.30 559.3,305.29 558.1,305.29 556.9,305.28 555.7,305.27 554.5,305.27 553.3,305.26 552.1,305.26 551.0,305.25 549.8,305.25 548.6,305.24 547.4,305.24 546.2,305.23"/><polygon points="551.5,316.71 552.7,316.70 553.9,316.70 555.1,316.69 556.3,316.69 557.5,316.68 558.6,316.67 559.8,316.67 561.0,316.66 562.2,316.65 563.4,316.65 564.6,316.64 565.7,316.63 566.9,316.63 568.1,316.62 569.3,316.61 570.5,316.60 571.7,316.59 572.8,316.59 574.0,316.58 575.2,316.57 576.4,316.56 577.6,316.55 578.7,316.54 579.9,316.53 581.1,316.52 582.3,316.51 583.5,316.50 584.7,316.49 585.8,316.48 587.0,316.46 588.2,316.45 589.4,316.44 590.6,316.43 591.8,316.42 592.9,316.40 594.1,316.39 595.3,316.37 596.5,316.36 597.7,316.35 598.9,316.33 600.0,316.32 601.2,316.30 602.4,316.28 603.6,316.27 604.8,316.25 605.9,316.23 607.1,316.21 608.3,316.19 609.5,316.18 610.7,316.16 611.9,316.14 613.0,316.11 614.2,316.09 615.4,316.07 616.6,316.05 617.8,316.03 619.0,316.00 620.1,315.98 621.3,315.95 622.5,315.93 623.7,315.90 624.9,315.87 626.1,315.85 627.2,315.82 628.4,315.79 629.6,315.76 630.8,315.73 632.0,315.70 633.1,315.66 634.3,315.63 635.5,315.60 636.7,315.56 637.9,315.52 639.1,315.49 640.2,315.45 641.4,315.41 642.6,315.37 643.8,315.33 645.0,315.29 646.2,315.24 647.3,315.20 648.5,315.15 649.7,315.11 650.9,315.06 652.1,315.01 653.3,314.96 654.4,314.90 655.6,314.85 656.8,314.79 658.0,314.74 659.2,314.68 660.3,314.62 661.5,314.56 662.7,314.56 663.9,314.55 665.1,314.52 666.3,314.39 667.4,314.19 668.6,314.11 669.8,314.11 671.0,314.11 672.2,314.11 672.7,314.11 673.0,314.11 673.2,314.11 673.5,314.11 673.7,314.12 674.0,314.13 674.2,314.16 674.5,314.21 674.7,314.29 675.0,314.43 675.2,314.64 675.5,315.02 675.5,318.80 675.2,319.17 675.0,319.39 674.7,319.52 674.5,319.60 674.2,319.66 674.0,319.68 673.7,319.70 673.5,319.70 673.2,319.70 673.0,319.70 672.7,319.70 672.2,319.70 671.0,319.70 669.8,319.70 668.6,319.70 667.4,319.62 666.3,319.43 665.1,319.29 663.9,319.26 662.7,319.26 661.5,319.26 660.3,319.19 659.2,319.13 658.0,319.08 656.8,319.02 655.6,318.96 654.4,318.91 653.3,318.86 652.1,318.81 650.9,318.76 649.7,318.71 648.5,318.66 647.3,318.62 646.2,318.57 645.0,318.53 643.8,318.48 642.6,318.44 641.4,318.40 640.2,318.36 639.1,318.33 637.9,318.29 636.7,318.25 635.5,318.22 634.3,318.18 633.1,318.15 632.0,318.12 630.8,318.09 629.6,318.06 628.4,318.03 627.2,318.00 626.1,317.97 624.9,317.94 623.7,317.91 622.5,317.89 621.3,317.86 620.1,317.84 619.0,317.81 617.8,317.79 616.6,317.76 615.4,317.74 614.2,317.72 613.0,317.70 611.9,317.68 610.7,317.66 609.5,317.64 608.3,317.62 607.1,317.60 605.9,317.58 604.8,317.57 603.6,317.55 602.4,317.53 601.2,317.51 600.0,317.50 598.9,317.48 597.7,317.47 596.5,317.45 595.3,317.44 594.1,317.43 592.9,317.41 591.8,317.40 590.6,317.39 589.4,317.37 588.2,317.36 587.0,317.35 585.8,317.34 584.7,317.33 583.5,317.32 582.3,317.30 581.1,317.29 579.9,317.28 578.7,317.27 577.6,317.26 576.4,317.26 575.2,317.25 574.0,317.24 572.8,317.23 571.7,317.22 570.5,317.21 569.3,317.20 568.1,317.20 566.9,317.19 565.7,317.18 564.6,317.17 563.4,317.17 562.2,317.16 561.0,317.15 559.8,317.15 558.6,317.14 557.5,317.13 556.3,317.13 555.1,317.12 553.9,317.12 552.7,317.11 551.5,317.11"/><polygon points="541.0,328.60 542.2,328.60 543.4,328.59 544.6,328.59 545.8,328.58 547.0,328.58 548.1,328.58 549.3,328.57 550.5,328.56 551.7,328.56 552.9,328.55 554.0,328.55 555.2,328.54 556.4,328.54 557.6,328.53 558.8,328.53 559.9,328.52 561.1,328.51 562.3,328.51 563.5,328.50 564.7,328.49 565.9,328.48 567.0,328.48 568.2,328.47 569.4,328.46 570.6,328.45 571.8,328.45 572.9,328.44 574.1,328.43 575.3,328.42 576.5,328.41 577.7,328.40 578.8,328.39 580.0,328.38 581.2,328.37 582.4,328.36 583.6,328.35 584.8,328.34 585.9,328.33 587.1,328.32 588.3,328.31 589.5,328.29 590.7,328.28 591.8,328.27 593.0,328.25 594.2,328.24 595.4,328.23 596.6,328.21 597.8,328.20 598.9,328.18 600.1,328.17 601.3,328.15 602.5,328.13 603.7,328.12 604.8,328.10 606.0,328.08 607.2,328.07 608.4,328.05 609.6,328.03 610.7,328.01 611.9,327.99 613.1,327.97 614.3,327.95 615.5,327.92 616.7,327.90 617.8,327.88 619.0,327.85 620.2,327.83 621.4,327.81 622.6,327.78 623.7,327.75 624.9,327.73 626.1,327.70 627.3,327.67 628.5,327.64 629.6,327.61 630.8,327.58 632.0,327.55 633.2,327.52 634.4,327.48 635.6,327.45 636.7,327.41 637.9,327.38 639.1,327.34 640.3,327.30 641.5,327.26 642.6,327.22 643.8,327.18 645.0,327.14 646.2,327.10 647.4,327.05 648.5,327.00 649.7,326.96 650.9,326.91 652.1,326.86 653.3,326.81 654.5,326.76 655.6,326.70 656.8,326.65 658.0,326.59 659.2,326.53 660.4,326.47 661.5,326.41 662.7,326.41 663.9,326.41 665.1,326.37 666.3,326.24 667.5,326.04 668.6,325.96 669.8,325.96 671.0,325.96 672.2,325.96 672.7,325.96 673.0,325.96 673.2,325.96 673.5,325.96 673.7,325.97 674.0,325.98 674.2,326.01 674.5,326.06 674.7,326.15 675.0,326.28 675.2,326.49 675.5,326.87 675.5,330.65 675.2,331.03 675.0,331.24 674.7,331.37 674.5,331.46 674.2,331.51 674.0,331.54 673.7,331.55 673.5,331.56 673.2,331.56 673.0,331.56 672.7,331.56 672.2,331.56 671.0,331.56 669.8,331.56 668.6,331.56 667.5,331.48 666.3,331.28 665.1,331.15 663.9,331.11 662.7,331.11 661.5,331.11 660.4,331.05 659.2,330.99 658.0,330.93 656.8,330.87 655.6,330.82 654.5,330.76 653.3,330.71 652.1,330.66 650.9,330.61 649.7,330.56 648.5,330.52 647.4,330.47 646.2,330.42 645.0,330.38 643.8,330.34 642.6,330.30 641.5,330.26 640.3,330.22 639.1,330.18 637.9,330.14 636.7,330.11 635.6,330.07 634.4,330.04 633.2,330.00 632.0,329.97 630.8,329.94 629.6,329.91 628.5,329.88 627.3,329.85 626.1,329.82 624.9,329.79 623.7,329.77 622.6,329.74 621.4,329.71 620.2,329.69 619.0,329.67 617.8,329.64 616.7,329.62 615.5,329.60 614.3,329.57 613.1,329.55 611.9,329.53 610.7,329.51 609.6,329.49 608.4,329.47 607.2,329.45 606.0,329.44 604.8,329.42 603.7,329.40 602.5,329.39 601.3,329.37 600.1,329.35 598.9,329.34 597.8,329.32 596.6,329.31 595.4,329.29 594.2,329.28 593.0,329.27 591.8,329.25 590.7,329.24 589.5,329.23 588.3,329.21 587.1,329.20 585.9,329.19 584.8,329.18 583.6,329.17 582.4,329.16 581.2,329.15 580.0,329.14 578.8,329.13 577.7,329.12 576.5,329.11 575.3,329.10 574.1,329.09 572.9,329.08 571.8,329.07 570.6,329.07 569.4,329.06 568.2,329.05 567.0,329.04 565.9,329.04 564.7,329.03 563.5,329.02 562.3,329.01 561.1,329.01 559.9,329.00 558.8,328.99 557.6,328.99 556.4,328.98 555.2,328.98 554.0,328.97 552.9,328.97 551.7,328.96 550.5,328.96 549.3,328.95 548.1,328.94 547.0,328.94 545.8,328.94 544.6,328.93 543.4,328.93 542.2,328.92 541.0,328.92"/><polygon points="539.1,340.46 540.3,340.46 541.5,340.45 542.7,340.45 543.9,340.44 545.0,340.44 546.2,340.44 547.4,340.43 548.6,340.43 549.8,340.42 551.0,340.42 552.2,340.41 553.4,340.41 554.5,340.40 555.7,340.39 556.9,340.39 558.1,340.38 559.3,340.38 560.5,340.37 561.7,340.36 562.9,340.36 564.0,340.35 565.2,340.34 566.4,340.33 567.6,340.33 568.8,340.32 570.0,340.31 571.2,340.30 572.4,340.29 573.6,340.29 574.7,340.28 575.9,340.27 577.1,340.26 578.3,340.25 579.5,340.24 580.7,340.23 581.9,340.22 583.1,340.21 584.2,340.20 585.4,340.19 586.6,340.17 587.8,340.16 589.0,340.15 590.2,340.14 591.4,340.13 592.6,340.11 593.7,340.10 594.9,340.09 596.1,340.07 597.3,340.06 598.5,340.04 599.7,340.03 600.9,340.01 602.1,339.99 603.3,339.98 604.4,339.96 605.6,339.94 606.8,339.92 608.0,339.91 609.2,339.89 610.4,339.87 611.6,339.85 612.8,339.83 613.9,339.80 615.1,339.78 616.3,339.76 617.5,339.74 618.7,339.71 619.9,339.69 621.1,339.66 622.3,339.64 623.4,339.61 624.6,339.59 625.8,339.56 627.0,339.53 628.2,339.50 629.4,339.47 630.6,339.44 631.8,339.41 633.0,339.38 634.1,339.34 635.3,339.31 636.5,339.27 637.7,339.24 638.9,339.20 640.1,339.16 641.3,339.12 642.5,339.08 643.6,339.04 644.8,339.00 646.0,338.95 647.2,338.91 648.4,338.86 649.6,338.82 650.8,338.77 652.0,338.72 653.1,338.67 654.3,338.61 655.5,338.56 656.7,338.51 657.9,338.45 659.1,338.39 660.3,338.33 661.5,338.27 662.7,338.26 663.8,338.26 665.0,338.23 666.2,338.10 667.4,337.90 668.6,337.82 669.8,337.82 671.0,337.82 672.2,337.82 672.7,337.82 673.0,337.82 673.2,337.82 673.5,337.82 673.7,337.82 674.0,337.84 674.2,337.86 674.5,337.92 674.7,338.00 675.0,338.13 675.2,338.35 675.5,338.72 675.5,342.50 675.2,342.88 675.0,343.09 674.7,343.23 674.5,343.31 674.2,343.36 674.0,343.39 673.7,343.40 673.5,343.41 673.2,343.41 673.0,343.41 672.7,343.41 672.2,343.41 671.0,343.41 669.8,343.41 668.6,343.41 667.4,343.32 666.2,343.13 665.0,343.00 663.8,342.97 662.7,342.96 661.5,342.96 660.3,342.90 659.1,342.84 657.9,342.78 656.7,342.72 655.5,342.67 654.3,342.61 653.1,342.56 652.0,342.51 650.8,342.46 649.6,342.41 648.4,342.36 647.2,342.32 646.0,342.27 644.8,342.23 643.6,342.19 642.5,342.14 641.3,342.10 640.1,342.07 638.9,342.03 637.7,341.99 636.5,341.95 635.3,341.92 634.1,341.88 633.0,341.85 631.8,341.82 630.6,341.79 629.4,341.76 628.2,341.73 627.0,341.70 625.8,341.67 624.6,341.64 623.4,341.61 622.3,341.59 621.1,341.56 619.9,341.54 618.7,341.51 617.5,341.49 616.3,341.47 615.1,341.44 613.9,341.42 612.8,341.40 611.6,341.38 610.4,341.36 609.2,341.34 608.0,341.32 606.8,341.30 605.6,341.28 604.4,341.27 603.3,341.25 602.1,341.23 600.9,341.22 599.7,341.20 598.5,341.18 597.3,341.17 596.1,341.16 594.9,341.14 593.7,341.13 592.6,341.11 591.4,341.10 590.2,341.09 589.0,341.08 587.8,341.06 586.6,341.05 585.4,341.04 584.2,341.03 583.1,341.02 581.9,341.01 580.7,341.00 579.5,340.99 578.3,340.98 577.1,340.97 575.9,340.96 574.7,340.95 573.6,340.94 572.4,340.93 571.2,340.92 570.0,340.91 568.8,340.91 567.6,340.90 566.4,340.89 565.2,340.88 564.0,340.88 562.9,340.87 561.7,340.86 560.5,340.86 559.3,340.85 558.1,340.84 556.9,340.84 555.7,340.83 554.5,340.83 553.4,340.82 552.2,340.82 551.0,340.81 549.8,340.80 548.6,340.80 547.4,340.80 546.2,340.79 545.0,340.79 543.9,340.78 542.7,340.78 541.5,340.77 540.3,340.77 539.1,340.76"/><polygon points="529.3,352.47 529.9,352.34 531.1,352.34 532.2,352.34 533.4,352.33 534.6,352.33 535.8,352.33 537.0,352.32 538.2,352.32 539.4,352.31 540.5,352.31 541.7,352.31 542.9,352.30 544.1,352.30 545.3,352.29 546.5,352.29 547.7,352.28 548.8,352.28 550.0,352.27 551.2,352.27 552.4,352.26 553.6,352.26 554.8,352.25 556.0,352.25 557.1,352.24 558.3,352.23 559.5,352.23 560.7,352.22 561.9,352.21 563.1,352.21 564.3,352.20 565.4,352.19 566.6,352.19 567.8,352.18 569.0,352.17 570.2,352.16 571.4,352.15 572.6,352.15 573.7,352.14 574.9,352.13 576.1,352.12 577.3,352.11 578.5,352.10 579.7,352.09 580.9,352.08 582.0,352.07 583.2,352.06 584.4,352.05 585.6,352.04 586.8,352.03 588.0,352.01 589.2,352.00 590.3,351.99 591.5,351.98 592.7,351.96 593.9,351.95 595.1,351.94 596.3,351.92 597.5,351.91 598.6,351.89 599.8,351.88 601.0,351.86 602.2,351.84 603.4,351.83 604.6,351.81 605.8,351.79 606.9,351.77 608.1,351.76 609.3,351.74 610.5,351.72 611.7,351.70 612.9,351.68 614.1,351.66 615.2,351.63 616.4,351.61 617.6,351.59 618.8,351.56 620.0,351.54 621.2,351.52 622.4,351.49 623.5,351.46 624.7,351.44 625.9,351.41 627.1,351.38 628.3,351.35 629.5,351.32 630.7,351.29 631.8,351.26 633.0,351.23 634.2,351.19 635.4,351.16 636.6,351.12 637.8,351.09 639.0,351.05 640.1,351.01 641.3,350.97 642.5,350.93 643.7,350.89 644.9,350.85 646.1,350.81 647.3,350.76 648.4,350.71 649.6,350.67 650.8,350.62 652.0,350.57 653.2,350.52 654.4,350.47 655.6,350.41 656.7,350.36 657.9,350.30 659.1,350.24 660.3,350.18 661.5,350.12 662.7,350.12 663.9,350.11 665.0,350.08 666.2,349.95 667.4,349.75 668.6,349.67 669.8,349.67 671.0,349.67 672.2,349.67 672.7,349.67 673.0,349.67 673.2,349.67 673.5,349.67 673.7,349.68 674.0,349.69 674.2,349.72 674.5,349.77 674.7,349.85 675.0,349.99 675.2,350.20 675.5,350.58 675.5,354.36 675.2,354.73 675.0,354.94 674.7,355.08 674.5,355.16 674.2,355.21 674.0,355.24 673.7,355.26 673.5,355.26 673.2,355.26 673.0,355.26 672.7,355.26 672.2,355.26 671.0,355.26 669.8,355.26 668.6,355.26 667.4,355.18 666.2,354.98 665.0,354.85 663.9,354.82 662.7,354.82 661.5,354.81 660.3,354.75 659.1,354.69 657.9,354.63 656.7,354.58 655.6,354.52 654.4,354.47 653.2,354.41 652.0,354.36 650.8,354.31 649.6,354.26 648.4,354.22 647.3,354.17 646.1,354.13 644.9,354.08 643.7,354.04 642.5,354.00 641.3,353.96 640.1,353.92 639.0,353.88 637.8,353.84 636.6,353.81 635.4,353.77 634.2,353.74 633.0,353.71 631.8,353.67 630.7,353.64 629.5,353.61 628.3,353.58 627.1,353.55 625.9,353.52 624.7,353.50 623.5,353.47 622.4,353.44 621.2,353.42 620.0,353.39 618.8,353.37 617.6,353.34 616.4,353.32 615.2,353.30 614.1,353.28 612.9,353.26 611.7,353.23 610.5,353.21 609.3,353.19 608.1,353.18 606.9,353.16 605.8,353.14 604.6,353.12 603.4,353.10 602.2,353.09 601.0,353.07 599.8,353.06 598.6,353.04 597.5,353.02 596.3,353.01 595.1,353.00 593.9,352.98 592.7,352.97 591.5,352.96 590.3,352.94 589.2,352.93 588.0,352.92 586.8,352.91 585.6,352.89 584.4,352.88 583.2,352.87 582.0,352.86 580.9,352.85 579.7,352.84 578.5,352.83 577.3,352.82 576.1,352.81 574.9,352.80 573.7,352.79 572.6,352.79 571.4,352.78 570.2,352.77 569.0,352.76 567.8,352.75 566.6,352.75 565.4,352.74 564.3,352.73 563.1,352.72 561.9,352.72 560.7,352.71 559.5,352.70 558.3,352.70 557.1,352.69 556.0,352.69 554.8,352.68 553.6,352.68 552.4,352.67 551.2,352.66 550.0,352.66 548.8,352.65 547.7,352.65 546.5,352.64 545.3,352.64 544.1,352.63 542.9,352.63 541.7,352.63 540.5,352.62 539.4,352.62 538.2,352.61 537.0,352.61 535.8,352.61 534.6,352.60 533.4,352.60 532.2,352.60 531.1,352.59 529.9,352.59 529.3,352.47"/><polygon points="533.9,364.18 535.1,364.18 536.2,364.18 537.4,364.17 538.6,364.17 539.8,364.17 541.0,364.16 542.1,364.16 543.3,364.15 544.5,364.15 545.7,364.14 546.9,364.14 548.1,364.13 549.2,364.13 550.4,364.12 551.6,364.12 552.8,364.11 554.0,364.11 555.2,364.10 556.3,364.10 557.5,364.09 558.7,364.08 559.9,364.08 561.1,364.07 562.2,364.07 563.4,364.06 564.6,364.05 565.8,364.04 567.0,364.04 568.2,364.03 569.3,364.02 570.5,364.01 571.7,364.01 572.9,364.00 574.1,363.99 575.2,363.98 576.4,363.97 577.6,363.96 578.8,363.95 580.0,363.94 581.2,363.93 582.3,363.92 583.5,363.91 584.7,363.90 585.9,363.89 587.1,363.88 588.2,363.86 589.4,363.85 590.6,363.84 591.8,363.83 593.0,363.81 594.2,363.80 595.3,363.79 596.5,363.77 597.7,363.76 598.9,363.74 600.1,363.73 601.3,363.71 602.4,363.69 603.6,363.68 604.8,363.66 606.0,363.64 607.2,363.62 608.3,363.61 609.5,363.59 610.7,363.57 611.9,363.55 613.1,363.53 614.3,363.51 615.4,363.48 616.6,363.46 617.8,363.44 619.0,363.41 620.2,363.39 621.3,363.36 622.5,363.34 623.7,363.31 624.9,363.29 626.1,363.26 627.3,363.23 628.4,363.20 629.6,363.17 630.8,363.14 632.0,363.11 633.2,363.08 634.3,363.04 635.5,363.01 636.7,362.97 637.9,362.94 639.1,362.90 640.3,362.86 641.4,362.82 642.6,362.78 643.8,362.74 645.0,362.70 646.2,362.65 647.4,362.61 648.5,362.56 649.7,362.52 650.9,362.47 652.1,362.42 653.3,362.37 654.4,362.32 655.6,362.26 656.8,362.21 658.0,362.15 659.2,362.09 660.4,362.03 661.5,361.97 662.7,361.97 663.9,361.97 665.1,361.93 666.3,361.80 667.4,361.60 668.6,361.52 669.8,361.52 671.0,361.52 672.2,361.52 672.7,361.52 673.0,361.52 673.2,361.52 673.5,361.52 673.7,361.53 674.0,361.54 674.2,361.57 674.5,361.62 674.7,361.71 675.0,361.84 675.2,362.05 675.5,362.43 675.5,366.21 675.2,366.58 675.0,366.80 674.7,366.93 674.5,367.02 674.2,367.07 674.0,367.10 673.7,367.11 673.5,367.11 673.2,367.11 673.0,367.11 672.7,367.11 672.2,367.11 671.0,367.11 669.8,367.11 668.6,367.11 667.4,367.04 666.3,366.84 665.1,366.71 663.9,366.67 662.7,366.67 661.5,366.67 660.4,366.61 659.2,366.55 658.0,366.49 656.8,366.43 655.6,366.38 654.4,366.32 653.3,366.27 652.1,366.22 650.9,366.17 649.7,366.12 648.5,366.07 647.4,366.03 646.2,365.98 645.0,365.94 643.8,365.90 642.6,365.86 641.4,365.82 640.3,365.78 639.1,365.74 637.9,365.70 636.7,365.67 635.5,365.63 634.3,365.60 633.2,365.56 632.0,365.53 630.8,365.50 629.6,365.47 628.4,365.44 627.3,365.41 626.1,365.38 624.9,365.35 623.7,365.33 622.5,365.30 621.3,365.27 620.2,365.25 619.0,365.22 617.8,365.20 616.6,365.18 615.4,365.15 614.3,365.13 613.1,365.11 611.9,365.09 610.7,365.07 609.5,365.05 608.3,365.03 607.2,365.01 606.0,365.00 604.8,364.98 603.6,364.96 602.4,364.94 601.3,364.93 600.1,364.91 598.9,364.90 597.7,364.88 596.5,364.87 595.3,364.85 594.2,364.84 593.0,364.82 591.8,364.81 590.6,364.80 589.4,364.79 588.2,364.77 587.1,364.76 585.9,364.75 584.7,364.74 583.5,364.73 582.3,364.72 581.2,364.71 580.0,364.70 578.8,364.69 577.6,364.68 576.4,364.67 575.2,364.66 574.1,364.65 572.9,364.64 571.7,364.63 570.5,364.62 569.3,364.62 568.2,364.61 567.0,364.60 565.8,364.59 564.6,364.59 563.4,364.58 562.2,364.57 561.1,364.57 559.9,364.56 558.7,364.55 557.5,364.55 556.3,364.54 555.2,364.54 554.0,364.53 552.8,364.52 551.6,364.52 550.4,364.51 549.2,364.51 548.1,364.50 546.9,364.50 545.7,364.49 544.5,364.49 543.3,364.49 542.1,364.48 541.0,364.48 539.8,364.47 538.6,364.47 537.4,364.46 536.2,364.46 535.1,364.46 533.9,364.45"/><polygon points="563.8,376.17 564.4,376.05 565.6,376.04 566.7,376.03 567.9,376.02 569.1,376.01 570.3,376.00 571.5,375.99 572.7,375.98 573.9,375.97 575.0,375.96 576.2,375.95 577.4,375.93 578.6,375.92 579.8,375.91 581.0,375.89 582.1,375.88 583.3,375.86 584.5,375.85 585.7,375.83 586.9,375.81 588.1,375.80 589.3,375.78 590.4,375.76 591.6,375.74 592.8,375.72 594.0,375.70 595.2,375.68 596.4,375.66 597.5,375.64 598.7,375.62 599.9,375.60 601.1,375.58 602.3,375.55 603.5,375.53 604.6,375.51 605.8,375.48 607.0,375.46 608.2,375.43 609.4,375.41 610.6,375.38 611.8,375.36 612.9,375.34 614.1,375.31 615.3,375.29 616.5,375.26 617.7,375.24 618.9,375.21 620.0,375.19 621.2,375.16 622.4,375.14 623.6,375.11 624.8,375.09 626.0,375.07 627.2,375.04 628.3,375.02 629.5,375.00 630.7,374.98 631.9,374.96 633.1,374.94 634.3,374.92 635.4,374.90 636.6,374.88 637.8,374.86 639.0,374.85 640.2,374.83 641.4,374.82 642.6,374.80 643.7,374.79 644.9,374.78 646.1,374.77 647.3,374.76 648.5,374.75 649.7,374.74 650.8,374.74 652.0,374.73 653.2,374.73 654.4,374.72 655.6,374.72 656.8,374.72 658.0,374.72 659.1,374.72 660.3,374.72 661.5,374.73 662.7,374.73 663.9,374.73 665.1,374.74 666.2,374.74 667.4,374.75 668.6,374.75 669.8,374.76 671.0,374.76 672.2,374.77 672.7,374.77 673.0,374.78 673.2,374.78 673.5,374.78 673.7,374.78 674.0,374.78 674.2,374.79 674.5,374.82 674.7,374.89 675.0,375.00 675.2,375.17 675.5,375.43 675.5,376.91 675.2,377.17 675.0,377.34 674.7,377.46 674.5,377.52 674.2,377.56 674.0,377.56 673.7,377.56 673.5,377.56 673.2,377.57 673.0,377.57 672.7,377.57 672.2,377.57 671.0,377.58 669.8,377.59 668.6,377.59 667.4,377.60 666.2,377.60 665.1,377.61 663.9,377.61 662.7,377.61 661.5,377.62 660.3,377.62 659.1,377.62 658.0,377.62 656.8,377.62 655.6,377.62 654.4,377.62 653.2,377.62 652.0,377.61 650.8,377.61 649.7,377.60 648.5,377.59 647.3,377.59 646.1,377.58 644.9,377.57 643.7,377.55 642.6,377.54 641.4,377.53 640.2,377.51 639.0,377.50 637.8,377.48 636.6,377.46 635.4,377.45 634.3,377.43 633.1,377.41 631.9,377.39 630.7,377.37 629.5,377.35 628.3,377.32 627.2,377.30 626.0,377.28 624.8,377.25 623.6,377.23 622.4,377.21 621.2,377.18 620.0,377.16 618.9,377.13 617.7,377.11 616.5,377.08 615.3,377.06 614.1,377.03 612.9,377.01 611.8,376.98 610.6,376.96 609.4,376.93 608.2,376.91 607.0,376.89 605.8,376.86 604.6,376.84 603.5,376.81 602.3,376.79 601.1,376.77 599.9,376.75 598.7,376.72 597.5,376.70 596.4,376.68 595.2,376.66 594.0,376.64 592.8,376.62 591.6,376.60 590.4,376.58 589.3,376.56 588.1,376.55 586.9,376.53 585.7,376.51 584.5,376.50 583.3,376.48 582.1,376.47 581.0,376.45 579.8,376.44 578.6,376.42 577.4,376.41 576.2,376.40 575.0,376.38 573.9,376.37 572.7,376.36 571.5,376.35 570.3,376.34 569.1,376.33 567.9,376.32 566.7,376.31 565.6,376.30 564.4,376.30 563.8,376.17"/><polygon points="561.1,388.02 561.7,387.90 562.9,387.90 564.1,387.89 565.2,387.88 566.4,387.87 567.6,387.86 568.8,387.85 570.0,387.84 571.2,387.83 572.4,387.82 573.6,387.81 574.7,387.79 575.9,387.78 577.1,387.77 578.3,387.75 579.5,387.74 580.7,387.73 581.9,387.71 583.1,387.69 584.2,387.68 585.4,387.66 586.6,387.64 587.8,387.62 589.0,387.61 590.2,387.59 591.4,387.57 592.6,387.55 593.8,387.53 594.9,387.51 596.1,387.48 597.3,387.46 598.5,387.44 599.7,387.42 600.9,387.39 602.1,387.37 603.3,387.35 604.4,387.32 605.6,387.30 606.8,387.27 608.0,387.25 609.2,387.23 610.4,387.20 611.6,387.18 612.8,387.15 613.9,387.13 615.1,387.10 616.3,387.08 617.5,387.05 618.7,387.03 619.9,387.00 621.1,386.98 622.3,386.95 623.4,386.93 624.6,386.91 625.8,386.88 627.0,386.86 628.2,386.84 629.4,386.82 630.6,386.80 631.8,386.78 633.0,386.76 634.1,386.74 635.3,386.72 636.5,386.71 637.7,386.69 638.9,386.67 640.1,386.66 641.3,386.65 642.5,386.64 643.6,386.62 644.8,386.61 646.0,386.61 647.2,386.60 648.4,386.59 649.6,386.59 650.8,386.58 652.0,386.58 653.1,386.58 654.3,386.58 655.5,386.58 656.7,386.58 657.9,386.58 659.1,386.58 660.3,386.58 661.5,386.59 662.7,386.59 663.8,386.60 665.0,386.61 666.2,386.61 667.4,386.62 668.6,386.63 669.8,386.64 671.0,386.65 672.2,386.66 672.7,386.67 673.0,386.67 673.2,386.67 673.5,386.68 673.7,386.68 674.0,386.68 674.2,386.69 674.5,386.72 674.7,386.79 675.0,386.90 675.2,387.06 675.5,387.31 675.5,388.74 675.2,388.99 675.0,389.15 674.7,389.26 674.5,389.33 674.2,389.36 674.0,389.37 673.7,389.37 673.5,389.37 673.2,389.38 673.0,389.38 672.7,389.38 672.2,389.39 671.0,389.40 669.8,389.41 668.6,389.42 667.4,389.43 666.2,389.44 665.0,389.44 663.8,389.45 662.7,389.46 661.5,389.46 660.3,389.47 659.1,389.47 657.9,389.47 656.7,389.47 655.5,389.47 654.3,389.47 653.1,389.47 652.0,389.47 650.8,389.47 649.6,389.46 648.4,389.46 647.2,389.45 646.0,389.44 644.8,389.44 643.6,389.43 642.5,389.41 641.3,389.40 640.1,389.39 638.9,389.38 637.7,389.36 636.5,389.34 635.3,389.33 634.1,389.31 633.0,389.29 631.8,389.27 630.6,389.25 629.4,389.23 628.2,389.21 627.0,389.19 625.8,389.17 624.6,389.14 623.4,389.12 622.3,389.10 621.1,389.07 619.9,389.05 618.7,389.02 617.5,389.00 616.3,388.97 615.1,388.95 613.9,388.92 612.8,388.90 611.6,388.87 610.4,388.85 609.2,388.82 608.0,388.80 606.8,388.78 605.6,388.75 604.4,388.73 603.3,388.70 602.1,388.68 600.9,388.66 599.7,388.63 598.5,388.61 597.3,388.59 596.1,388.57 594.9,388.54 593.8,388.52 592.6,388.50 591.4,388.48 590.2,388.46 589.0,388.44 587.8,388.43 586.6,388.41 585.4,388.39 584.2,388.37 583.1,388.36 581.9,388.34 580.7,388.32 579.5,388.31 578.3,388.30 577.1,388.28 575.9,388.27 574.7,388.26 573.6,388.24 572.4,388.23 571.2,388.22 570.0,388.21 568.8,388.20 567.6,388.19 566.4,388.18 565.2,388.17 564.1,388.16 562.9,388.15 561.7,388.15 561.1,388.02"/><polygon points="563.5,399.88 564.1,399.75 565.3,399.74 566.4,399.73 567.6,399.72 568.8,399.71 570.0,399.70 571.2,399.69 572.4,399.68 573.6,399.67 574.8,399.66 575.9,399.64 577.1,399.63 578.3,399.62 579.5,399.60 580.7,399.59 581.9,399.57 583.1,399.55 584.3,399.54 585.4,399.52 586.6,399.50 587.8,399.48 589.0,399.46 590.2,399.44 591.4,399.42 592.6,399.40 593.8,399.38 594.9,399.36 596.1,399.33 597.3,399.31 598.5,399.29 599.7,399.26 600.9,399.24 602.1,399.21 603.3,399.19 604.5,399.16 605.6,399.14 606.8,399.11 608.0,399.09 609.2,399.06 610.4,399.03 611.6,399.01 612.8,398.98 614.0,398.95 615.1,398.93 616.3,398.90 617.5,398.88 618.7,398.85 619.9,398.83 621.1,398.80 622.3,398.78 623.5,398.75 624.6,398.73 625.8,398.70 627.0,398.68 628.2,398.66 629.4,398.64 630.6,398.62 631.8,398.60 633.0,398.58 634.1,398.56 635.3,398.55 636.5,398.53 637.7,398.51 638.9,398.50 640.1,398.49 641.3,398.48 642.5,398.47 643.7,398.46 644.8,398.45 646.0,398.44 647.2,398.44 648.4,398.43 649.6,398.43 650.8,398.43 652.0,398.43 653.2,398.43 654.3,398.43 655.5,398.43 656.7,398.44 657.9,398.44 659.1,398.45 660.3,398.45 661.5,398.46 662.7,398.47 663.8,398.48 665.0,398.49 666.2,398.50 667.4,398.52 668.6,398.53 669.8,398.54 671.0,398.56 672.2,398.57 672.7,398.58 673.0,398.58 673.2,398.59 673.5,398.59 673.7,398.59 674.0,398.60 674.2,398.60 674.5,398.64 674.7,398.70 675.0,398.81 675.2,398.96 675.5,399.20 675.5,400.55 675.2,400.79 675.0,400.95 674.7,401.05 674.5,401.12 674.2,401.15 674.0,401.16 673.7,401.16 673.5,401.16 673.2,401.17 673.0,401.17 672.7,401.17 672.2,401.18 671.0,401.20 669.8,401.21 668.6,401.23 667.4,401.24 666.2,401.25 665.0,401.26 663.8,401.27 662.7,401.28 661.5,401.29 660.3,401.30 659.1,401.31 657.9,401.31 656.7,401.32 655.5,401.32 654.3,401.33 653.2,401.33 652.0,401.33 650.8,401.33 649.6,401.33 648.4,401.32 647.2,401.32 646.0,401.31 644.8,401.31 643.7,401.30 642.5,401.29 641.3,401.28 640.1,401.27 638.9,401.26 637.7,401.24 636.5,401.23 635.3,401.21 634.1,401.19 633.0,401.18 631.8,401.16 630.6,401.14 629.4,401.12 628.2,401.10 627.0,401.07 625.8,401.05 624.6,401.03 623.5,401.00 622.3,400.98 621.1,400.96 619.9,400.93 618.7,400.91 617.5,400.88 616.3,400.85 615.1,400.83 614.0,400.80 612.8,400.77 611.6,400.75 610.4,400.72 609.2,400.70 608.0,400.67 606.8,400.64 605.6,400.62 604.5,400.59 603.3,400.57 602.1,400.54 600.9,400.52 599.7,400.49 598.5,400.47 597.3,400.45 596.1,400.42 594.9,400.40 593.8,400.38 592.6,400.36 591.4,400.34 590.2,400.31 589.0,400.29 587.8,400.28 586.6,400.26 585.4,400.24 584.3,400.22 583.1,400.20 581.9,400.19 580.7,400.17 579.5,400.16 578.3,400.14 577.1,400.13 575.9,400.11 574.8,400.10 573.6,400.09 572.4,400.07 571.2,400.06 570.0,400.05 568.8,400.04 567.6,400.03 566.4,400.02 565.3,400.01 564.1,400.00 563.5,399.88"/><polygon points="559.2,411.73 559.8,411.60 560.9,411.59 562.1,411.58 563.3,411.57 564.5,411.56 565.7,411.54 566.9,411.53 568.0,411.51 569.2,411.50 570.4,411.48 571.6,411.46 572.8,411.44 574.0,411.42 575.1,411.40 576.3,411.38 577.5,411.36 578.7,411.34 579.9,411.31 581.1,411.29 582.2,411.26 583.4,411.23 584.6,411.21 585.8,411.18 587.0,411.15 588.2,411.12 589.3,411.09 590.5,411.06 591.7,411.03 592.9,410.99 594.1,410.96 595.3,410.93 596.4,410.90 597.6,410.86 598.8,410.83 600.0,410.79 601.2,410.76 602.4,410.73 603.5,410.69 604.7,410.66 605.9,410.63 607.1,410.59 608.3,410.56 609.5,410.53 610.6,410.50 611.8,410.47 613.0,410.44 614.2,410.41 615.4,410.39 616.6,410.36 617.7,410.34 618.9,410.31 620.1,410.29 621.3,410.27 622.5,410.26 623.7,410.24 624.8,410.23 626.0,410.21 627.2,410.20 628.4,410.20 629.6,410.19 630.8,410.18 631.9,410.18 633.1,410.18 634.3,410.18 635.5,410.19 636.7,410.19 637.9,410.20 639.0,410.21 640.2,410.22 641.4,410.23 642.6,410.24 643.8,410.26 645.0,410.27 646.1,410.29 647.3,410.31 648.5,410.33 649.7,410.35 650.9,410.38 652.1,410.40 653.2,410.43 654.4,410.45 655.6,410.48 656.8,410.51 658.0,410.54 659.2,410.57 660.3,410.60 661.5,410.63 662.7,410.66 663.9,410.69 665.1,410.72 666.3,410.76 667.4,410.79 668.6,410.82 669.8,410.85 671.0,410.88 672.2,410.92 672.7,410.93 673.0,410.94 673.2,410.94 673.5,410.95 673.7,410.96 674.0,410.96 674.2,410.97 674.5,411.00 674.7,411.04 675.0,411.10 675.2,411.20 675.5,411.34 675.5,412.12 675.2,412.26 675.0,412.36 674.7,412.42 674.5,412.47 674.2,412.49 674.0,412.50 673.7,412.50 673.5,412.51 673.2,412.52 673.0,412.52 672.7,412.53 672.2,412.55 671.0,412.58 669.8,412.61 668.6,412.64 667.4,412.67 666.3,412.71 665.1,412.74 663.9,412.77 662.7,412.80 661.5,412.83 660.3,412.86 659.2,412.89 658.0,412.92 656.8,412.95 655.6,412.98 654.4,413.01 653.2,413.03 652.1,413.06 650.9,413.08 649.7,413.11 648.5,413.13 647.3,413.15 646.1,413.17 645.0,413.19 643.8,413.21 642.6,413.22 641.4,413.23 640.2,413.25 639.0,413.26 637.9,413.26 636.7,413.27 635.5,413.28 634.3,413.28 633.1,413.28 631.9,413.28 630.8,413.28 629.6,413.27 628.4,413.27 627.2,413.26 626.0,413.25 624.8,413.24 623.7,413.22 622.5,413.21 621.3,413.19 620.1,413.17 618.9,413.15 617.7,413.13 616.6,413.10 615.4,413.08 614.2,413.05 613.0,413.02 611.8,412.99 610.6,412.96 609.5,412.93 608.3,412.90 607.1,412.87 605.9,412.84 604.7,412.80 603.5,412.77 602.4,412.74 601.2,412.70 600.0,412.67 598.8,412.63 597.6,412.60 596.4,412.57 595.3,412.53 594.1,412.50 592.9,412.47 591.7,412.44 590.5,412.40 589.3,412.37 588.2,412.34 587.0,412.31 585.8,412.28 584.6,412.25 583.4,412.23 582.2,412.20 581.1,412.17 579.9,412.15 578.7,412.13 577.5,412.10 576.3,412.08 575.1,412.06 574.0,412.04 572.8,412.02 571.6,412.00 570.4,411.98 569.2,411.97 568.0,411.95 566.9,411.93 565.7,411.92 564.5,411.91 563.3,411.89 562.1,411.88 560.9,411.87 559.8,411.86 559.2,411.73"/><polygon points="551.0,423.58 551.6,423.46 552.8,423.45 554.0,423.44 555.2,423.43 556.3,423.42 557.5,423.40 558.7,423.39 559.9,423.37 561.1,423.36 562.2,423.34 563.4,423.32 564.6,423.30 565.8,423.28 567.0,423.26 568.2,423.24 569.3,423.22 570.5,423.19 571.7,423.17 572.9,423.14 574.1,423.12 575.3,423.09 576.4,423.06 577.6,423.04 578.8,423.01 580.0,422.98 581.2,422.95 582.3,422.91 583.5,422.88 584.7,422.85 585.9,422.82 587.1,422.79 588.3,422.75 589.4,422.72 590.6,422.69 591.8,422.66 593.0,422.62 594.2,422.59 595.3,422.56 596.5,422.53 597.7,422.50 598.9,422.47 600.1,422.44 601.3,422.41 602.4,422.39 603.6,422.36 604.8,422.34 606.0,422.32 607.2,422.30 608.3,422.28 609.5,422.26 610.7,422.24 611.9,422.23 613.1,422.22 614.3,422.21 615.4,422.20 616.6,422.19 617.8,422.19 619.0,422.18 620.2,422.18 621.3,422.19 622.5,422.19 623.7,422.20 624.9,422.21 626.1,422.23 627.3,422.25 628.4,422.27 629.6,422.29 630.8,422.32 632.0,422.35 633.2,422.38 634.4,422.41 635.5,422.44 636.7,422.48 637.9,422.52 639.1,422.55 640.3,422.59 641.4,422.63 642.6,422.67 643.8,422.71 645.0,422.75 646.2,422.79 647.4,422.83 648.5,422.87 649.7,422.91 650.9,422.95 652.1,422.99 653.3,423.02 654.4,423.06 655.6,423.09 656.8,423.13 658.0,423.16 659.2,423.19 660.4,423.22 661.5,423.25 662.7,423.27 663.9,423.30 665.1,423.32 666.3,423.34 667.4,423.37 668.6,423.38 669.8,423.40 671.0,423.42 672.2,423.44 672.7,423.44 673.0,423.45 673.2,423.45 673.5,423.45 673.7,423.45 674.0,423.46 674.2,423.46 674.5,423.47 674.7,423.47 675.0,423.49 675.2,423.50 675.5,423.52 675.5,423.64 675.2,423.67 675.0,423.68 674.7,423.69 674.5,423.70 674.2,423.71 674.0,423.71 673.7,423.71 673.5,423.72 673.2,423.72 673.0,423.72 672.7,423.73 672.2,423.73 671.0,423.75 669.8,423.77 668.6,423.78 667.4,423.80 666.3,423.82 665.1,423.85 663.9,423.87 662.7,423.89 661.5,423.92 660.4,423.95 659.2,423.98 658.0,424.01 656.8,424.04 655.6,424.07 654.4,424.11 653.3,424.14 652.1,424.18 650.9,424.22 649.7,424.26 648.5,424.30 647.4,424.33 646.2,424.37 645.0,424.42 643.8,424.46 642.6,424.50 641.4,424.54 640.3,424.58 639.1,424.61 637.9,424.65 636.7,424.69 635.5,424.73 634.4,424.76 633.2,424.79 632.0,424.82 630.8,424.85 629.6,424.88 628.4,424.90 627.3,424.92 626.1,424.94 624.9,424.95 623.7,424.97 622.5,424.97 621.3,424.98 620.2,424.98 619.0,424.98 617.8,424.98 616.6,424.98 615.4,424.97 614.3,424.96 613.1,424.95 611.9,424.94 610.7,424.93 609.5,424.91 608.3,424.89 607.2,424.87 606.0,424.85 604.8,424.83 603.6,424.81 602.4,424.78 601.3,424.75 600.1,424.73 598.9,424.70 597.7,424.67 596.5,424.64 595.3,424.61 594.2,424.58 593.0,424.54 591.8,424.51 590.6,424.48 589.4,424.45 588.3,424.41 587.1,424.38 585.9,424.35 584.7,424.32 583.5,424.29 582.3,424.25 581.2,424.22 580.0,424.19 578.8,424.16 577.6,424.13 576.4,424.10 575.3,424.08 574.1,424.05 572.9,424.02 571.7,424.00 570.5,423.97 569.3,423.95 568.2,423.93 567.0,423.91 565.8,423.89 564.6,423.87 563.4,423.85 562.2,423.83 561.1,423.81 559.9,423.80 558.7,423.78 557.5,423.77 556.3,423.75 555.2,423.74 554.0,423.73 552.8,423.72 551.6,423.70 551.0,423.58"/><polygon points="547.4,435.44 548.0,435.31 549.2,435.30 550.4,435.29 551.6,435.28 552.7,435.26 553.9,435.25 555.1,435.23 556.3,435.22 557.5,435.20 558.7,435.18 559.8,435.16 561.0,435.14 562.2,435.12 563.4,435.10 564.6,435.08 565.8,435.05 566.9,435.03 568.1,435.00 569.3,434.97 570.5,434.95 571.7,434.92 572.8,434.89 574.0,434.86 575.2,434.83 576.4,434.79 577.6,434.76 578.8,434.73 579.9,434.70 581.1,434.66 582.3,434.63 583.5,434.60 584.7,434.56 585.9,434.53 587.0,434.49 588.2,434.46 589.4,434.43 590.6,434.40 591.8,434.37 592.9,434.33 594.1,434.30 595.3,434.28 596.5,434.25 597.7,434.22 598.9,434.20 600.0,434.17 601.2,434.15 602.4,434.13 603.6,434.11 604.8,434.10 606.0,434.08 607.1,434.07 608.3,434.06 609.5,434.05 610.7,434.04 611.9,434.04 613.0,434.04 614.2,434.04 615.4,434.04 616.6,434.05 617.8,434.06 619.0,434.07 620.1,434.09 621.3,434.10 622.5,434.13 623.7,434.15 624.9,434.18 626.1,434.21 627.2,434.24 628.4,434.27 629.6,434.30 630.8,434.34 632.0,434.38 633.2,434.41 634.3,434.45 635.5,434.49 636.7,434.53 637.9,434.57 639.1,434.61 640.2,434.65 641.4,434.69 642.6,434.73 643.8,434.77 645.0,434.81 646.2,434.85 647.3,434.89 648.5,434.92 649.7,434.95 650.9,434.99 652.1,435.02 653.3,435.05 654.4,435.08 655.6,435.11 656.8,435.13 658.0,435.16 659.2,435.18 660.3,435.20 661.5,435.22 662.7,435.24 663.9,435.26 665.1,435.28 666.3,435.29 667.4,435.31 668.6,435.32 669.8,435.33 671.0,435.34 672.2,435.35 672.7,435.36 673.0,435.36 673.2,435.36 673.5,435.36 673.7,435.36 674.0,435.37 674.2,435.37 674.5,435.37 674.7,435.38 675.0,435.38 675.6,435.44 675.6,435.44 675.0,435.49 674.7,435.50 674.5,435.50 674.2,435.51 674.0,435.51 673.7,435.51 673.5,435.51 673.2,435.51 673.0,435.52 672.7,435.52 672.2,435.52 671.0,435.53 669.8,435.54 668.6,435.56 667.4,435.57 666.3,435.58 665.1,435.60 663.9,435.61 662.7,435.63 661.5,435.65 660.3,435.67 659.2,435.69 658.0,435.72 656.8,435.74 655.6,435.77 654.4,435.80 653.3,435.82 652.1,435.85 650.9,435.89 649.7,435.92 648.5,435.95 647.3,435.99 646.2,436.02 645.0,436.06 643.8,436.10 642.6,436.14 641.4,436.18 640.2,436.22 639.1,436.26 637.9,436.30 636.7,436.34 635.5,436.38 634.3,436.42 633.2,436.46 632.0,436.50 630.8,436.54 629.6,436.57 628.4,436.61 627.2,436.64 626.1,436.67 624.9,436.70 623.7,436.72 622.5,436.75 621.3,436.77 620.1,436.79 619.0,436.80 617.8,436.82 616.6,436.83 615.4,436.83 614.2,436.84 613.0,436.84 611.9,436.83 610.7,436.83 609.5,436.82 608.3,436.82 607.1,436.81 606.0,436.79 604.8,436.78 603.6,436.76 602.4,436.74 601.2,436.72 600.0,436.70 598.9,436.68 597.7,436.65 596.5,436.63 595.3,436.60 594.1,436.57 592.9,436.54 591.8,436.51 590.6,436.48 589.4,436.45 588.2,436.41 587.0,436.38 585.9,436.35 584.7,436.31 583.5,436.28 582.3,436.24 581.1,436.21 579.9,436.18 578.8,436.14 577.6,436.11 576.4,436.08 575.2,436.05 574.0,436.02 572.8,435.99 571.7,435.96 570.5,435.93 569.3,435.90 568.1,435.87 566.9,435.85 565.8,435.82 564.6,435.80 563.4,435.78 562.2,435.75 561.0,435.73 559.8,435.71 558.7,435.69 557.5,435.67 556.3,435.66 555.1,435.64 553.9,435.63 552.7,435.61 551.6,435.60 550.4,435.58 549.2,435.57 548.0,435.56 547.4,435.44"/><polygon points="548.7,447.29 549.3,447.16 550.5,447.15 551.6,447.14 552.8,447.12 554.0,447.11 555.2,447.09 556.4,447.08 557.5,447.06 558.7,447.04 559.9,447.02 561.1,447.00 562.3,446.98 563.5,446.96 564.6,446.93 565.8,446.91 567.0,446.88 568.2,446.86 569.4,446.83 570.5,446.80 571.7,446.77 572.9,446.74 574.1,446.71 575.3,446.68 576.5,446.64 577.6,446.61 578.8,446.58 580.0,446.54 581.2,446.51 582.4,446.47 583.5,446.44 584.7,446.40 585.9,446.37 587.1,446.33 588.3,446.30 589.5,446.27 590.6,446.23 591.8,446.20 593.0,446.17 594.2,446.14 595.4,446.11 596.5,446.08 597.7,446.06 598.9,446.03 600.1,446.01 601.3,445.99 602.5,445.97 603.6,445.95 604.8,445.94 606.0,445.92 607.2,445.91 608.4,445.90 609.5,445.90 610.7,445.89 611.9,445.89 613.1,445.89 614.3,445.90 615.5,445.90 616.6,445.91 617.8,445.93 619.0,445.95 620.2,445.97 621.4,445.99 622.5,446.02 623.7,446.04 624.9,446.08 626.1,446.11 627.3,446.14 628.5,446.18 629.6,446.22 630.8,446.26 632.0,446.30 633.2,446.34 634.4,446.38 635.5,446.42 636.7,446.47 637.9,446.51 639.1,446.55 640.3,446.59 641.4,446.63 642.6,446.67 643.8,446.71 645.0,446.75 646.2,446.78 647.4,446.82 648.5,446.85 649.7,446.89 650.9,446.92 652.1,446.95 653.3,446.97 654.4,447.00 655.6,447.02 656.8,447.05 658.0,447.07 659.2,447.09 660.4,447.11 661.5,447.13 662.7,447.14 663.9,447.16 665.1,447.17 666.3,447.18 667.4,447.20 668.6,447.21 669.8,447.22 671.0,447.22 672.2,447.23 672.7,447.23 673.0,447.24 673.2,447.24 673.5,447.24 674.1,447.29 674.1,447.29 673.5,447.34 673.2,447.34 673.0,447.34 672.7,447.35 672.2,447.35 671.0,447.36 669.8,447.36 668.6,447.37 667.4,447.38 666.3,447.40 665.1,447.41 663.9,447.42 662.7,447.44 661.5,447.45 660.4,447.47 659.2,447.49 658.0,447.51 656.8,447.53 655.6,447.56 654.4,447.58 653.3,447.61 652.1,447.63 650.9,447.66 649.7,447.69 648.5,447.73 647.4,447.76 646.2,447.80 645.0,447.83 643.8,447.87 642.6,447.91 641.4,447.95 640.3,447.99 639.1,448.03 637.9,448.07 636.7,448.11 635.5,448.16 634.4,448.20 633.2,448.24 632.0,448.28 630.8,448.32 629.6,448.36 628.5,448.40 627.3,448.44 626.1,448.47 624.9,448.50 623.7,448.54 622.5,448.56 621.4,448.59 620.2,448.61 619.0,448.63 617.8,448.65 616.6,448.67 615.5,448.68 614.3,448.68 613.1,448.69 611.9,448.69 610.7,448.69 609.5,448.68 608.4,448.68 607.2,448.67 606.0,448.66 604.8,448.64 603.6,448.63 602.5,448.61 601.3,448.59 600.1,448.57 598.9,448.55 597.7,448.52 596.5,448.50 595.4,448.47 594.2,448.44 593.0,448.41 591.8,448.38 590.6,448.35 589.5,448.31 588.3,448.28 587.1,448.25 585.9,448.21 584.7,448.18 583.5,448.14 582.4,448.11 581.2,448.07 580.0,448.04 578.8,448.00 577.6,447.97 576.5,447.94 575.3,447.90 574.1,447.87 572.9,447.84 571.7,447.81 570.5,447.78 569.4,447.75 568.2,447.72 567.0,447.70 565.8,447.67 564.6,447.65 563.5,447.62 562.3,447.60 561.1,447.58 559.9,447.56 558.7,447.54 557.5,447.52 556.4,447.50 555.2,447.49 554.0,447.47 552.8,447.46 551.6,447.44 550.5,447.43 549.3,447.42 548.7,447.29"/><polygon points="545.5,459.14 546.1,459.02 547.3,459.01 548.5,459.00 549.7,458.98 550.9,458.97 552.1,458.95 553.3,458.94 554.5,458.92 555.6,458.90 556.8,458.88 558.0,458.86 559.2,458.84 560.4,458.82 561.6,458.79 562.8,458.77 564.0,458.74 565.2,458.71 566.3,458.69 567.5,458.66 568.7,458.63 569.9,458.60 571.1,458.56 572.3,458.53 573.5,458.50 574.7,458.46 575.9,458.43 577.0,458.39 578.2,458.36 579.4,458.32 580.6,458.29 581.8,458.25 583.0,458.21 584.2,458.18 585.4,458.14 586.6,458.11 587.7,458.07 588.9,458.04 590.1,458.00 591.3,457.97 592.5,457.94 593.7,457.91 594.9,457.88 596.1,457.86 597.3,457.83 598.4,457.81 599.6,457.79 600.8,457.77 602.0,457.75 603.2,457.73 604.4,457.72 605.6,457.71 606.8,457.70 608.0,457.70 609.1,457.69 610.3,457.69 611.5,457.70 612.7,457.70 613.9,457.71 615.1,457.72 616.3,457.74 617.5,457.76 618.7,457.78 619.8,457.81 621.0,457.84 622.2,457.87 623.4,457.90 624.6,457.94 625.8,457.98 627.0,458.02 628.2,458.06 629.4,458.10 630.5,458.14 631.7,458.18 632.9,458.23 634.1,458.27 635.3,458.32 636.5,458.36 637.7,458.40 638.9,458.45 640.1,458.49 641.2,458.53 642.4,458.57 643.6,458.61 644.8,458.64 646.0,458.68 647.2,458.71 648.4,458.75 649.6,458.78 650.8,458.81 651.9,458.83 653.1,458.86 654.3,458.89 655.5,458.91 656.7,458.93 657.9,458.95 659.1,458.97 660.3,458.99 661.5,459.00 662.6,459.02 663.8,459.03 665.0,459.04 666.2,459.05 667.4,459.06 668.6,459.07 669.8,459.08 671.0,459.09 671.6,459.14 671.6,459.14 671.0,459.20 669.8,459.21 668.6,459.21 667.4,459.22 666.2,459.23 665.0,459.24 663.8,459.26 662.6,459.27 661.5,459.28 660.3,459.30 659.1,459.32 657.9,459.34 656.7,459.36 655.5,459.38 654.3,459.40 653.1,459.43 651.9,459.45 650.8,459.48 649.6,459.51 648.4,459.54 647.2,459.57 646.0,459.61 644.8,459.64 643.6,459.68 642.4,459.72 641.2,459.76 640.1,459.80 638.9,459.84 637.7,459.88 636.5,459.93 635.3,459.97 634.1,460.01 632.9,460.06 631.7,460.10 630.5,460.14 629.4,460.19 628.2,460.23 627.0,460.27 625.8,460.31 624.6,460.35 623.4,460.38 622.2,460.42 621.0,460.45 619.8,460.48 618.7,460.50 617.5,460.52 616.3,460.54 615.1,460.56 613.9,460.57 612.7,460.58 611.5,460.59 610.3,460.59 609.1,460.59 608.0,460.59 606.8,460.58 605.6,460.58 604.4,460.56 603.2,460.55 602.0,460.54 600.8,460.52 599.6,460.50 598.4,460.48 597.3,460.46 596.1,460.43 594.9,460.40 593.7,460.38 592.5,460.35 591.3,460.32 590.1,460.28 588.9,460.25 587.7,460.22 586.6,460.18 585.4,460.15 584.2,460.11 583.0,460.07 581.8,460.04 580.6,460.00 579.4,459.96 578.2,459.93 577.0,459.89 575.9,459.86 574.7,459.82 573.5,459.79 572.3,459.75 571.1,459.72 569.9,459.69 568.7,459.66 567.5,459.63 566.3,459.60 565.2,459.57 564.0,459.54 562.8,459.52 561.6,459.49 560.4,459.47 559.2,459.45 558.0,459.42 556.8,459.40 555.6,459.38 554.5,459.37 553.3,459.35 552.1,459.33 550.9,459.32 549.7,459.30 548.5,459.29 547.3,459.28 546.1,459.27 545.5,459.14"/><polygon points="547.5,471.00 548.1,470.87 549.2,470.85 550.4,470.84 551.6,470.82 552.8,470.80 554.0,470.79 555.2,470.77 556.4,470.74 557.6,470.72 558.8,470.70 560.0,470.67 561.1,470.65 562.3,470.62 563.5,470.59 564.7,470.56 565.9,470.53 567.1,470.49 568.3,470.46 569.5,470.42 570.7,470.38 571.9,470.34 573.1,470.30 574.2,470.26 575.4,470.22 576.6,470.18 577.8,470.13 579.0,470.09 580.2,470.05 581.4,470.00 582.6,469.96 583.8,469.91 585.0,469.87 586.1,469.83 587.3,469.78 588.5,469.74 589.7,469.70 590.9,469.66 592.1,469.62 593.3,469.59 594.5,469.55 595.7,469.52 596.9,469.49 598.0,469.46 599.2,469.44 600.4,469.42 601.6,469.40 602.8,469.38 604.0,469.37 605.2,469.36 606.4,469.35 607.6,469.35 608.8,469.35 610.0,469.35 611.1,469.36 612.3,469.37 613.5,469.38 614.7,469.40 615.9,469.42 617.1,469.44 618.3,469.46 619.5,469.49 620.7,469.52 621.9,469.56 623.0,469.59 624.2,469.63 625.4,469.67 626.6,469.71 627.8,469.76 629.0,469.80 630.2,469.84 631.4,469.89 632.6,469.94 633.8,469.98 635.0,470.03 636.1,470.07 637.3,470.12 638.5,470.17 639.7,470.21 640.9,470.25 642.1,470.30 643.3,470.34 644.5,470.38 645.7,470.42 646.9,470.46 648.0,470.49 649.2,470.53 650.4,470.56 651.6,470.59 652.8,470.62 654.0,470.65 655.2,470.68 656.4,470.71 657.6,470.73 658.8,470.75 659.9,470.77 661.1,470.79 662.3,470.81 663.5,470.83 664.7,470.85 665.9,470.86 667.1,470.87 668.3,470.89 669.5,470.90 670.7,470.91 671.9,470.92 672.4,470.92 672.7,470.92 672.9,470.92 673.2,470.93 673.4,470.93 673.7,470.93 673.9,470.93 674.2,470.93 674.4,470.94 674.7,470.95 675.3,471.00 675.3,471.00 674.7,471.05 674.4,471.05 674.2,471.06 673.9,471.06 673.7,471.06 673.4,471.06 673.2,471.07 672.9,471.07 672.7,471.07 672.4,471.07 671.9,471.08 670.7,471.08 669.5,471.10 668.3,471.11 667.1,471.12 665.9,471.13 664.7,471.15 663.5,471.16 662.3,471.18 661.1,471.20 659.9,471.22 658.8,471.24 657.6,471.26 656.4,471.29 655.2,471.31 654.0,471.34 652.8,471.37 651.6,471.40 650.4,471.43 649.2,471.46 648.0,471.50 646.9,471.54 645.7,471.57 644.5,471.61 643.3,471.65 642.1,471.70 640.9,471.74 639.7,471.78 638.5,471.83 637.3,471.87 636.1,471.92 635.0,471.96 633.8,472.01 632.6,472.06 631.4,472.10 630.2,472.15 629.0,472.19 627.8,472.24 626.6,472.28 625.4,472.32 624.2,472.36 623.0,472.40 621.9,472.43 620.7,472.47 619.5,472.50 618.3,472.53 617.1,472.55 615.9,472.58 614.7,472.60 613.5,472.61 612.3,472.63 611.1,472.64 610.0,472.64 608.8,472.65 607.6,472.65 606.4,472.64 605.2,472.63 604.0,472.62 602.8,472.61 601.6,472.60 600.4,472.58 599.2,472.55 598.0,472.53 596.9,472.50 595.7,472.47 594.5,472.44 593.3,472.41 592.1,472.37 590.9,472.33 589.7,472.29 588.5,472.25 587.3,472.21 586.1,472.17 585.0,472.12 583.8,472.08 582.6,472.03 581.4,471.99 580.2,471.95 579.0,471.90 577.8,471.86 576.6,471.81 575.4,471.77 574.2,471.73 573.1,471.69 571.9,471.65 570.7,471.61 569.5,471.57 568.3,471.54 567.1,471.50 565.9,471.47 564.7,471.43 563.5,471.40 562.3,471.37 561.1,471.35 560.0,471.32 558.8,471.29 557.6,471.27 556.4,471.25 555.2,471.23 554.0,471.21 552.8,471.19 551.6,471.17 550.4,471.16 549.2,471.14 548.1,471.13 547.5,471.00"/><polygon points="546.9,482.85 547.5,482.72 548.7,482.71 549.9,482.69 551.1,482.68 552.2,482.66 553.4,482.64 554.6,482.62 555.8,482.60 557.0,482.58 558.2,482.55 559.4,482.53 560.5,482.50 561.7,482.47 562.9,482.44 564.1,482.41 565.3,482.38 566.5,482.34 567.7,482.30 568.8,482.27 570.0,482.23 571.2,482.19 572.4,482.14 573.6,482.10 574.8,482.06 576.0,482.01 577.1,481.96 578.3,481.92 579.5,481.87 580.7,481.82 581.9,481.77 583.1,481.73 584.3,481.68 585.4,481.63 586.6,481.58 587.8,481.54 589.0,481.49 590.2,481.45 591.4,481.40 592.6,481.36 593.7,481.32 594.9,481.28 596.1,481.25 597.3,481.21 598.5,481.18 599.7,481.16 600.9,481.13 602.0,481.11 603.2,481.09 604.4,481.08 605.6,481.06 606.8,481.06 608.0,481.05 609.2,481.05 610.3,481.05 611.5,481.06 612.7,481.07 613.9,481.08 615.1,481.10 616.3,481.12 617.5,481.14 618.7,481.17 619.8,481.20 621.0,481.23 622.2,481.27 623.4,481.31 624.6,481.35 625.8,481.39 627.0,481.43 628.1,481.48 629.3,481.53 630.5,481.58 631.7,481.62 632.9,481.67 634.1,481.72 635.3,481.77 636.4,481.82 637.6,481.87 638.8,481.92 640.0,481.97 641.2,482.02 642.4,482.07 643.6,482.11 644.7,482.16 645.9,482.20 647.1,482.24 648.3,482.28 649.5,482.32 650.7,482.36 651.9,482.39 653.0,482.43 654.2,482.46 655.4,482.49 656.6,482.52 657.8,482.55 659.0,482.57 660.2,482.60 661.3,482.62 662.5,482.64 663.7,482.66 664.9,482.68 666.1,482.69 667.3,482.71 668.5,482.72 669.6,482.74 670.8,482.75 672.0,482.76 672.6,482.76 672.8,482.76 673.1,482.77 673.3,482.77 673.6,482.77 673.8,482.77 674.1,482.77 674.3,482.78 674.6,482.78 674.8,482.79 675.4,482.85 675.4,482.85 674.8,482.91 674.6,482.92 674.3,482.92 674.1,482.92 673.8,482.93 673.6,482.93 673.3,482.93 673.1,482.93 672.8,482.93 672.6,482.94 672.0,482.94 670.8,482.95 669.6,482.96 668.5,482.98 667.3,482.99 666.1,483.01 664.9,483.02 663.7,483.04 662.5,483.06 661.3,483.08 660.2,483.10 659.0,483.13 657.8,483.15 656.6,483.18 655.4,483.21 654.2,483.24 653.0,483.27 651.9,483.30 650.7,483.34 649.5,483.38 648.3,483.41 647.1,483.46 645.9,483.50 644.7,483.54 643.6,483.58 642.4,483.63 641.2,483.68 640.0,483.73 638.8,483.77 637.6,483.82 636.4,483.87 635.3,483.92 634.1,483.97 632.9,484.02 631.7,484.07 630.5,484.12 629.3,484.17 628.1,484.22 627.0,484.26 625.8,484.31 624.6,484.35 623.4,484.39 622.2,484.43 621.0,484.47 619.8,484.50 618.7,484.53 617.5,484.56 616.3,484.58 615.1,484.60 613.9,484.62 612.7,484.63 611.5,484.64 610.3,484.65 609.2,484.65 608.0,484.65 606.8,484.64 605.6,484.63 604.4,484.62 603.2,484.61 602.0,484.59 600.9,484.57 599.7,484.54 598.5,484.51 597.3,484.48 596.1,484.45 594.9,484.41 593.7,484.38 592.6,484.34 591.4,484.30 590.2,484.25 589.0,484.21 587.8,484.16 586.6,484.12 585.4,484.07 584.3,484.02 583.1,483.97 581.9,483.92 580.7,483.88 579.5,483.83 578.3,483.78 577.1,483.73 576.0,483.69 574.8,483.64 573.6,483.60 572.4,483.55 571.2,483.51 570.0,483.47 568.8,483.43 567.7,483.39 566.5,483.36 565.3,483.32 564.1,483.29 562.9,483.26 561.7,483.23 560.5,483.20 559.4,483.17 558.2,483.14 557.0,483.12 555.8,483.10 554.6,483.08 553.4,483.06 552.2,483.04 551.1,483.02 549.9,483.01 548.7,482.99 547.5,482.98 546.9,482.85"/><polygon points="546.2,494.70 546.8,494.58 548.0,494.57 549.2,494.55 550.4,494.54 551.6,494.52 552.8,494.50 554.0,494.49 555.2,494.47 556.4,494.44 557.5,494.42 558.7,494.40 559.9,494.37 561.1,494.35 562.3,494.32 563.5,494.29 564.7,494.26 565.9,494.22 567.1,494.19 568.3,494.15 569.5,494.12 570.6,494.08 571.8,494.04 573.0,494.00 574.2,493.96 575.4,493.91 576.6,493.87 577.8,493.83 579.0,493.78 580.2,493.74 581.4,493.70 582.5,493.65 583.7,493.61 584.9,493.56 586.1,493.52 587.3,493.48 588.5,493.44 589.7,493.40 590.9,493.36 592.1,493.32 593.3,493.28 594.5,493.25 595.6,493.22 596.8,493.19 598.0,493.16 599.2,493.14 600.4,493.12 601.6,493.10 602.8,493.08 604.0,493.07 605.2,493.06 606.4,493.05 607.6,493.05 608.7,493.05 609.9,493.06 611.1,493.06 612.3,493.08 613.5,493.09 614.7,493.11 615.9,493.13 617.1,493.15 618.3,493.18 619.5,493.21 620.7,493.24 621.8,493.27 623.0,493.31 624.2,493.35 625.4,493.39 626.6,493.43 627.8,493.47 629.0,493.52 630.2,493.56 631.4,493.61 632.6,493.65 633.7,493.70 634.9,493.75 636.1,493.79 637.3,493.84 638.5,493.88 639.7,493.93 640.9,493.97 642.1,494.01 643.3,494.06 644.5,494.10 645.7,494.13 646.8,494.17 648.0,494.21 649.2,494.24 650.4,494.28 651.6,494.31 652.8,494.34 654.0,494.37 655.2,494.39 656.4,494.42 657.6,494.44 658.8,494.46 659.9,494.49 661.1,494.51 662.3,494.52 663.5,494.54 664.7,494.56 665.9,494.57 667.1,494.58 668.3,494.59 669.5,494.61 670.7,494.62 671.9,494.63 672.4,494.63 672.7,494.63 672.9,494.63 673.2,494.63 673.4,494.64 673.7,494.64 673.9,494.64 674.2,494.64 674.4,494.65 675.0,494.70 675.0,494.70 674.4,494.76 674.2,494.76 673.9,494.76 673.7,494.77 673.4,494.77 673.2,494.77 672.9,494.77 672.7,494.77 672.4,494.77 671.9,494.78 670.7,494.79 669.5,494.80 668.3,494.81 667.1,494.82 665.9,494.83 664.7,494.85 663.5,494.86 662.3,494.88 661.1,494.90 659.9,494.92 658.8,494.94 657.6,494.96 656.4,494.99 655.2,495.01 654.0,495.04 652.8,495.07 651.6,495.10 650.4,495.13 649.2,495.16 648.0,495.20 646.8,495.23 645.7,495.27 644.5,495.31 643.3,495.35 642.1,495.39 640.9,495.43 639.7,495.48 638.5,495.52 637.3,495.57 636.1,495.61 634.9,495.66 633.7,495.70 632.6,495.75 631.4,495.80 630.2,495.84 629.0,495.89 627.8,495.93 626.6,495.97 625.4,496.01 624.2,496.05 623.0,496.09 621.8,496.13 620.7,496.16 619.5,496.20 618.3,496.23 617.1,496.25 615.9,496.28 614.7,496.30 613.5,496.31 612.3,496.33 611.1,496.34 609.9,496.35 608.7,496.35 607.6,496.35 606.4,496.35 605.2,496.34 604.0,496.33 602.8,496.32 601.6,496.31 600.4,496.29 599.2,496.27 598.0,496.24 596.8,496.22 595.6,496.19 594.5,496.15 593.3,496.12 592.1,496.09 590.9,496.05 589.7,496.01 588.5,495.97 587.3,495.93 586.1,495.88 584.9,495.84 583.7,495.80 582.5,495.75 581.4,495.71 580.2,495.66 579.0,495.62 577.8,495.58 576.6,495.53 575.4,495.49 574.2,495.45 573.0,495.41 571.8,495.37 570.6,495.33 569.5,495.29 568.3,495.25 567.1,495.22 565.9,495.18 564.7,495.15 563.5,495.12 562.3,495.09 561.1,495.06 559.9,495.03 558.7,495.01 557.5,494.98 556.4,494.96 555.2,494.94 554.0,494.92 552.8,494.90 551.6,494.88 550.4,494.87 549.2,494.85 548.0,494.84 546.8,494.82 546.2,494.70"/><polygon points="536.2,506.56 536.8,506.43 537.9,506.42 539.1,506.40 540.3,506.39 541.5,506.37 542.7,506.35 543.9,506.33 545.1,506.31 546.2,506.29 547.4,506.26 548.6,506.23 549.8,506.21 551.0,506.18 552.2,506.15 553.3,506.11 554.5,506.08 555.7,506.04 556.9,506.00 558.1,505.97 559.3,505.92 560.5,505.88 561.6,505.84 562.8,505.79 564.0,505.75 565.2,505.70 566.4,505.66 567.6,505.61 568.8,505.56 569.9,505.51 571.1,505.46 572.3,505.41 573.5,505.36 574.7,505.32 575.9,505.27 577.1,505.22 578.2,505.18 579.4,505.14 580.6,505.09 581.8,505.06 583.0,505.02 584.2,504.98 585.3,504.95 586.5,504.92 587.7,504.90 588.9,504.87 590.1,504.85 591.3,504.84 592.5,504.82 593.6,504.81 594.8,504.81 596.0,504.81 597.2,504.81 598.4,504.81 599.6,504.82 600.8,504.84 601.9,504.85 603.1,504.87 604.3,504.90 605.5,504.93 606.7,504.96 607.9,504.99 609.1,505.03 610.2,505.07 611.4,505.11 612.6,505.15 613.8,505.20 615.0,505.24 616.2,505.29 617.3,505.34 618.5,505.39 619.7,505.44 620.9,505.49 622.1,505.54 623.3,505.59 624.5,505.64 625.6,505.69 626.8,505.74 628.0,505.79 629.2,505.84 630.4,505.88 631.6,505.93 632.8,505.97 633.9,506.01 635.1,506.05 636.3,506.08 637.5,506.12 638.7,506.15 639.9,506.19 641.1,506.22 642.2,506.24 643.4,506.27 644.6,506.30 645.8,506.32 647.0,506.34 648.2,506.36 649.3,506.38 650.5,506.40 651.7,506.41 652.9,506.43 654.1,506.44 655.3,506.45 656.5,506.46 657.6,506.47 658.8,506.48 660.0,506.49 661.2,506.50 661.8,506.56 661.8,506.56 661.2,506.61 660.0,506.62 658.8,506.63 657.6,506.64 656.5,506.65 655.3,506.66 654.1,506.67 652.9,506.68 651.7,506.70 650.5,506.71 649.3,506.73 648.2,506.75 647.0,506.77 645.8,506.79 644.6,506.81 643.4,506.84 642.2,506.87 641.1,506.89 639.9,506.92 638.7,506.96 637.5,506.99 636.3,507.03 635.1,507.06 633.9,507.10 632.8,507.14 631.6,507.18 630.4,507.23 629.2,507.27 628.0,507.32 626.8,507.37 625.6,507.42 624.5,507.47 623.3,507.52 622.1,507.57 620.9,507.62 619.7,507.67 618.5,507.72 617.3,507.77 616.2,507.82 615.0,507.87 613.8,507.91 612.6,507.96 611.4,508.00 610.2,508.04 609.1,508.08 607.9,508.12 606.7,508.15 605.5,508.18 604.3,508.21 603.1,508.24 601.9,508.26 600.8,508.27 599.6,508.29 598.4,508.30 597.2,508.30 596.0,508.30 594.8,508.30 593.6,508.30 592.5,508.29 591.3,508.27 590.1,508.26 588.9,508.24 587.7,508.21 586.5,508.19 585.3,508.16 584.2,508.13 583.0,508.09 581.8,508.05 580.6,508.02 579.4,507.97 578.2,507.93 577.1,507.89 575.9,507.84 574.7,507.79 573.5,507.75 572.3,507.70 571.1,507.65 569.9,507.60 568.8,507.55 567.6,507.50 566.4,507.45 565.2,507.41 564.0,507.36 562.8,507.32 561.6,507.27 560.5,507.23 559.3,507.19 558.1,507.14 556.9,507.11 555.7,507.07 554.5,507.03 553.3,507.00 552.2,506.96 551.0,506.93 549.8,506.90 548.6,506.88 547.4,506.85 546.2,506.82 545.1,506.80 543.9,506.78 542.7,506.76 541.5,506.74 540.3,506.72 539.1,506.71 537.9,506.69 536.8,506.68 536.2,506.56"/><polygon points="538.6,518.41 539.2,518.27 540.4,518.26 541.6,518.24 542.7,518.23 543.9,518.21 545.1,518.19 546.3,518.17 547.5,518.15 548.7,518.12 549.9,518.10 551.0,518.07 552.2,518.04 553.4,518.01 554.6,517.98 555.8,517.94 557.0,517.91 558.2,517.87 559.3,517.83 560.5,517.79 561.7,517.75 562.9,517.70 564.1,517.66 565.3,517.62 566.5,517.57 567.7,517.52 568.8,517.47 570.0,517.43 571.2,517.38 572.4,517.33 573.6,517.28 574.8,517.23 576.0,517.18 577.1,517.14 578.3,517.09 579.5,517.04 580.7,517.00 581.9,516.96 583.1,516.92 584.3,516.88 585.4,516.85 586.6,516.81 587.8,516.78 589.0,516.76 590.2,516.73 591.4,516.71 592.6,516.69 593.7,516.68 594.9,516.67 596.1,516.66 597.3,516.66 598.5,516.66 599.7,516.66 600.9,516.67 602.0,516.68 603.2,516.70 604.4,516.72 605.6,516.74 606.8,516.77 608.0,516.80 609.2,516.83 610.3,516.87 611.5,516.91 612.7,516.95 613.9,516.99 615.1,517.04 616.3,517.09 617.5,517.13 618.6,517.18 619.8,517.23 621.0,517.28 622.2,517.33 623.4,517.38 624.6,517.43 625.8,517.49 626.9,517.53 628.1,517.58 629.3,517.63 630.5,517.68 631.7,517.72 632.9,517.77 634.1,517.81 635.3,517.85 636.4,517.89 637.6,517.93 638.8,517.96 640.0,518.00 641.2,518.03 642.4,518.06 643.6,518.09 644.7,518.12 645.9,518.14 647.1,518.17 648.3,518.19 649.5,518.21 650.7,518.23 651.9,518.25 653.0,518.26 654.2,518.28 655.4,518.29 656.6,518.30 657.8,518.32 659.0,518.33 660.2,518.33 661.3,518.34 662.5,518.35 663.7,518.36 664.3,518.41 664.3,518.41 663.7,518.46 662.5,518.47 661.3,518.47 660.2,518.48 659.0,518.49 657.8,518.50 656.6,518.51 655.4,518.52 654.2,518.54 653.0,518.55 651.9,518.57 650.7,518.59 649.5,518.61 648.3,518.63 647.1,518.65 645.9,518.67 644.7,518.70 643.6,518.72 642.4,518.75 641.2,518.78 640.0,518.82 638.8,518.85 637.6,518.89 636.4,518.92 635.3,518.96 634.1,519.01 632.9,519.05 631.7,519.09 630.5,519.14 629.3,519.18 628.1,519.23 626.9,519.28 625.8,519.33 624.6,519.38 623.4,519.43 622.2,519.48 621.0,519.53 619.8,519.58 618.6,519.63 617.5,519.68 616.3,519.73 615.1,519.78 613.9,519.82 612.7,519.87 611.5,519.91 610.3,519.95 609.2,519.98 608.0,520.01 606.8,520.04 605.6,520.07 604.4,520.10 603.2,520.12 602.0,520.13 600.9,520.14 599.7,520.15 598.5,520.16 597.3,520.16 596.1,520.15 594.9,520.15 593.7,520.14 592.6,520.12 591.4,520.11 590.2,520.08 589.0,520.06 587.8,520.03 586.6,520.00 585.4,519.97 584.3,519.93 583.1,519.90 581.9,519.86 580.7,519.82 579.5,519.77 578.3,519.73 577.1,519.68 576.0,519.63 574.8,519.59 573.6,519.54 572.4,519.49 571.2,519.44 570.0,519.39 568.8,519.34 567.7,519.29 566.5,519.25 565.3,519.20 564.1,519.16 562.9,519.11 561.7,519.07 560.5,519.03 559.3,518.99 558.2,518.95 557.0,518.91 555.8,518.87 554.6,518.84 553.4,518.81 552.2,518.78 551.0,518.75 549.9,518.72 548.7,518.69 547.5,518.67 546.3,518.65 545.1,518.63 543.9,518.61 542.7,518.59 541.6,518.57 540.4,518.56 539.2,518.54 538.6,518.41"/><polygon points="535.0,530.26 535.6,530.13 536.8,530.12 538.0,530.11 539.2,530.09 540.4,530.07 541.6,530.05 542.8,530.03 544.0,530.01 545.2,529.99 546.4,529.96 547.6,529.94 548.7,529.91 549.9,529.88 551.1,529.85 552.3,529.81 553.5,529.78 554.7,529.74 555.9,529.70 557.1,529.67 558.3,529.63 559.5,529.58 560.7,529.54 561.8,529.50 563.0,529.45 564.2,529.41 565.4,529.36 566.6,529.31 567.8,529.26 569.0,529.22 570.2,529.17 571.4,529.12 572.6,529.07 573.8,529.03 574.9,528.98 576.1,528.94 577.3,528.90 578.5,528.86 579.7,528.82 580.9,528.78 582.1,528.75 583.3,528.71 584.5,528.68 585.7,528.66 586.9,528.63 588.0,528.61 589.2,528.60 590.4,528.58 591.6,528.57 592.8,528.56 594.0,528.56 595.2,528.56 596.4,528.57 597.6,528.57 598.8,528.59 600.0,528.60 601.1,528.62 602.3,528.65 603.5,528.67 604.7,528.70 605.9,528.73 607.1,528.77 608.3,528.81 609.5,528.85 610.7,528.89 611.9,528.93 613.1,528.98 614.2,529.03 615.4,529.07 616.6,529.12 617.8,529.17 619.0,529.22 620.2,529.27 621.4,529.32 622.6,529.37 623.8,529.42 625.0,529.46 626.2,529.51 627.3,529.56 628.5,529.60 629.7,529.64 630.9,529.69 632.1,529.73 633.3,529.76 634.5,529.80 635.7,529.84 636.9,529.87 638.1,529.90 639.3,529.93 640.4,529.96 641.6,529.98 642.8,530.01 644.0,530.03 645.2,530.05 646.4,530.07 647.6,530.09 648.8,530.11 650.0,530.12 651.2,530.14 652.3,530.15 653.5,530.16 654.7,530.17 655.9,530.18 657.1,530.19 658.3,530.20 659.5,530.21 660.1,530.26 660.1,530.26 659.5,530.32 658.3,530.32 657.1,530.33 655.9,530.34 654.7,530.35 653.5,530.36 652.3,530.37 651.2,530.39 650.0,530.40 648.8,530.41 647.6,530.43 646.4,530.45 645.2,530.47 644.0,530.49 642.8,530.51 641.6,530.54 640.4,530.56 639.3,530.59 638.1,530.62 636.9,530.65 635.7,530.69 634.5,530.72 633.3,530.76 632.1,530.80 630.9,530.84 629.7,530.88 628.5,530.92 627.3,530.97 626.2,531.01 625.0,531.06 623.8,531.10 622.6,531.15 621.4,531.20 620.2,531.25 619.0,531.30 617.8,531.35 616.6,531.40 615.4,531.45 614.2,531.50 613.1,531.54 611.9,531.59 610.7,531.63 609.5,531.67 608.3,531.72 607.1,531.75 605.9,531.79 604.7,531.82 603.5,531.85 602.3,531.88 601.1,531.90 600.0,531.92 598.8,531.94 597.6,531.95 596.4,531.96 595.2,531.96 594.0,531.96 592.8,531.96 591.6,531.95 590.4,531.94 589.2,531.93 588.0,531.91 586.9,531.89 585.7,531.87 584.5,531.84 583.3,531.81 582.1,531.78 580.9,531.74 579.7,531.71 578.5,531.67 577.3,531.63 576.1,531.58 574.9,531.54 573.8,531.49 572.6,531.45 571.4,531.40 570.2,531.35 569.0,531.31 567.8,531.26 566.6,531.21 565.4,531.16 564.2,531.12 563.0,531.07 561.8,531.03 560.7,530.98 559.5,530.94 558.3,530.90 557.1,530.86 555.9,530.82 554.7,530.78 553.5,530.74 552.3,530.71 551.1,530.68 549.9,530.64 548.7,530.61 547.6,530.59 546.4,530.56 545.2,530.54 544.0,530.51 542.8,530.49 541.6,530.47 540.4,530.45 539.2,530.43 538.0,530.42 536.8,530.40 535.6,530.39 535.0,530.26"/><polygon points="536.2,542.11 536.8,541.98 538.0,541.97 539.2,541.95 540.4,541.93 541.6,541.91 542.7,541.89 543.9,541.86 545.1,541.84 546.3,541.81 547.5,541.78 548.7,541.75 549.9,541.72 551.0,541.68 552.2,541.65 553.4,541.61 554.6,541.57 555.8,541.52 557.0,541.48 558.2,541.43 559.4,541.39 560.5,541.34 561.7,541.29 562.9,541.24 564.1,541.19 565.3,541.13 566.5,541.08 567.7,541.03 568.8,540.98 570.0,540.92 571.2,540.87 572.4,540.82 573.6,540.77 574.8,540.72 576.0,540.68 577.1,540.63 578.3,540.59 579.5,540.55 580.7,540.52 581.9,540.49 583.1,540.46 584.3,540.43 585.4,540.41 586.6,540.39 587.8,540.38 589.0,540.37 590.2,540.36 591.4,540.36 592.6,540.37 593.7,540.38 594.9,540.39 596.1,540.40 597.3,540.42 598.5,540.44 599.7,540.47 600.9,540.50 602.0,540.53 603.2,540.57 604.4,540.61 605.6,540.65 606.8,540.69 608.0,540.73 609.2,540.78 610.3,540.83 611.5,540.88 612.7,540.93 613.9,540.98 615.1,541.03 616.3,541.08 617.5,541.13 618.6,541.18 619.8,541.23 621.0,541.28 622.2,541.33 623.4,541.37 624.6,541.42 625.8,541.46 626.9,541.51 628.1,541.55 629.3,541.59 630.5,541.63 631.7,541.66 632.9,541.70 634.1,541.73 635.2,541.76 636.4,541.79 637.6,541.82 638.8,541.84 640.0,541.87 641.2,541.89 642.4,541.91 643.5,541.93 644.7,541.95 645.9,541.96 647.1,541.98 648.3,541.99 649.5,542.01 650.7,542.02 651.8,542.03 653.0,542.04 654.2,542.05 655.4,542.05 656.6,542.06 657.2,542.11 657.2,542.11 656.6,542.17 655.4,542.17 654.2,542.18 653.0,542.19 651.8,542.20 650.7,542.21 649.5,542.22 648.3,542.23 647.1,542.25 645.9,542.26 644.7,542.28 643.5,542.30 642.4,542.32 641.2,542.34 640.0,542.36 638.8,542.38 637.6,542.41 636.4,542.44 635.2,542.47 634.1,542.50 632.9,542.53 631.7,542.57 630.5,542.60 629.3,542.64 628.1,542.68 626.9,542.72 625.8,542.77 624.6,542.81 623.4,542.86 622.2,542.90 621.0,542.95 619.8,543.00 618.6,543.05 617.5,543.10 616.3,543.15 615.1,543.20 613.9,543.25 612.7,543.30 611.5,543.35 610.3,543.40 609.2,543.45 608.0,543.49 606.8,543.54 605.6,543.58 604.4,543.62 603.2,543.66 602.0,543.70 600.9,543.73 599.7,543.76 598.5,543.78 597.3,543.81 596.1,543.83 594.9,543.84 593.7,543.85 592.6,543.86 591.4,543.86 590.2,543.86 589.0,543.86 587.8,543.85 586.6,543.84 585.4,543.82 584.3,543.80 583.1,543.77 581.9,543.74 580.7,543.71 579.5,543.67 578.3,543.64 577.1,543.59 576.0,543.55 574.8,543.50 573.6,543.46 572.4,543.41 571.2,543.36 570.0,543.31 568.8,543.25 567.7,543.20 566.5,543.15 565.3,543.09 564.1,543.04 562.9,542.99 561.7,542.94 560.5,542.89 559.4,542.84 558.2,542.79 557.0,542.75 555.8,542.70 554.6,542.66 553.4,542.62 552.2,542.58 551.0,542.54 549.9,542.51 548.7,542.48 547.5,542.45 546.3,542.42 545.1,542.39 543.9,542.36 542.7,542.34 541.6,542.32 540.4,542.30 539.2,542.28 538.0,542.26 536.8,542.25 536.2,542.11"/><polygon points="536.2,553.97 536.8,553.84 538.0,553.82 539.1,553.81 540.3,553.79 541.5,553.77 542.7,553.74 543.9,553.72 545.1,553.69 546.3,553.66 547.5,553.63 548.7,553.60 549.8,553.56 551.0,553.53 552.2,553.49 553.4,553.45 554.6,553.40 555.8,553.36 557.0,553.31 558.2,553.26 559.4,553.21 560.5,553.15 561.7,553.10 562.9,553.04 564.1,552.99 565.3,552.93 566.5,552.88 567.7,552.82 568.9,552.76 570.1,552.71 571.2,552.65 572.4,552.60 573.6,552.55 574.8,552.50 576.0,552.45 577.2,552.40 578.4,552.36 579.6,552.32 580.8,552.29 582.0,552.26 583.1,552.23 584.3,552.21 585.5,552.19 586.7,552.18 587.9,552.17 589.1,552.17 590.3,552.17 591.5,552.17 592.7,552.18 593.8,552.20 595.0,552.22 596.2,552.24 597.4,552.27 598.6,552.30 599.8,552.33 601.0,552.37 602.2,552.41 603.4,552.46 604.5,552.50 605.7,552.55 606.9,552.60 608.1,552.65 609.3,552.70 610.5,552.76 611.7,552.81 612.9,552.86 614.1,552.92 615.2,552.97 616.4,553.03 617.6,553.08 618.8,553.13 620.0,553.18 621.2,553.23 622.4,553.28 623.6,553.33 624.8,553.37 625.9,553.42 627.1,553.46 628.3,553.50 629.5,553.54 630.7,553.57 631.9,553.60 633.1,553.64 634.3,553.67 635.5,553.69 636.7,553.72 637.8,553.74 639.0,553.76 640.2,553.78 641.4,553.80 642.6,553.82 643.8,553.84 645.0,553.85 646.2,553.86 647.4,553.88 648.5,553.89 649.7,553.90 650.9,553.90 652.1,553.91 652.7,553.97 652.7,553.97 652.1,554.02 650.9,554.03 649.7,554.04 648.5,554.05 647.4,554.06 646.2,554.07 645.0,554.08 643.8,554.10 642.6,554.11 641.4,554.13 640.2,554.15 639.0,554.17 637.8,554.19 636.7,554.22 635.5,554.24 634.3,554.27 633.1,554.30 631.9,554.33 630.7,554.36 629.5,554.40 628.3,554.44 627.1,554.48 625.9,554.52 624.8,554.56 623.6,554.61 622.4,554.65 621.2,554.70 620.0,554.75 618.8,554.80 617.6,554.85 616.4,554.91 615.2,554.96 614.1,555.01 612.9,555.07 611.7,555.12 610.5,555.18 609.3,555.23 608.1,555.28 606.9,555.34 605.7,555.39 604.5,555.43 603.4,555.48 602.2,555.52 601.0,555.56 599.8,555.60 598.6,555.63 597.4,555.67 596.2,555.69 595.0,555.72 593.8,555.73 592.7,555.75 591.5,555.76 590.3,555.77 589.1,555.77 587.9,555.76 586.7,555.76 585.5,555.74 584.3,555.72 583.1,555.70 582.0,555.68 580.8,555.65 579.6,555.61 578.4,555.57 577.2,555.53 576.0,555.49 574.8,555.44 573.6,555.39 572.4,555.34 571.2,555.28 570.1,555.23 568.9,555.17 567.7,555.12 566.5,555.06 565.3,555.00 564.1,554.95 562.9,554.89 561.7,554.83 560.5,554.78 559.4,554.73 558.2,554.68 557.0,554.63 555.8,554.58 554.6,554.53 553.4,554.49 552.2,554.45 551.0,554.41 549.8,554.37 548.7,554.33 547.5,554.30 546.3,554.27 545.1,554.24 543.9,554.22 542.7,554.19 541.5,554.17 540.3,554.15 539.1,554.13 538.0,554.11 536.8,554.09 536.2,553.97"/><polygon points="536.1,565.82 536.7,565.69 537.9,565.67 539.1,565.65 540.3,565.63 541.4,565.61 542.6,565.58 543.8,565.55 545.0,565.52 546.2,565.49 547.4,565.46 548.6,565.42 549.8,565.38 551.0,565.34 552.1,565.30 553.3,565.25 554.5,565.20 555.7,565.15 556.9,565.10 558.1,565.04 559.3,564.99 560.5,564.93 561.6,564.87 562.8,564.81 564.0,564.75 565.2,564.69 566.4,564.63 567.6,564.57 568.8,564.51 570.0,564.45 571.2,564.39 572.3,564.34 573.5,564.28 574.7,564.23 575.9,564.19 577.1,564.14 578.3,564.11 579.5,564.07 580.7,564.04 581.8,564.02 583.0,564.00 584.2,563.98 585.4,563.97 586.6,563.97 587.8,563.97 589.0,563.98 590.2,563.99 591.4,564.00 592.5,564.02 593.7,564.05 594.9,564.07 596.1,564.11 597.3,564.14 598.5,564.18 599.7,564.22 600.9,564.27 602.0,564.31 603.2,564.36 604.4,564.41 605.6,564.47 606.8,564.52 608.0,564.57 609.2,564.63 610.4,564.69 611.6,564.74 612.7,564.80 613.9,564.85 615.1,564.91 616.3,564.96 617.5,565.01 618.7,565.07 619.9,565.12 621.1,565.16 622.2,565.21 623.4,565.25 624.6,565.30 625.8,565.34 627.0,565.38 628.2,565.41 629.4,565.45 630.6,565.48 631.8,565.51 632.9,565.54 634.1,565.56 635.3,565.59 636.5,565.61 637.7,565.63 638.9,565.65 640.1,565.67 641.3,565.68 642.4,565.70 643.6,565.71 644.8,565.73 646.0,565.74 647.2,565.75 648.4,565.75 649.6,565.76 650.8,565.77 651.4,565.82 651.4,565.82 650.8,565.87 649.6,565.88 648.4,565.89 647.2,565.89 646.0,565.90 644.8,565.91 643.6,565.93 642.4,565.94 641.3,565.96 640.1,565.97 638.9,565.99 637.7,566.01 636.5,566.03 635.3,566.05 634.1,566.08 632.9,566.10 631.8,566.13 630.6,566.16 629.4,566.19 628.2,566.23 627.0,566.26 625.8,566.30 624.6,566.34 623.4,566.39 622.2,566.43 621.1,566.48 619.9,566.52 618.7,566.57 617.5,566.63 616.3,566.68 615.1,566.73 613.9,566.79 612.7,566.84 611.6,566.90 610.4,566.95 609.2,567.01 608.0,567.07 606.8,567.12 605.6,567.17 604.4,567.23 603.2,567.28 602.0,567.33 600.9,567.37 599.7,567.42 598.5,567.46 597.3,567.50 596.1,567.53 594.9,567.57 593.7,567.59 592.5,567.62 591.4,567.64 590.2,567.65 589.0,567.66 587.8,567.67 586.6,567.67 585.4,567.67 584.2,567.66 583.0,567.64 581.8,567.62 580.7,567.60 579.5,567.57 578.3,567.53 577.1,567.50 575.9,567.45 574.7,567.41 573.5,567.36 572.3,567.30 571.2,567.25 570.0,567.19 568.8,567.13 567.6,567.07 566.4,567.01 565.2,566.95 564.0,566.89 562.8,566.83 561.6,566.77 560.5,566.71 559.3,566.65 558.1,566.60 556.9,566.54 555.7,566.49 554.5,566.44 553.3,566.39 552.1,566.34 551.0,566.30 549.8,566.26 548.6,566.22 547.4,566.18 546.2,566.15 545.0,566.12 543.8,566.09 542.6,566.06 541.4,566.03 540.3,566.01 539.1,565.99 537.9,565.97 536.7,565.95 536.1,565.82"/><polygon points="535.6,577.67 536.2,577.55 537.4,577.53 538.6,577.51 539.8,577.49 541.0,577.47 542.2,577.44 543.4,577.42 544.5,577.39 545.7,577.36 546.9,577.33 548.1,577.29 549.3,577.25 550.5,577.21 551.7,577.17 552.8,577.12 554.0,577.07 555.2,577.02 556.4,576.97 557.6,576.92 558.8,576.86 560.0,576.81 561.1,576.75 562.3,576.69 563.5,576.63 564.7,576.57 565.9,576.51 567.1,576.44 568.3,576.38 569.4,576.33 570.6,576.27 571.8,576.21 573.0,576.16 574.2,576.11 575.4,576.06 576.5,576.02 577.7,575.98 578.9,575.94 580.1,575.91 581.3,575.88 582.5,575.86 583.7,575.84 584.8,575.83 586.0,575.82 587.2,575.82 588.4,575.83 589.6,575.84 590.8,575.85 592.0,575.87 593.1,575.89 594.3,575.91 595.5,575.94 596.7,575.98 597.9,576.01 599.1,576.05 600.3,576.10 601.4,576.14 602.6,576.19 603.8,576.24 605.0,576.29 606.2,576.34 607.4,576.40 608.6,576.45 609.7,576.51 610.9,576.57 612.1,576.62 613.3,576.68 614.5,576.73 615.7,576.79 616.9,576.84 618.0,576.89 619.2,576.94 620.4,576.99 621.6,577.04 622.8,577.08 624.0,577.13 625.2,577.17 626.3,577.21 627.5,577.24 628.7,577.28 629.9,577.31 631.1,577.34 632.3,577.37 633.4,577.40 634.6,577.43 635.8,577.45 637.0,577.47 638.2,577.49 639.4,577.51 640.6,577.53 641.7,577.54 642.9,577.56 644.1,577.57 645.3,577.58 646.5,577.59 647.7,577.60 648.9,577.61 650.0,577.62 650.6,577.67 650.6,577.67 650.0,577.73 648.9,577.73 647.7,577.74 646.5,577.75 645.3,577.76 644.1,577.77 642.9,577.79 641.7,577.80 640.6,577.82 639.4,577.83 638.2,577.85 637.0,577.87 635.8,577.89 634.6,577.92 633.4,577.94 632.3,577.97 631.1,578.00 629.9,578.03 628.7,578.07 627.5,578.10 626.3,578.14 625.2,578.18 624.0,578.22 622.8,578.26 621.6,578.31 620.4,578.36 619.2,578.40 618.0,578.46 616.9,578.51 615.7,578.56 614.5,578.61 613.3,578.67 612.1,578.72 610.9,578.78 609.7,578.84 608.6,578.89 607.4,578.95 606.2,579.00 605.0,579.05 603.8,579.11 602.6,579.16 601.4,579.20 600.3,579.25 599.1,579.29 597.9,579.33 596.7,579.37 595.5,579.40 594.3,579.43 593.1,579.46 592.0,579.48 590.8,579.50 589.6,579.51 588.4,579.52 587.2,579.52 586.0,579.52 584.8,579.52 583.7,579.50 582.5,579.49 581.3,579.46 580.1,579.44 578.9,579.41 577.7,579.37 576.5,579.33 575.4,579.29 574.2,579.24 573.0,579.19 571.8,579.13 570.6,579.08 569.4,579.02 568.3,578.96 567.1,578.90 565.9,578.84 564.7,578.78 563.5,578.72 562.3,578.66 561.1,578.60 560.0,578.54 558.8,578.48 557.6,578.43 556.4,578.37 555.2,578.32 554.0,578.27 552.8,578.22 551.7,578.18 550.5,578.13 549.3,578.09 548.1,578.06 546.9,578.02 545.7,577.99 544.5,577.96 543.4,577.93 542.2,577.90 541.0,577.88 539.8,577.85 538.6,577.83 537.4,577.82 536.2,577.80 535.6,577.67"/><polygon points="544.7,589.53 545.3,589.40 546.5,589.38 547.6,589.36 548.8,589.34 550.0,589.32 551.2,589.29 552.4,589.27 553.5,589.24 554.7,589.21 555.9,589.18 557.1,589.14 558.3,589.11 559.4,589.07 560.6,589.03 561.8,588.98 563.0,588.94 564.2,588.89 565.4,588.84 566.5,588.79 567.7,588.74 568.9,588.68 570.1,588.63 571.3,588.57 572.4,588.52 573.6,588.46 574.8,588.41 576.0,588.35 577.2,588.30 578.3,588.24 579.5,588.19 580.7,588.14 581.9,588.10 583.1,588.05 584.3,588.01 585.4,587.97 586.6,587.94 587.8,587.91 589.0,587.88 590.2,587.86 591.3,587.85 592.5,587.83 593.7,587.83 594.9,587.83 596.1,587.83 597.3,587.84 598.4,587.85 599.6,587.86 600.8,587.88 602.0,587.90 603.2,587.93 604.3,587.96 605.5,587.99 606.7,588.03 607.9,588.07 609.1,588.11 610.2,588.15 611.4,588.20 612.6,588.24 613.8,588.29 615.0,588.34 616.2,588.39 617.3,588.44 618.5,588.49 619.7,588.55 620.9,588.60 622.1,588.65 623.2,588.70 624.4,588.75 625.6,588.79 626.8,588.84 628.0,588.88 629.1,588.93 630.3,588.97 631.5,589.01 632.7,589.05 633.9,589.09 635.1,589.12 636.2,589.15 637.4,589.19 638.6,589.22 639.8,589.24 641.0,589.27 642.1,589.29 643.3,589.31 644.5,589.34 645.7,589.35 646.9,589.37 648.1,589.39 649.2,589.40 650.4,589.42 651.6,589.43 652.8,589.44 654.0,589.45 655.1,589.46 656.3,589.47 657.5,589.47 658.1,589.53 658.1,589.53 657.5,589.58 656.3,589.59 655.1,589.59 654.0,589.60 652.8,589.61 651.6,589.62 650.4,589.64 649.2,589.65 648.1,589.66 646.9,589.68 645.7,589.70 644.5,589.72 643.3,589.74 642.1,589.76 641.0,589.78 639.8,589.81 638.6,589.84 637.4,589.87 636.2,589.90 635.1,589.93 633.9,589.97 632.7,590.00 631.5,590.04 630.3,590.08 629.1,590.12 628.0,590.17 626.8,590.21 625.6,590.26 624.4,590.31 623.2,590.36 622.1,590.41 620.9,590.46 619.7,590.51 618.5,590.56 617.3,590.61 616.2,590.66 615.0,590.71 613.8,590.76 612.6,590.81 611.4,590.86 610.2,590.90 609.1,590.94 607.9,590.99 606.7,591.02 605.5,591.06 604.3,591.09 603.2,591.12 602.0,591.15 600.8,591.17 599.6,591.19 598.4,591.21 597.3,591.22 596.1,591.22 594.9,591.23 593.7,591.22 592.5,591.22 591.3,591.21 590.2,591.19 589.0,591.17 587.8,591.14 586.6,591.11 585.4,591.08 584.3,591.04 583.1,591.00 581.9,590.96 580.7,590.91 579.5,590.86 578.3,590.81 577.2,590.76 576.0,590.70 574.8,590.65 573.6,590.59 572.4,590.53 571.3,590.48 570.1,590.42 568.9,590.37 567.7,590.32 566.5,590.26 565.4,590.21 564.2,590.16 563.0,590.12 561.8,590.07 560.6,590.03 559.4,589.99 558.3,589.95 557.1,589.91 555.9,589.87 554.7,589.84 553.5,589.81 552.4,589.78 551.2,589.76 550.0,589.73 548.8,589.71 547.6,589.69 546.5,589.67 545.3,589.66 544.7,589.53"/><polygon points="540.5,601.38 541.1,601.26 542.3,601.24 543.5,601.21 544.7,601.19 545.9,601.16 547.1,601.13 548.3,601.09 549.4,601.05 550.6,601.00 551.8,600.95 553.0,600.90 554.2,600.84 555.4,600.78 556.6,600.72 557.8,600.65 559.0,600.57 560.2,600.50 561.3,600.42 562.5,600.33 563.7,600.25 564.9,600.16 566.1,600.08 567.3,599.99 568.5,599.90 569.7,599.82 570.9,599.74 572.0,599.66 573.2,599.58 574.4,599.52 575.6,599.45 576.8,599.40 578.0,599.35 579.2,599.30 580.4,599.27 581.6,599.25 582.8,599.23 583.9,599.23 585.1,599.23 586.3,599.24 587.5,599.25 588.7,599.27 589.9,599.30 591.1,599.33 592.3,599.37 593.5,599.41 594.6,599.45 595.8,599.50 597.0,599.55 598.2,599.61 599.4,599.67 600.6,599.73 601.8,599.79 603.0,599.86 604.2,599.93 605.3,599.99 606.5,600.06 607.7,600.13 608.9,600.20 610.1,600.26 611.3,600.33 612.5,600.40 613.7,600.46 614.9,600.52 616.1,600.58 617.2,600.64 618.4,600.69 619.6,600.75 620.8,600.80 622.0,600.84 623.2,600.89 624.4,600.93 625.6,600.97 626.8,601.01 627.9,601.04 629.1,601.08 630.3,601.11 631.5,601.13 632.7,601.16 633.9,601.18 635.1,601.20 636.3,601.22 637.5,601.24 638.7,601.26 639.8,601.27 641.0,601.29 642.2,601.30 643.4,601.31 644.6,601.32 645.8,601.32 646.4,601.38 646.4,601.38 645.8,601.43 644.6,601.44 643.4,601.45 642.2,601.46 641.0,601.47 639.8,601.49 638.7,601.50 637.5,601.52 636.3,601.53 635.1,601.55 633.9,601.57 632.7,601.60 631.5,601.62 630.3,601.65 629.1,601.68 627.9,601.71 626.8,601.75 625.6,601.79 624.4,601.83 623.2,601.87 622.0,601.91 620.8,601.96 619.6,602.01 618.4,602.07 617.2,602.12 616.1,602.18 614.9,602.24 613.7,602.30 612.5,602.36 611.3,602.43 610.1,602.49 608.9,602.56 607.7,602.63 606.5,602.70 605.3,602.76 604.2,602.83 603.0,602.90 601.8,602.96 600.6,603.03 599.4,603.09 598.2,603.15 597.0,603.20 595.8,603.26 594.6,603.31 593.5,603.35 592.3,603.39 591.1,603.43 589.9,603.46 588.7,603.48 587.5,603.50 586.3,603.52 585.1,603.53 583.9,603.53 582.8,603.52 581.6,603.51 580.4,603.49 579.2,603.45 578.0,603.41 576.8,603.36 575.6,603.31 574.4,603.24 573.2,603.17 572.0,603.10 570.9,603.02 569.7,602.94 568.5,602.85 567.3,602.77 566.1,602.68 564.9,602.60 563.7,602.51 562.5,602.42 561.3,602.34 560.2,602.26 559.0,602.19 557.8,602.11 556.6,602.04 555.4,601.98 554.2,601.91 553.0,601.86 551.8,601.80 550.6,601.76 549.4,601.71 548.3,601.67 547.1,601.63 545.9,601.60 544.7,601.57 543.5,601.54 542.3,601.52 541.1,601.50 540.5,601.38"/><polygon points="542.5,613.23 543.1,613.10 544.3,613.07 545.5,613.05 546.6,613.02 547.8,612.98 549.0,612.94 550.2,612.90 551.4,612.85 552.6,612.80 553.7,612.74 554.9,612.68 556.1,612.61 557.3,612.54 558.5,612.47 559.7,612.39 560.8,612.30 562.0,612.22 563.2,612.13 564.4,612.03 565.6,611.94 566.7,611.85 567.9,611.75 569.1,611.66 570.3,611.57 571.5,611.49 572.7,611.41 573.8,611.33 575.0,611.26 576.2,611.20 577.4,611.15 578.6,611.11 579.8,611.07 580.9,611.05 582.1,611.03 583.3,611.03 584.5,611.04 585.7,611.05 586.8,611.07 588.0,611.09 589.2,611.12 590.4,611.16 591.6,611.20 592.8,611.24 593.9,611.29 595.1,611.35 596.3,611.41 597.5,611.47 598.7,611.53 599.9,611.60 601.0,611.67 602.2,611.74 603.4,611.81 604.6,611.89 605.8,611.96 607.0,612.03 608.1,612.10 609.3,612.17 610.5,612.24 611.7,612.31 612.9,612.37 614.0,612.43 615.2,612.49 616.4,612.55 617.6,612.61 618.8,612.66 620.0,612.71 621.1,612.76 622.3,612.80 623.5,612.84 624.7,612.88 625.9,612.91 627.1,612.95 628.2,612.98 629.4,613.00 630.6,613.03 631.8,613.05 633.0,613.07 634.1,613.09 635.3,613.11 636.5,613.12 637.7,613.14 638.9,613.15 640.1,613.16 641.2,613.17 642.4,613.18 643.0,613.23 643.0,613.23 642.4,613.29 641.2,613.29 640.1,613.30 638.9,613.31 637.7,613.33 636.5,613.34 635.3,613.36 634.1,613.37 633.0,613.39 631.8,613.41 630.6,613.43 629.4,613.46 628.2,613.49 627.1,613.52 625.9,613.55 624.7,613.59 623.5,613.62 622.3,613.66 621.1,613.71 620.0,613.75 618.8,613.80 617.6,613.86 616.4,613.91 615.2,613.97 614.0,614.03 612.9,614.09 611.7,614.16 610.5,614.22 609.3,614.29 608.1,614.36 607.0,614.43 605.8,614.51 604.6,614.58 603.4,614.65 602.2,614.72 601.0,614.79 599.9,614.86 598.7,614.93 597.5,614.99 596.3,615.06 595.1,615.12 593.9,615.17 592.8,615.22 591.6,615.27 590.4,615.31 589.2,615.34 588.0,615.37 586.8,615.40 585.7,615.42 584.5,615.43 583.3,615.43 582.1,615.43 580.9,615.42 579.8,615.39 578.6,615.36 577.4,615.31 576.2,615.26 575.0,615.20 573.8,615.13 572.7,615.06 571.5,614.98 570.3,614.89 569.1,614.80 567.9,614.71 566.7,614.62 565.6,614.52 564.4,614.43 563.2,614.34 562.0,614.25 560.8,614.16 559.7,614.08 558.5,614.00 557.3,613.92 556.1,613.85 554.9,613.78 553.7,613.72 552.6,613.66 551.4,613.61 550.2,613.56 549.0,613.52 547.8,613.48 546.6,613.45 545.5,613.42 544.3,613.39 543.1,613.37 542.5,613.23"/><polygon points="538.6,625.09 539.2,624.95 540.4,624.93 541.6,624.90 542.8,624.87 544.0,624.84 545.2,624.80 546.4,624.75 547.5,624.71 548.7,624.65 549.9,624.60 551.1,624.53 552.3,624.47 553.5,624.39 554.7,624.32 555.8,624.24 557.0,624.15 558.2,624.07 559.4,623.98 560.6,623.88 561.8,623.79 563.0,623.70 564.2,623.60 565.3,623.51 566.5,623.42 567.7,623.34 568.9,623.26 570.1,623.18 571.3,623.11 572.5,623.05 573.7,623.00 574.8,622.96 576.0,622.92 577.2,622.90 578.4,622.89 579.6,622.89 580.8,622.89 582.0,622.90 583.1,622.92 584.3,622.95 585.5,622.98 586.7,623.01 587.9,623.06 589.1,623.10 590.3,623.15 591.5,623.21 592.6,623.27 593.8,623.33 595.0,623.40 596.2,623.46 597.4,623.53 598.6,623.61 599.8,623.68 601.0,623.75 602.1,623.82 603.3,623.90 604.5,623.97 605.7,624.04 606.9,624.11 608.1,624.17 609.3,624.24 610.5,624.30 611.6,624.36 612.8,624.42 614.0,624.47 615.2,624.52 616.4,624.57 617.6,624.62 618.8,624.66 619.9,624.70 621.1,624.74 622.3,624.77 623.5,624.81 624.7,624.84 625.9,624.86 627.1,624.89 628.3,624.91 629.4,624.93 630.6,624.95 631.8,624.97 633.0,624.98 634.2,624.99 635.4,625.01 636.6,625.02 637.8,625.03 638.9,625.03 639.5,625.09 639.5,625.09 638.9,625.14 637.8,625.14 636.6,625.15 635.4,625.16 634.2,625.18 633.0,625.19 631.8,625.20 630.6,625.22 629.4,625.24 628.3,625.26 627.1,625.28 625.9,625.31 624.7,625.33 623.5,625.36 622.3,625.40 621.1,625.43 619.9,625.47 618.8,625.51 617.6,625.55 616.4,625.60 615.2,625.65 614.0,625.70 612.8,625.75 611.6,625.81 610.5,625.87 609.3,625.93 608.1,626.00 606.9,626.06 605.7,626.13 604.5,626.20 603.3,626.27 602.1,626.35 601.0,626.42 599.8,626.49 598.6,626.56 597.4,626.64 596.2,626.71 595.0,626.77 593.8,626.84 592.6,626.90 591.5,626.96 590.3,627.02 589.1,627.07 587.9,627.11 586.7,627.16 585.5,627.19 584.3,627.22 583.1,627.25 582.0,627.27 580.8,627.28 579.6,627.28 578.4,627.28 577.2,627.27 576.0,627.25 574.8,627.21 573.7,627.17 572.5,627.12 571.3,627.06 570.1,626.99 568.9,626.91 567.7,626.83 566.5,626.75 565.3,626.66 564.2,626.57 563.0,626.47 561.8,626.38 560.6,626.29 559.4,626.19 558.2,626.10 557.0,626.02 555.8,625.93 554.7,625.85 553.5,625.78 552.3,625.70 551.1,625.64 549.9,625.57 548.7,625.52 547.5,625.46 546.4,625.42 545.2,625.37 544.0,625.33 542.8,625.30 541.6,625.27 540.4,625.24 539.2,625.22 538.6,625.09"/><polygon points="528.0,636.94 528.6,636.82 529.8,636.79 531.0,636.77 532.2,636.74 533.4,636.71 534.6,636.67 535.8,636.63 536.9,636.58 538.1,636.53 539.3,636.48 540.5,636.42 541.7,636.35 542.9,636.28 544.1,636.21 545.3,636.13 546.5,636.05 547.7,635.96 548.9,635.87 550.1,635.78 551.2,635.69 552.4,635.59 553.6,635.50 554.8,635.40 556.0,635.31 557.2,635.23 558.4,635.14 559.6,635.06 560.8,634.99 562.0,634.93 563.2,634.87 564.3,634.82 565.5,634.79 566.7,634.76 567.9,634.74 569.1,634.74 570.3,634.74 571.5,634.75 572.7,634.77 573.9,634.79 575.1,634.82 576.3,634.85 577.5,634.89 578.6,634.94 579.8,634.99 581.0,635.04 582.2,635.10 583.4,635.16 584.6,635.23 585.8,635.29 587.0,635.36 588.2,635.43 589.4,635.51 590.6,635.58 591.7,635.65 592.9,635.73 594.1,635.80 595.3,635.87 596.5,635.94 597.7,636.00 598.9,636.07 600.1,636.13 601.3,636.20 602.5,636.25 603.7,636.31 604.9,636.36 606.0,636.41 607.2,636.46 608.4,636.50 609.6,636.54 610.8,636.58 612.0,636.62 613.2,636.65 614.4,636.68 615.6,636.71 616.8,636.74 618.0,636.76 619.1,636.78 620.3,636.80 621.5,636.82 622.7,636.83 623.9,636.84 625.1,636.86 626.3,636.87 627.5,636.88 628.7,636.88 629.3,636.94 629.3,636.94 628.7,636.99 627.5,637.00 626.3,637.01 625.1,637.02 623.9,637.03 622.7,637.05 621.5,637.06 620.3,637.08 619.1,637.10 618.0,637.12 616.8,637.14 615.6,637.17 614.4,637.19 613.2,637.22 612.0,637.26 610.8,637.29 609.6,637.33 608.4,637.37 607.2,637.42 606.0,637.46 604.9,637.51 603.7,637.57 602.5,637.62 601.3,637.68 600.1,637.74 598.9,637.81 597.7,637.87 596.5,637.94 595.3,638.01 594.1,638.08 592.9,638.15 591.7,638.22 590.6,638.30 589.4,638.37 588.2,638.44 587.0,638.51 585.8,638.58 584.6,638.65 583.4,638.71 582.2,638.78 581.0,638.83 579.8,638.89 578.6,638.94 577.5,638.98 576.3,639.02 575.1,639.06 573.9,639.09 572.7,639.11 571.5,639.13 570.3,639.13 569.1,639.14 567.9,639.13 566.7,639.12 565.5,639.09 564.3,639.05 563.2,639.00 562.0,638.95 560.8,638.88 559.6,638.81 558.4,638.73 557.2,638.65 556.0,638.56 554.8,638.47 553.6,638.38 552.4,638.29 551.2,638.19 550.1,638.10 548.9,638.01 547.7,637.92 546.5,637.83 545.3,637.75 544.1,637.67 542.9,637.59 541.7,637.52 540.5,637.46 539.3,637.40 538.1,637.34 536.9,637.29 535.8,637.25 534.6,637.21 533.4,637.17 532.2,637.14 531.0,637.11 529.8,637.08 528.6,637.06 528.0,636.94"/><polygon points="533.9,648.79 534.5,648.65 535.7,648.62 536.9,648.58 538.0,648.54 539.2,648.49 540.4,648.43 541.6,648.36 542.7,648.29 543.9,648.21 545.1,648.11 546.3,648.02 547.4,647.91 548.6,647.80 549.8,647.68 551.0,647.56 552.2,647.44 553.3,647.32 554.5,647.20 555.7,647.09 556.9,646.98 558.0,646.88 559.2,646.79 560.4,646.72 561.6,646.66 562.8,646.62 563.9,646.60 565.1,646.59 566.3,646.60 567.5,646.62 568.6,646.65 569.8,646.69 571.0,646.74 572.2,646.80 573.3,646.87 574.5,646.94 575.7,647.02 576.9,647.11 578.1,647.20 579.2,647.29 580.4,647.39 581.6,647.48 582.8,647.58 583.9,647.67 585.1,647.77 586.3,647.86 587.5,647.94 588.7,648.03 589.8,648.10 591.0,648.18 592.2,648.24 593.4,648.31 594.5,648.37 595.7,648.42 596.9,648.47 598.1,648.51 599.3,648.55 600.4,648.58 601.6,648.61 602.8,648.64 604.0,648.66 605.1,648.68 606.3,648.70 607.5,648.72 608.7,648.73 609.8,648.74 610.4,648.79 610.4,648.79 609.8,648.84 608.7,648.85 607.5,648.87 606.3,648.88 605.1,648.90 604.0,648.92 602.8,648.94 601.6,648.97 600.4,649.00 599.3,649.03 598.1,649.07 596.9,649.12 595.7,649.16 594.5,649.22 593.4,649.27 592.2,649.34 591.0,649.41 589.8,649.48 588.7,649.56 587.5,649.64 586.3,649.73 585.1,649.81 583.9,649.91 582.8,650.00 581.6,650.10 580.4,650.19 579.2,650.29 578.1,650.38 576.9,650.47 575.7,650.56 574.5,650.64 573.3,650.72 572.2,650.78 571.0,650.84 569.8,650.89 568.6,650.93 567.5,650.96 566.3,650.98 565.1,650.99 563.9,650.98 562.8,650.96 561.6,650.92 560.4,650.86 559.2,650.79 558.0,650.70 556.9,650.60 555.7,650.50 554.5,650.38 553.3,650.26 552.2,650.14 551.0,650.02 549.8,649.90 548.6,649.78 547.4,649.67 546.3,649.57 545.1,649.47 543.9,649.38 542.7,649.29 541.6,649.22 540.4,649.15 539.2,649.09 538.0,649.04 536.9,649.00 535.7,648.96 534.5,648.93 533.9,648.79"/></g>
<g fill="rgb(82,111,57)" fill-opacity="0.7"><rect x="545.37" y="88.40" width="79.26" height="5.8"/><rect x="564.44" y="100.25" width="61.96" height="5.8"/><rect x="546.17" y="112.11" width="59.10" height="5.8"/><rect x="572.46" y="123.96" width="40.28" height="5.8"/><rect x="561.61" y="135.81" width="46.35" height="5.8"/><rect x="551.65" y="147.66" width="47.95" height="5.8"/><rect x="546.87" y="159.52" width="58.70" height="5.8"/><rect x="522.84" y="171.37" width="71.38" height="5.8"/><rect x="526.60" y="183.22" width="71.60" height="5.8"/><rect x="537.06" y="195.08" width="57.85" height="5.8"/><rect x="552.20" y="206.93" width="45.01" height="5.8"/><rect x="517.14" y="218.78" width="69.55" height="5.8"/><rect x="477.51" y="230.64" width="118.35" height="5.8"/><rect x="533.03" y="242.49" width="65.47" height="5.8"/><rect x="529.19" y="254.34" width="57.80" height="5.8"/><rect x="544.58" y="266.19" width="42.42" height="5.8"/><rect x="525.72" y="278.05" width="59.24" height="5.8"/><rect x="542.49" y="289.90" width="47.15" height="5.8"/><rect x="546.20" y="301.75" width="43.88" height="5.8"/><rect x="551.55" y="313.61" width="22.90" height="5.8"/><rect x="541.04" y="325.46" width="42.77" height="5.8"/><rect x="539.10" y="337.31" width="33.11" height="5.8"/><rect x="527.50" y="349.17" width="51.78" height="5.8"/><rect x="533.87" y="361.02" width="39.13" height="5.8"/><rect x="511.07" y="372.87" width="61.14" height="5.8"/><rect x="530.79" y="384.72" width="44.96" height="5.8"/><rect x="526.06" y="396.58" width="46.95" height="5.8"/><rect x="508.88" y="408.43" width="59.50" height="5.8"/><rect x="520.88" y="420.28" width="48.65" height="5.8"/><rect x="529.09" y="432.14" width="37.69" height="5.8"/><rect x="528.00" y="443.99" width="32.66" height="5.8"/><rect x="508.08" y="455.84" width="48.74" height="5.8"/><rect x="493.30" y="467.70" width="60.78" height="5.8"/><rect x="505.99" y="479.55" width="52.83" height="5.8"/><rect x="521.82" y="491.40" width="34.06" height="5.8"/><rect x="500.02" y="503.25" width="52.43" height="5.8"/><rect x="517.84" y="515.11" width="29.92" height="5.8"/><rect x="488.02" y="526.96" width="60.34" height="5.8"/><rect x="505.99" y="538.81" width="42.72" height="5.8"/><rect x="507.04" y="550.67" width="38.79" height="5.8"/><rect x="518.87" y="562.52" width="25.76" height="5.8"/><rect x="497.13" y="574.37" width="45.34" height="5.8"/><rect x="527.55" y="586.23" width="24.35" height="5.8"/><rect x="484.04" y="598.08" width="55.46" height="5.8"/><rect x="520.63" y="609.93" width="23.60" height="5.8"/><rect x="498.87" y="621.79" width="34.75" height="5.8"/><rect x="484.53" y="633.64" width="44.31" height="5.8"/><rect x="506.24" y="645.49" width="22.45" height="5.8"/></g>
<g stroke="#000" stroke-width="1.5"><line x1="667.01" y1="85.75" x2="667.01" y2="97.65"/><line x1="667.85" y1="97.60" x2="667.85" y2="109.50"/><line x1="666.10" y1="109.46" x2="666.10" y2="121.36"/><line x1="666.56" y1="121.31" x2="666.56" y2="133.21"/><line x1="664.32" y1="133.16" x2="664.32" y2="145.06"/><line x1="664.72" y1="145.02" x2="664.72" y2="156.91"/><line x1="664.72" y1="156.87" x2="664.72" y2="168.77"/><line x1="661.13" y1="168.72" x2="661.13" y2="180.62"/><line x1="660.34" y1="180.57" x2="660.34" y2="192.47"/><line x1="660.58" y1="192.43" x2="660.58" y2="204.33"/><line x1="658.99" y1="204.28" x2="658.99" y2="216.18"/><line x1="659.39" y1="216.13" x2="659.39" y2="228.03"/><line x1="658.34" y1="227.99" x2="658.34" y2="239.89"/><line x1="659.94" y1="239.84" x2="659.94" y2="251.74"/><line x1="656.60" y1="251.69" x2="656.60" y2="263.59"/><line x1="656.50" y1="263.55" x2="656.50" y2="275.44"/><line x1="651.82" y1="275.40" x2="651.82" y2="287.30"/><line x1="653.71" y1="287.25" x2="653.71" y2="299.15"/><line x1="650.48" y1="299.10" x2="650.48" y2="311.00"/><line x1="640.02" y1="310.96" x2="640.02" y2="322.86"/><line x1="647.99" y1="322.81" x2="647.99" y2="334.71"/><line x1="636.44" y1="334.66" x2="636.44" y2="346.56"/><line x1="639.58" y1="346.52" x2="639.58" y2="358.42"/><line x1="637.60" y1="358.37" x2="637.60" y2="370.27"/><line x1="635.54" y1="370.22" x2="635.54" y2="382.12"/><line x1="634.75" y1="382.07" x2="634.75" y2="393.97"/><line x1="634.75" y1="393.93" x2="634.75" y2="405.83"/><line x1="628.72" y1="405.78" x2="628.72" y2="417.68"/><line x1="624.64" y1="417.63" x2="624.64" y2="429.53"/><line x1="618.46" y1="429.49" x2="618.46" y2="441.39"/><line x1="617.17" y1="441.34" x2="617.17" y2="453.24"/><line x1="615.03" y1="453.19" x2="615.03" y2="465.09"/><line x1="612.29" y1="465.05" x2="612.29" y2="476.95"/><line x1="613.04" y1="476.90" x2="613.04" y2="488.80"/><line x1="611.94" y1="488.75" x2="611.94" y2="500.65"/><line x1="600.09" y1="500.61" x2="600.09" y2="512.50"/><line x1="601.68" y1="512.46" x2="601.68" y2="524.36"/><line x1="597.41" y1="524.31" x2="597.41" y2="536.21"/><line x1="593.87" y1="536.16" x2="593.87" y2="548.06"/><line x1="592.28" y1="548.02" x2="592.28" y2="559.92"/><line x1="589.79" y1="559.87" x2="589.79" y2="571.77"/><line x1="589.79" y1="571.72" x2="589.79" y2="583.62"/><line x1="598.70" y1="583.58" x2="598.70" y2="595.48"/><line x1="584.96" y1="595.43" x2="584.96" y2="607.33"/><line x1="583.96" y1="607.28" x2="583.96" y2="619.18"/><line x1="581.12" y1="619.13" x2="581.12" y2="631.04"/><line x1="571.12" y1="630.99" x2="571.12" y2="642.89"/><line x1="563.90" y1="642.84" x2="563.90" y2="654.74"/></g>
<g><circle cx="579.56" cy="91.70" r="5.15" fill="#ff0000"/><circle cx="582.30" cy="103.55" r="5.15" fill="#ff0000"/><circle cx="628.70" cy="115.41" r="5.15" fill="#8b0000"/><circle cx="590.61" cy="127.26" r="5.15" fill="#ff0000"/><circle cx="633.63" cy="139.11" r="5.15" fill="#8b0000"/><circle cx="616.50" cy="150.97" r="5.15" fill="#8b0000"/><circle cx="529.47" cy="162.82" r="5.15" fill="#ff0000"/><circle cx="527.63" cy="174.67" r="5.15" fill="#ff0000"/><circle cx="590.61" cy="186.52" r="5.15" fill="#ff0000"/><circle cx="633.38" cy="198.38" r="5.15" fill="#8b0000"/><circle cx="628.10" cy="210.23" r="5.15" fill="#8b0000"/><circle cx="620.58" cy="222.08" r="5.15" fill="#8b0000"/><circle cx="540.03" cy="233.94" r="5.15" fill="#ff0000"/><circle cx="511.55" cy="245.79" r="5.15" fill="#ff0000"/><circle cx="583.49" cy="257.64" r="5.15" fill="#ff0000"/><circle cx="609.03" cy="269.50" r="5.15" fill="#8b0000"/><circle cx="527.73" cy="281.35" r="5.15" fill="#ff0000"/><circle cx="594.60" cy="293.20" r="5.15" fill="#ff0000"/><circle cx="509.76" cy="305.05" r="5.15" fill="#ff0000"/><circle cx="528.53" cy="316.91" r="5.15" fill="#ff0000"/><circle cx="515.18" cy="328.76" r="5.15" fill="#ff0000"/><circle cx="578.41" cy="340.61" r="5.15" fill="#ff0000"/><circle cx="500.74" cy="352.47" r="5.15" fill="#ff0000"/><circle cx="539.68" cy="364.32" r="5.15" fill="#ff0000"/><circle cx="553.37" cy="376.17" r="5.15" fill="#ff0000"/><circle cx="511.10" cy="388.02" r="5.15" fill="#ff0000"/><circle cx="515.43" cy="399.88" r="5.15" fill="#ff0000"/><circle cx="495.72" cy="411.73" r="5.15" fill="#ff0000"/><circle cx="487.30" cy="423.58" r="5.15" fill="#ff0000"/><circle cx="517.72" cy="435.44" r="5.15" fill="#ff0000"/><circle cx="568.61" cy="447.29" r="5.15" fill="#ff0000"/><circle cx="536.79" cy="459.14" r="5.15" fill="#ff0000"/><circle cx="554.17" cy="471.00" r="5.15" fill="#ff0000"/><circle cx="537.49" cy="482.85" r="5.15" fill="#ff0000"/><circle cx="503.88" cy="494.70" r="5.15" fill="#ff0000"/><circle cx="533.40" cy="506.56" r="5.15" fill="#ff0000"/><circle cx="582.30" cy="518.41" r="5.15" fill="#ff0000"/><circle cx="613.61" cy="530.26" r="5.15" fill="#006400"/><circle cx="520.86" cy="542.11" r="5.15" fill="#00ff00"/><circle cx="523.15" cy="553.97" r="5.15" fill="#00ff00"/><circle cx="514.78" cy="565.82" r="5.15" fill="#00ff00"/><circle cx="541.27" cy="577.67" r="5.15" fill="#00ff00"/><circle cx="495.42" cy="589.53" r="5.15" fill="#ff0000"/><circle cx="618.24" cy="601.38" r="5.15" fill="#006400"/><circle cx="507.81" cy="613.23" r="5.15" fill="#00ff00"/><circle cx="548.59" cy="625.09" r="5.15" fill="#00ff00"/><circle cx="574.08" cy="636.94" r="5.15" fill="#00ff00"/><circle cx="534.70" cy="648.79" r="5.15" fill="#00ff00"/></g>
<line x1="598.29" y1="56.8" x2="598.29" y2="63.3" stroke="#1515ff" stroke-width="1.1"/>
<line x1="598.29" y1="63.3" x2="598.29" y2="677.5" stroke="#0000ff" stroke-width="2.3"/>
</svg>
</body></html>
